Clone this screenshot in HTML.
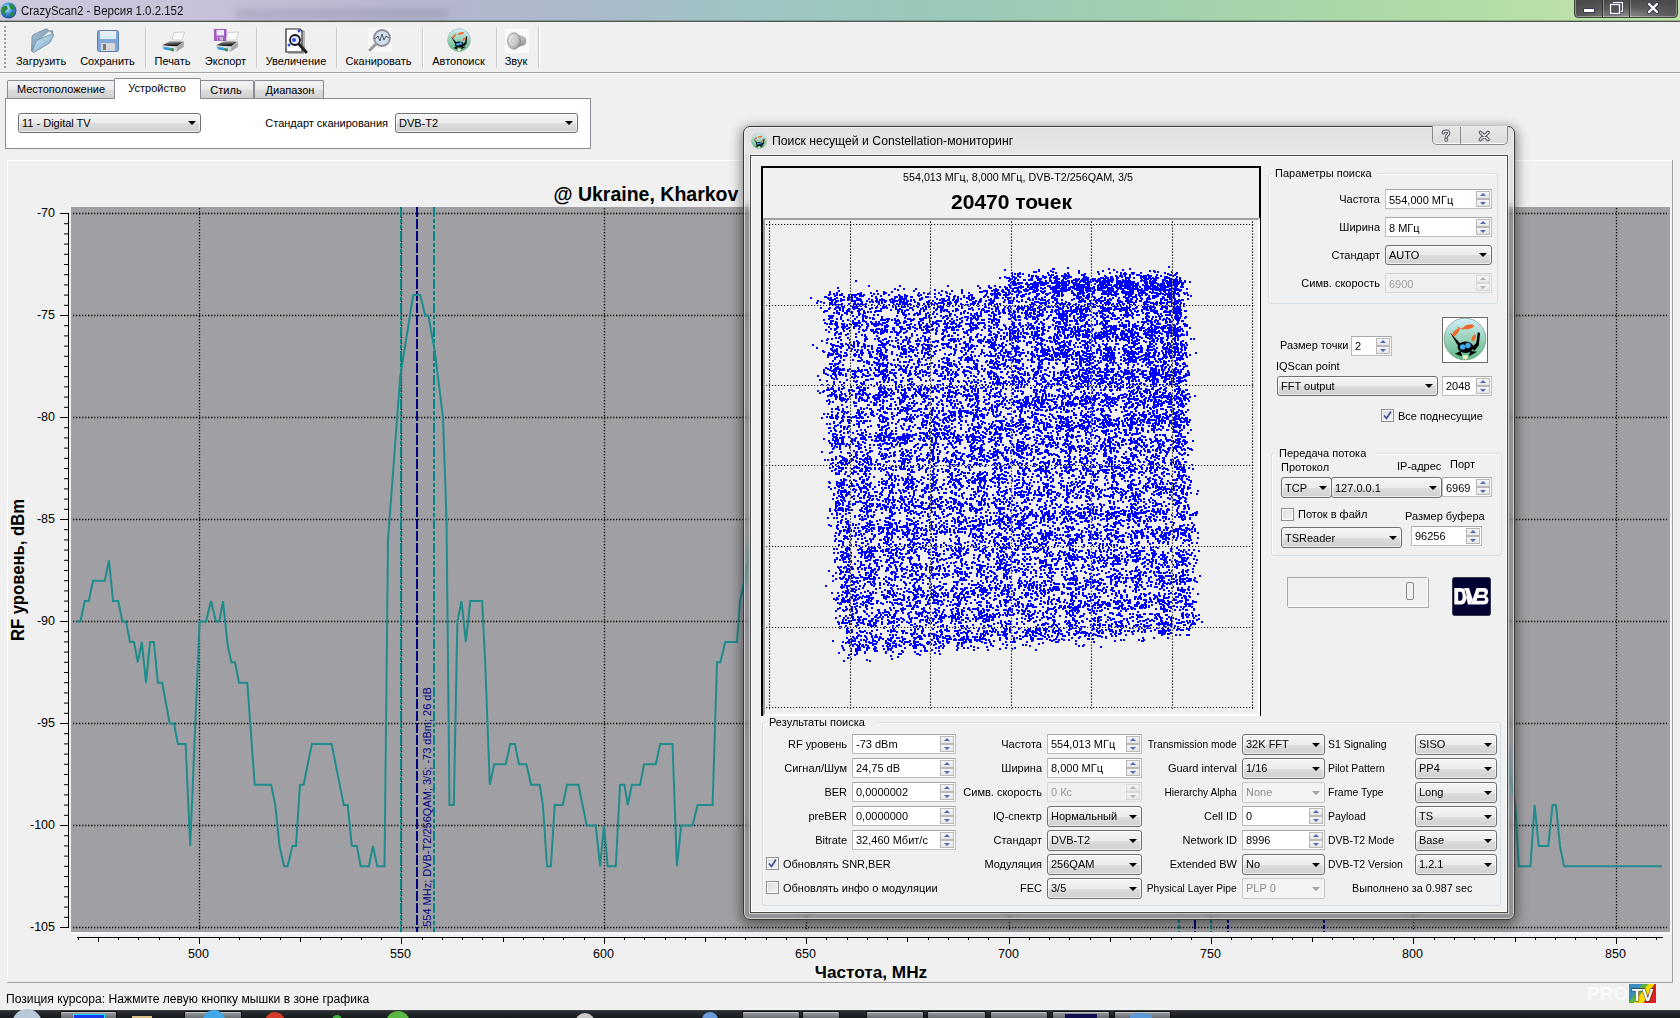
<!DOCTYPE html>
<html><head><meta charset="utf-8"><style>
html,body{margin:0;padding:0;}
body{width:1680px;height:1018px;position:relative;overflow:hidden;background:#f0f0f0;font-family:"Liberation Sans", sans-serif;}
.t{position:absolute;white-space:nowrap;font-family:"Liberation Sans", sans-serif;}
</style></head><body>
<div style="position:absolute;left:0;top:0;width:1680px;height:21px;background:linear-gradient(90deg,#cfc9de 0px,#c9c3da 180px,#b7b6cf 400px,#a9bac9 600px,#9ec5c4 760px,#98c9b9 950px,#a3d2ad 1200px,#b1dca6 1450px,#bfe2a8 1600px,#c2e3ab 1680px);"></div>
<div style="position:absolute;left:236px;top:9px;width:212px;height:10px;background:rgba(120,120,150,0.25);filter:blur(3px);"></div>
<svg style="position:absolute;left:0;top:2px" width="17" height="17" viewBox="0 0 17 17">
<defs><radialGradient id="glb" cx="0.4" cy="0.35" r="0.7"><stop offset="0" stop-color="#c8ecff"/><stop offset="0.5" stop-color="#3a90d8"/><stop offset="1" stop-color="#1a4a8a"/></radialGradient></defs>
<circle cx="8.5" cy="8.5" r="8" fill="url(#glb)"/>
<path d="M2 6 Q4 3 7 4 L8 7 L5 9 L6 13 L3 12 Q1 9 2 6 Z M9 2 Q13 2 15 6 L12 8 L10 6 Z M10 11 L14 10 Q14 14 11 15 Z" fill="#2a8a3a"/>
</svg>
<div class="t" style="top:4.84px;font-size:12px;line-height:12px;color:#101010;left:21px;transform:scaleX(0.955);transform-origin:left;">CrazyScan2 - Версия 1.0.2.152</div>
<div style="position:absolute;left:0;top:20px;width:1680px;height:1px;background:rgba(60,80,60,0.35);"></div>
<div style="position:absolute;left:0;top:21px;width:1680px;height:1px;background:#505850;"></div>
<svg style="position:absolute;left:1574px;top:0" width="104" height="20" viewBox="0 0 104 20">
<defs><radialGradient id="wbg" cx="0.5" cy="0.9" r="0.8"><stop offset="0" stop-color="#8a8a8a"/><stop offset="0.5" stop-color="#5a5a5a"/><stop offset="1" stop-color="#4a4a4a"/></radialGradient></defs>
<path d="M0.5 -2 V14 Q0.5 17.5 4 17.5 H100 Q103.5 17.5 103.5 14 V-2 Z" fill="url(#wbg)" stroke="#3a4a3a" stroke-width="1"/>
<path d="M1.5 -2 V14 Q1.5 16.5 4 16.5 H100 Q102.5 16.5 102.5 14 V-2" fill="none" stroke="rgba(255,255,255,0.35)" stroke-width="1"/>
<line x1="28.5" y1="0" x2="28.5" y2="17" stroke="#333" stroke-width="1"/><line x1="29.5" y1="0" x2="29.5" y2="17" stroke="rgba(255,255,255,0.3)" stroke-width="1"/>
<line x1="55.5" y1="0" x2="55.5" y2="17" stroke="#333" stroke-width="1"/><line x1="56.5" y1="0" x2="56.5" y2="17" stroke="rgba(255,255,255,0.3)" stroke-width="1"/>
<rect x="9.5" y="8.5" width="11" height="4" fill="#fff" stroke="#3a3a5a" stroke-width="1"/>
<rect x="39.5" y="2.5" width="9" height="9" fill="none" stroke="#3a3a5a" stroke-width="2.6"/><rect x="39.5" y="2.5" width="9" height="9" fill="none" stroke="#fff" stroke-width="1.2"/>
<rect x="36.5" y="4.5" width="9" height="9" fill="#555" stroke="#3a3a5a" stroke-width="2.6"/><rect x="36.5" y="4.5" width="9" height="9" fill="none" stroke="#fff" stroke-width="1.4"/>
<path d="M75 4 L83 12 M83 4 L75 12" stroke="#3a3a5a" stroke-width="4.4" stroke-linecap="round"/>
<path d="M75 4 L83 12 M83 4 L75 12" stroke="#fff" stroke-width="2.4" stroke-linecap="round"/>
</svg>
<div style="position:absolute;left:4px;top:26px;width:2px;height:43px;background:repeating-linear-gradient(180deg,#a0a0a0 0 2px,transparent 2px 4px);"></div>
<div style="position:absolute;left:145px;top:27px;width:1px;height:41px;background:#c8c8c8;border-right:1px solid #fff;"></div>
<div style="position:absolute;left:256px;top:27px;width:1px;height:41px;background:#c8c8c8;border-right:1px solid #fff;"></div>
<div style="position:absolute;left:336px;top:27px;width:1px;height:41px;background:#c8c8c8;border-right:1px solid #fff;"></div>
<div style="position:absolute;left:422px;top:27px;width:1px;height:41px;background:#c8c8c8;border-right:1px solid #fff;"></div>
<div style="position:absolute;left:496px;top:27px;width:1px;height:41px;background:#c8c8c8;border-right:1px solid #fff;"></div>
<div style="position:absolute;left:538px;top:27px;width:1px;height:41px;background:#c8c8c8;border-right:1px solid #fff;"></div>
<div class="t" style="top:55.69px;font-size:11px;line-height:11px;color:#000;left:41px;transform:translateX(-50%);">Загрузить</div>
<div class="t" style="top:55.69px;font-size:11px;line-height:11px;color:#000;left:107.5px;transform:translateX(-50%);">Сохранить</div>
<div class="t" style="top:55.69px;font-size:11px;line-height:11px;color:#000;left:172.5px;transform:translateX(-50%);">Печать</div>
<div class="t" style="top:55.69px;font-size:11px;line-height:11px;color:#000;left:225.5px;transform:translateX(-50%);">Экспорт</div>
<div class="t" style="top:55.69px;font-size:11px;line-height:11px;color:#000;left:296px;transform:translateX(-50%);">Увеличение</div>
<div class="t" style="top:55.69px;font-size:11px;line-height:11px;color:#000;left:378.5px;transform:translateX(-50%);">Сканировать</div>
<div class="t" style="top:55.69px;font-size:11px;line-height:11px;color:#000;left:458.5px;transform:translateX(-50%);">Автопоиск</div>
<div class="t" style="top:55.69px;font-size:11px;line-height:11px;color:#000;left:516px;transform:translateX(-50%);">Звук</div>
<div style="position:absolute;left:0px;top:72px;width:1680px;height:1px;background:#a0a0a0;"></div>
<div style="position:absolute;left:0px;top:73px;width:1680px;height:1px;background:#fff;"></div>
<svg style="position:absolute;left:30px;top:28px" width="25" height="25" viewBox="0 0 25 25">
<defs><linearGradient id="fg" x1="0" y1="0" x2="1" y2="1"><stop offset="0" stop-color="#d8ecf8"/><stop offset="0.6" stop-color="#9cc0d8"/><stop offset="1" stop-color="#6a94b0"/></linearGradient>
<linearGradient id="fb" x1="0" y1="0" x2="1" y2="1"><stop offset="0" stop-color="#a8c4d8"/><stop offset="1" stop-color="#6a8aa4"/></linearGradient></defs>
<path d="M1.5 22.5 L2 9 Q2.2 7 4 6.2 L15.5 1.2 Q17.5 0.4 18.5 2 L19.5 3.2 L21.5 2.6 Q23 2.4 22.8 4 L22 7 Z" fill="url(#fb)" stroke="#5f7f96" stroke-width="0.7"/>
<path d="M5 16 L19 3.5 L22 5.5 L8 18 Z" fill="#f4f4f4" stroke="#c8c8c8" stroke-width="0.4"/>
<path d="M2 23.5 L5.5 14.5 Q6.5 12.5 8.5 11.5 L21.5 6 Q24 5 23.6 7.5 L21 13 Q20 15 18 16 L4.5 24 Q2.5 25 2 23.5 Z" fill="url(#fg)" stroke="#5d7f99" stroke-width="0.7"/>
</svg>
<svg style="position:absolute;left:97px;top:30px" width="22" height="23" viewBox="0 0 22 23">
<rect x="0.5" y="0.5" width="21" height="21" rx="2" fill="#7fa6d8" stroke="#5a7db0"/>
<rect x="3" y="1" width="16" height="8" fill="#e6eef4"/><rect x="3" y="6" width="16" height="1.5" fill="#c8f0f4"/>
<rect x="4" y="13" width="14" height="8" fill="#d8d8d8"/><rect x="6" y="14" width="3" height="6" fill="#777"/>
</svg>
<svg style="position:absolute;left:161px;top:31px" width="26" height="22" viewBox="0 0 26 22">
<defs><linearGradient id="pg161" x1="0" y1="0" x2="0.3" y2="1"><stop offset="0" stop-color="#e8e8e8"/><stop offset="0.55" stop-color="#555"/><stop offset="1" stop-color="#0a0a0a"/></linearGradient></defs>
<path d="M11 9 L13 1.5 L23.5 1 L21 9 Z" fill="#fafafa" stroke="#b8b8b8" stroke-width="0.6"/>
<path d="M1 14.5 L9 10 L23 10.5 L16 15.5 Z" fill="url(#pg161)"/>
<path d="M1 14.5 L16 15.5 L15 21 L1.5 18.5 Z" fill="#d4d8dc"/>
<path d="M2 16 L8 16.5 L10 19.5 L3.5 18.5 Z" fill="#2a9ae0"/>
<path d="M8.5 17 L13 17.5 L12.5 20.5 L10 19.8 Z" fill="#2a8a50"/>
<path d="M16 15.5 L23 10.5 L23 15.5 L15 21 Z" fill="#b4babe"/>
<path d="M16.5 17 L22.5 12.5 M16.5 18.5 L22.5 14 M16 20 L22.5 15.5" stroke="#888" stroke-width="0.5"/>
</svg>
<svg style="position:absolute;left:214px;top:29px" width="13" height="12" viewBox="0 0 13 12"><rect x="0.5" y="0.5" width="11.5" height="11" fill="#a858c8" stroke="#9048b0" stroke-width="0.8"/><rect x="2.5" y="1" width="7.5" height="5.5" fill="#eaeaf4"/><rect x="3" y="8" width="6" height="3.5" fill="#c8b8d8"/><rect x="4" y="8.5" width="1.5" height="3" fill="#9048b0"/></svg>
<svg style="position:absolute;left:215px;top:31px" width="26" height="22" viewBox="0 0 26 22">
<defs><linearGradient id="pg215" x1="0" y1="0" x2="0.3" y2="1"><stop offset="0" stop-color="#e8e8e8"/><stop offset="0.55" stop-color="#555"/><stop offset="1" stop-color="#0a0a0a"/></linearGradient></defs>
<path d="M11 9 L13 1.5 L23.5 1 L21 9 Z" fill="#fafafa" stroke="#b8b8b8" stroke-width="0.6"/>
<path d="M1 14.5 L9 10 L23 10.5 L16 15.5 Z" fill="url(#pg215)"/>
<path d="M1 14.5 L16 15.5 L15 21 L1.5 18.5 Z" fill="#d4d8dc"/>
<path d="M2 16 L8 16.5 L10 19.5 L3.5 18.5 Z" fill="#2a9ae0"/>
<path d="M8.5 17 L13 17.5 L12.5 20.5 L10 19.8 Z" fill="#2a8a50"/>
<path d="M16 15.5 L23 10.5 L23 15.5 L15 21 Z" fill="#b4babe"/>
<path d="M16.5 17 L22.5 12.5 M16.5 18.5 L22.5 14 M16 20 L22.5 15.5" stroke="#888" stroke-width="0.5"/>
</svg>
<svg style="position:absolute;left:284px;top:28px" width="26" height="26" viewBox="0 0 26 26">
<path d="M2 1 L16 1 L18 3 L18 24 L2 24 Z" fill="#fff" stroke="#222" stroke-width="1.2"/>
<path d="M18 3 L20 3 L20 24 L4 24 L4 25 L20 25" fill="none" stroke="#777" stroke-width="1"/>
<circle cx="11" cy="12" r="5" fill="#dfe8ff" stroke="#111" stroke-width="1.8"/>
<circle cx="10" cy="12" r="2" fill="#3050e0"/><circle cx="5" cy="17" r="1.5" fill="#3050e0"/><circle cx="15" cy="3" r="1.5" fill="#3050e0"/>
<path d="M15 16 L22 24" stroke="#222" stroke-width="3" stroke-linecap="round"/>
</svg>
<svg style="position:absolute;left:368px;top:28px" width="24" height="24" viewBox="0 0 24 24">
<rect x="0" y="0" width="24" height="24" fill="#f8f8f8"/>
<circle cx="14" cy="10" r="8" fill="#cfe0ee" stroke="#8a8a98" stroke-width="1.8"/>
<path d="M7 11 L10 8 L12 13 L14 6 L16 12 L18 8 L21 10" fill="none" stroke="#333" stroke-width="0.8"/>
<path d="M8 16 L2 22" stroke="#999" stroke-width="3" stroke-linecap="round"/>
</svg>
<svg style="position:absolute;left:447px;top:28px" width="24" height="24" viewBox="0 0 24 24">
<defs><linearGradient id="cg447" x1="0" y1="0" x2="0" y2="1"><stop offset="0" stop-color="#d4eefc"/><stop offset="0.45" stop-color="#9ed4c0"/><stop offset="1" stop-color="#5cb884"/></linearGradient></defs>
<circle cx="12" cy="12" r="11.4" fill="url(#cg447)" stroke="#7a9a8a" stroke-width="0.4"/>
<ellipse cx="6.8" cy="8.6" rx="2.6" ry="1.1" transform="rotate(-50 6.8 8.6)" fill="#ee6a2a"/><path d="M7.8 5.2 L9.6 6.2 L8.6 7.2 Z" fill="#ee6a2a"/>
<ellipse cx="14" cy="5.4" rx="3" ry="1.2" transform="rotate(-12 14 5.4)" fill="#ee6a2a"/><path d="M9.5 6.6 L11.2 5.4 L11.4 7 Z" fill="#ee6a2a"/>
<ellipse cx="16.8" cy="11.3" rx="1" ry="1.9" transform="rotate(25 16.8 11.3)" fill="#ee6a2a"/>
<path d="M3.8 8.5 L9.5 14.6 L8.3 15.8 Z" fill="#000"/>
<path d="M19 8.2 L20.2 8.8 L19.5 15.5 L17 18.5 L15.8 16.5 L18.2 14 Z" fill="#000"/>
<ellipse cx="12.3" cy="16.5" rx="4.3" ry="3.1" fill="#000"/>
<path d="M6.5 20 L9.5 18.5 L10.5 21.5 Z M14 21.5 L15 18.5 L18.5 19 Z" fill="#000"/>
<circle cx="10.7" cy="16.3" r="1.5" fill="#44aaf0"/><circle cx="13.6" cy="15.6" r="1.5" fill="#44aaf0"/>
<path d="M10.5 20.8 L13.8 20.8 L13.2 23 L11 23 Z" fill="#f0f0c0"/>
</svg>
<svg style="position:absolute;left:505px;top:29px" width="24" height="24" viewBox="0 0 24 24">
<rect x="0" y="0" width="24" height="24" fill="#fafafa"/>
<defs><radialGradient id="spk" cx="0.35" cy="0.4" r="0.7"><stop offset="0" stop-color="#f4f4f4"/><stop offset="0.6" stop-color="#c4c4c4"/><stop offset="1" stop-color="#8c8c8c"/></radialGradient>
<linearGradient id="spc" x1="0" y1="0" x2="0" y2="1"><stop offset="0" stop-color="#d0d0d0"/><stop offset="1" stop-color="#8a8a8a"/></linearGradient></defs>
<path d="M9 5 L17 7.5 Q21 8 21 12 Q21 16 17 16.5 L9 19 Z" fill="url(#spc)" stroke="#8a8a8a" stroke-width="0.6"/>
<ellipse cx="9" cy="12" rx="6.5" ry="8.3" fill="url(#spk)" stroke="#8a8a8a" stroke-width="0.7"/>
<ellipse cx="8.5" cy="11.5" rx="2.2" ry="2.8" fill="#d8d8d8" stroke="#a8a8a8" stroke-width="0.5"/>
</svg>
<div style="position:absolute;left:7px;top:80px;width:106px;height:18px;background:linear-gradient(180deg,#f2f2f2 0%,#ebebeb 45%,#dddddd 50%,#cfcfcf 100%);border:1px solid #898c95;border-bottom:none;border-radius:2px 2px 0 0;"></div>
<div style="position:absolute;left:199px;top:80px;width:53px;height:18px;background:linear-gradient(180deg,#f2f2f2 0%,#ebebeb 45%,#dddddd 50%,#cfcfcf 100%);border:1px solid #898c95;border-bottom:none;border-radius:2px 2px 0 0;"></div>
<div style="position:absolute;left:254px;top:80px;width:68px;height:18px;background:linear-gradient(180deg,#f2f2f2 0%,#ebebeb 45%,#dddddd 50%,#cfcfcf 100%);border:1px solid #898c95;border-bottom:none;border-radius:2px 2px 0 0;"></div>
<div style="position:absolute;left:5px;top:98px;width:584px;height:49px;background:#fff;border:1px solid #898c95;z-index:1"></div>
<div style="position:absolute;left:114px;top:78px;width:85px;height:20px;background:#fff;border:1px solid #898c95;border-bottom:none;border-radius:2px 2px 0 0;z-index:2"></div>
<div class="t" style="top:83.69px;font-size:11px;line-height:11px;color:#000;left:61px;transform:translateX(-50%);z-index:3;">Местоположение</div>
<div class="t" style="top:82.69px;font-size:11px;line-height:11px;color:#000;left:157px;transform:translateX(-50%);z-index:3;">Устройство</div>
<div class="t" style="top:84.69px;font-size:11px;line-height:11px;color:#000;left:226px;transform:translateX(-50%);z-index:3;">Стиль</div>
<div class="t" style="top:84.69px;font-size:11px;line-height:11px;color:#000;left:290px;transform:translateX(-50%);z-index:3;">Диапазон</div>
<div style="position:absolute;left:18px;top:113px;width:181px;height:18px;border:1px solid #707070;border-radius:3px;background:linear-gradient(180deg,#f4f4f4 0%,#ececec 50%,#dddddd 51%,#d0d0d0 100%);box-shadow:inset 0 0 0 1px rgba(255,255,255,0.6);z-index:3"></div>
<div style="position:absolute;left:188px;top:121.0px;width:0;height:0;border-left:4px solid transparent;border-right:4px solid transparent;border-top:4px solid #000;z-index:3"></div>
<div class="t" style="top:117.69px;font-size:11px;line-height:11px;color:#000;left:22px;z-index:3;">11 - Digital TV</div>
<div class="t" style="top:117.69px;font-size:11px;line-height:11px;color:#000;right:1292px;z-index:3;">Стандарт сканирования</div>
<div style="position:absolute;left:395px;top:113px;width:181px;height:18px;border:1px solid #707070;border-radius:3px;background:linear-gradient(180deg,#f4f4f4 0%,#ececec 50%,#dddddd 51%,#d0d0d0 100%);box-shadow:inset 0 0 0 1px rgba(255,255,255,0.6);z-index:3"></div>
<div style="position:absolute;left:565px;top:121.0px;width:0;height:0;border-left:4px solid transparent;border-right:4px solid transparent;border-top:4px solid #000;z-index:3"></div>
<div class="t" style="top:117.69px;font-size:11px;line-height:11px;color:#000;left:399px;z-index:3;">DVB-T2</div>
<div class="t" style="top:992.84px;font-size:12px;line-height:12px;color:#000;left:6px;transform:scaleX(1.01);transform-origin:left;">Позиция курсора: Нажмите левую кнопку мышки в зоне графика</div>
<div style="position:absolute;left:0;top:1010px;width:1680px;height:8px;background:linear-gradient(180deg,#2a2e32 0,#141618 100%);border-top:1px solid #3c4044;"></div>
<div style="position:absolute;left:60px;top:1011px;width:55px;height:8px;background:linear-gradient(180deg,#9a9ea2,#5a5e62);border:1px solid #101010;border-bottom:none;border-radius:2px 2px 0 0;box-shadow:inset 0 1px 0 rgba(255,255,255,0.4)"></div>
<div style="position:absolute;left:184px;top:1011px;width:56px;height:8px;background:linear-gradient(180deg,#9a9ea2,#5a5e62);border:1px solid #101010;border-bottom:none;border-radius:2px 2px 0 0;box-shadow:inset 0 1px 0 rgba(255,255,255,0.4)"></div>
<div style="position:absolute;left:742px;top:1011px;width:56px;height:8px;background:linear-gradient(180deg,#9a9ea2,#5a5e62);border:1px solid #101010;border-bottom:none;border-radius:2px 2px 0 0;box-shadow:inset 0 1px 0 rgba(255,255,255,0.4)"></div>
<div style="position:absolute;left:802px;top:1011px;width:36px;height:8px;background:linear-gradient(180deg,#9a9ea2,#5a5e62);border:1px solid #101010;border-bottom:none;border-radius:2px 2px 0 0;box-shadow:inset 0 1px 0 rgba(255,255,255,0.4)"></div>
<div style="position:absolute;left:866px;top:1011px;width:56px;height:8px;background:linear-gradient(180deg,#9a9ea2,#5a5e62);border:1px solid #101010;border-bottom:none;border-radius:2px 2px 0 0;box-shadow:inset 0 1px 0 rgba(255,255,255,0.4)"></div>
<div style="position:absolute;left:927px;top:1011px;width:57px;height:8px;background:linear-gradient(180deg,#9a9ea2,#5a5e62);border:1px solid #101010;border-bottom:none;border-radius:2px 2px 0 0;box-shadow:inset 0 1px 0 rgba(255,255,255,0.4)"></div>
<div style="position:absolute;left:990px;top:1011px;width:56px;height:8px;background:linear-gradient(180deg,#9a9ea2,#5a5e62);border:1px solid #101010;border-bottom:none;border-radius:2px 2px 0 0;box-shadow:inset 0 1px 0 rgba(255,255,255,0.4)"></div>
<div style="position:absolute;left:1052px;top:1011px;width:56px;height:8px;background:linear-gradient(180deg,#9a9ea2,#5a5e62);border:1px solid #101010;border-bottom:none;border-radius:2px 2px 0 0;box-shadow:inset 0 1px 0 rgba(255,255,255,0.4)"></div>
<div style="position:absolute;left:1114px;top:1011px;width:55px;height:8px;background:linear-gradient(180deg,#9a9ea2,#5a5e62);border:1px solid #101010;border-bottom:none;border-radius:2px 2px 0 0;box-shadow:inset 0 1px 0 rgba(255,255,255,0.4)"></div>
<div style="position:absolute;left:12px;top:1009px;width:30px;height:30px;border-radius:50%;background:#b8c8d8;"></div>
<div style="position:absolute;left:203px;top:1010px;width:22px;height:22px;border-radius:50%;background:#40a8e8;"></div>
<div style="position:absolute;left:265px;top:1012px;width:20px;height:20px;border-radius:50%;background:#d83a2a;"></div>
<div style="position:absolute;left:332px;top:1015px;width:10px;height:10px;border-radius:50%;background:#40b040;"></div>
<div style="position:absolute;left:386px;top:1011px;width:24px;height:24px;border-radius:50%;background:#5ab840;"></div>
<div style="position:absolute;left:575px;top:1013px;width:20px;height:20px;border-radius:50%;background:#c8c8c8;"></div>
<div style="position:absolute;left:702px;top:1012px;width:16px;height:16px;border-radius:50%;background:#6a9ad8;"></div>
<div style="position:absolute;left:73px;top:1014px;width:30px;height:4px;background:#1a3af0;border:1px solid #20e0ff;"></div>
<div style="position:absolute;left:132px;top:1016px;width:20px;height:2px;background:#d8c088;"></div>
<div style="position:absolute;left:1065px;top:1014px;width:32px;height:4px;background:#101050;"></div>
<div style="position:absolute;left:1130px;top:1013px;width:22px;height:6px;border-radius:50% 50% 0 0;background:#5a9ad8;"></div>
<div class="t" style="left:1587px;top:985px;font-size:19px;line-height:18px;font-weight:bold;color:#fafafa;letter-spacing:0px;">PRO</div>
<svg style="position:absolute;left:1629px;top:983px" width="28" height="21" viewBox="0 0 28 21">
<defs><clipPath id="tvc"><rect x="0" y="1" width="27" height="19"/></clipPath></defs>
<g clip-path="url(#tvc)"><rect x="0" y="0" width="28" height="21" fill="#3a8ac0"/>
<path d="M-2 21 L14 0 L20 0 L4 21 Z" fill="#5ab040"/><path d="M4 21 L20 0 L26 0 L14 21 Z" fill="#f4d800"/><path d="M14 21 L26 0 L30 0 L30 21 Z" fill="#e02020"/></g>
<text x="13.5" y="17.5" text-anchor="middle" font-family="Liberation Sans" font-weight="bold" font-size="17" fill="#fff" stroke="#222" stroke-width="1" paint-order="stroke">TV</text>
</svg>
<svg style="position:absolute;left:0;top:0" width="1680" height="1018" viewBox="0 0 1680 1018"><rect x="7.5" y="160.5" width="1665" height="822" fill="none" stroke="#ffffff" stroke-width="1"/><path d="M1672.5 160 V982.5 H7" fill="none" stroke="#a0a0a0" stroke-width="1"/><rect x="71" y="207" width="1599" height="725" fill="#a0a0a4"/><path d="M1670.5 207 V933.5 H71" fill="none" stroke="#ffffff" stroke-width="1"/><line x1="73" y1="213.5" x2="1667" y2="213.5" stroke="#000" stroke-width="1.3" stroke-dasharray="1.3 1.7"/><line x1="73" y1="315.5" x2="1667" y2="315.5" stroke="#000" stroke-width="1.3" stroke-dasharray="1.3 1.7"/><line x1="73" y1="417.5" x2="1667" y2="417.5" stroke="#000" stroke-width="1.3" stroke-dasharray="1.3 1.7"/><line x1="73" y1="519.5" x2="1667" y2="519.5" stroke="#000" stroke-width="1.3" stroke-dasharray="1.3 1.7"/><line x1="73" y1="621.5" x2="1667" y2="621.5" stroke="#000" stroke-width="1.3" stroke-dasharray="1.3 1.7"/><line x1="73" y1="723.5" x2="1667" y2="723.5" stroke="#000" stroke-width="1.3" stroke-dasharray="1.3 1.7"/><line x1="73" y1="825.5" x2="1667" y2="825.5" stroke="#000" stroke-width="1.3" stroke-dasharray="1.3 1.7"/><line x1="73" y1="927.5" x2="1667" y2="927.5" stroke="#000" stroke-width="1.3" stroke-dasharray="1.3 1.7"/><line x1="199.5" y1="208" x2="199.5" y2="931" stroke="#000" stroke-width="1.3" stroke-dasharray="1.3 1.7"/><line x1="401.5" y1="208" x2="401.5" y2="931" stroke="#000" stroke-width="1.3" stroke-dasharray="1.3 1.7"/><line x1="604.5" y1="208" x2="604.5" y2="931" stroke="#000" stroke-width="1.3" stroke-dasharray="1.3 1.7"/><line x1="806.5" y1="208" x2="806.5" y2="931" stroke="#000" stroke-width="1.3" stroke-dasharray="1.3 1.7"/><line x1="1009.5" y1="208" x2="1009.5" y2="931" stroke="#000" stroke-width="1.3" stroke-dasharray="1.3 1.7"/><line x1="1211.5" y1="208" x2="1211.5" y2="931" stroke="#000" stroke-width="1.3" stroke-dasharray="1.3 1.7"/><line x1="1413.5" y1="208" x2="1413.5" y2="931" stroke="#000" stroke-width="1.3" stroke-dasharray="1.3 1.7"/><line x1="1616.5" y1="208" x2="1616.5" y2="931" stroke="#000" stroke-width="1.3" stroke-dasharray="1.3 1.7"/><line x1="68.5" y1="213" x2="68.5" y2="928" stroke="#000" stroke-width="1"/><path d="M60 213.5H68 M64 223.7H68 M64 233.9H68 M64 244.1H68 M64 254.3H68 M64 264.5H68 M64 274.7H68 M64 284.9H68 M64 295.1H68 M64 305.3H68 M60 315.5H68 M64 325.7H68 M64 335.9H68 M64 346.1H68 M64 356.3H68 M64 366.5H68 M64 376.7H68 M64 386.9H68 M64 397.1H68 M64 407.3H68 M60 417.5H68 M64 427.7H68 M64 437.9H68 M64 448.1H68 M64 458.3H68 M64 468.5H68 M64 478.7H68 M64 488.9H68 M64 499.1H68 M64 509.3H68 M60 519.5H68 M64 529.7H68 M64 539.9H68 M64 550.1H68 M64 560.3H68 M64 570.5H68 M64 580.7H68 M64 590.9H68 M64 601.1H68 M64 611.3H68 M60 621.5H68 M64 631.7H68 M64 641.9H68 M64 652.1H68 M64 662.3H68 M64 672.5H68 M64 682.7H68 M64 692.9H68 M64 703.1H68 M64 713.3H68 M60 723.5H68 M64 733.7H68 M64 743.9H68 M64 754.1H68 M64 764.3H68 M64 774.5H68 M64 784.7H68 M64 794.9H68 M64 805.1H68 M64 815.3H68 M60 825.5H68 M64 835.7H68 M64 845.9H68 M64 856.1H68 M64 866.3H68 M64 876.5H68 M64 886.7H68 M64 896.9H68 M64 907.1H68 M64 917.3H68 M60 927.5H68" stroke="#000" stroke-width="1"/><line x1="77" y1="937.5" x2="1663" y2="937.5" stroke="#000" stroke-width="1"/><path d="M78.5 937V940 M98.5 937V942 M118.5 937V940 M138.5 937V940 M159.5 937V940 M179.5 937V940 M199.5 937V944 M219.5 937V940 M239.5 937V940 M260.5 937V940 M280.5 937V940 M300.5 937V942 M320.5 937V940 M341.5 937V940 M361.5 937V940 M381.5 937V940 M401.5 937V944 M422.5 937V940 M442.5 937V940 M462.5 937V940 M482.5 937V940 M503.5 937V942 M523.5 937V940 M543.5 937V940 M563.5 937V940 M584.5 937V940 M604.5 937V944 M624.5 937V940 M644.5 937V940 M665.5 937V940 M685.5 937V940 M705.5 937V942 M725.5 937V940 M745.5 937V940 M766.5 937V940 M786.5 937V940 M806.5 937V944 M826.5 937V940 M847.5 937V940 M867.5 937V940 M887.5 937V940 M907.5 937V942 M928.5 937V940 M948.5 937V940 M968.5 937V940 M988.5 937V940 M1009.5 937V944 M1029.5 937V940 M1049.5 937V940 M1069.5 937V940 M1090.5 937V940 M1110.5 937V942 M1130.5 937V940 M1150.5 937V940 M1171.5 937V940 M1191.5 937V940 M1211.5 937V944 M1231.5 937V940 M1251.5 937V940 M1272.5 937V940 M1292.5 937V940 M1312.5 937V942 M1332.5 937V940 M1353.5 937V940 M1373.5 937V940 M1393.5 937V940 M1413.5 937V944 M1434.5 937V940 M1454.5 937V940 M1474.5 937V940 M1494.5 937V940 M1515.5 937V942 M1535.5 937V940 M1555.5 937V940 M1575.5 937V940 M1596.5 937V940 M1616.5 937V944 M1636.5 937V940 M1656.5 937V940" stroke="#000" stroke-width="1"/><line x1="401" y1="207" x2="401" y2="932" stroke="#008888" stroke-width="2" stroke-dasharray="10 2 4 2 4 2"/><line x1="434" y1="207" x2="434" y2="932" stroke="#008888" stroke-width="2" stroke-dasharray="10 2 4 2 4 2"/><line x1="417" y1="207" x2="417" y2="932" stroke="#000080" stroke-width="2" stroke-dasharray="10 2"/><polyline points="76.5,621.5 80.4,621.5 84.8,601.1 88.8,601.1 93.0,580.7 104.8,580.7 109.0,560.3 113.0,601.1 118.2,601.1 122.4,621.5 126.0,621.5 130.0,641.9 134.0,641.9 137.8,662.3 141.8,641.9 146.0,682.7 150.0,641.9 153.9,641.9 157.8,682.7 162.2,682.7 169.7,723.5 174.0,723.5 177.9,743.9 185.6,743.9 190.2,845.9 199.6,621.5 206.0,621.5 211.0,601.1 216.0,621.5 219.3,621.5 223.0,601.1 227.8,646.0 231.4,662.3 235.0,662.3 239.0,682.7 247.3,682.7 254.7,784.7 271.2,784.7 275.3,805.1 279.5,845.9 284.1,866.3 287.7,866.3 292.4,845.9 296.0,845.9 300.0,784.7 303.6,784.7 311.9,743.9 331.6,743.9 343.8,805.1 347.7,805.1 351.8,845.9 356.8,845.9 360.7,866.3 368.9,866.3 372.9,845.9 377.2,866.3 384.5,866.3 388.0,539.9 400.2,376.7 413.2,295.1 420.3,295.1 425.2,315.5 428.4,315.5 434.9,352.2 443.0,417.5 446.5,519.5 449.5,805.1 453.8,805.1 457.4,621.5 461.5,601.1 465.9,641.9 470.3,601.1 482.1,601.1 485.1,660.3 489.8,784.7 494.2,764.3 505.7,764.3 510.2,743.9 514.9,743.9 519.0,764.3 526.4,764.3 531.1,784.7 539.7,784.7 542.9,805.1 547.0,866.3 550.9,866.3 554.7,805.1 562.7,805.1 567.0,784.7 578.4,784.7 586.7,825.5 595.7,825.5 600.1,866.3 604.0,825.5 607.7,866.3 615.8,866.3 620.0,784.7 624.4,784.7 627.8,805.1 631.8,784.7 640.1,784.7 644.1,764.3 655.8,764.3 660.2,743.9 672.5,743.9 676.9,866.3 681.2,825.5 692.5,825.5 697.6,805.1 712.6,805.1 717.0,662.3 720.3,662.3 725.3,641.9 737.0,641.9 740.0,601.1 744.0,582.7 752.0,539.9" fill="none" stroke="#1e8c8c" stroke-width="2" stroke-linejoin="miter"/><polyline points="1505.0,743.9 1515.3,805.1 1518.8,866.3 1530.4,866.3 1534.6,805.1 1538.7,845.9 1548.3,845.9 1552.5,805.1 1555.9,805.1 1560.0,845.9 1564.1,866.3 1661.8,866.3" fill="none" stroke="#1e8c8c" stroke-width="2" stroke-linejoin="miter"/></svg>
<div class="t" style="top:207.42px;font-size:12.5px;line-height:12.5px;color:#000;right:1625px;">-70</div>
<div class="t" style="top:309.42px;font-size:12.5px;line-height:12.5px;color:#000;right:1625px;">-75</div>
<div class="t" style="top:411.42px;font-size:12.5px;line-height:12.5px;color:#000;right:1625px;">-80</div>
<div class="t" style="top:513.42px;font-size:12.5px;line-height:12.5px;color:#000;right:1625px;">-85</div>
<div class="t" style="top:615.42px;font-size:12.5px;line-height:12.5px;color:#000;right:1625px;">-90</div>
<div class="t" style="top:717.42px;font-size:12.5px;line-height:12.5px;color:#000;right:1625px;">-95</div>
<div class="t" style="top:819.42px;font-size:12.5px;line-height:12.5px;color:#000;right:1625px;">-100</div>
<div class="t" style="top:921.42px;font-size:12.5px;line-height:12.5px;color:#000;right:1625px;">-105</div>
<div class="t" style="top:948.42px;font-size:12.5px;line-height:12.5px;color:#000;left:198.5px;transform:translateX(-50%);">500</div>
<div class="t" style="top:948.42px;font-size:12.5px;line-height:12.5px;color:#000;left:400.5px;transform:translateX(-50%);">550</div>
<div class="t" style="top:948.42px;font-size:12.5px;line-height:12.5px;color:#000;left:603.5px;transform:translateX(-50%);">600</div>
<div class="t" style="top:948.42px;font-size:12.5px;line-height:12.5px;color:#000;left:805.5px;transform:translateX(-50%);">650</div>
<div class="t" style="top:948.42px;font-size:12.5px;line-height:12.5px;color:#000;left:1008.5px;transform:translateX(-50%);">700</div>
<div class="t" style="top:948.42px;font-size:12.5px;line-height:12.5px;color:#000;left:1210.5px;transform:translateX(-50%);">750</div>
<div class="t" style="top:948.42px;font-size:12.5px;line-height:12.5px;color:#000;left:1412.5px;transform:translateX(-50%);">800</div>
<div class="t" style="top:948.42px;font-size:12.5px;line-height:12.5px;color:#000;left:1615.5px;transform:translateX(-50%);">850</div>
<div class="t" style="top:185.49px;font-size:19.5px;line-height:19.5px;color:#000;font-weight:bold;left:553.5px;">@ Ukraine, Kharkov</div>
<div class="t" style="top:965.46px;font-size:16px;line-height:16px;color:#000;font-weight:bold;left:870.5px;transform:translateX(-50%) scaleX(1.075);">Частота, MHz</div>
<div class="t" style="left:18px;top:570px;font-size:17.5px;line-height:18px;font-weight:bold;transform:translate(-50%,-50%) rotate(-90deg) scaleX(0.952);">RF уровень, dBm</div>
<div class="t" style="left:427px;top:807px;font-size:11px;line-height:11px;color:#000080;transform:translate(-50%,-50%) rotate(-90deg);">554 MHz; DVB-T2/256QAM; 3/5; -73 dBm; 26 dB</div>
<svg style="position:absolute;left:0;top:0;z-index:8" width="1680" height="1018"><g stroke-width="2">
<line x1="1179" y1="919" x2="1179" y2="932" stroke="#008888" stroke-dasharray="4 2"/>
<line x1="1195" y1="919" x2="1195" y2="932" stroke="#000080" stroke-dasharray="10 2"/>
<line x1="1211" y1="919" x2="1211" y2="932" stroke="#008888" stroke-dasharray="4 2"/>
<line x1="1228" y1="919" x2="1228" y2="932" stroke="#000080" stroke-dasharray="4 2"/>
<line x1="1324" y1="919" x2="1324" y2="932" stroke="#000080" stroke-dasharray="4 2"/>
</g></svg>
<div style="position:absolute;left:743px;top:126px;width:772px;height:794px;border-radius:7px;box-shadow:0 3px 12px 2px rgba(0,0,0,0.45);z-index:9"></div>
<div style="position:absolute;left:743px;top:126px;width:770px;height:792px;border:1px solid #3a3a3a;border-radius:7px;background:rgba(0,0,0,0.07);backdrop-filter:blur(4px);box-shadow:inset 0 0 0 1px rgba(255,255,255,0.55);z-index:10"></div>
<div style="position:absolute;left:745px;top:128px;width:768px;height:26px;border-radius:6px 6px 0 0;background:linear-gradient(180deg,rgba(255,255,255,0.05),rgba(255,255,255,0.25));z-index:10"></div>
<div style="position:absolute;left:1432px;top:126px;width:74px;height:18px;border:1px solid #8c8c8c;border-top:none;border-radius:0 0 5px 5px;background:linear-gradient(180deg,#e8e8e8,#dcdcdc);box-shadow:inset 0 -1px 0 #fff;z-index:11"></div>
<div style="position:absolute;left:1460px;top:127px;width:1px;height:18px;background:#8c8c8c;z-index:11"></div>
<svg style="position:absolute;left:1432px;top:126px;z-index:12" width="76" height="20" viewBox="0 0 76 20">
<path d="M11.3 7 C11.3 4.6 16.7 4.6 16.7 7 C16.7 9 14.2 9 14.2 11.2" fill="none" stroke="#4a4a5a" stroke-width="3.2" stroke-linecap="round"/>
<path d="M11.3 7 C11.3 4.6 16.7 4.6 16.7 7 C16.7 9 14.2 9 14.2 11.2" fill="none" stroke="#f6f6f6" stroke-width="1.3" stroke-linecap="round"/>
<circle cx="14.2" cy="13.8" r="1.5" fill="#f6f6f6" stroke="#4a4a5a" stroke-width="1"/>
<path d="M48.5 6.5 L56 13.5 M56 6.5 L48.5 13.5" stroke="#4a4a5a" stroke-width="3.6" stroke-linecap="round"/>
<path d="M48.5 6.5 L56 13.5 M56 6.5 L48.5 13.5" stroke="#f6f6f6" stroke-width="1.6" stroke-linecap="round"/>
</svg>
<svg style="position:absolute;z-index:11;left:751px;top:133px" width="16" height="16" viewBox="0 0 24 24">
<defs><linearGradient id="cg751" x1="0" y1="0" x2="0" y2="1"><stop offset="0" stop-color="#d4eefc"/><stop offset="0.45" stop-color="#9ed4c0"/><stop offset="1" stop-color="#5cb884"/></linearGradient></defs>
<circle cx="12" cy="12" r="11.4" fill="url(#cg751)" stroke="#7a9a8a" stroke-width="0.4"/>
<ellipse cx="6.8" cy="8.6" rx="2.6" ry="1.1" transform="rotate(-50 6.8 8.6)" fill="#ee6a2a"/><path d="M7.8 5.2 L9.6 6.2 L8.6 7.2 Z" fill="#ee6a2a"/>
<ellipse cx="14" cy="5.4" rx="3" ry="1.2" transform="rotate(-12 14 5.4)" fill="#ee6a2a"/><path d="M9.5 6.6 L11.2 5.4 L11.4 7 Z" fill="#ee6a2a"/>
<ellipse cx="16.8" cy="11.3" rx="1" ry="1.9" transform="rotate(25 16.8 11.3)" fill="#ee6a2a"/>
<path d="M3.8 8.5 L9.5 14.6 L8.3 15.8 Z" fill="#000"/>
<path d="M19 8.2 L20.2 8.8 L19.5 15.5 L17 18.5 L15.8 16.5 L18.2 14 Z" fill="#000"/>
<ellipse cx="12.3" cy="16.5" rx="4.3" ry="3.1" fill="#000"/>
<path d="M6.5 20 L9.5 18.5 L10.5 21.5 Z M14 21.5 L15 18.5 L18.5 19 Z" fill="#000"/>
<circle cx="10.7" cy="16.3" r="1.5" fill="#44aaf0"/><circle cx="13.6" cy="15.6" r="1.5" fill="#44aaf0"/>
<path d="M10.5 20.8 L13.8 20.8 L13.2 23 L11 23 Z" fill="#f0f0c0"/>
</svg>
<div class="t" style="top:134.84px;font-size:12px;line-height:12px;color:#000;left:772px;transform:scaleX(1.02);transform-origin:left;z-index:11;">Поиск несущей и Constellation-мониторинг</div>
<div style="position:absolute;left:750px;top:155px;width:756px;height:756px;border:1px solid #4a4a4a;background:#f0f0f0;box-shadow:inset 0 0 0 1px #fff, 0 0 0 1px rgba(255,255,255,0.5);z-index:10"></div>
<div style="position:absolute;left:761px;top:166px;width:496px;height:546px;border:2px solid #000;background:#f0f0f0;z-index:11"></div>
<div style="position:absolute;left:763px;top:218px;width:493px;height:494px;border-top:2px solid #a0a0a0;border-left:2px solid #a0a0a0;border-right:2px solid #fff;border-bottom:2px solid #fff;z-index:11"></div>
<div class="t" style="top:171.69px;font-size:11px;line-height:11px;color:#000;left:1017.5px;transform:translateX(-50%) scaleX(0.977);z-index:12;">554,013 МГц, 8,000 МГц, DVB-T2/256QAM, 3/5</div>
<div class="t" style="top:191.22px;font-size:21px;line-height:21px;color:#000;font-weight:bold;left:1011.5px;transform:translateX(-50%);z-index:12;">20470 точек</div>
<svg style="position:absolute;left:0;top:0;z-index:12" width="1680" height="1018" viewBox="0 0 1680 1018"><path d="M0 0m1168 266h2v2h-2zm-101 1h2v2h-2zm-15 1h2v2h-2zm1 0h2v2h-2zm55 0h2v2h-2zm21 0h2v2h-2zm-125 1h2v2h-2zm34 0h2v2h-2zm75 0h2v2h-2zm9 0h2v2h-2zm-84 1h2v2h-2zm12 0h2v2h-2zm28 0h2v2h-2zm24 0h2v2h-2zm47 0h2v2h-2zm4 0h2v2h-2zm-120 1h2v2h-2zm2 0h2v2h-2zm17 0h2v2h-2zm45 0h2v2h-2zm19 0h2v2h-2zm38 0h2v2h-2zm3 0h2v2h-2zm14 0h2v2h-2zm-160 1h2v2h-2zm8 0h2v2h-2zm28 0h2v2h-2zm8 0h2v2h-2zm12 0h2v2h-2zm11 0h2v2h-2zm31 0h2v2h-2zm11 0h2v2h-2zm4 0h2v2h-2zm7 0h2v2h-2zm2 0h2v2h-2zm7 0h2v2h-2zm24 0h2v2h-2zm12 0h2v2h-2zm-162 1h2v2h-2zm3 0h2v2h-2zm2 0h2v2h-2zm3 0h2v2h-2zm42 0h2v2h-2zm20 0h2v2h-2zm14 0h2v2h-2zm25 0h2v2h-2zm1 0h2v2h-2zm1 0h2v2h-2zm7 0h2v2h-2zm35 0h2v2h-2zm8 0h2v2h-2zm-164 1h2v2h-2zm17 0h2v2h-2zm20 0h2v2h-2zm3 0h2v2h-2zm1 0h2v2h-2zm12 0h2v2h-2zm1 0h2v2h-2zm3 0h2v2h-2zm13 0h2v2h-2zm2 0h2v2h-2zm37 0h2v2h-2zm9 0h2v2h-2zm7 0h2v2h-2zm2 0h2v2h-2zm9 0h2v2h-2zm9 0h2v2h-2zm13 0h2v2h-2zm2 0h2v2h-2zm3 0h2v2h-2zm-157 1h2v2h-2zm11 0h2v2h-2zm3 0h2v2h-2zm1 0h2v2h-2zm3 0h2v2h-2zm7 0h2v2h-2zm8 0h2v2h-2zm6 0h2v2h-2zm5 0h2v2h-2zm2 0h2v2h-2zm3 0h2v2h-2zm1 0h2v2h-2zm16 0h2v2h-2zm21 0h2v2h-2zm11 0h2v2h-2zm4 0h2v2h-2zm2 0h2v2h-2zm3 0h2v2h-2zm16 0h2v2h-2zm3 0h2v2h-2zm2 0h2v2h-2zm3 0h2v2h-2zm2 0h2v2h-2zm10 0h2v2h-2zm12 0h2v2h-2zm-168 1h2v2h-2zm8 0h2v2h-2zm1 0h2v2h-2zm6 0h2v2h-2zm18 0h2v2h-2zm5 0h2v2h-2zm1 0h2v2h-2zm2 0h2v2h-2zm5 0h2v2h-2zm4 0h2v2h-2zm9 0h2v2h-2zm1 0h2v2h-2zm4 0h2v2h-2zm2 0h2v2h-2zm15 0h2v2h-2zm20 0h2v2h-2zm5 0h2v2h-2zm1 0h2v2h-2zm5 0h2v2h-2zm5 0h2v2h-2zm8 0h2v2h-2zm13 0h2v2h-2zm3 0h2v2h-2zm3 0h2v2h-2zm7 0h2v2h-2zm9 0h2v2h-2zm2 0h2v2h-2zm10 0h2v2h-2zm-177 1h2v2h-2zm7 0h2v2h-2zm2 0h2v2h-2zm7 0h2v2h-2zm16 0h2v2h-2zm5 0h2v2h-2zm1 0h2v2h-2zm7 0h2v2h-2zm5 0h2v2h-2zm4 0h2v2h-2zm3 0h2v2h-2zm7 0h2v2h-2zm4 0h2v2h-2zm16 0h2v2h-2zm1 0h2v2h-2zm1 0h2v2h-2zm2 0h2v2h-2zm13 0h2v2h-2zm1 0h2v2h-2zm1 0h2v2h-2zm3 0h2v2h-2zm1 0h2v2h-2zm1 0h2v2h-2zm3 0h2v2h-2zm7 0h2v2h-2zm8 0h2v2h-2zm1 0h2v2h-2zm1 0h2v2h-2zm6 0h2v2h-2zm7 0h2v2h-2zm3 0h2v2h-2zm6 0h2v2h-2zm3 0h2v2h-2zm5 0h2v2h-2zm8 0h2v2h-2zm1 0h2v2h-2zm1 0h2v2h-2zm1 0h2v2h-2zm11 0h2v2h-2zm-170 1h2v2h-2zm2 0h2v2h-2zm3 0h2v2h-2zm16 0h2v2h-2zm7 0h2v2h-2zm1 0h2v2h-2zm1 0h2v2h-2zm1 0h2v2h-2zm15 0h2v2h-2zm2 0h2v2h-2zm1 0h2v2h-2zm7 0h2v2h-2zm10 0h2v2h-2zm3 0h2v2h-2zm4 0h2v2h-2zm1 0h2v2h-2zm1 0h2v2h-2zm8 0h2v2h-2zm2 0h2v2h-2zm4 0h2v2h-2zm5 0h2v2h-2zm1 0h2v2h-2zm3 0h2v2h-2zm4 0h2v2h-2zm1 0h2v2h-2zm4 0h2v2h-2zm12 0h2v2h-2zm16 0h2v2h-2zm2 0h2v2h-2zm1 0h2v2h-2zm3 0h2v2h-2zm3 0h2v2h-2zm2 0h2v2h-2zm9 0h2v2h-2zm5 0h2v2h-2zm1 0h2v2h-2zm5 0h2v2h-2zm-165 1h2v2h-2zm7 0h2v2h-2zm6 0h2v2h-2zm1 0h2v2h-2zm4 0h2v2h-2zm2 0h2v2h-2zm1 0h2v2h-2zm6 0h2v2h-2zm2 0h2v2h-2zm10 0h2v2h-2zm13 0h2v2h-2zm11 0h2v2h-2zm1 0h2v2h-2zm3 0h2v2h-2zm4 0h2v2h-2zm5 0h2v2h-2zm1 0h2v2h-2zm3 0h2v2h-2zm1 0h2v2h-2zm3 0h2v2h-2zm3 0h2v2h-2zm2 0h2v2h-2zm4 0h2v2h-2zm1 0h2v2h-2zm3 0h2v2h-2zm2 0h2v2h-2zm3 0h2v2h-2zm10 0h2v2h-2zm3 0h2v2h-2zm16 0h2v2h-2zm4 0h2v2h-2zm10 0h2v2h-2zm7 0h2v2h-2zm2 0h2v2h-2zm5 0h2v2h-2zm3 0h2v2h-2zm1 0h2v2h-2zm3 0h2v2h-2zm3 0h2v2h-2zm-324 1h2v2h-2zm153 0h2v2h-2zm5 0h2v2h-2zm26 0h2v2h-2zm6 0h2v2h-2zm4 0h2v2h-2zm1 0h2v2h-2zm4 0h2v2h-2zm2 0h2v2h-2zm5 0h2v2h-2zm6 0h2v2h-2zm1 0h2v2h-2zm3 0h2v2h-2zm5 0h2v2h-2zm4 0h2v2h-2zm2 0h2v2h-2zm1 0h2v2h-2zm1 0h2v2h-2zm3 0h2v2h-2zm5 0h2v2h-2zm3 0h2v2h-2zm3 0h2v2h-2zm4 0h2v2h-2zm1 0h2v2h-2zm1 0h2v2h-2zm1 0h2v2h-2zm5 0h2v2h-2zm1 0h2v2h-2zm5 0h2v2h-2zm2 0h2v2h-2zm1 0h2v2h-2zm5 0h2v2h-2zm1 0h2v2h-2zm1 0h2v2h-2zm1 0h2v2h-2zm2 0h2v2h-2zm11 0h2v2h-2zm3 0h2v2h-2zm2 0h2v2h-2zm4 0h2v2h-2zm3 0h2v2h-2zm1 0h2v2h-2zm1 0h2v2h-2zm11 0h2v2h-2zm1 0h2v2h-2zm3 0h2v2h-2zm2 0h2v2h-2zm1 0h2v2h-2zm1 0h2v2h-2zm1 0h2v2h-2zm6 0h2v2h-2zm4 0h2v2h-2zm-173 1h2v2h-2zm2 0h2v2h-2zm1 0h2v2h-2zm20 0h2v2h-2zm7 0h2v2h-2zm17 0h2v2h-2zm4 0h2v2h-2zm2 0h2v2h-2zm1 0h2v2h-2zm6 0h2v2h-2zm4 0h2v2h-2zm4 0h2v2h-2zm4 0h2v2h-2zm1 0h2v2h-2zm5 0h2v2h-2zm7 0h2v2h-2zm3 0h2v2h-2zm2 0h2v2h-2zm4 0h2v2h-2zm1 0h2v2h-2zm1 0h2v2h-2zm1 0h2v2h-2zm3 0h2v2h-2zm10 0h2v2h-2zm1 0h2v2h-2zm2 0h2v2h-2zm4 0h2v2h-2zm2 0h2v2h-2zm1 0h2v2h-2zm1 0h2v2h-2zm1 0h2v2h-2zm13 0h2v2h-2zm4 0h2v2h-2zm3 0h2v2h-2zm9 0h2v2h-2zm4 0h2v2h-2zm1 0h2v2h-2zm1 0h2v2h-2zm1 0h2v2h-2zm1 0h2v2h-2zm2 0h2v2h-2zm2 0h2v2h-2zm2 0h2v2h-2zm2 0h2v2h-2zm1 0h2v2h-2zm1 0h2v2h-2zm4 0h2v2h-2zm5 0h2v2h-2zm-179 1h2v2h-2zm1 0h2v2h-2zm2 0h2v2h-2zm4 0h2v2h-2zm2 0h2v2h-2zm2 0h2v2h-2zm5 0h2v2h-2zm7 0h2v2h-2zm1 0h2v2h-2zm2 0h2v2h-2zm1 0h2v2h-2zm2 0h2v2h-2zm1 0h2v2h-2zm2 0h2v2h-2zm1 0h2v2h-2zm2 0h2v2h-2zm2 0h2v2h-2zm4 0h2v2h-2zm2 0h2v2h-2zm2 0h2v2h-2zm2 0h2v2h-2zm3 0h2v2h-2zm2 0h2v2h-2zm1 0h2v2h-2zm2 0h2v2h-2zm3 0h2v2h-2zm4 0h2v2h-2zm1 0h2v2h-2zm12 0h2v2h-2zm2 0h2v2h-2zm12 0h2v2h-2zm2 0h2v2h-2zm2 0h2v2h-2zm5 0h2v2h-2zm8 0h2v2h-2zm2 0h2v2h-2zm1 0h2v2h-2zm5 0h2v2h-2zm1 0h2v2h-2zm1 0h2v2h-2zm2 0h2v2h-2zm1 0h2v2h-2zm1 0h2v2h-2zm3 0h2v2h-2zm4 0h2v2h-2zm7 0h2v2h-2zm1 0h2v2h-2zm4 0h2v2h-2zm3 0h2v2h-2zm2 0h2v2h-2zm1 0h2v2h-2zm8 0h2v2h-2zm3 0h2v2h-2zm5 0h2v2h-2zm1 0h2v2h-2zm4 0h2v2h-2zm2 0h2v2h-2zm4 0h2v2h-2zm-170 1h2v2h-2zm1 0h2v2h-2zm1 0h2v2h-2zm1 0h2v2h-2zm3 0h2v2h-2zm7 0h2v2h-2zm5 0h2v2h-2zm1 0h2v2h-2zm3 0h2v2h-2zm3 0h2v2h-2zm8 0h2v2h-2zm11 0h2v2h-2zm2 0h2v2h-2zm6 0h2v2h-2zm11 0h2v2h-2zm1 0h2v2h-2zm2 0h2v2h-2zm7 0h2v2h-2zm2 0h2v2h-2zm1 0h2v2h-2zm6 0h2v2h-2zm9 0h2v2h-2zm1 0h2v2h-2zm3 0h2v2h-2zm1 0h2v2h-2zm8 0h2v2h-2zm2 0h2v2h-2zm1 0h2v2h-2zm2 0h2v2h-2zm3 0h2v2h-2zm3 0h2v2h-2zm1 0h2v2h-2zm2 0h2v2h-2zm2 0h2v2h-2zm3 0h2v2h-2zm11 0h2v2h-2zm4 0h2v2h-2zm1 0h2v2h-2zm6 0h2v2h-2zm3 0h2v2h-2zm1 0h2v2h-2zm2 0h2v2h-2zm4 0h2v2h-2zm2 0h2v2h-2zm3 0h2v2h-2zm2 0h2v2h-2zm1 0h2v2h-2zm2 0h2v2h-2zm4 0h2v2h-2zm1 0h2v2h-2zm-174 1h2v2h-2zm5 0h2v2h-2zm2 0h2v2h-2zm12 0h2v2h-2zm1 0h2v2h-2zm4 0h2v2h-2zm2 0h2v2h-2zm2 0h2v2h-2zm4 0h2v2h-2zm1 0h2v2h-2zm2 0h2v2h-2zm13 0h2v2h-2zm1 0h2v2h-2zm1 0h2v2h-2zm3 0h2v2h-2zm2 0h2v2h-2zm2 0h2v2h-2zm1 0h2v2h-2zm1 0h2v2h-2zm6 0h2v2h-2zm1 0h2v2h-2zm1 0h2v2h-2zm4 0h2v2h-2zm1 0h2v2h-2zm1 0h2v2h-2zm2 0h2v2h-2zm4 0h2v2h-2zm11 0h2v2h-2zm2 0h2v2h-2zm2 0h2v2h-2zm3 0h2v2h-2zm3 0h2v2h-2zm2 0h2v2h-2zm4 0h2v2h-2zm7 0h2v2h-2zm4 0h2v2h-2zm2 0h2v2h-2zm4 0h2v2h-2zm5 0h2v2h-2zm1 0h2v2h-2zm5 0h2v2h-2zm3 0h2v2h-2zm5 0h2v2h-2zm1 0h2v2h-2zm1 0h2v2h-2zm5 0h2v2h-2zm1 0h2v2h-2zm1 0h2v2h-2zm3 0h2v2h-2zm5 0h2v2h-2zm1 0h2v2h-2zm1 0h2v2h-2zm1 0h2v2h-2zm1 0h2v2h-2zm1 0h2v2h-2zm2 0h2v2h-2zm2 0h2v2h-2zm5 0h2v2h-2zm-313 1h2v2h-2zm31 0h2v2h-2zm48 0h2v2h-2zm30 0h2v2h-2zm11 0h2v2h-2zm6 0h2v2h-2zm15 0h2v2h-2zm1 0h2v2h-2zm10 0h2v2h-2zm7 0h2v2h-2zm5 0h2v2h-2zm5 0h2v2h-2zm10 0h2v2h-2zm2 0h2v2h-2zm6 0h2v2h-2zm1 0h2v2h-2zm1 0h2v2h-2zm2 0h2v2h-2zm3 0h2v2h-2zm1 0h2v2h-2zm1 0h2v2h-2zm1 0h2v2h-2zm8 0h2v2h-2zm3 0h2v2h-2zm2 0h2v2h-2zm1 0h2v2h-2zm9 0h2v2h-2zm9 0h2v2h-2zm3 0h2v2h-2zm1 0h2v2h-2zm4 0h2v2h-2zm1 0h2v2h-2zm7 0h2v2h-2zm3 0h2v2h-2zm3 0h2v2h-2zm2 0h2v2h-2zm2 0h2v2h-2zm2 0h2v2h-2zm1 0h2v2h-2zm2 0h2v2h-2zm1 0h2v2h-2zm3 0h2v2h-2zm2 0h2v2h-2zm10 0h2v2h-2zm3 0h2v2h-2zm4 0h2v2h-2zm1 0h2v2h-2zm1 0h2v2h-2zm1 0h2v2h-2zm5 0h2v2h-2zm1 0h2v2h-2zm2 0h2v2h-2zm2 0h2v2h-2zm5 0h2v2h-2zm1 0h2v2h-2zm1 0h2v2h-2zm3 0h2v2h-2zm2 0h2v2h-2zm-188 1h2v2h-2zm11 0h2v2h-2zm5 0h2v2h-2zm5 0h2v2h-2zm9 0h2v2h-2zm4 0h2v2h-2zm5 0h2v2h-2zm3 0h2v2h-2zm1 0h2v2h-2zm1 0h2v2h-2zm2 0h2v2h-2zm1 0h2v2h-2zm14 0h2v2h-2zm3 0h2v2h-2zm1 0h2v2h-2zm2 0h2v2h-2zm2 0h2v2h-2zm5 0h2v2h-2zm2 0h2v2h-2zm6 0h2v2h-2zm1 0h2v2h-2zm1 0h2v2h-2zm1 0h2v2h-2zm4 0h2v2h-2zm1 0h2v2h-2zm2 0h2v2h-2zm1 0h2v2h-2zm1 0h2v2h-2zm1 0h2v2h-2zm1 0h2v2h-2zm1 0h2v2h-2zm1 0h2v2h-2zm2 0h2v2h-2zm5 0h2v2h-2zm4 0h2v2h-2zm4 0h2v2h-2zm1 0h2v2h-2zm2 0h2v2h-2zm1 0h2v2h-2zm1 0h2v2h-2zm5 0h2v2h-2zm4 0h2v2h-2zm1 0h2v2h-2zm3 0h2v2h-2zm5 0h2v2h-2zm1 0h2v2h-2zm2 0h2v2h-2zm2 0h2v2h-2zm3 0h2v2h-2zm4 0h2v2h-2zm3 0h2v2h-2zm5 0h2v2h-2zm2 0h2v2h-2zm3 0h2v2h-2zm4 0h2v2h-2zm3 0h2v2h-2zm4 0h2v2h-2zm2 0h2v2h-2zm1 0h2v2h-2zm1 0h2v2h-2zm2 0h2v2h-2zm1 0h2v2h-2zm4 0h2v2h-2zm4 0h2v2h-2zm5 0h2v2h-2zm2 0h2v2h-2zm-345 1h2v2h-2zm142 0h2v2h-2zm10 0h2v2h-2zm1 0h2v2h-2zm16 0h2v2h-2zm4 0h2v2h-2zm4 0h2v2h-2zm1 0h2v2h-2zm2 0h2v2h-2zm3 0h2v2h-2zm9 0h2v2h-2zm5 0h2v2h-2zm1 0h2v2h-2zm1 0h2v2h-2zm4 0h2v2h-2zm4 0h2v2h-2zm7 0h2v2h-2zm5 0h2v2h-2zm1 0h2v2h-2zm1 0h2v2h-2zm3 0h2v2h-2zm1 0h2v2h-2zm2 0h2v2h-2zm1 0h2v2h-2zm3 0h2v2h-2zm1 0h2v2h-2zm3 0h2v2h-2zm1 0h2v2h-2zm3 0h2v2h-2zm6 0h2v2h-2zm3 0h2v2h-2zm4 0h2v2h-2zm3 0h2v2h-2zm1 0h2v2h-2zm4 0h2v2h-2zm1 0h2v2h-2zm1 0h2v2h-2zm1 0h2v2h-2zm2 0h2v2h-2zm1 0h2v2h-2zm1 0h2v2h-2zm3 0h2v2h-2zm1 0h2v2h-2zm1 0h2v2h-2zm7 0h2v2h-2zm1 0h2v2h-2zm1 0h2v2h-2zm1 0h2v2h-2zm1 0h2v2h-2zm4 0h2v2h-2zm1 0h2v2h-2zm5 0h2v2h-2zm5 0h2v2h-2zm1 0h2v2h-2zm10 0h2v2h-2zm1 0h2v2h-2zm2 0h2v2h-2zm3 0h2v2h-2zm3 0h2v2h-2zm1 0h2v2h-2zm1 0h2v2h-2zm5 0h2v2h-2zm2 0h2v2h-2zm7 0h2v2h-2zm3 0h2v2h-2zm-280 1h2v2h-2zm9 0h2v2h-2zm12 0h2v2h-2zm80 0h2v2h-2zm10 0h2v2h-2zm1 0h2v2h-2zm6 0h2v2h-2zm5 0h2v2h-2zm8 0h2v2h-2zm4 0h2v2h-2zm1 0h2v2h-2zm1 0h2v2h-2zm5 0h2v2h-2zm6 0h2v2h-2zm8 0h2v2h-2zm2 0h2v2h-2zm2 0h2v2h-2zm6 0h2v2h-2zm8 0h2v2h-2zm1 0h2v2h-2zm5 0h2v2h-2zm1 0h2v2h-2zm1 0h2v2h-2zm1 0h2v2h-2zm1 0h2v2h-2zm2 0h2v2h-2zm1 0h2v2h-2zm1 0h2v2h-2zm4 0h2v2h-2zm2 0h2v2h-2zm2 0h2v2h-2zm1 0h2v2h-2zm6 0h2v2h-2zm1 0h2v2h-2zm2 0h2v2h-2zm1 0h2v2h-2zm9 0h2v2h-2zm2 0h2v2h-2zm5 0h2v2h-2zm3 0h2v2h-2zm2 0h2v2h-2zm5 0h2v2h-2zm2 0h2v2h-2zm2 0h2v2h-2zm1 0h2v2h-2zm2 0h2v2h-2zm2 0h2v2h-2zm1 0h2v2h-2zm4 0h2v2h-2zm3 0h2v2h-2zm3 0h2v2h-2zm3 0h2v2h-2zm1 0h2v2h-2zm1 0h2v2h-2zm1 0h2v2h-2zm1 0h2v2h-2zm5 0h2v2h-2zm2 0h2v2h-2zm2 0h2v2h-2zm1 0h2v2h-2zm5 0h2v2h-2zm1 0h2v2h-2zm1 0h2v2h-2zm2 0h2v2h-2zm1 0h2v2h-2zm1 0h2v2h-2zm2 0h2v2h-2zm9 0h2v2h-2zm-289 1h2v2h-2zm37 0h2v2h-2zm27 0h2v2h-2zm32 0h2v2h-2zm1 0h2v2h-2zm3 0h2v2h-2zm5 0h2v2h-2zm5 0h2v2h-2zm1 0h2v2h-2zm9 0h2v2h-2zm6 0h2v2h-2zm2 0h2v2h-2zm2 0h2v2h-2zm6 0h2v2h-2zm3 0h2v2h-2zm1 0h2v2h-2zm15 0h2v2h-2zm3 0h2v2h-2zm5 0h2v2h-2zm2 0h2v2h-2zm2 0h2v2h-2zm2 0h2v2h-2zm2 0h2v2h-2zm8 0h2v2h-2zm2 0h2v2h-2zm3 0h2v2h-2zm1 0h2v2h-2zm3 0h2v2h-2zm2 0h2v2h-2zm3 0h2v2h-2zm4 0h2v2h-2zm3 0h2v2h-2zm2 0h2v2h-2zm1 0h2v2h-2zm7 0h2v2h-2zm2 0h2v2h-2zm2 0h2v2h-2zm18 0h2v2h-2zm1 0h2v2h-2zm1 0h2v2h-2zm1 0h2v2h-2zm7 0h2v2h-2zm1 0h2v2h-2zm4 0h2v2h-2zm2 0h2v2h-2zm9 0h2v2h-2zm2 0h2v2h-2zm3 0h2v2h-2zm1 0h2v2h-2zm5 0h2v2h-2zm2 0h2v2h-2zm1 0h2v2h-2zm1 0h2v2h-2zm1 0h2v2h-2zm3 0h2v2h-2zm1 0h2v2h-2zm1 0h2v2h-2zm2 0h2v2h-2zm1 0h2v2h-2zm1 0h2v2h-2zm-342 1h2v2h-2zm38 0h2v2h-2zm37 0h2v2h-2zm28 0h2v2h-2zm10 0h2v2h-2zm10 0h2v2h-2zm22 0h2v2h-2zm1 0h2v2h-2zm2 0h2v2h-2zm5 0h2v2h-2zm5 0h2v2h-2zm5 0h2v2h-2zm1 0h2v2h-2zm10 0h2v2h-2zm4 0h2v2h-2zm2 0h2v2h-2zm6 0h2v2h-2zm1 0h2v2h-2zm1 0h2v2h-2zm8 0h2v2h-2zm2 0h2v2h-2zm4 0h2v2h-2zm4 0h2v2h-2zm9 0h2v2h-2zm1 0h2v2h-2zm3 0h2v2h-2zm2 0h2v2h-2zm1 0h2v2h-2zm2 0h2v2h-2zm2 0h2v2h-2zm1 0h2v2h-2zm6 0h2v2h-2zm8 0h2v2h-2zm2 0h2v2h-2zm1 0h2v2h-2zm6 0h2v2h-2zm1 0h2v2h-2zm4 0h2v2h-2zm9 0h2v2h-2zm1 0h2v2h-2zm3 0h2v2h-2zm2 0h2v2h-2zm1 0h2v2h-2zm1 0h2v2h-2zm2 0h2v2h-2zm4 0h2v2h-2zm6 0h2v2h-2zm1 0h2v2h-2zm7 0h2v2h-2zm2 0h2v2h-2zm5 0h2v2h-2zm4 0h2v2h-2zm1 0h2v2h-2zm1 0h2v2h-2zm9 0h2v2h-2zm7 0h2v2h-2zm4 0h2v2h-2zm1 0h2v2h-2zm4 0h2v2h-2zm3 0h2v2h-2zm8 0h2v2h-2zm-350 1h2v2h-2zm54 0h2v2h-2zm8 0h2v2h-2zm54 0h2v2h-2zm34 0h2v2h-2zm2 0h2v2h-2zm13 0h2v2h-2zm8 0h2v2h-2zm1 0h2v2h-2zm5 0h2v2h-2zm6 0h2v2h-2zm1 0h2v2h-2zm5 0h2v2h-2zm12 0h2v2h-2zm2 0h2v2h-2zm7 0h2v2h-2zm1 0h2v2h-2zm1 0h2v2h-2zm9 0h2v2h-2zm1 0h2v2h-2zm1 0h2v2h-2zm2 0h2v2h-2zm2 0h2v2h-2zm22 0h2v2h-2zm1 0h2v2h-2zm1 0h2v2h-2zm4 0h2v2h-2zm5 0h2v2h-2zm11 0h2v2h-2zm1 0h2v2h-2zm1 0h2v2h-2zm1 0h2v2h-2zm3 0h2v2h-2zm5 0h2v2h-2zm1 0h2v2h-2zm1 0h2v2h-2zm6 0h2v2h-2zm3 0h2v2h-2zm1 0h2v2h-2zm1 0h2v2h-2zm2 0h2v2h-2zm3 0h2v2h-2zm9 0h2v2h-2zm9 0h2v2h-2zm3 0h2v2h-2zm12 0h2v2h-2zm7 0h2v2h-2zm2 0h2v2h-2zm1 0h2v2h-2zm-338 1h2v2h-2zm24 0h2v2h-2zm10 0h2v2h-2zm15 0h2v2h-2zm33 0h2v2h-2zm5 0h2v2h-2zm6 0h2v2h-2zm9 0h2v2h-2zm8 0h2v2h-2zm15 0h2v2h-2zm7 0h2v2h-2zm18 0h2v2h-2zm11 0h2v2h-2zm1 0h2v2h-2zm7 0h2v2h-2zm4 0h2v2h-2zm9 0h2v2h-2zm11 0h2v2h-2zm13 0h2v2h-2zm7 0h2v2h-2zm5 0h2v2h-2zm1 0h2v2h-2zm1 0h2v2h-2zm1 0h2v2h-2zm1 0h2v2h-2zm3 0h2v2h-2zm10 0h2v2h-2zm1 0h2v2h-2zm5 0h2v2h-2zm1 0h2v2h-2zm1 0h2v2h-2zm1 0h2v2h-2zm3 0h2v2h-2zm9 0h2v2h-2zm1 0h2v2h-2zm17 0h2v2h-2zm4 0h2v2h-2zm8 0h2v2h-2zm2 0h2v2h-2zm2 0h2v2h-2zm3 0h2v2h-2zm1 0h2v2h-2zm2 0h2v2h-2zm6 0h2v2h-2zm1 0h2v2h-2zm2 0h2v2h-2zm1 0h2v2h-2zm1 0h2v2h-2zm1 0h2v2h-2zm7 0h2v2h-2zm3 0h2v2h-2zm1 0h2v2h-2zm1 0h2v2h-2zm4 0h2v2h-2zm8 0h2v2h-2zm2 0h2v2h-2zm4 0h2v2h-2zm3 0h2v2h-2zm6 0h2v2h-2zm3 0h2v2h-2zm-357 1h2v2h-2zm4 0h2v2h-2zm8 0h2v2h-2zm16 0h2v2h-2zm1 0h2v2h-2zm2 0h2v2h-2zm13 0h2v2h-2zm4 0h2v2h-2zm6 0h2v2h-2zm44 0h2v2h-2zm7 0h2v2h-2zm15 0h2v2h-2zm41 0h2v2h-2zm1 0h2v2h-2zm1 0h2v2h-2zm1 0h2v2h-2zm1 0h2v2h-2zm2 0h2v2h-2zm1 0h2v2h-2zm2 0h2v2h-2zm9 0h2v2h-2zm3 0h2v2h-2zm14 0h2v2h-2zm3 0h2v2h-2zm8 0h2v2h-2zm2 0h2v2h-2zm7 0h2v2h-2zm2 0h2v2h-2zm11 0h2v2h-2zm15 0h2v2h-2zm4 0h2v2h-2zm1 0h2v2h-2zm1 0h2v2h-2zm3 0h2v2h-2zm6 0h2v2h-2zm3 0h2v2h-2zm10 0h2v2h-2zm1 0h2v2h-2zm1 0h2v2h-2zm1 0h2v2h-2zm2 0h2v2h-2zm1 0h2v2h-2zm2 0h2v2h-2zm6 0h2v2h-2zm2 0h2v2h-2zm8 0h2v2h-2zm1 0h2v2h-2zm2 0h2v2h-2zm3 0h2v2h-2zm7 0h2v2h-2zm8 0h2v2h-2zm10 0h2v2h-2zm1 0h2v2h-2zm2 0h2v2h-2zm3 0h2v2h-2zm3 0h2v2h-2zm1 0h2v2h-2zm2 0h2v2h-2zm4 0h2v2h-2zm1 0h2v2h-2zm3 0h2v2h-2zm8 0h2v2h-2zm-356 1h2v2h-2zm8 0h2v2h-2zm3 0h2v2h-2zm2 0h2v2h-2zm7 0h2v2h-2zm3 0h2v2h-2zm2 0h2v2h-2zm2 0h2v2h-2zm8 0h2v2h-2zm25 0h2v2h-2zm10 0h2v2h-2zm6 0h2v2h-2zm13 0h2v2h-2zm3 0h2v2h-2zm20 0h2v2h-2zm30 0h2v2h-2zm1 0h2v2h-2zm14 0h2v2h-2zm6 0h2v2h-2zm5 0h2v2h-2zm3 0h2v2h-2zm4 0h2v2h-2zm1 0h2v2h-2zm2 0h2v2h-2zm1 0h2v2h-2zm9 0h2v2h-2zm1 0h2v2h-2zm5 0h2v2h-2zm1 0h2v2h-2zm13 0h2v2h-2zm1 0h2v2h-2zm9 0h2v2h-2zm7 0h2v2h-2zm4 0h2v2h-2zm1 0h2v2h-2zm3 0h2v2h-2zm1 0h2v2h-2zm11 0h2v2h-2zm1 0h2v2h-2zm8 0h2v2h-2zm5 0h2v2h-2zm4 0h2v2h-2zm20 0h2v2h-2zm2 0h2v2h-2zm2 0h2v2h-2zm10 0h2v2h-2zm4 0h2v2h-2zm6 0h2v2h-2zm3 0h2v2h-2zm3 0h2v2h-2zm4 0h2v2h-2zm12 0h2v2h-2zm7 0h2v2h-2zm4 0h2v2h-2zm1 0h2v2h-2zm1 0h2v2h-2zm1 0h2v2h-2zm1 0h2v2h-2zm1 0h2v2h-2zm5 0h2v2h-2zm9 0h2v2h-2zm-353 1h2v2h-2zm14 0h2v2h-2zm11 0h2v2h-2zm2 0h2v2h-2zm1 0h2v2h-2zm9 0h2v2h-2zm9 0h2v2h-2zm19 0h2v2h-2zm7 0h2v2h-2zm12 0h2v2h-2zm28 0h2v2h-2zm8 0h2v2h-2zm9 0h2v2h-2zm5 0h2v2h-2zm3 0h2v2h-2zm13 0h2v2h-2zm10 0h2v2h-2zm1 0h2v2h-2zm1 0h2v2h-2zm9 0h2v2h-2zm15 0h2v2h-2zm1 0h2v2h-2zm1 0h2v2h-2zm1 0h2v2h-2zm13 0h2v2h-2zm16 0h2v2h-2zm4 0h2v2h-2zm2 0h2v2h-2zm3 0h2v2h-2zm15 0h2v2h-2zm1 0h2v2h-2zm6 0h2v2h-2zm3 0h2v2h-2zm2 0h2v2h-2zm3 0h2v2h-2zm16 0h2v2h-2zm8 0h2v2h-2zm13 0h2v2h-2zm2 0h2v2h-2zm5 0h2v2h-2zm4 0h2v2h-2zm9 0h2v2h-2zm4 0h2v2h-2zm2 0h2v2h-2zm1 0h2v2h-2zm2 0h2v2h-2zm10 0h2v2h-2zm3 0h2v2h-2zm2 0h2v2h-2zm1 0h2v2h-2zm5 0h2v2h-2zm12 0h2v2h-2zm-366 1h2v2h-2zm1 0h2v2h-2zm18 0h2v2h-2zm8 0h2v2h-2zm3 0h2v2h-2zm21 0h2v2h-2zm19 0h2v2h-2zm2 0h2v2h-2zm5 0h2v2h-2zm3 0h2v2h-2zm6 0h2v2h-2zm1 0h2v2h-2zm14 0h2v2h-2zm1 0h2v2h-2zm1 0h2v2h-2zm7 0h2v2h-2zm14 0h2v2h-2zm5 0h2v2h-2zm4 0h2v2h-2zm6 0h2v2h-2zm8 0h2v2h-2zm12 0h2v2h-2zm4 0h2v2h-2zm7 0h2v2h-2zm2 0h2v2h-2zm9 0h2v2h-2zm11 0h2v2h-2zm5 0h2v2h-2zm13 0h2v2h-2zm10 0h2v2h-2zm7 0h2v2h-2zm27 0h2v2h-2zm1 0h2v2h-2zm1 0h2v2h-2zm6 0h2v2h-2zm2 0h2v2h-2zm5 0h2v2h-2zm8 0h2v2h-2zm22 0h2v2h-2zm1 0h2v2h-2zm4 0h2v2h-2zm4 0h2v2h-2zm1 0h2v2h-2zm2 0h2v2h-2zm13 0h2v2h-2zm6 0h2v2h-2zm1 0h2v2h-2zm7 0h2v2h-2zm5 0h2v2h-2zm2 0h2v2h-2zm1 0h2v2h-2zm1 0h2v2h-2zm2 0h2v2h-2zm-363 1h2v2h-2zm17 0h2v2h-2zm3 0h2v2h-2zm6 0h2v2h-2zm11 0h2v2h-2zm1 0h2v2h-2zm8 0h2v2h-2zm19 0h2v2h-2zm19 0h2v2h-2zm5 0h2v2h-2zm5 0h2v2h-2zm1 0h2v2h-2zm16 0h2v2h-2zm27 0h2v2h-2zm18 0h2v2h-2zm1 0h2v2h-2zm1 0h2v2h-2zm3 0h2v2h-2zm2 0h2v2h-2zm21 0h2v2h-2zm2 0h2v2h-2zm1 0h2v2h-2zm5 0h2v2h-2zm5 0h2v2h-2zm1 0h2v2h-2zm1 0h2v2h-2zm4 0h2v2h-2zm15 0h2v2h-2zm7 0h2v2h-2zm6 0h2v2h-2zm10 0h2v2h-2zm1 0h2v2h-2zm2 0h2v2h-2zm22 0h2v2h-2zm1 0h2v2h-2zm2 0h2v2h-2zm6 0h2v2h-2zm9 0h2v2h-2zm6 0h2v2h-2zm4 0h2v2h-2zm8 0h2v2h-2zm6 0h2v2h-2zm7 0h2v2h-2zm1 0h2v2h-2zm14 0h2v2h-2zm7 0h2v2h-2zm1 0h2v2h-2zm4 0h2v2h-2zm1 0h2v2h-2zm10 0h2v2h-2zm6 0h2v2h-2zm2 0h2v2h-2zm1 0h2v2h-2zm-344 1h2v2h-2zm6 0h2v2h-2zm6 0h2v2h-2zm9 0h2v2h-2zm2 0h2v2h-2zm6 0h2v2h-2zm2 0h2v2h-2zm9 0h2v2h-2zm8 0h2v2h-2zm5 0h2v2h-2zm10 0h2v2h-2zm9 0h2v2h-2zm1 0h2v2h-2zm2 0h2v2h-2zm2 0h2v2h-2zm14 0h2v2h-2zm2 0h2v2h-2zm15 0h2v2h-2zm5 0h2v2h-2zm2 0h2v2h-2zm10 0h2v2h-2zm4 0h2v2h-2zm3 0h2v2h-2zm8 0h2v2h-2zm3 0h2v2h-2zm1 0h2v2h-2zm8 0h2v2h-2zm10 0h2v2h-2zm17 0h2v2h-2zm6 0h2v2h-2zm14 0h2v2h-2zm5 0h2v2h-2zm3 0h2v2h-2zm3 0h2v2h-2zm18 0h2v2h-2zm17 0h2v2h-2zm5 0h2v2h-2zm4 0h2v2h-2zm5 0h2v2h-2zm11 0h2v2h-2zm11 0h2v2h-2zm17 0h2v2h-2zm1 0h2v2h-2zm3 0h2v2h-2zm1 0h2v2h-2zm5 0h2v2h-2zm5 0h2v2h-2zm5 0h2v2h-2zm1 0h2v2h-2zm2 0h2v2h-2zm11 0h2v2h-2zm1 0h2v2h-2zm8 0h2v2h-2zm1 0h2v2h-2zm4 0h2v2h-2zm13 0h2v2h-2zm-358 1h2v2h-2zm2 0h2v2h-2zm1 0h2v2h-2zm9 0h2v2h-2zm2 0h2v2h-2zm4 0h2v2h-2zm9 0h2v2h-2zm2 0h2v2h-2zm2 0h2v2h-2zm11 0h2v2h-2zm8 0h2v2h-2zm4 0h2v2h-2zm6 0h2v2h-2zm4 0h2v2h-2zm5 0h2v2h-2zm1 0h2v2h-2zm1 0h2v2h-2zm3 0h2v2h-2zm7 0h2v2h-2zm3 0h2v2h-2zm6 0h2v2h-2zm20 0h2v2h-2zm8 0h2v2h-2zm1 0h2v2h-2zm4 0h2v2h-2zm4 0h2v2h-2zm13 0h2v2h-2zm1 0h2v2h-2zm9 0h2v2h-2zm1 0h2v2h-2zm8 0h2v2h-2zm2 0h2v2h-2zm3 0h2v2h-2zm11 0h2v2h-2zm17 0h2v2h-2zm8 0h2v2h-2zm3 0h2v2h-2zm8 0h2v2h-2zm1 0h2v2h-2zm1 0h2v2h-2zm1 0h2v2h-2zm1 0h2v2h-2zm4 0h2v2h-2zm6 0h2v2h-2zm7 0h2v2h-2zm10 0h2v2h-2zm10 0h2v2h-2zm12 0h2v2h-2zm3 0h2v2h-2zm1 0h2v2h-2zm7 0h2v2h-2zm3 0h2v2h-2zm3 0h2v2h-2zm7 0h2v2h-2zm10 0h2v2h-2zm3 0h2v2h-2zm16 0h2v2h-2zm18 0h2v2h-2zm2 0h2v2h-2zm5 0h2v2h-2zm3 0h2v2h-2zm4 0h2v2h-2zm3 0h2v2h-2zm1 0h2v2h-2zm-365 1h2v2h-2zm18 0h2v2h-2zm2 0h2v2h-2zm3 0h2v2h-2zm11 0h2v2h-2zm1 0h2v2h-2zm2 0h2v2h-2zm6 0h2v2h-2zm6 0h2v2h-2zm5 0h2v2h-2zm4 0h2v2h-2zm1 0h2v2h-2zm5 0h2v2h-2zm4 0h2v2h-2zm7 0h2v2h-2zm3 0h2v2h-2zm1 0h2v2h-2zm3 0h2v2h-2zm7 0h2v2h-2zm1 0h2v2h-2zm3 0h2v2h-2zm18 0h2v2h-2zm4 0h2v2h-2zm10 0h2v2h-2zm2 0h2v2h-2zm1 0h2v2h-2zm10 0h2v2h-2zm2 0h2v2h-2zm18 0h2v2h-2zm5 0h2v2h-2zm5 0h2v2h-2zm5 0h2v2h-2zm1 0h2v2h-2zm1 0h2v2h-2zm1 0h2v2h-2zm15 0h2v2h-2zm2 0h2v2h-2zm2 0h2v2h-2zm4 0h2v2h-2zm5 0h2v2h-2zm26 0h2v2h-2zm9 0h2v2h-2zm23 0h2v2h-2zm2 0h2v2h-2zm1 0h2v2h-2zm2 0h2v2h-2zm5 0h2v2h-2zm6 0h2v2h-2zm3 0h2v2h-2zm2 0h2v2h-2zm2 0h2v2h-2zm15 0h2v2h-2zm2 0h2v2h-2zm6 0h2v2h-2zm1 0h2v2h-2zm2 0h2v2h-2zm7 0h2v2h-2zm4 0h2v2h-2zm1 0h2v2h-2zm20 0h2v2h-2zm14 0h2v2h-2zm2 0h2v2h-2zm1 0h2v2h-2zm1 0h2v2h-2zm1 0h2v2h-2zm-359 1h2v2h-2zm11 0h2v2h-2zm4 0h2v2h-2zm26 0h2v2h-2zm8 0h2v2h-2zm3 0h2v2h-2zm4 0h2v2h-2zm1 0h2v2h-2zm1 0h2v2h-2zm6 0h2v2h-2zm6 0h2v2h-2zm3 0h2v2h-2zm8 0h2v2h-2zm2 0h2v2h-2zm3 0h2v2h-2zm8 0h2v2h-2zm12 0h2v2h-2zm2 0h2v2h-2zm13 0h2v2h-2zm1 0h2v2h-2zm7 0h2v2h-2zm5 0h2v2h-2zm2 0h2v2h-2zm10 0h2v2h-2zm6 0h2v2h-2zm1 0h2v2h-2zm5 0h2v2h-2zm1 0h2v2h-2zm12 0h2v2h-2zm12 0h2v2h-2zm6 0h2v2h-2zm2 0h2v2h-2zm7 0h2v2h-2zm7 0h2v2h-2zm9 0h2v2h-2zm1 0h2v2h-2zm1 0h2v2h-2zm1 0h2v2h-2zm8 0h2v2h-2zm7 0h2v2h-2zm4 0h2v2h-2zm9 0h2v2h-2zm13 0h2v2h-2zm2 0h2v2h-2zm4 0h2v2h-2zm6 0h2v2h-2zm5 0h2v2h-2zm5 0h2v2h-2zm6 0h2v2h-2zm1 0h2v2h-2zm1 0h2v2h-2zm11 0h2v2h-2zm2 0h2v2h-2zm6 0h2v2h-2zm1 0h2v2h-2zm1 0h2v2h-2zm2 0h2v2h-2zm4 0h2v2h-2zm9 0h2v2h-2zm1 0h2v2h-2zm1 0h2v2h-2zm2 0h2v2h-2zm8 0h2v2h-2zm11 0h2v2h-2zm2 0h2v2h-2zm2 0h2v2h-2zm-355 1h2v2h-2zm7 0h2v2h-2zm6 0h2v2h-2zm1 0h2v2h-2zm1 0h2v2h-2zm3 0h2v2h-2zm20 0h2v2h-2zm7 0h2v2h-2zm20 0h2v2h-2zm11 0h2v2h-2zm7 0h2v2h-2zm5 0h2v2h-2zm2 0h2v2h-2zm11 0h2v2h-2zm13 0h2v2h-2zm4 0h2v2h-2zm4 0h2v2h-2zm1 0h2v2h-2zm2 0h2v2h-2zm6 0h2v2h-2zm3 0h2v2h-2zm24 0h2v2h-2zm15 0h2v2h-2zm3 0h2v2h-2zm16 0h2v2h-2zm1 0h2v2h-2zm2 0h2v2h-2zm20 0h2v2h-2zm8 0h2v2h-2zm2 0h2v2h-2zm2 0h2v2h-2zm5 0h2v2h-2zm9 0h2v2h-2zm4 0h2v2h-2zm7 0h2v2h-2zm28 0h2v2h-2zm4 0h2v2h-2zm4 0h2v2h-2zm2 0h2v2h-2zm2 0h2v2h-2zm1 0h2v2h-2zm9 0h2v2h-2zm9 0h2v2h-2zm1 0h2v2h-2zm5 0h2v2h-2zm10 0h2v2h-2zm1 0h2v2h-2zm1 0h2v2h-2zm5 0h2v2h-2zm2 0h2v2h-2zm3 0h2v2h-2zm1 0h2v2h-2zm3 0h2v2h-2zm2 0h2v2h-2zm2 0h2v2h-2zm3 0h2v2h-2zm6 0h2v2h-2zm1 0h2v2h-2zm2 0h2v2h-2zm2 0h2v2h-2zm3 0h2v2h-2zm-351 1h2v2h-2zm2 0h2v2h-2zm10 0h2v2h-2zm7 0h2v2h-2zm5 0h2v2h-2zm4 0h2v2h-2zm3 0h2v2h-2zm1 0h2v2h-2zm4 0h2v2h-2zm13 0h2v2h-2zm18 0h2v2h-2zm3 0h2v2h-2zm3 0h2v2h-2zm2 0h2v2h-2zm5 0h2v2h-2zm9 0h2v2h-2zm5 0h2v2h-2zm4 0h2v2h-2zm4 0h2v2h-2zm5 0h2v2h-2zm7 0h2v2h-2zm4 0h2v2h-2zm2 0h2v2h-2zm6 0h2v2h-2zm5 0h2v2h-2zm10 0h2v2h-2zm1 0h2v2h-2zm2 0h2v2h-2zm4 0h2v2h-2zm7 0h2v2h-2zm4 0h2v2h-2zm2 0h2v2h-2zm6 0h2v2h-2zm3 0h2v2h-2zm32 0h2v2h-2zm2 0h2v2h-2zm7 0h2v2h-2zm5 0h2v2h-2zm10 0h2v2h-2zm4 0h2v2h-2zm1 0h2v2h-2zm2 0h2v2h-2zm1 0h2v2h-2zm1 0h2v2h-2zm5 0h2v2h-2zm6 0h2v2h-2zm12 0h2v2h-2zm2 0h2v2h-2zm3 0h2v2h-2zm14 0h2v2h-2zm2 0h2v2h-2zm4 0h2v2h-2zm4 0h2v2h-2zm6 0h2v2h-2zm1 0h2v2h-2zm10 0h2v2h-2zm12 0h2v2h-2zm8 0h2v2h-2zm2 0h2v2h-2zm16 0h2v2h-2zm3 0h2v2h-2zm1 0h2v2h-2zm8 0h2v2h-2zm-351 1h2v2h-2zm1 0h2v2h-2zm2 0h2v2h-2zm2 0h2v2h-2zm1 0h2v2h-2zm1 0h2v2h-2zm16 0h2v2h-2zm3 0h2v2h-2zm4 0h2v2h-2zm1 0h2v2h-2zm8 0h2v2h-2zm12 0h2v2h-2zm5 0h2v2h-2zm5 0h2v2h-2zm4 0h2v2h-2zm1 0h2v2h-2zm8 0h2v2h-2zm1 0h2v2h-2zm3 0h2v2h-2zm7 0h2v2h-2zm10 0h2v2h-2zm2 0h2v2h-2zm4 0h2v2h-2zm28 0h2v2h-2zm1 0h2v2h-2zm3 0h2v2h-2zm2 0h2v2h-2zm10 0h2v2h-2zm17 0h2v2h-2zm35 0h2v2h-2zm2 0h2v2h-2zm1 0h2v2h-2zm2 0h2v2h-2zm10 0h2v2h-2zm15 0h2v2h-2zm4 0h2v2h-2zm4 0h2v2h-2zm6 0h2v2h-2zm5 0h2v2h-2zm6 0h2v2h-2zm4 0h2v2h-2zm6 0h2v2h-2zm8 0h2v2h-2zm3 0h2v2h-2zm6 0h2v2h-2zm8 0h2v2h-2zm10 0h2v2h-2zm1 0h2v2h-2zm4 0h2v2h-2zm9 0h2v2h-2zm4 0h2v2h-2zm9 0h2v2h-2zm4 0h2v2h-2zm6 0h2v2h-2zm5 0h2v2h-2zm1 0h2v2h-2zm2 0h2v2h-2zm1 0h2v2h-2zm4 0h2v2h-2zm-342 1h2v2h-2zm4 0h2v2h-2zm10 0h2v2h-2zm1 0h2v2h-2zm2 0h2v2h-2zm1 0h2v2h-2zm1 0h2v2h-2zm1 0h2v2h-2zm3 0h2v2h-2zm4 0h2v2h-2zm18 0h2v2h-2zm1 0h2v2h-2zm1 0h2v2h-2zm14 0h2v2h-2zm3 0h2v2h-2zm2 0h2v2h-2zm1 0h2v2h-2zm3 0h2v2h-2zm6 0h2v2h-2zm3 0h2v2h-2zm8 0h2v2h-2zm1 0h2v2h-2zm13 0h2v2h-2zm3 0h2v2h-2zm1 0h2v2h-2zm5 0h2v2h-2zm1 0h2v2h-2zm4 0h2v2h-2zm6 0h2v2h-2zm10 0h2v2h-2zm9 0h2v2h-2zm7 0h2v2h-2zm9 0h2v2h-2zm1 0h2v2h-2zm14 0h2v2h-2zm2 0h2v2h-2zm4 0h2v2h-2zm10 0h2v2h-2zm2 0h2v2h-2zm6 0h2v2h-2zm14 0h2v2h-2zm9 0h2v2h-2zm7 0h2v2h-2zm1 0h2v2h-2zm3 0h2v2h-2zm6 0h2v2h-2zm8 0h2v2h-2zm1 0h2v2h-2zm1 0h2v2h-2zm1 0h2v2h-2zm5 0h2v2h-2zm5 0h2v2h-2zm4 0h2v2h-2zm1 0h2v2h-2zm2 0h2v2h-2zm1 0h2v2h-2zm1 0h2v2h-2zm10 0h2v2h-2zm3 0h2v2h-2zm2 0h2v2h-2zm3 0h2v2h-2zm6 0h2v2h-2zm20 0h2v2h-2zm2 0h2v2h-2zm1 0h2v2h-2zm2 0h2v2h-2zm12 0h2v2h-2zm2 0h2v2h-2zm1 0h2v2h-2zm3 0h2v2h-2zm1 0h2v2h-2zm3 0h2v2h-2zm10 0h2v2h-2zm-347 1h2v2h-2zm7 0h2v2h-2zm22 0h2v2h-2zm11 0h2v2h-2zm9 0h2v2h-2zm7 0h2v2h-2zm3 0h2v2h-2zm6 0h2v2h-2zm1 0h2v2h-2zm2 0h2v2h-2zm13 0h2v2h-2zm8 0h2v2h-2zm3 0h2v2h-2zm9 0h2v2h-2zm2 0h2v2h-2zm3 0h2v2h-2zm19 0h2v2h-2zm23 0h2v2h-2zm1 0h2v2h-2zm12 0h2v2h-2zm7 0h2v2h-2zm6 0h2v2h-2zm7 0h2v2h-2zm1 0h2v2h-2zm3 0h2v2h-2zm6 0h2v2h-2zm3 0h2v2h-2zm1 0h2v2h-2zm7 0h2v2h-2zm1 0h2v2h-2zm1 0h2v2h-2zm7 0h2v2h-2zm2 0h2v2h-2zm3 0h2v2h-2zm4 0h2v2h-2zm1 0h2v2h-2zm13 0h2v2h-2zm6 0h2v2h-2zm1 0h2v2h-2zm10 0h2v2h-2zm4 0h2v2h-2zm1 0h2v2h-2zm2 0h2v2h-2zm8 0h2v2h-2zm12 0h2v2h-2zm12 0h2v2h-2zm3 0h2v2h-2zm7 0h2v2h-2zm6 0h2v2h-2zm2 0h2v2h-2zm7 0h2v2h-2zm1 0h2v2h-2zm1 0h2v2h-2zm8 0h2v2h-2zm2 0h2v2h-2zm3 0h2v2h-2zm10 0h2v2h-2zm2 0h2v2h-2zm1 0h2v2h-2zm-359 1h2v2h-2zm9 0h2v2h-2zm6 0h2v2h-2zm3 0h2v2h-2zm1 0h2v2h-2zm3 0h2v2h-2zm10 0h2v2h-2zm2 0h2v2h-2zm2 0h2v2h-2zm15 0h2v2h-2zm4 0h2v2h-2zm7 0h2v2h-2zm1 0h2v2h-2zm3 0h2v2h-2zm23 0h2v2h-2zm2 0h2v2h-2zm11 0h2v2h-2zm11 0h2v2h-2zm7 0h2v2h-2zm2 0h2v2h-2zm19 0h2v2h-2zm10 0h2v2h-2zm17 0h2v2h-2zm7 0h2v2h-2zm12 0h2v2h-2zm3 0h2v2h-2zm8 0h2v2h-2zm2 0h2v2h-2zm3 0h2v2h-2zm6 0h2v2h-2zm8 0h2v2h-2zm1 0h2v2h-2zm6 0h2v2h-2zm14 0h2v2h-2zm1 0h2v2h-2zm3 0h2v2h-2zm5 0h2v2h-2zm3 0h2v2h-2zm5 0h2v2h-2zm5 0h2v2h-2zm5 0h2v2h-2zm15 0h2v2h-2zm1 0h2v2h-2zm3 0h2v2h-2zm3 0h2v2h-2zm1 0h2v2h-2zm2 0h2v2h-2zm4 0h2v2h-2zm1 0h2v2h-2zm6 0h2v2h-2zm1 0h2v2h-2zm2 0h2v2h-2zm1 0h2v2h-2zm1 0h2v2h-2zm2 0h2v2h-2zm7 0h2v2h-2zm11 0h2v2h-2zm3 0h2v2h-2zm1 0h2v2h-2zm4 0h2v2h-2zm11 0h2v2h-2zm1 0h2v2h-2zm6 0h2v2h-2zm2 0h2v2h-2zm2 0h2v2h-2zm1 0h2v2h-2zm-349 1h2v2h-2zm6 0h2v2h-2zm8 0h2v2h-2zm6 0h2v2h-2zm5 0h2v2h-2zm5 0h2v2h-2zm3 0h2v2h-2zm8 0h2v2h-2zm11 0h2v2h-2zm15 0h2v2h-2zm4 0h2v2h-2zm21 0h2v2h-2zm5 0h2v2h-2zm11 0h2v2h-2zm5 0h2v2h-2zm14 0h2v2h-2zm1 0h2v2h-2zm12 0h2v2h-2zm1 0h2v2h-2zm9 0h2v2h-2zm4 0h2v2h-2zm9 0h2v2h-2zm4 0h2v2h-2zm2 0h2v2h-2zm6 0h2v2h-2zm13 0h2v2h-2zm2 0h2v2h-2zm3 0h2v2h-2zm6 0h2v2h-2zm2 0h2v2h-2zm3 0h2v2h-2zm2 0h2v2h-2zm9 0h2v2h-2zm16 0h2v2h-2zm1 0h2v2h-2zm1 0h2v2h-2zm9 0h2v2h-2zm6 0h2v2h-2zm1 0h2v2h-2zm2 0h2v2h-2zm4 0h2v2h-2zm2 0h2v2h-2zm1 0h2v2h-2zm2 0h2v2h-2zm14 0h2v2h-2zm3 0h2v2h-2zm1 0h2v2h-2zm1 0h2v2h-2zm3 0h2v2h-2zm5 0h2v2h-2zm2 0h2v2h-2zm2 0h2v2h-2zm3 0h2v2h-2zm10 0h2v2h-2zm1 0h2v2h-2zm10 0h2v2h-2zm1 0h2v2h-2zm1 0h2v2h-2zm1 0h2v2h-2zm4 0h2v2h-2zm10 0h2v2h-2zm1 0h2v2h-2zm5 0h2v2h-2zm6 0h2v2h-2zm3 0h2v2h-2zm2 0h2v2h-2zm2 0h2v2h-2zm-340 1h2v2h-2zm8 0h2v2h-2zm12 0h2v2h-2zm31 0h2v2h-2zm7 0h2v2h-2zm4 0h2v2h-2zm5 0h2v2h-2zm1 0h2v2h-2zm5 0h2v2h-2zm11 0h2v2h-2zm12 0h2v2h-2zm5 0h2v2h-2zm1 0h2v2h-2zm3 0h2v2h-2zm2 0h2v2h-2zm11 0h2v2h-2zm15 0h2v2h-2zm9 0h2v2h-2zm2 0h2v2h-2zm12 0h2v2h-2zm7 0h2v2h-2zm6 0h2v2h-2zm14 0h2v2h-2zm5 0h2v2h-2zm3 0h2v2h-2zm2 0h2v2h-2zm7 0h2v2h-2zm2 0h2v2h-2zm3 0h2v2h-2zm7 0h2v2h-2zm4 0h2v2h-2zm1 0h2v2h-2zm1 0h2v2h-2zm16 0h2v2h-2zm1 0h2v2h-2zm1 0h2v2h-2zm1 0h2v2h-2zm3 0h2v2h-2zm2 0h2v2h-2zm1 0h2v2h-2zm22 0h2v2h-2zm4 0h2v2h-2zm5 0h2v2h-2zm7 0h2v2h-2zm2 0h2v2h-2zm2 0h2v2h-2zm2 0h2v2h-2zm3 0h2v2h-2zm12 0h2v2h-2zm5 0h2v2h-2zm1 0h2v2h-2zm4 0h2v2h-2zm2 0h2v2h-2zm20 0h2v2h-2zm2 0h2v2h-2zm2 0h2v2h-2zm3 0h2v2h-2zm-356 1h2v2h-2zm2 0h2v2h-2zm10 0h2v2h-2zm6 0h2v2h-2zm4 0h2v2h-2zm2 0h2v2h-2zm1 0h2v2h-2zm8 0h2v2h-2zm1 0h2v2h-2zm5 0h2v2h-2zm12 0h2v2h-2zm1 0h2v2h-2zm2 0h2v2h-2zm2 0h2v2h-2zm18 0h2v2h-2zm3 0h2v2h-2zm3 0h2v2h-2zm15 0h2v2h-2zm4 0h2v2h-2zm20 0h2v2h-2zm3 0h2v2h-2zm6 0h2v2h-2zm3 0h2v2h-2zm9 0h2v2h-2zm22 0h2v2h-2zm2 0h2v2h-2zm7 0h2v2h-2zm3 0h2v2h-2zm5 0h2v2h-2zm5 0h2v2h-2zm1 0h2v2h-2zm4 0h2v2h-2zm4 0h2v2h-2zm8 0h2v2h-2zm1 0h2v2h-2zm8 0h2v2h-2zm20 0h2v2h-2zm8 0h2v2h-2zm3 0h2v2h-2zm2 0h2v2h-2zm1 0h2v2h-2zm2 0h2v2h-2zm2 0h2v2h-2zm2 0h2v2h-2zm2 0h2v2h-2zm3 0h2v2h-2zm2 0h2v2h-2zm4 0h2v2h-2zm1 0h2v2h-2zm3 0h2v2h-2zm9 0h2v2h-2zm3 0h2v2h-2zm1 0h2v2h-2zm1 0h2v2h-2zm2 0h2v2h-2zm2 0h2v2h-2zm12 0h2v2h-2zm1 0h2v2h-2zm6 0h2v2h-2zm4 0h2v2h-2zm4 0h2v2h-2zm3 0h2v2h-2zm4 0h2v2h-2zm9 0h2v2h-2zm1 0h2v2h-2zm3 0h2v2h-2zm2 0h2v2h-2zm8 0h2v2h-2zm1 0h2v2h-2zm4 0h2v2h-2zm2 0h2v2h-2zm2 0h2v2h-2zm3 0h2v2h-2zm1 0h2v2h-2zm1 0h2v2h-2zm1 0h2v2h-2zm5 0h2v2h-2zm1 0h2v2h-2zm-362 1h2v2h-2zm27 0h2v2h-2zm1 0h2v2h-2zm16 0h2v2h-2zm3 0h2v2h-2zm4 0h2v2h-2zm23 0h2v2h-2zm4 0h2v2h-2zm18 0h2v2h-2zm14 0h2v2h-2zm7 0h2v2h-2zm8 0h2v2h-2zm15 0h2v2h-2zm17 0h2v2h-2zm4 0h2v2h-2zm2 0h2v2h-2zm6 0h2v2h-2zm10 0h2v2h-2zm1 0h2v2h-2zm6 0h2v2h-2zm5 0h2v2h-2zm3 0h2v2h-2zm16 0h2v2h-2zm4 0h2v2h-2zm1 0h2v2h-2zm4 0h2v2h-2zm4 0h2v2h-2zm4 0h2v2h-2zm1 0h2v2h-2zm4 0h2v2h-2zm3 0h2v2h-2zm5 0h2v2h-2zm10 0h2v2h-2zm1 0h2v2h-2zm1 0h2v2h-2zm4 0h2v2h-2zm6 0h2v2h-2zm14 0h2v2h-2zm9 0h2v2h-2zm17 0h2v2h-2zm11 0h2v2h-2zm17 0h2v2h-2zm10 0h2v2h-2zm1 0h2v2h-2zm2 0h2v2h-2zm1 0h2v2h-2zm5 0h2v2h-2zm3 0h2v2h-2zm2 0h2v2h-2zm-344 1h2v2h-2zm3 0h2v2h-2zm2 0h2v2h-2zm6 0h2v2h-2zm2 0h2v2h-2zm5 0h2v2h-2zm7 0h2v2h-2zm5 0h2v2h-2zm1 0h2v2h-2zm33 0h2v2h-2zm5 0h2v2h-2zm1 0h2v2h-2zm13 0h2v2h-2zm11 0h2v2h-2zm33 0h2v2h-2zm3 0h2v2h-2zm4 0h2v2h-2zm9 0h2v2h-2zm15 0h2v2h-2zm7 0h2v2h-2zm1 0h2v2h-2zm4 0h2v2h-2zm1 0h2v2h-2zm9 0h2v2h-2zm8 0h2v2h-2zm3 0h2v2h-2zm2 0h2v2h-2zm3 0h2v2h-2zm1 0h2v2h-2zm28 0h2v2h-2zm4 0h2v2h-2zm4 0h2v2h-2zm5 0h2v2h-2zm10 0h2v2h-2zm12 0h2v2h-2zm3 0h2v2h-2zm3 0h2v2h-2zm2 0h2v2h-2zm8 0h2v2h-2zm3 0h2v2h-2zm13 0h2v2h-2zm2 0h2v2h-2zm4 0h2v2h-2zm11 0h2v2h-2zm4 0h2v2h-2zm2 0h2v2h-2zm6 0h2v2h-2zm2 0h2v2h-2zm13 0h2v2h-2zm4 0h2v2h-2zm2 0h2v2h-2zm1 0h2v2h-2zm1 0h2v2h-2zm2 0h2v2h-2zm1 0h2v2h-2zm-342 1h2v2h-2zm8 0h2v2h-2zm13 0h2v2h-2zm43 0h2v2h-2zm6 0h2v2h-2zm6 0h2v2h-2zm4 0h2v2h-2zm1 0h2v2h-2zm6 0h2v2h-2zm7 0h2v2h-2zm4 0h2v2h-2zm13 0h2v2h-2zm1 0h2v2h-2zm10 0h2v2h-2zm10 0h2v2h-2zm4 0h2v2h-2zm6 0h2v2h-2zm13 0h2v2h-2zm5 0h2v2h-2zm10 0h2v2h-2zm3 0h2v2h-2zm18 0h2v2h-2zm4 0h2v2h-2zm1 0h2v2h-2zm5 0h2v2h-2zm2 0h2v2h-2zm15 0h2v2h-2zm1 0h2v2h-2zm2 0h2v2h-2zm2 0h2v2h-2zm2 0h2v2h-2zm2 0h2v2h-2zm5 0h2v2h-2zm6 0h2v2h-2zm1 0h2v2h-2zm3 0h2v2h-2zm1 0h2v2h-2zm2 0h2v2h-2zm12 0h2v2h-2zm7 0h2v2h-2zm9 0h2v2h-2zm14 0h2v2h-2zm7 0h2v2h-2zm13 0h2v2h-2zm12 0h2v2h-2zm3 0h2v2h-2zm15 0h2v2h-2zm1 0h2v2h-2zm3 0h2v2h-2zm-338 1h2v2h-2zm17 0h2v2h-2zm4 0h2v2h-2zm11 0h2v2h-2zm4 0h2v2h-2zm26 0h2v2h-2zm2 0h2v2h-2zm8 0h2v2h-2zm4 0h2v2h-2zm8 0h2v2h-2zm4 0h2v2h-2zm25 0h2v2h-2zm16 0h2v2h-2zm6 0h2v2h-2zm12 0h2v2h-2zm7 0h2v2h-2zm15 0h2v2h-2zm4 0h2v2h-2zm11 0h2v2h-2zm2 0h2v2h-2zm10 0h2v2h-2zm3 0h2v2h-2zm2 0h2v2h-2zm8 0h2v2h-2zm10 0h2v2h-2zm1 0h2v2h-2zm3 0h2v2h-2zm1 0h2v2h-2zm4 0h2v2h-2zm15 0h2v2h-2zm2 0h2v2h-2zm1 0h2v2h-2zm3 0h2v2h-2zm14 0h2v2h-2zm9 0h2v2h-2zm7 0h2v2h-2zm3 0h2v2h-2zm3 0h2v2h-2zm1 0h2v2h-2zm2 0h2v2h-2zm7 0h2v2h-2zm2 0h2v2h-2zm8 0h2v2h-2zm19 0h2v2h-2zm2 0h2v2h-2zm1 0h2v2h-2zm1 0h2v2h-2zm6 0h2v2h-2zm5 0h2v2h-2zm-352 1h2v2h-2zm2 0h2v2h-2zm2 0h2v2h-2zm20 0h2v2h-2zm12 0h2v2h-2zm32 0h2v2h-2zm9 0h2v2h-2zm23 0h2v2h-2zm12 0h2v2h-2zm5 0h2v2h-2zm1 0h2v2h-2zm3 0h2v2h-2zm23 0h2v2h-2zm1 0h2v2h-2zm5 0h2v2h-2zm2 0h2v2h-2zm10 0h2v2h-2zm3 0h2v2h-2zm17 0h2v2h-2zm1 0h2v2h-2zm3 0h2v2h-2zm4 0h2v2h-2zm12 0h2v2h-2zm6 0h2v2h-2zm2 0h2v2h-2zm3 0h2v2h-2zm7 0h2v2h-2zm10 0h2v2h-2zm4 0h2v2h-2zm2 0h2v2h-2zm2 0h2v2h-2zm3 0h2v2h-2zm4 0h2v2h-2zm7 0h2v2h-2zm3 0h2v2h-2zm2 0h2v2h-2zm11 0h2v2h-2zm4 0h2v2h-2zm1 0h2v2h-2zm6 0h2v2h-2zm5 0h2v2h-2zm2 0h2v2h-2zm10 0h2v2h-2zm3 0h2v2h-2zm4 0h2v2h-2zm16 0h2v2h-2zm11 0h2v2h-2zm3 0h2v2h-2zm10 0h2v2h-2zm4 0h2v2h-2zm2 0h2v2h-2zm3 0h2v2h-2zm-340 1h2v2h-2zm16 0h2v2h-2zm6 0h2v2h-2zm4 0h2v2h-2zm15 0h2v2h-2zm44 0h2v2h-2zm3 0h2v2h-2zm6 0h2v2h-2zm9 0h2v2h-2zm13 0h2v2h-2zm8 0h2v2h-2zm2 0h2v2h-2zm1 0h2v2h-2zm7 0h2v2h-2zm3 0h2v2h-2zm16 0h2v2h-2zm6 0h2v2h-2zm12 0h2v2h-2zm1 0h2v2h-2zm5 0h2v2h-2zm2 0h2v2h-2zm6 0h2v2h-2zm3 0h2v2h-2zm1 0h2v2h-2zm3 0h2v2h-2zm1 0h2v2h-2zm3 0h2v2h-2zm24 0h2v2h-2zm19 0h2v2h-2zm1 0h2v2h-2zm2 0h2v2h-2zm1 0h2v2h-2zm9 0h2v2h-2zm8 0h2v2h-2zm2 0h2v2h-2zm4 0h2v2h-2zm1 0h2v2h-2zm19 0h2v2h-2zm19 0h2v2h-2zm3 0h2v2h-2zm4 0h2v2h-2zm3 0h2v2h-2zm4 0h2v2h-2zm12 0h2v2h-2zm3 0h2v2h-2zm2 0h2v2h-2zm1 0h2v2h-2zm8 0h2v2h-2zm-356 1h2v2h-2zm2 0h2v2h-2zm34 0h2v2h-2zm4 0h2v2h-2zm3 0h2v2h-2zm9 0h2v2h-2zm23 0h2v2h-2zm19 0h2v2h-2zm2 0h2v2h-2zm5 0h2v2h-2zm12 0h2v2h-2zm5 0h2v2h-2zm14 0h2v2h-2zm6 0h2v2h-2zm3 0h2v2h-2zm3 0h2v2h-2zm40 0h2v2h-2zm1 0h2v2h-2zm10 0h2v2h-2zm10 0h2v2h-2zm13 0h2v2h-2zm6 0h2v2h-2zm2 0h2v2h-2zm3 0h2v2h-2zm4 0h2v2h-2zm4 0h2v2h-2zm7 0h2v2h-2zm4 0h2v2h-2zm3 0h2v2h-2zm4 0h2v2h-2zm18 0h2v2h-2zm2 0h2v2h-2zm6 0h2v2h-2zm7 0h2v2h-2zm1 0h2v2h-2zm4 0h2v2h-2zm10 0h2v2h-2zm13 0h2v2h-2zm21 0h2v2h-2zm8 0h2v2h-2zm2 0h2v2h-2zm1 0h2v2h-2zm2 0h2v2h-2zm5 0h2v2h-2zm-356 1h2v2h-2zm8 0h2v2h-2zm4 0h2v2h-2zm14 0h2v2h-2zm8 0h2v2h-2zm10 0h2v2h-2zm1 0h2v2h-2zm13 0h2v2h-2zm2 0h2v2h-2zm6 0h2v2h-2zm13 0h2v2h-2zm2 0h2v2h-2zm4 0h2v2h-2zm6 0h2v2h-2zm2 0h2v2h-2zm8 0h2v2h-2zm17 0h2v2h-2zm5 0h2v2h-2zm8 0h2v2h-2zm12 0h2v2h-2zm4 0h2v2h-2zm2 0h2v2h-2zm11 0h2v2h-2zm1 0h2v2h-2zm4 0h2v2h-2zm2 0h2v2h-2zm13 0h2v2h-2zm2 0h2v2h-2zm4 0h2v2h-2zm12 0h2v2h-2zm6 0h2v2h-2zm2 0h2v2h-2zm3 0h2v2h-2zm9 0h2v2h-2zm14 0h2v2h-2zm2 0h2v2h-2zm1 0h2v2h-2zm1 0h2v2h-2zm30 0h2v2h-2zm17 0h2v2h-2zm3 0h2v2h-2zm2 0h2v2h-2zm26 0h2v2h-2zm4 0h2v2h-2zm5 0h2v2h-2zm8 0h2v2h-2zm4 0h2v2h-2zm5 0h2v2h-2zm7 0h2v2h-2zm3 0h2v2h-2zm-355 1h2v2h-2zm24 0h2v2h-2zm33 0h2v2h-2zm2 0h2v2h-2zm2 0h2v2h-2zm7 0h2v2h-2zm3 0h2v2h-2zm3 0h2v2h-2zm13 0h2v2h-2zm2 0h2v2h-2zm10 0h2v2h-2zm34 0h2v2h-2zm10 0h2v2h-2zm4 0h2v2h-2zm6 0h2v2h-2zm5 0h2v2h-2zm1 0h2v2h-2zm1 0h2v2h-2zm8 0h2v2h-2zm2 0h2v2h-2zm3 0h2v2h-2zm2 0h2v2h-2zm17 0h2v2h-2zm3 0h2v2h-2zm1 0h2v2h-2zm24 0h2v2h-2zm9 0h2v2h-2zm9 0h2v2h-2zm4 0h2v2h-2zm1 0h2v2h-2zm8 0h2v2h-2zm1 0h2v2h-2zm4 0h2v2h-2zm3 0h2v2h-2zm1 0h2v2h-2zm5 0h2v2h-2zm15 0h2v2h-2zm17 0h2v2h-2zm27 0h2v2h-2zm8 0h2v2h-2zm7 0h2v2h-2zm3 0h2v2h-2zm4 0h2v2h-2zm3 0h2v2h-2zm4 0h2v2h-2zm1 0h2v2h-2zm1 0h2v2h-2zm-348 1h2v2h-2zm2 0h2v2h-2zm10 0h2v2h-2zm10 0h2v2h-2zm6 0h2v2h-2zm4 0h2v2h-2zm1 0h2v2h-2zm24 0h2v2h-2zm8 0h2v2h-2zm2 0h2v2h-2zm1 0h2v2h-2zm6 0h2v2h-2zm6 0h2v2h-2zm10 0h2v2h-2zm9 0h2v2h-2zm7 0h2v2h-2zm2 0h2v2h-2zm2 0h2v2h-2zm4 0h2v2h-2zm5 0h2v2h-2zm4 0h2v2h-2zm8 0h2v2h-2zm9 0h2v2h-2zm21 0h2v2h-2zm2 0h2v2h-2zm43 0h2v2h-2zm17 0h2v2h-2zm9 0h2v2h-2zm7 0h2v2h-2zm2 0h2v2h-2zm3 0h2v2h-2zm2 0h2v2h-2zm4 0h2v2h-2zm1 0h2v2h-2zm15 0h2v2h-2zm8 0h2v2h-2zm1 0h2v2h-2zm1 0h2v2h-2zm2 0h2v2h-2zm17 0h2v2h-2zm2 0h2v2h-2zm19 0h2v2h-2zm1 0h2v2h-2zm1 0h2v2h-2zm2 0h2v2h-2zm4 0h2v2h-2zm3 0h2v2h-2zm8 0h2v2h-2zm16 0h2v2h-2zm1 0h2v2h-2zm-352 1h2v2h-2zm5 0h2v2h-2zm30 0h2v2h-2zm5 0h2v2h-2zm5 0h2v2h-2zm3 0h2v2h-2zm8 0h2v2h-2zm17 0h2v2h-2zm2 0h2v2h-2zm13 0h2v2h-2zm11 0h2v2h-2zm3 0h2v2h-2zm3 0h2v2h-2zm16 0h2v2h-2zm2 0h2v2h-2zm8 0h2v2h-2zm9 0h2v2h-2zm18 0h2v2h-2zm3 0h2v2h-2zm7 0h2v2h-2zm13 0h2v2h-2zm24 0h2v2h-2zm5 0h2v2h-2zm16 0h2v2h-2zm2 0h2v2h-2zm1 0h2v2h-2zm7 0h2v2h-2zm10 0h2v2h-2zm10 0h2v2h-2zm10 0h2v2h-2zm5 0h2v2h-2zm5 0h2v2h-2zm12 0h2v2h-2zm10 0h2v2h-2zm9 0h2v2h-2zm4 0h2v2h-2zm2 0h2v2h-2zm1 0h2v2h-2zm1 0h2v2h-2zm5 0h2v2h-2zm1 0h2v2h-2zm3 0h2v2h-2zm12 0h2v2h-2zm3 0h2v2h-2zm2 0h2v2h-2zm6 0h2v2h-2zm-353 1h2v2h-2zm11 0h2v2h-2zm1 0h2v2h-2zm16 0h2v2h-2zm2 0h2v2h-2zm2 0h2v2h-2zm1 0h2v2h-2zm1 0h2v2h-2zm1 0h2v2h-2zm12 0h2v2h-2zm11 0h2v2h-2zm2 0h2v2h-2zm10 0h2v2h-2zm1 0h2v2h-2zm4 0h2v2h-2zm4 0h2v2h-2zm19 0h2v2h-2zm12 0h2v2h-2zm10 0h2v2h-2zm3 0h2v2h-2zm6 0h2v2h-2zm6 0h2v2h-2zm11 0h2v2h-2zm2 0h2v2h-2zm5 0h2v2h-2zm2 0h2v2h-2zm2 0h2v2h-2zm2 0h2v2h-2zm8 0h2v2h-2zm4 0h2v2h-2zm1 0h2v2h-2zm15 0h2v2h-2zm2 0h2v2h-2zm6 0h2v2h-2zm8 0h2v2h-2zm7 0h2v2h-2zm7 0h2v2h-2zm14 0h2v2h-2zm8 0h2v2h-2zm2 0h2v2h-2zm20 0h2v2h-2zm15 0h2v2h-2zm5 0h2v2h-2zm16 0h2v2h-2zm22 0h2v2h-2zm7 0h2v2h-2zm1 0h2v2h-2zm6 0h2v2h-2zm8 0h2v2h-2zm12 0h2v2h-2zm-351 1h2v2h-2zm3 0h2v2h-2zm2 0h2v2h-2zm3 0h2v2h-2zm2 0h2v2h-2zm5 0h2v2h-2zm2 0h2v2h-2zm6 0h2v2h-2zm4 0h2v2h-2zm13 0h2v2h-2zm1 0h2v2h-2zm4 0h2v2h-2zm2 0h2v2h-2zm2 0h2v2h-2zm1 0h2v2h-2zm2 0h2v2h-2zm1 0h2v2h-2zm18 0h2v2h-2zm13 0h2v2h-2zm8 0h2v2h-2zm8 0h2v2h-2zm6 0h2v2h-2zm4 0h2v2h-2zm1 0h2v2h-2zm6 0h2v2h-2zm2 0h2v2h-2zm1 0h2v2h-2zm4 0h2v2h-2zm1 0h2v2h-2zm4 0h2v2h-2zm10 0h2v2h-2zm2 0h2v2h-2zm2 0h2v2h-2zm9 0h2v2h-2zm17 0h2v2h-2zm17 0h2v2h-2zm1 0h2v2h-2zm5 0h2v2h-2zm1 0h2v2h-2zm11 0h2v2h-2zm8 0h2v2h-2zm4 0h2v2h-2zm1 0h2v2h-2zm15 0h2v2h-2zm1 0h2v2h-2zm16 0h2v2h-2zm1 0h2v2h-2zm1 0h2v2h-2zm9 0h2v2h-2zm10 0h2v2h-2zm3 0h2v2h-2zm3 0h2v2h-2zm4 0h2v2h-2zm22 0h2v2h-2zm6 0h2v2h-2zm13 0h2v2h-2zm9 0h2v2h-2zm2 0h2v2h-2zm1 0h2v2h-2zm17 0h2v2h-2zm7 0h2v2h-2zm1 0h2v2h-2zm-349 1h2v2h-2zm1 0h2v2h-2zm6 0h2v2h-2zm4 0h2v2h-2zm4 0h2v2h-2zm4 0h2v2h-2zm2 0h2v2h-2zm5 0h2v2h-2zm6 0h2v2h-2zm6 0h2v2h-2zm4 0h2v2h-2zm4 0h2v2h-2zm5 0h2v2h-2zm10 0h2v2h-2zm1 0h2v2h-2zm9 0h2v2h-2zm2 0h2v2h-2zm6 0h2v2h-2zm6 0h2v2h-2zm10 0h2v2h-2zm16 0h2v2h-2zm12 0h2v2h-2zm14 0h2v2h-2zm1 0h2v2h-2zm2 0h2v2h-2zm9 0h2v2h-2zm9 0h2v2h-2zm4 0h2v2h-2zm6 0h2v2h-2zm8 0h2v2h-2zm8 0h2v2h-2zm6 0h2v2h-2zm3 0h2v2h-2zm1 0h2v2h-2zm13 0h2v2h-2zm10 0h2v2h-2zm12 0h2v2h-2zm2 0h2v2h-2zm3 0h2v2h-2zm15 0h2v2h-2zm4 0h2v2h-2zm3 0h2v2h-2zm3 0h2v2h-2zm8 0h2v2h-2zm2 0h2v2h-2zm15 0h2v2h-2zm3 0h2v2h-2zm1 0h2v2h-2zm2 0h2v2h-2zm3 0h2v2h-2zm4 0h2v2h-2zm2 0h2v2h-2zm8 0h2v2h-2zm9 0h2v2h-2zm1 0h2v2h-2zm15 0h2v2h-2zm2 0h2v2h-2zm4 0h2v2h-2zm13 0h2v2h-2zm-350 1h2v2h-2zm7 0h2v2h-2zm3 0h2v2h-2zm9 0h2v2h-2zm3 0h2v2h-2zm9 0h2v2h-2zm7 0h2v2h-2zm1 0h2v2h-2zm9 0h2v2h-2zm3 0h2v2h-2zm32 0h2v2h-2zm6 0h2v2h-2zm2 0h2v2h-2zm3 0h2v2h-2zm1 0h2v2h-2zm7 0h2v2h-2zm18 0h2v2h-2zm4 0h2v2h-2zm9 0h2v2h-2zm6 0h2v2h-2zm1 0h2v2h-2zm12 0h2v2h-2zm8 0h2v2h-2zm8 0h2v2h-2zm9 0h2v2h-2zm9 0h2v2h-2zm9 0h2v2h-2zm1 0h2v2h-2zm23 0h2v2h-2zm1 0h2v2h-2zm9 0h2v2h-2zm16 0h2v2h-2zm1 0h2v2h-2zm1 0h2v2h-2zm5 0h2v2h-2zm1 0h2v2h-2zm19 0h2v2h-2zm1 0h2v2h-2zm1 0h2v2h-2zm3 0h2v2h-2zm2 0h2v2h-2zm4 0h2v2h-2zm2 0h2v2h-2zm1 0h2v2h-2zm2 0h2v2h-2zm1 0h2v2h-2zm3 0h2v2h-2zm4 0h2v2h-2zm1 0h2v2h-2zm2 0h2v2h-2zm1 0h2v2h-2zm1 0h2v2h-2zm13 0h2v2h-2zm4 0h2v2h-2zm9 0h2v2h-2zm2 0h2v2h-2zm4 0h2v2h-2zm1 0h2v2h-2zm4 0h2v2h-2zm10 0h2v2h-2zm1 0h2v2h-2zm1 0h2v2h-2zm-358 1h2v2h-2zm9 0h2v2h-2zm4 0h2v2h-2zm2 0h2v2h-2zm1 0h2v2h-2zm9 0h2v2h-2zm6 0h2v2h-2zm7 0h2v2h-2zm20 0h2v2h-2zm13 0h2v2h-2zm1 0h2v2h-2zm1 0h2v2h-2zm8 0h2v2h-2zm3 0h2v2h-2zm11 0h2v2h-2zm3 0h2v2h-2zm1 0h2v2h-2zm2 0h2v2h-2zm15 0h2v2h-2zm2 0h2v2h-2zm3 0h2v2h-2zm3 0h2v2h-2zm3 0h2v2h-2zm3 0h2v2h-2zm12 0h2v2h-2zm5 0h2v2h-2zm8 0h2v2h-2zm7 0h2v2h-2zm6 0h2v2h-2zm13 0h2v2h-2zm6 0h2v2h-2zm5 0h2v2h-2zm7 0h2v2h-2zm5 0h2v2h-2zm4 0h2v2h-2zm7 0h2v2h-2zm5 0h2v2h-2zm1 0h2v2h-2zm8 0h2v2h-2zm2 0h2v2h-2zm1 0h2v2h-2zm2 0h2v2h-2zm11 0h2v2h-2zm1 0h2v2h-2zm3 0h2v2h-2zm3 0h2v2h-2zm4 0h2v2h-2zm19 0h2v2h-2zm1 0h2v2h-2zm1 0h2v2h-2zm2 0h2v2h-2zm3 0h2v2h-2zm1 0h2v2h-2zm1 0h2v2h-2zm12 0h2v2h-2zm1 0h2v2h-2zm7 0h2v2h-2zm1 0h2v2h-2zm8 0h2v2h-2zm9 0h2v2h-2zm5 0h2v2h-2zm2 0h2v2h-2zm1 0h2v2h-2zm3 0h2v2h-2zm3 0h2v2h-2zm5 0h2v2h-2zm10 0h2v2h-2zm-343 1h2v2h-2zm6 0h2v2h-2zm1 0h2v2h-2zm5 0h2v2h-2zm5 0h2v2h-2zm13 0h2v2h-2zm18 0h2v2h-2zm8 0h2v2h-2zm1 0h2v2h-2zm14 0h2v2h-2zm7 0h2v2h-2zm5 0h2v2h-2zm1 0h2v2h-2zm6 0h2v2h-2zm10 0h2v2h-2zm9 0h2v2h-2zm1 0h2v2h-2zm2 0h2v2h-2zm3 0h2v2h-2zm2 0h2v2h-2zm19 0h2v2h-2zm1 0h2v2h-2zm2 0h2v2h-2zm2 0h2v2h-2zm7 0h2v2h-2zm6 0h2v2h-2zm3 0h2v2h-2zm12 0h2v2h-2zm8 0h2v2h-2zm17 0h2v2h-2zm2 0h2v2h-2zm1 0h2v2h-2zm3 0h2v2h-2zm2 0h2v2h-2zm3 0h2v2h-2zm7 0h2v2h-2zm6 0h2v2h-2zm3 0h2v2h-2zm7 0h2v2h-2zm4 0h2v2h-2zm1 0h2v2h-2zm5 0h2v2h-2zm29 0h2v2h-2zm1 0h2v2h-2zm1 0h2v2h-2zm8 0h2v2h-2zm1 0h2v2h-2zm1 0h2v2h-2zm8 0h2v2h-2zm12 0h2v2h-2zm4 0h2v2h-2zm2 0h2v2h-2zm1 0h2v2h-2zm1 0h2v2h-2zm5 0h2v2h-2zm3 0h2v2h-2zm3 0h2v2h-2zm2 0h2v2h-2zm1 0h2v2h-2zm3 0h2v2h-2zm3 0h2v2h-2zm1 0h2v2h-2zm3 0h2v2h-2zm1 0h2v2h-2zm1 0h2v2h-2zm1 0h2v2h-2zm2 0h2v2h-2zm2 0h2v2h-2zm3 0h2v2h-2zm12 0h2v2h-2zm-359 1h2v2h-2zm4 0h2v2h-2zm1 0h2v2h-2zm7 0h2v2h-2zm4 0h2v2h-2zm12 0h2v2h-2zm18 0h2v2h-2zm1 0h2v2h-2zm1 0h2v2h-2zm3 0h2v2h-2zm11 0h2v2h-2zm8 0h2v2h-2zm2 0h2v2h-2zm2 0h2v2h-2zm5 0h2v2h-2zm7 0h2v2h-2zm9 0h2v2h-2zm7 0h2v2h-2zm20 0h2v2h-2zm10 0h2v2h-2zm8 0h2v2h-2zm5 0h2v2h-2zm13 0h2v2h-2zm10 0h2v2h-2zm7 0h2v2h-2zm3 0h2v2h-2zm3 0h2v2h-2zm6 0h2v2h-2zm5 0h2v2h-2zm4 0h2v2h-2zm3 0h2v2h-2zm4 0h2v2h-2zm3 0h2v2h-2zm5 0h2v2h-2zm1 0h2v2h-2zm12 0h2v2h-2zm3 0h2v2h-2zm4 0h2v2h-2zm4 0h2v2h-2zm6 0h2v2h-2zm3 0h2v2h-2zm3 0h2v2h-2zm2 0h2v2h-2zm8 0h2v2h-2zm5 0h2v2h-2zm9 0h2v2h-2zm4 0h2v2h-2zm5 0h2v2h-2zm2 0h2v2h-2zm5 0h2v2h-2zm1 0h2v2h-2zm10 0h2v2h-2zm3 0h2v2h-2zm5 0h2v2h-2zm11 0h2v2h-2zm1 0h2v2h-2zm6 0h2v2h-2zm1 0h2v2h-2zm6 0h2v2h-2zm1 0h2v2h-2zm7 0h2v2h-2zm1 0h2v2h-2zm1 0h2v2h-2zm4 0h2v2h-2zm5 0h2v2h-2zm1 0h2v2h-2zm-356 1h2v2h-2zm9 0h2v2h-2zm28 0h2v2h-2zm3 0h2v2h-2zm5 0h2v2h-2zm2 0h2v2h-2zm3 0h2v2h-2zm5 0h2v2h-2zm4 0h2v2h-2zm2 0h2v2h-2zm7 0h2v2h-2zm28 0h2v2h-2zm1 0h2v2h-2zm5 0h2v2h-2zm4 0h2v2h-2zm4 0h2v2h-2zm7 0h2v2h-2zm1 0h2v2h-2zm2 0h2v2h-2zm6 0h2v2h-2zm2 0h2v2h-2zm3 0h2v2h-2zm1 0h2v2h-2zm11 0h2v2h-2zm4 0h2v2h-2zm9 0h2v2h-2zm19 0h2v2h-2zm1 0h2v2h-2zm9 0h2v2h-2zm7 0h2v2h-2zm5 0h2v2h-2zm20 0h2v2h-2zm2 0h2v2h-2zm14 0h2v2h-2zm4 0h2v2h-2zm1 0h2v2h-2zm1 0h2v2h-2zm2 0h2v2h-2zm1 0h2v2h-2zm7 0h2v2h-2zm3 0h2v2h-2zm7 0h2v2h-2zm4 0h2v2h-2zm3 0h2v2h-2zm18 0h2v2h-2zm4 0h2v2h-2zm2 0h2v2h-2zm10 0h2v2h-2zm7 0h2v2h-2zm7 0h2v2h-2zm1 0h2v2h-2zm5 0h2v2h-2zm3 0h2v2h-2zm2 0h2v2h-2zm1 0h2v2h-2zm1 0h2v2h-2zm1 0h2v2h-2zm1 0h2v2h-2zm8 0h2v2h-2zm6 0h2v2h-2zm1 0h2v2h-2zm4 0h2v2h-2zm2 0h2v2h-2zm1 0h2v2h-2zm2 0h2v2h-2zm-335 1h2v2h-2zm6 0h2v2h-2zm14 0h2v2h-2zm8 0h2v2h-2zm1 0h2v2h-2zm10 0h2v2h-2zm2 0h2v2h-2zm1 0h2v2h-2zm15 0h2v2h-2zm6 0h2v2h-2zm8 0h2v2h-2zm12 0h2v2h-2zm2 0h2v2h-2zm8 0h2v2h-2zm7 0h2v2h-2zm23 0h2v2h-2zm4 0h2v2h-2zm18 0h2v2h-2zm1 0h2v2h-2zm20 0h2v2h-2zm2 0h2v2h-2zm1 0h2v2h-2zm2 0h2v2h-2zm1 0h2v2h-2zm3 0h2v2h-2zm4 0h2v2h-2zm15 0h2v2h-2zm1 0h2v2h-2zm9 0h2v2h-2zm11 0h2v2h-2zm4 0h2v2h-2zm8 0h2v2h-2zm1 0h2v2h-2zm4 0h2v2h-2zm1 0h2v2h-2zm3 0h2v2h-2zm2 0h2v2h-2zm1 0h2v2h-2zm4 0h2v2h-2zm1 0h2v2h-2zm4 0h2v2h-2zm12 0h2v2h-2zm3 0h2v2h-2zm2 0h2v2h-2zm1 0h2v2h-2zm1 0h2v2h-2zm11 0h2v2h-2zm1 0h2v2h-2zm5 0h2v2h-2zm2 0h2v2h-2zm2 0h2v2h-2zm12 0h2v2h-2zm1 0h2v2h-2zm5 0h2v2h-2zm9 0h2v2h-2zm4 0h2v2h-2zm6 0h2v2h-2zm2 0h2v2h-2zm2 0h2v2h-2zm1 0h2v2h-2zm2 0h2v2h-2zm1 0h2v2h-2zm1 0h2v2h-2zm1 0h2v2h-2zm1 0h2v2h-2zm3 0h2v2h-2zm-354 1h2v2h-2zm8 0h2v2h-2zm22 0h2v2h-2zm16 0h2v2h-2zm2 0h2v2h-2zm4 0h2v2h-2zm3 0h2v2h-2zm3 0h2v2h-2zm4 0h2v2h-2zm1 0h2v2h-2zm3 0h2v2h-2zm1 0h2v2h-2zm4 0h2v2h-2zm6 0h2v2h-2zm21 0h2v2h-2zm2 0h2v2h-2zm18 0h2v2h-2zm17 0h2v2h-2zm7 0h2v2h-2zm20 0h2v2h-2zm7 0h2v2h-2zm13 0h2v2h-2zm2 0h2v2h-2zm19 0h2v2h-2zm3 0h2v2h-2zm2 0h2v2h-2zm6 0h2v2h-2zm15 0h2v2h-2zm2 0h2v2h-2zm4 0h2v2h-2zm7 0h2v2h-2zm2 0h2v2h-2zm3 0h2v2h-2zm2 0h2v2h-2zm8 0h2v2h-2zm2 0h2v2h-2zm2 0h2v2h-2zm11 0h2v2h-2zm4 0h2v2h-2zm2 0h2v2h-2zm4 0h2v2h-2zm4 0h2v2h-2zm7 0h2v2h-2zm2 0h2v2h-2zm5 0h2v2h-2zm6 0h2v2h-2zm13 0h2v2h-2zm1 0h2v2h-2zm2 0h2v2h-2zm1 0h2v2h-2zm2 0h2v2h-2zm2 0h2v2h-2zm2 0h2v2h-2zm7 0h2v2h-2zm2 0h2v2h-2zm1 0h2v2h-2zm2 0h2v2h-2zm4 0h2v2h-2zm3 0h2v2h-2zm10 0h2v2h-2zm-351 1h2v2h-2zm5 0h2v2h-2zm33 0h2v2h-2zm4 0h2v2h-2zm5 0h2v2h-2zm14 0h2v2h-2zm2 0h2v2h-2zm5 0h2v2h-2zm20 0h2v2h-2zm2 0h2v2h-2zm10 0h2v2h-2zm7 0h2v2h-2zm11 0h2v2h-2zm1 0h2v2h-2zm10 0h2v2h-2zm2 0h2v2h-2zm32 0h2v2h-2zm5 0h2v2h-2zm3 0h2v2h-2zm3 0h2v2h-2zm1 0h2v2h-2zm2 0h2v2h-2zm1 0h2v2h-2zm1 0h2v2h-2zm3 0h2v2h-2zm3 0h2v2h-2zm3 0h2v2h-2zm2 0h2v2h-2zm1 0h2v2h-2zm5 0h2v2h-2zm3 0h2v2h-2zm8 0h2v2h-2zm15 0h2v2h-2zm5 0h2v2h-2zm11 0h2v2h-2zm1 0h2v2h-2zm4 0h2v2h-2zm7 0h2v2h-2zm10 0h2v2h-2zm3 0h2v2h-2zm4 0h2v2h-2zm2 0h2v2h-2zm6 0h2v2h-2zm2 0h2v2h-2zm1 0h2v2h-2zm7 0h2v2h-2zm10 0h2v2h-2zm1 0h2v2h-2zm3 0h2v2h-2zm2 0h2v2h-2zm1 0h2v2h-2zm7 0h2v2h-2zm1 0h2v2h-2zm2 0h2v2h-2zm4 0h2v2h-2zm3 0h2v2h-2zm2 0h2v2h-2zm3 0h2v2h-2zm7 0h2v2h-2zm1 0h2v2h-2zm2 0h2v2h-2zm1 0h2v2h-2zm4 0h2v2h-2zm12 0h2v2h-2zm-352 1h2v2h-2zm4 0h2v2h-2zm2 0h2v2h-2zm7 0h2v2h-2zm8 0h2v2h-2zm25 0h2v2h-2zm31 0h2v2h-2zm24 0h2v2h-2zm6 0h2v2h-2zm1 0h2v2h-2zm35 0h2v2h-2zm12 0h2v2h-2zm4 0h2v2h-2zm16 0h2v2h-2zm3 0h2v2h-2zm8 0h2v2h-2zm6 0h2v2h-2zm1 0h2v2h-2zm7 0h2v2h-2zm2 0h2v2h-2zm5 0h2v2h-2zm2 0h2v2h-2zm11 0h2v2h-2zm9 0h2v2h-2zm7 0h2v2h-2zm3 0h2v2h-2zm9 0h2v2h-2zm4 0h2v2h-2zm8 0h2v2h-2zm7 0h2v2h-2zm3 0h2v2h-2zm1 0h2v2h-2zm2 0h2v2h-2zm2 0h2v2h-2zm3 0h2v2h-2zm2 0h2v2h-2zm6 0h2v2h-2zm2 0h2v2h-2zm2 0h2v2h-2zm2 0h2v2h-2zm4 0h2v2h-2zm2 0h2v2h-2zm11 0h2v2h-2zm1 0h2v2h-2zm2 0h2v2h-2zm5 0h2v2h-2zm10 0h2v2h-2zm5 0h2v2h-2zm5 0h2v2h-2zm1 0h2v2h-2zm2 0h2v2h-2zm2 0h2v2h-2zm5 0h2v2h-2zm-347 1h2v2h-2zm11 0h2v2h-2zm16 0h2v2h-2zm3 0h2v2h-2zm32 0h2v2h-2zm1 0h2v2h-2zm19 0h2v2h-2zm32 0h2v2h-2zm9 0h2v2h-2zm10 0h2v2h-2zm9 0h2v2h-2zm4 0h2v2h-2zm8 0h2v2h-2zm2 0h2v2h-2zm5 0h2v2h-2zm1 0h2v2h-2zm10 0h2v2h-2zm4 0h2v2h-2zm7 0h2v2h-2zm14 0h2v2h-2zm7 0h2v2h-2zm3 0h2v2h-2zm13 0h2v2h-2zm2 0h2v2h-2zm3 0h2v2h-2zm8 0h2v2h-2zm1 0h2v2h-2zm7 0h2v2h-2zm2 0h2v2h-2zm2 0h2v2h-2zm5 0h2v2h-2zm4 0h2v2h-2zm3 0h2v2h-2zm6 0h2v2h-2zm1 0h2v2h-2zm2 0h2v2h-2zm3 0h2v2h-2zm3 0h2v2h-2zm10 0h2v2h-2zm4 0h2v2h-2zm13 0h2v2h-2zm4 0h2v2h-2zm8 0h2v2h-2zm2 0h2v2h-2zm1 0h2v2h-2zm1 0h2v2h-2zm4 0h2v2h-2zm14 0h2v2h-2zm4 0h2v2h-2zm1 0h2v2h-2zm1 0h2v2h-2zm4 0h2v2h-2zm3 0h2v2h-2zm2 0h2v2h-2zm1 0h2v2h-2zm3 0h2v2h-2zm-322 1h2v2h-2zm12 0h2v2h-2zm35 0h2v2h-2zm11 0h2v2h-2zm22 0h2v2h-2zm3 0h2v2h-2zm1 0h2v2h-2zm3 0h2v2h-2zm44 0h2v2h-2zm1 0h2v2h-2zm4 0h2v2h-2zm9 0h2v2h-2zm4 0h2v2h-2zm1 0h2v2h-2zm3 0h2v2h-2zm5 0h2v2h-2zm11 0h2v2h-2zm1 0h2v2h-2zm1 0h2v2h-2zm1 0h2v2h-2zm20 0h2v2h-2zm4 0h2v2h-2zm4 0h2v2h-2zm8 0h2v2h-2zm6 0h2v2h-2zm4 0h2v2h-2zm3 0h2v2h-2zm1 0h2v2h-2zm2 0h2v2h-2zm6 0h2v2h-2zm2 0h2v2h-2zm1 0h2v2h-2zm1 0h2v2h-2zm6 0h2v2h-2zm1 0h2v2h-2zm7 0h2v2h-2zm4 0h2v2h-2zm5 0h2v2h-2zm3 0h2v2h-2zm2 0h2v2h-2zm4 0h2v2h-2zm1 0h2v2h-2zm6 0h2v2h-2zm12 0h2v2h-2zm1 0h2v2h-2zm1 0h2v2h-2zm3 0h2v2h-2zm4 0h2v2h-2zm8 0h2v2h-2zm4 0h2v2h-2zm5 0h2v2h-2zm4 0h2v2h-2zm-340 1h2v2h-2zm16 0h2v2h-2zm10 0h2v2h-2zm24 0h2v2h-2zm11 0h2v2h-2zm5 0h2v2h-2zm19 0h2v2h-2zm19 0h2v2h-2zm20 0h2v2h-2zm7 0h2v2h-2zm5 0h2v2h-2zm1 0h2v2h-2zm8 0h2v2h-2zm10 0h2v2h-2zm1 0h2v2h-2zm1 0h2v2h-2zm7 0h2v2h-2zm1 0h2v2h-2zm6 0h2v2h-2zm5 0h2v2h-2zm1 0h2v2h-2zm2 0h2v2h-2zm1 0h2v2h-2zm3 0h2v2h-2zm2 0h2v2h-2zm5 0h2v2h-2zm8 0h2v2h-2zm12 0h2v2h-2zm4 0h2v2h-2zm4 0h2v2h-2zm7 0h2v2h-2zm3 0h2v2h-2zm3 0h2v2h-2zm1 0h2v2h-2zm4 0h2v2h-2zm7 0h2v2h-2zm2 0h2v2h-2zm2 0h2v2h-2zm5 0h2v2h-2zm6 0h2v2h-2zm1 0h2v2h-2zm1 0h2v2h-2zm2 0h2v2h-2zm2 0h2v2h-2zm3 0h2v2h-2zm2 0h2v2h-2zm4 0h2v2h-2zm3 0h2v2h-2zm2 0h2v2h-2zm4 0h2v2h-2zm3 0h2v2h-2zm1 0h2v2h-2zm3 0h2v2h-2zm3 0h2v2h-2zm1 0h2v2h-2zm3 0h2v2h-2zm4 0h2v2h-2zm6 0h2v2h-2zm6 0h2v2h-2zm16 0h2v2h-2zm10 0h2v2h-2zm-342 1h2v2h-2zm3 0h2v2h-2zm9 0h2v2h-2zm31 0h2v2h-2zm17 0h2v2h-2zm11 0h2v2h-2zm3 0h2v2h-2zm11 0h2v2h-2zm8 0h2v2h-2zm14 0h2v2h-2zm27 0h2v2h-2zm22 0h2v2h-2zm18 0h2v2h-2zm2 0h2v2h-2zm2 0h2v2h-2zm3 0h2v2h-2zm8 0h2v2h-2zm8 0h2v2h-2zm1 0h2v2h-2zm4 0h2v2h-2zm1 0h2v2h-2zm1 0h2v2h-2zm1 0h2v2h-2zm8 0h2v2h-2zm1 0h2v2h-2zm1 0h2v2h-2zm3 0h2v2h-2zm3 0h2v2h-2zm8 0h2v2h-2zm2 0h2v2h-2zm21 0h2v2h-2zm6 0h2v2h-2zm2 0h2v2h-2zm1 0h2v2h-2zm1 0h2v2h-2zm4 0h2v2h-2zm16 0h2v2h-2zm5 0h2v2h-2zm1 0h2v2h-2zm4 0h2v2h-2zm5 0h2v2h-2zm1 0h2v2h-2zm8 0h2v2h-2zm6 0h2v2h-2zm3 0h2v2h-2zm5 0h2v2h-2zm1 0h2v2h-2zm4 0h2v2h-2zm1 0h2v2h-2zm1 0h2v2h-2zm5 0h2v2h-2zm7 0h2v2h-2zm-347 1h2v2h-2zm4 0h2v2h-2zm33 0h2v2h-2zm2 0h2v2h-2zm8 0h2v2h-2zm3 0h2v2h-2zm7 0h2v2h-2zm1 0h2v2h-2zm32 0h2v2h-2zm7 0h2v2h-2zm4 0h2v2h-2zm13 0h2v2h-2zm9 0h2v2h-2zm2 0h2v2h-2zm2 0h2v2h-2zm3 0h2v2h-2zm3 0h2v2h-2zm10 0h2v2h-2zm13 0h2v2h-2zm12 0h2v2h-2zm5 0h2v2h-2zm3 0h2v2h-2zm11 0h2v2h-2zm3 0h2v2h-2zm19 0h2v2h-2zm5 0h2v2h-2zm17 0h2v2h-2zm18 0h2v2h-2zm2 0h2v2h-2zm21 0h2v2h-2zm1 0h2v2h-2zm6 0h2v2h-2zm3 0h2v2h-2zm6 0h2v2h-2zm4 0h2v2h-2zm2 0h2v2h-2zm2 0h2v2h-2zm5 0h2v2h-2zm8 0h2v2h-2zm13 0h2v2h-2zm3 0h2v2h-2zm5 0h2v2h-2zm3 0h2v2h-2zm12 0h2v2h-2zm1 0h2v2h-2zm4 0h2v2h-2zm13 0h2v2h-2zm3 0h2v2h-2zm-367 1h2v2h-2zm14 0h2v2h-2zm9 0h2v2h-2zm33 0h2v2h-2zm15 0h2v2h-2zm6 0h2v2h-2zm2 0h2v2h-2zm3 0h2v2h-2zm9 0h2v2h-2zm7 0h2v2h-2zm2 0h2v2h-2zm16 0h2v2h-2zm6 0h2v2h-2zm4 0h2v2h-2zm2 0h2v2h-2zm15 0h2v2h-2zm3 0h2v2h-2zm6 0h2v2h-2zm2 0h2v2h-2zm7 0h2v2h-2zm2 0h2v2h-2zm3 0h2v2h-2zm3 0h2v2h-2zm14 0h2v2h-2zm1 0h2v2h-2zm1 0h2v2h-2zm22 0h2v2h-2zm7 0h2v2h-2zm3 0h2v2h-2zm10 0h2v2h-2zm1 0h2v2h-2zm23 0h2v2h-2zm12 0h2v2h-2zm5 0h2v2h-2zm25 0h2v2h-2zm4 0h2v2h-2zm2 0h2v2h-2zm3 0h2v2h-2zm3 0h2v2h-2zm7 0h2v2h-2zm15 0h2v2h-2zm8 0h2v2h-2zm5 0h2v2h-2zm8 0h2v2h-2zm3 0h2v2h-2zm-356 1h2v2h-2zm35 0h2v2h-2zm8 0h2v2h-2zm14 0h2v2h-2zm1 0h2v2h-2zm9 0h2v2h-2zm3 0h2v2h-2zm4 0h2v2h-2zm7 0h2v2h-2zm13 0h2v2h-2zm1 0h2v2h-2zm3 0h2v2h-2zm5 0h2v2h-2zm3 0h2v2h-2zm8 0h2v2h-2zm2 0h2v2h-2zm13 0h2v2h-2zm3 0h2v2h-2zm2 0h2v2h-2zm3 0h2v2h-2zm19 0h2v2h-2zm3 0h2v2h-2zm2 0h2v2h-2zm7 0h2v2h-2zm17 0h2v2h-2zm9 0h2v2h-2zm3 0h2v2h-2zm1 0h2v2h-2zm4 0h2v2h-2zm18 0h2v2h-2zm5 0h2v2h-2zm3 0h2v2h-2zm7 0h2v2h-2zm7 0h2v2h-2zm6 0h2v2h-2zm1 0h2v2h-2zm11 0h2v2h-2zm1 0h2v2h-2zm2 0h2v2h-2zm7 0h2v2h-2zm3 0h2v2h-2zm8 0h2v2h-2zm5 0h2v2h-2zm4 0h2v2h-2zm4 0h2v2h-2zm12 0h2v2h-2zm7 0h2v2h-2zm2 0h2v2h-2zm7 0h2v2h-2zm8 0h2v2h-2zm5 0h2v2h-2zm4 0h2v2h-2zm1 0h2v2h-2zm10 0h2v2h-2zm3 0h2v2h-2zm8 0h2v2h-2zm-345 1h2v2h-2zm16 0h2v2h-2zm4 0h2v2h-2zm23 0h2v2h-2zm6 0h2v2h-2zm16 0h2v2h-2zm5 0h2v2h-2zm2 0h2v2h-2zm18 0h2v2h-2zm5 0h2v2h-2zm1 0h2v2h-2zm4 0h2v2h-2zm16 0h2v2h-2zm11 0h2v2h-2zm5 0h2v2h-2zm9 0h2v2h-2zm2 0h2v2h-2zm5 0h2v2h-2zm2 0h2v2h-2zm1 0h2v2h-2zm2 0h2v2h-2zm4 0h2v2h-2zm23 0h2v2h-2zm11 0h2v2h-2zm2 0h2v2h-2zm5 0h2v2h-2zm15 0h2v2h-2zm1 0h2v2h-2zm3 0h2v2h-2zm7 0h2v2h-2zm2 0h2v2h-2zm3 0h2v2h-2zm18 0h2v2h-2zm3 0h2v2h-2zm1 0h2v2h-2zm40 0h2v2h-2zm4 0h2v2h-2zm2 0h2v2h-2zm11 0h2v2h-2zm4 0h2v2h-2zm4 0h2v2h-2zm7 0h2v2h-2zm2 0h2v2h-2zm9 0h2v2h-2zm9 0h2v2h-2zm-354 1h2v2h-2zm23 0h2v2h-2zm8 0h2v2h-2zm1 0h2v2h-2zm23 0h2v2h-2zm6 0h2v2h-2zm10 0h2v2h-2zm51 0h2v2h-2zm15 0h2v2h-2zm17 0h2v2h-2zm8 0h2v2h-2zm4 0h2v2h-2zm2 0h2v2h-2zm8 0h2v2h-2zm10 0h2v2h-2zm14 0h2v2h-2zm3 0h2v2h-2zm1 0h2v2h-2zm7 0h2v2h-2zm3 0h2v2h-2zm17 0h2v2h-2zm2 0h2v2h-2zm9 0h2v2h-2zm1 0h2v2h-2zm6 0h2v2h-2zm4 0h2v2h-2zm6 0h2v2h-2zm4 0h2v2h-2zm6 0h2v2h-2zm33 0h2v2h-2zm3 0h2v2h-2zm3 0h2v2h-2zm4 0h2v2h-2zm23 0h2v2h-2zm6 0h2v2h-2zm1 0h2v2h-2zm7 0h2v2h-2zm10 0h2v2h-2zm-355 1h2v2h-2zm10 0h2v2h-2zm1 0h2v2h-2zm4 0h2v2h-2zm8 0h2v2h-2zm10 0h2v2h-2zm20 0h2v2h-2zm2 0h2v2h-2zm15 0h2v2h-2zm7 0h2v2h-2zm9 0h2v2h-2zm1 0h2v2h-2zm1 0h2v2h-2zm5 0h2v2h-2zm18 0h2v2h-2zm1 0h2v2h-2zm1 0h2v2h-2zm1 0h2v2h-2zm2 0h2v2h-2zm1 0h2v2h-2zm12 0h2v2h-2zm6 0h2v2h-2zm1 0h2v2h-2zm1 0h2v2h-2zm24 0h2v2h-2zm2 0h2v2h-2zm8 0h2v2h-2zm8 0h2v2h-2zm29 0h2v2h-2zm3 0h2v2h-2zm14 0h2v2h-2zm3 0h2v2h-2zm6 0h2v2h-2zm4 0h2v2h-2zm18 0h2v2h-2zm16 0h2v2h-2zm4 0h2v2h-2zm9 0h2v2h-2zm2 0h2v2h-2zm16 0h2v2h-2zm3 0h2v2h-2zm13 0h2v2h-2zm2 0h2v2h-2zm4 0h2v2h-2zm9 0h2v2h-2zm5 0h2v2h-2zm4 0h2v2h-2zm2 0h2v2h-2zm2 0h2v2h-2zm3 0h2v2h-2zm1 0h2v2h-2zm-369 1h2v2h-2zm19 0h2v2h-2zm2 0h2v2h-2zm8 0h2v2h-2zm6 0h2v2h-2zm3 0h2v2h-2zm3 0h2v2h-2zm4 0h2v2h-2zm7 0h2v2h-2zm14 0h2v2h-2zm1 0h2v2h-2zm2 0h2v2h-2zm3 0h2v2h-2zm5 0h2v2h-2zm32 0h2v2h-2zm4 0h2v2h-2zm1 0h2v2h-2zm2 0h2v2h-2zm2 0h2v2h-2zm12 0h2v2h-2zm5 0h2v2h-2zm8 0h2v2h-2zm10 0h2v2h-2zm6 0h2v2h-2zm19 0h2v2h-2zm2 0h2v2h-2zm3 0h2v2h-2zm3 0h2v2h-2zm7 0h2v2h-2zm21 0h2v2h-2zm10 0h2v2h-2zm4 0h2v2h-2zm4 0h2v2h-2zm19 0h2v2h-2zm1 0h2v2h-2zm5 0h2v2h-2zm4 0h2v2h-2zm9 0h2v2h-2zm1 0h2v2h-2zm1 0h2v2h-2zm8 0h2v2h-2zm6 0h2v2h-2zm6 0h2v2h-2zm1 0h2v2h-2zm20 0h2v2h-2zm1 0h2v2h-2zm8 0h2v2h-2zm29 0h2v2h-2zm4 0h2v2h-2zm9 0h2v2h-2zm4 0h2v2h-2zm2 0h2v2h-2zm1 0h2v2h-2zm3 0h2v2h-2zm-351 1h2v2h-2zm1 0h2v2h-2zm1 0h2v2h-2zm5 0h2v2h-2zm10 0h2v2h-2zm5 0h2v2h-2zm6 0h2v2h-2zm4 0h2v2h-2zm1 0h2v2h-2zm3 0h2v2h-2zm12 0h2v2h-2zm9 0h2v2h-2zm5 0h2v2h-2zm6 0h2v2h-2zm1 0h2v2h-2zm5 0h2v2h-2zm1 0h2v2h-2zm7 0h2v2h-2zm14 0h2v2h-2zm5 0h2v2h-2zm10 0h2v2h-2zm21 0h2v2h-2zm3 0h2v2h-2zm1 0h2v2h-2zm2 0h2v2h-2zm3 0h2v2h-2zm7 0h2v2h-2zm10 0h2v2h-2zm6 0h2v2h-2zm2 0h2v2h-2zm11 0h2v2h-2zm4 0h2v2h-2zm43 0h2v2h-2zm1 0h2v2h-2zm2 0h2v2h-2zm2 0h2v2h-2zm1 0h2v2h-2zm22 0h2v2h-2zm6 0h2v2h-2zm5 0h2v2h-2zm25 0h2v2h-2zm10 0h2v2h-2zm7 0h2v2h-2zm7 0h2v2h-2zm1 0h2v2h-2zm1 0h2v2h-2zm4 0h2v2h-2zm17 0h2v2h-2zm-338 1h2v2h-2zm7 0h2v2h-2zm1 0h2v2h-2zm8 0h2v2h-2zm5 0h2v2h-2zm8 0h2v2h-2zm3 0h2v2h-2zm7 0h2v2h-2zm11 0h2v2h-2zm1 0h2v2h-2zm10 0h2v2h-2zm1 0h2v2h-2zm3 0h2v2h-2zm1 0h2v2h-2zm3 0h2v2h-2zm11 0h2v2h-2zm10 0h2v2h-2zm5 0h2v2h-2zm2 0h2v2h-2zm5 0h2v2h-2zm13 0h2v2h-2zm1 0h2v2h-2zm2 0h2v2h-2zm5 0h2v2h-2zm10 0h2v2h-2zm6 0h2v2h-2zm17 0h2v2h-2zm2 0h2v2h-2zm2 0h2v2h-2zm1 0h2v2h-2zm10 0h2v2h-2zm9 0h2v2h-2zm4 0h2v2h-2zm1 0h2v2h-2zm14 0h2v2h-2zm3 0h2v2h-2zm7 0h2v2h-2zm6 0h2v2h-2zm4 0h2v2h-2zm8 0h2v2h-2zm2 0h2v2h-2zm6 0h2v2h-2zm7 0h2v2h-2zm3 0h2v2h-2zm3 0h2v2h-2zm4 0h2v2h-2zm6 0h2v2h-2zm9 0h2v2h-2zm6 0h2v2h-2zm4 0h2v2h-2zm5 0h2v2h-2zm14 0h2v2h-2zm2 0h2v2h-2zm2 0h2v2h-2zm1 0h2v2h-2zm16 0h2v2h-2zm2 0h2v2h-2zm11 0h2v2h-2zm4 0h2v2h-2zm3 0h2v2h-2zm1 0h2v2h-2zm3 0h2v2h-2zm1 0h2v2h-2zm2 0h2v2h-2zm5 0h2v2h-2zm3 0h2v2h-2zm-368 1h2v2h-2zm24 0h2v2h-2zm8 0h2v2h-2zm16 0h2v2h-2zm13 0h2v2h-2zm2 0h2v2h-2zm5 0h2v2h-2zm14 0h2v2h-2zm10 0h2v2h-2zm7 0h2v2h-2zm8 0h2v2h-2zm4 0h2v2h-2zm15 0h2v2h-2zm1 0h2v2h-2zm7 0h2v2h-2zm11 0h2v2h-2zm2 0h2v2h-2zm5 0h2v2h-2zm1 0h2v2h-2zm1 0h2v2h-2zm21 0h2v2h-2zm6 0h2v2h-2zm5 0h2v2h-2zm11 0h2v2h-2zm1 0h2v2h-2zm2 0h2v2h-2zm2 0h2v2h-2zm17 0h2v2h-2zm6 0h2v2h-2zm16 0h2v2h-2zm2 0h2v2h-2zm4 0h2v2h-2zm21 0h2v2h-2zm2 0h2v2h-2zm1 0h2v2h-2zm18 0h2v2h-2zm2 0h2v2h-2zm1 0h2v2h-2zm2 0h2v2h-2zm12 0h2v2h-2zm15 0h2v2h-2zm2 0h2v2h-2zm2 0h2v2h-2zm6 0h2v2h-2zm9 0h2v2h-2zm6 0h2v2h-2zm2 0h2v2h-2zm8 0h2v2h-2zm3 0h2v2h-2zm2 0h2v2h-2zm7 0h2v2h-2zm1 0h2v2h-2zm-355 1h2v2h-2zm1 0h2v2h-2zm5 0h2v2h-2zm15 0h2v2h-2zm20 0h2v2h-2zm27 0h2v2h-2zm3 0h2v2h-2zm1 0h2v2h-2zm2 0h2v2h-2zm5 0h2v2h-2zm1 0h2v2h-2zm12 0h2v2h-2zm3 0h2v2h-2zm1 0h2v2h-2zm2 0h2v2h-2zm2 0h2v2h-2zm23 0h2v2h-2zm15 0h2v2h-2zm1 0h2v2h-2zm5 0h2v2h-2zm19 0h2v2h-2zm1 0h2v2h-2zm17 0h2v2h-2zm3 0h2v2h-2zm2 0h2v2h-2zm1 0h2v2h-2zm18 0h2v2h-2zm1 0h2v2h-2zm1 0h2v2h-2zm4 0h2v2h-2zm2 0h2v2h-2zm5 0h2v2h-2zm4 0h2v2h-2zm3 0h2v2h-2zm2 0h2v2h-2zm1 0h2v2h-2zm10 0h2v2h-2zm1 0h2v2h-2zm2 0h2v2h-2zm15 0h2v2h-2zm4 0h2v2h-2zm7 0h2v2h-2zm1 0h2v2h-2zm5 0h2v2h-2zm5 0h2v2h-2zm5 0h2v2h-2zm5 0h2v2h-2zm4 0h2v2h-2zm1 0h2v2h-2zm2 0h2v2h-2zm5 0h2v2h-2zm5 0h2v2h-2zm2 0h2v2h-2zm16 0h2v2h-2zm10 0h2v2h-2zm2 0h2v2h-2zm1 0h2v2h-2zm2 0h2v2h-2zm6 0h2v2h-2zm2 0h2v2h-2zm1 0h2v2h-2zm3 0h2v2h-2zm-349 1h2v2h-2zm3 0h2v2h-2zm1 0h2v2h-2zm11 0h2v2h-2zm8 0h2v2h-2zm3 0h2v2h-2zm4 0h2v2h-2zm6 0h2v2h-2zm9 0h2v2h-2zm4 0h2v2h-2zm5 0h2v2h-2zm1 0h2v2h-2zm16 0h2v2h-2zm2 0h2v2h-2zm1 0h2v2h-2zm7 0h2v2h-2zm1 0h2v2h-2zm3 0h2v2h-2zm9 0h2v2h-2zm14 0h2v2h-2zm16 0h2v2h-2zm9 0h2v2h-2zm17 0h2v2h-2zm14 0h2v2h-2zm6 0h2v2h-2zm4 0h2v2h-2zm17 0h2v2h-2zm12 0h2v2h-2zm2 0h2v2h-2zm8 0h2v2h-2zm2 0h2v2h-2zm6 0h2v2h-2zm6 0h2v2h-2zm3 0h2v2h-2zm1 0h2v2h-2zm3 0h2v2h-2zm1 0h2v2h-2zm3 0h2v2h-2zm21 0h2v2h-2zm6 0h2v2h-2zm2 0h2v2h-2zm1 0h2v2h-2zm6 0h2v2h-2zm2 0h2v2h-2zm3 0h2v2h-2zm4 0h2v2h-2zm10 0h2v2h-2zm16 0h2v2h-2zm1 0h2v2h-2zm5 0h2v2h-2zm1 0h2v2h-2zm1 0h2v2h-2zm2 0h2v2h-2zm1 0h2v2h-2zm3 0h2v2h-2zm15 0h2v2h-2zm1 0h2v2h-2zm11 0h2v2h-2zm3 0h2v2h-2zm-362 1h2v2h-2zm10 0h2v2h-2zm2 0h2v2h-2zm2 0h2v2h-2zm14 0h2v2h-2zm10 0h2v2h-2zm16 0h2v2h-2zm1 0h2v2h-2zm2 0h2v2h-2zm26 0h2v2h-2zm5 0h2v2h-2zm11 0h2v2h-2zm8 0h2v2h-2zm6 0h2v2h-2zm19 0h2v2h-2zm6 0h2v2h-2zm7 0h2v2h-2zm27 0h2v2h-2zm6 0h2v2h-2zm1 0h2v2h-2zm13 0h2v2h-2zm1 0h2v2h-2zm21 0h2v2h-2zm4 0h2v2h-2zm2 0h2v2h-2zm1 0h2v2h-2zm4 0h2v2h-2zm2 0h2v2h-2zm11 0h2v2h-2zm8 0h2v2h-2zm5 0h2v2h-2zm8 0h2v2h-2zm5 0h2v2h-2zm2 0h2v2h-2zm12 0h2v2h-2zm8 0h2v2h-2zm3 0h2v2h-2zm12 0h2v2h-2zm2 0h2v2h-2zm2 0h2v2h-2zm4 0h2v2h-2zm9 0h2v2h-2zm1 0h2v2h-2zm6 0h2v2h-2zm8 0h2v2h-2zm6 0h2v2h-2zm4 0h2v2h-2zm3 0h2v2h-2zm2 0h2v2h-2zm1 0h2v2h-2zm3 0h2v2h-2zm3 0h2v2h-2zm-354 1h2v2h-2zm10 0h2v2h-2zm7 0h2v2h-2zm16 0h2v2h-2zm5 0h2v2h-2zm7 0h2v2h-2zm1 0h2v2h-2zm3 0h2v2h-2zm5 0h2v2h-2zm3 0h2v2h-2zm5 0h2v2h-2zm6 0h2v2h-2zm12 0h2v2h-2zm5 0h2v2h-2zm4 0h2v2h-2zm15 0h2v2h-2zm6 0h2v2h-2zm28 0h2v2h-2zm10 0h2v2h-2zm1 0h2v2h-2zm9 0h2v2h-2zm8 0h2v2h-2zm16 0h2v2h-2zm2 0h2v2h-2zm2 0h2v2h-2zm8 0h2v2h-2zm1 0h2v2h-2zm9 0h2v2h-2zm4 0h2v2h-2zm5 0h2v2h-2zm4 0h2v2h-2zm4 0h2v2h-2zm9 0h2v2h-2zm8 0h2v2h-2zm3 0h2v2h-2zm3 0h2v2h-2zm10 0h2v2h-2zm1 0h2v2h-2zm4 0h2v2h-2zm1 0h2v2h-2zm13 0h2v2h-2zm4 0h2v2h-2zm7 0h2v2h-2zm19 0h2v2h-2zm1 0h2v2h-2zm1 0h2v2h-2zm1 0h2v2h-2zm3 0h2v2h-2zm1 0h2v2h-2zm1 0h2v2h-2zm4 0h2v2h-2zm1 0h2v2h-2zm2 0h2v2h-2zm13 0h2v2h-2zm1 0h2v2h-2zm12 0h2v2h-2zm3 0h2v2h-2zm3 0h2v2h-2zm1 0h2v2h-2zm2 0h2v2h-2zm4 0h2v2h-2zm-352 1h2v2h-2zm8 0h2v2h-2zm8 0h2v2h-2zm1 0h2v2h-2zm15 0h2v2h-2zm2 0h2v2h-2zm6 0h2v2h-2zm12 0h2v2h-2zm1 0h2v2h-2zm19 0h2v2h-2zm3 0h2v2h-2zm2 0h2v2h-2zm12 0h2v2h-2zm4 0h2v2h-2zm3 0h2v2h-2zm1 0h2v2h-2zm1 0h2v2h-2zm28 0h2v2h-2zm11 0h2v2h-2zm18 0h2v2h-2zm15 0h2v2h-2zm1 0h2v2h-2zm4 0h2v2h-2zm1 0h2v2h-2zm5 0h2v2h-2zm6 0h2v2h-2zm5 0h2v2h-2zm2 0h2v2h-2zm1 0h2v2h-2zm4 0h2v2h-2zm4 0h2v2h-2zm11 0h2v2h-2zm4 0h2v2h-2zm7 0h2v2h-2zm2 0h2v2h-2zm2 0h2v2h-2zm3 0h2v2h-2zm2 0h2v2h-2zm1 0h2v2h-2zm1 0h2v2h-2zm1 0h2v2h-2zm7 0h2v2h-2zm3 0h2v2h-2zm1 0h2v2h-2zm1 0h2v2h-2zm6 0h2v2h-2zm2 0h2v2h-2zm6 0h2v2h-2zm2 0h2v2h-2zm3 0h2v2h-2zm4 0h2v2h-2zm3 0h2v2h-2zm4 0h2v2h-2zm2 0h2v2h-2zm1 0h2v2h-2zm1 0h2v2h-2zm2 0h2v2h-2zm5 0h2v2h-2zm6 0h2v2h-2zm3 0h2v2h-2zm1 0h2v2h-2zm3 0h2v2h-2zm4 0h2v2h-2zm10 0h2v2h-2zm3 0h2v2h-2zm1 0h2v2h-2zm4 0h2v2h-2zm5 0h2v2h-2zm4 0h2v2h-2zm3 0h2v2h-2zm3 0h2v2h-2zm2 0h2v2h-2zm8 0h2v2h-2zm6 0h2v2h-2zm1 0h2v2h-2zm10 0h2v2h-2zm-365 1h2v2h-2zm2 0h2v2h-2zm3 0h2v2h-2zm2 0h2v2h-2zm17 0h2v2h-2zm15 0h2v2h-2zm7 0h2v2h-2zm3 0h2v2h-2zm1 0h2v2h-2zm11 0h2v2h-2zm9 0h2v2h-2zm1 0h2v2h-2zm2 0h2v2h-2zm2 0h2v2h-2zm19 0h2v2h-2zm3 0h2v2h-2zm7 0h2v2h-2zm10 0h2v2h-2zm6 0h2v2h-2zm15 0h2v2h-2zm15 0h2v2h-2zm10 0h2v2h-2zm5 0h2v2h-2zm12 0h2v2h-2zm3 0h2v2h-2zm10 0h2v2h-2zm10 0h2v2h-2zm2 0h2v2h-2zm12 0h2v2h-2zm4 0h2v2h-2zm10 0h2v2h-2zm2 0h2v2h-2zm4 0h2v2h-2zm2 0h2v2h-2zm6 0h2v2h-2zm6 0h2v2h-2zm8 0h2v2h-2zm2 0h2v2h-2zm1 0h2v2h-2zm2 0h2v2h-2zm14 0h2v2h-2zm1 0h2v2h-2zm1 0h2v2h-2zm3 0h2v2h-2zm1 0h2v2h-2zm1 0h2v2h-2zm1 0h2v2h-2zm16 0h2v2h-2zm2 0h2v2h-2zm2 0h2v2h-2zm3 0h2v2h-2zm1 0h2v2h-2zm9 0h2v2h-2zm7 0h2v2h-2zm1 0h2v2h-2zm4 0h2v2h-2zm10 0h2v2h-2zm6 0h2v2h-2zm4 0h2v2h-2zm4 0h2v2h-2zm3 0h2v2h-2zm-358 1h2v2h-2zm1 0h2v2h-2zm2 0h2v2h-2zm1 0h2v2h-2zm8 0h2v2h-2zm7 0h2v2h-2zm7 0h2v2h-2zm2 0h2v2h-2zm3 0h2v2h-2zm3 0h2v2h-2zm8 0h2v2h-2zm1 0h2v2h-2zm10 0h2v2h-2zm2 0h2v2h-2zm1 0h2v2h-2zm13 0h2v2h-2zm18 0h2v2h-2zm14 0h2v2h-2zm20 0h2v2h-2zm5 0h2v2h-2zm10 0h2v2h-2zm7 0h2v2h-2zm16 0h2v2h-2zm14 0h2v2h-2zm7 0h2v2h-2zm8 0h2v2h-2zm3 0h2v2h-2zm13 0h2v2h-2zm1 0h2v2h-2zm1 0h2v2h-2zm3 0h2v2h-2zm6 0h2v2h-2zm3 0h2v2h-2zm1 0h2v2h-2zm5 0h2v2h-2zm3 0h2v2h-2zm2 0h2v2h-2zm2 0h2v2h-2zm4 0h2v2h-2zm3 0h2v2h-2zm1 0h2v2h-2zm3 0h2v2h-2zm1 0h2v2h-2zm5 0h2v2h-2zm2 0h2v2h-2zm5 0h2v2h-2zm7 0h2v2h-2zm1 0h2v2h-2zm1 0h2v2h-2zm9 0h2v2h-2zm7 0h2v2h-2zm15 0h2v2h-2zm1 0h2v2h-2zm3 0h2v2h-2zm1 0h2v2h-2zm1 0h2v2h-2zm4 0h2v2h-2zm1 0h2v2h-2zm10 0h2v2h-2zm2 0h2v2h-2zm3 0h2v2h-2zm6 0h2v2h-2zm9 0h2v2h-2zm2 0h2v2h-2zm9 0h2v2h-2zm3 0h2v2h-2zm1 0h2v2h-2zm4 0h2v2h-2zm3 0h2v2h-2zm4 0h2v2h-2zm-362 1h2v2h-2zm11 0h2v2h-2zm2 0h2v2h-2zm3 0h2v2h-2zm2 0h2v2h-2zm9 0h2v2h-2zm25 0h2v2h-2zm5 0h2v2h-2zm2 0h2v2h-2zm13 0h2v2h-2zm9 0h2v2h-2zm7 0h2v2h-2zm1 0h2v2h-2zm7 0h2v2h-2zm7 0h2v2h-2zm1 0h2v2h-2zm1 0h2v2h-2zm42 0h2v2h-2zm4 0h2v2h-2zm6 0h2v2h-2zm4 0h2v2h-2zm2 0h2v2h-2zm2 0h2v2h-2zm2 0h2v2h-2zm3 0h2v2h-2zm5 0h2v2h-2zm1 0h2v2h-2zm3 0h2v2h-2zm1 0h2v2h-2zm7 0h2v2h-2zm5 0h2v2h-2zm6 0h2v2h-2zm7 0h2v2h-2zm5 0h2v2h-2zm2 0h2v2h-2zm2 0h2v2h-2zm2 0h2v2h-2zm6 0h2v2h-2zm2 0h2v2h-2zm3 0h2v2h-2zm2 0h2v2h-2zm6 0h2v2h-2zm2 0h2v2h-2zm1 0h2v2h-2zm2 0h2v2h-2zm1 0h2v2h-2zm7 0h2v2h-2zm4 0h2v2h-2zm5 0h2v2h-2zm1 0h2v2h-2zm6 0h2v2h-2zm12 0h2v2h-2zm2 0h2v2h-2zm2 0h2v2h-2zm2 0h2v2h-2zm1 0h2v2h-2zm2 0h2v2h-2zm1 0h2v2h-2zm14 0h2v2h-2zm14 0h2v2h-2zm4 0h2v2h-2zm2 0h2v2h-2zm1 0h2v2h-2zm4 0h2v2h-2zm1 0h2v2h-2zm4 0h2v2h-2zm6 0h2v2h-2zm2 0h2v2h-2zm4 0h2v2h-2zm1 0h2v2h-2zm3 0h2v2h-2zm7 0h2v2h-2zm-353 1h2v2h-2zm9 0h2v2h-2zm22 0h2v2h-2zm11 0h2v2h-2zm2 0h2v2h-2zm9 0h2v2h-2zm3 0h2v2h-2zm3 0h2v2h-2zm15 0h2v2h-2zm4 0h2v2h-2zm5 0h2v2h-2zm13 0h2v2h-2zm38 0h2v2h-2zm6 0h2v2h-2zm4 0h2v2h-2zm26 0h2v2h-2zm6 0h2v2h-2zm5 0h2v2h-2zm4 0h2v2h-2zm22 0h2v2h-2zm21 0h2v2h-2zm4 0h2v2h-2zm3 0h2v2h-2zm2 0h2v2h-2zm1 0h2v2h-2zm6 0h2v2h-2zm8 0h2v2h-2zm1 0h2v2h-2zm7 0h2v2h-2zm2 0h2v2h-2zm4 0h2v2h-2zm1 0h2v2h-2zm8 0h2v2h-2zm3 0h2v2h-2zm1 0h2v2h-2zm2 0h2v2h-2zm4 0h2v2h-2zm1 0h2v2h-2zm7 0h2v2h-2zm8 0h2v2h-2zm2 0h2v2h-2zm1 0h2v2h-2zm1 0h2v2h-2zm2 0h2v2h-2zm4 0h2v2h-2zm1 0h2v2h-2zm6 0h2v2h-2zm3 0h2v2h-2zm2 0h2v2h-2zm1 0h2v2h-2zm2 0h2v2h-2zm11 0h2v2h-2zm2 0h2v2h-2zm7 0h2v2h-2zm8 0h2v2h-2zm5 0h2v2h-2zm-352 1h2v2h-2zm6 0h2v2h-2zm20 0h2v2h-2zm14 0h2v2h-2zm2 0h2v2h-2zm4 0h2v2h-2zm3 0h2v2h-2zm2 0h2v2h-2zm42 0h2v2h-2zm1 0h2v2h-2zm2 0h2v2h-2zm13 0h2v2h-2zm3 0h2v2h-2zm12 0h2v2h-2zm2 0h2v2h-2zm5 0h2v2h-2zm1 0h2v2h-2zm2 0h2v2h-2zm2 0h2v2h-2zm28 0h2v2h-2zm4 0h2v2h-2zm8 0h2v2h-2zm21 0h2v2h-2zm7 0h2v2h-2zm7 0h2v2h-2zm6 0h2v2h-2zm1 0h2v2h-2zm14 0h2v2h-2zm5 0h2v2h-2zm8 0h2v2h-2zm2 0h2v2h-2zm7 0h2v2h-2zm1 0h2v2h-2zm10 0h2v2h-2zm3 0h2v2h-2zm4 0h2v2h-2zm3 0h2v2h-2zm2 0h2v2h-2zm3 0h2v2h-2zm9 0h2v2h-2zm7 0h2v2h-2zm1 0h2v2h-2zm4 0h2v2h-2zm2 0h2v2h-2zm7 0h2v2h-2zm1 0h2v2h-2zm17 0h2v2h-2zm3 0h2v2h-2zm5 0h2v2h-2zm1 0h2v2h-2zm5 0h2v2h-2zm1 0h2v2h-2zm2 0h2v2h-2zm-345 1h2v2h-2zm42 0h2v2h-2zm7 0h2v2h-2zm14 0h2v2h-2zm21 0h2v2h-2zm3 0h2v2h-2zm20 0h2v2h-2zm7 0h2v2h-2zm20 0h2v2h-2zm3 0h2v2h-2zm24 0h2v2h-2zm15 0h2v2h-2zm3 0h2v2h-2zm1 0h2v2h-2zm7 0h2v2h-2zm16 0h2v2h-2zm7 0h2v2h-2zm1 0h2v2h-2zm1 0h2v2h-2zm1 0h2v2h-2zm1 0h2v2h-2zm9 0h2v2h-2zm11 0h2v2h-2zm5 0h2v2h-2zm3 0h2v2h-2zm4 0h2v2h-2zm3 0h2v2h-2zm2 0h2v2h-2zm1 0h2v2h-2zm6 0h2v2h-2zm10 0h2v2h-2zm2 0h2v2h-2zm7 0h2v2h-2zm2 0h2v2h-2zm11 0h2v2h-2zm3 0h2v2h-2zm2 0h2v2h-2zm1 0h2v2h-2zm1 0h2v2h-2zm10 0h2v2h-2zm1 0h2v2h-2zm1 0h2v2h-2zm4 0h2v2h-2zm7 0h2v2h-2zm4 0h2v2h-2zm1 0h2v2h-2zm2 0h2v2h-2zm16 0h2v2h-2zm1 0h2v2h-2zm3 0h2v2h-2zm1 0h2v2h-2zm-339 1h2v2h-2zm9 0h2v2h-2zm9 0h2v2h-2zm17 0h2v2h-2zm4 0h2v2h-2zm4 0h2v2h-2zm7 0h2v2h-2zm4 0h2v2h-2zm12 0h2v2h-2zm2 0h2v2h-2zm7 0h2v2h-2zm7 0h2v2h-2zm21 0h2v2h-2zm2 0h2v2h-2zm12 0h2v2h-2zm4 0h2v2h-2zm2 0h2v2h-2zm2 0h2v2h-2zm2 0h2v2h-2zm1 0h2v2h-2zm5 0h2v2h-2zm14 0h2v2h-2zm12 0h2v2h-2zm3 0h2v2h-2zm3 0h2v2h-2zm2 0h2v2h-2zm2 0h2v2h-2zm3 0h2v2h-2zm2 0h2v2h-2zm1 0h2v2h-2zm9 0h2v2h-2zm3 0h2v2h-2zm1 0h2v2h-2zm7 0h2v2h-2zm3 0h2v2h-2zm1 0h2v2h-2zm6 0h2v2h-2zm2 0h2v2h-2zm2 0h2v2h-2zm3 0h2v2h-2zm4 0h2v2h-2zm6 0h2v2h-2zm7 0h2v2h-2zm7 0h2v2h-2zm1 0h2v2h-2zm2 0h2v2h-2zm7 0h2v2h-2zm1 0h2v2h-2zm13 0h2v2h-2zm2 0h2v2h-2zm1 0h2v2h-2zm3 0h2v2h-2zm1 0h2v2h-2zm10 0h2v2h-2zm4 0h2v2h-2zm1 0h2v2h-2zm3 0h2v2h-2zm4 0h2v2h-2zm1 0h2v2h-2zm2 0h2v2h-2zm4 0h2v2h-2zm6 0h2v2h-2zm3 0h2v2h-2zm11 0h2v2h-2zm17 0h2v2h-2zm3 0h2v2h-2zm-347 1h2v2h-2zm7 0h2v2h-2zm18 0h2v2h-2zm2 0h2v2h-2zm7 0h2v2h-2zm12 0h2v2h-2zm39 0h2v2h-2zm21 0h2v2h-2zm15 0h2v2h-2zm20 0h2v2h-2zm4 0h2v2h-2zm9 0h2v2h-2zm4 0h2v2h-2zm2 0h2v2h-2zm4 0h2v2h-2zm9 0h2v2h-2zm7 0h2v2h-2zm6 0h2v2h-2zm1 0h2v2h-2zm21 0h2v2h-2zm26 0h2v2h-2zm14 0h2v2h-2zm6 0h2v2h-2zm1 0h2v2h-2zm1 0h2v2h-2zm6 0h2v2h-2zm3 0h2v2h-2zm3 0h2v2h-2zm7 0h2v2h-2zm3 0h2v2h-2zm3 0h2v2h-2zm10 0h2v2h-2zm5 0h2v2h-2zm2 0h2v2h-2zm1 0h2v2h-2zm2 0h2v2h-2zm2 0h2v2h-2zm8 0h2v2h-2zm12 0h2v2h-2zm8 0h2v2h-2zm5 0h2v2h-2zm3 0h2v2h-2zm3 0h2v2h-2zm-335 1h2v2h-2zm24 0h2v2h-2zm5 0h2v2h-2zm5 0h2v2h-2zm26 0h2v2h-2zm4 0h2v2h-2zm2 0h2v2h-2zm3 0h2v2h-2zm11 0h2v2h-2zm23 0h2v2h-2zm5 0h2v2h-2zm11 0h2v2h-2zm9 0h2v2h-2zm18 0h2v2h-2zm4 0h2v2h-2zm6 0h2v2h-2zm3 0h2v2h-2zm13 0h2v2h-2zm4 0h2v2h-2zm1 0h2v2h-2zm15 0h2v2h-2zm1 0h2v2h-2zm1 0h2v2h-2zm6 0h2v2h-2zm2 0h2v2h-2zm24 0h2v2h-2zm1 0h2v2h-2zm9 0h2v2h-2zm4 0h2v2h-2zm4 0h2v2h-2zm1 0h2v2h-2zm4 0h2v2h-2zm12 0h2v2h-2zm10 0h2v2h-2zm3 0h2v2h-2zm16 0h2v2h-2zm3 0h2v2h-2zm1 0h2v2h-2zm2 0h2v2h-2zm7 0h2v2h-2zm6 0h2v2h-2zm1 0h2v2h-2zm2 0h2v2h-2zm1 0h2v2h-2zm5 0h2v2h-2zm3 0h2v2h-2zm5 0h2v2h-2zm-327 1h2v2h-2zm28 0h2v2h-2zm8 0h2v2h-2zm2 0h2v2h-2zm1 0h2v2h-2zm5 0h2v2h-2zm5 0h2v2h-2zm30 0h2v2h-2zm14 0h2v2h-2zm13 0h2v2h-2zm2 0h2v2h-2zm2 0h2v2h-2zm1 0h2v2h-2zm1 0h2v2h-2zm23 0h2v2h-2zm16 0h2v2h-2zm2 0h2v2h-2zm3 0h2v2h-2zm10 0h2v2h-2zm14 0h2v2h-2zm20 0h2v2h-2zm3 0h2v2h-2zm7 0h2v2h-2zm7 0h2v2h-2zm7 0h2v2h-2zm2 0h2v2h-2zm12 0h2v2h-2zm4 0h2v2h-2zm9 0h2v2h-2zm3 0h2v2h-2zm6 0h2v2h-2zm11 0h2v2h-2zm3 0h2v2h-2zm3 0h2v2h-2zm10 0h2v2h-2zm2 0h2v2h-2zm19 0h2v2h-2zm4 0h2v2h-2zm1 0h2v2h-2zm12 0h2v2h-2zm2 0h2v2h-2zm10 0h2v2h-2zm1 0h2v2h-2zm7 0h2v2h-2zm-354 1h2v2h-2zm2 0h2v2h-2zm3 0h2v2h-2zm1 0h2v2h-2zm2 0h2v2h-2zm31 0h2v2h-2zm8 0h2v2h-2zm2 0h2v2h-2zm1 0h2v2h-2zm2 0h2v2h-2zm1 0h2v2h-2zm8 0h2v2h-2zm23 0h2v2h-2zm13 0h2v2h-2zm3 0h2v2h-2zm21 0h2v2h-2zm3 0h2v2h-2zm6 0h2v2h-2zm15 0h2v2h-2zm2 0h2v2h-2zm17 0h2v2h-2zm3 0h2v2h-2zm5 0h2v2h-2zm1 0h2v2h-2zm20 0h2v2h-2zm19 0h2v2h-2zm7 0h2v2h-2zm8 0h2v2h-2zm8 0h2v2h-2zm7 0h2v2h-2zm1 0h2v2h-2zm7 0h2v2h-2zm7 0h2v2h-2zm4 0h2v2h-2zm16 0h2v2h-2zm14 0h2v2h-2zm17 0h2v2h-2zm11 0h2v2h-2zm15 0h2v2h-2zm1 0h2v2h-2zm11 0h2v2h-2zm2 0h2v2h-2zm5 0h2v2h-2zm2 0h2v2h-2zm-350 1h2v2h-2zm8 0h2v2h-2zm29 0h2v2h-2zm5 0h2v2h-2zm8 0h2v2h-2zm2 0h2v2h-2zm5 0h2v2h-2zm3 0h2v2h-2zm3 0h2v2h-2zm10 0h2v2h-2zm11 0h2v2h-2zm3 0h2v2h-2zm3 0h2v2h-2zm10 0h2v2h-2zm4 0h2v2h-2zm9 0h2v2h-2zm1 0h2v2h-2zm1 0h2v2h-2zm5 0h2v2h-2zm1 0h2v2h-2zm20 0h2v2h-2zm12 0h2v2h-2zm6 0h2v2h-2zm5 0h2v2h-2zm1 0h2v2h-2zm5 0h2v2h-2zm18 0h2v2h-2zm16 0h2v2h-2zm1 0h2v2h-2zm36 0h2v2h-2zm5 0h2v2h-2zm5 0h2v2h-2zm1 0h2v2h-2zm2 0h2v2h-2zm8 0h2v2h-2zm9 0h2v2h-2zm7 0h2v2h-2zm5 0h2v2h-2zm10 0h2v2h-2zm6 0h2v2h-2zm12 0h2v2h-2zm4 0h2v2h-2zm4 0h2v2h-2zm9 0h2v2h-2zm5 0h2v2h-2zm4 0h2v2h-2zm5 0h2v2h-2zm-343 1h2v2h-2zm30 0h2v2h-2zm16 0h2v2h-2zm3 0h2v2h-2zm1 0h2v2h-2zm1 0h2v2h-2zm1 0h2v2h-2zm14 0h2v2h-2zm4 0h2v2h-2zm46 0h2v2h-2zm2 0h2v2h-2zm4 0h2v2h-2zm20 0h2v2h-2zm1 0h2v2h-2zm5 0h2v2h-2zm16 0h2v2h-2zm6 0h2v2h-2zm4 0h2v2h-2zm6 0h2v2h-2zm2 0h2v2h-2zm7 0h2v2h-2zm8 0h2v2h-2zm9 0h2v2h-2zm25 0h2v2h-2zm13 0h2v2h-2zm3 0h2v2h-2zm14 0h2v2h-2zm13 0h2v2h-2zm34 0h2v2h-2zm14 0h2v2h-2zm2 0h2v2h-2zm3 0h2v2h-2zm2 0h2v2h-2zm17 0h2v2h-2zm6 0h2v2h-2zm1 0h2v2h-2zm-356 1h2v2h-2zm7 0h2v2h-2zm41 0h2v2h-2zm8 0h2v2h-2zm9 0h2v2h-2zm5 0h2v2h-2zm6 0h2v2h-2zm5 0h2v2h-2zm4 0h2v2h-2zm2 0h2v2h-2zm10 0h2v2h-2zm1 0h2v2h-2zm5 0h2v2h-2zm5 0h2v2h-2zm3 0h2v2h-2zm2 0h2v2h-2zm1 0h2v2h-2zm12 0h2v2h-2zm5 0h2v2h-2zm5 0h2v2h-2zm2 0h2v2h-2zm5 0h2v2h-2zm1 0h2v2h-2zm2 0h2v2h-2zm13 0h2v2h-2zm2 0h2v2h-2zm3 0h2v2h-2zm3 0h2v2h-2zm9 0h2v2h-2zm31 0h2v2h-2zm4 0h2v2h-2zm11 0h2v2h-2zm15 0h2v2h-2zm24 0h2v2h-2zm2 0h2v2h-2zm1 0h2v2h-2zm12 0h2v2h-2zm12 0h2v2h-2zm14 0h2v2h-2zm15 0h2v2h-2zm18 0h2v2h-2zm4 0h2v2h-2zm14 0h2v2h-2zm-358 1h2v2h-2zm5 0h2v2h-2zm5 0h2v2h-2zm22 0h2v2h-2zm12 0h2v2h-2zm5 0h2v2h-2zm31 0h2v2h-2zm5 0h2v2h-2zm31 0h2v2h-2zm1 0h2v2h-2zm4 0h2v2h-2zm23 0h2v2h-2zm1 0h2v2h-2zm6 0h2v2h-2zm15 0h2v2h-2zm2 0h2v2h-2zm2 0h2v2h-2zm2 0h2v2h-2zm12 0h2v2h-2zm6 0h2v2h-2zm2 0h2v2h-2zm3 0h2v2h-2zm6 0h2v2h-2zm11 0h2v2h-2zm2 0h2v2h-2zm1 0h2v2h-2zm1 0h2v2h-2zm6 0h2v2h-2zm6 0h2v2h-2zm24 0h2v2h-2zm5 0h2v2h-2zm6 0h2v2h-2zm6 0h2v2h-2zm4 0h2v2h-2zm8 0h2v2h-2zm13 0h2v2h-2zm8 0h2v2h-2zm23 0h2v2h-2zm1 0h2v2h-2zm4 0h2v2h-2zm6 0h2v2h-2zm3 0h2v2h-2zm11 0h2v2h-2zm-348 1h2v2h-2zm7 0h2v2h-2zm3 0h2v2h-2zm2 0h2v2h-2zm3 0h2v2h-2zm1 0h2v2h-2zm6 0h2v2h-2zm29 0h2v2h-2zm7 0h2v2h-2zm14 0h2v2h-2zm2 0h2v2h-2zm14 0h2v2h-2zm12 0h2v2h-2zm14 0h2v2h-2zm6 0h2v2h-2zm11 0h2v2h-2zm13 0h2v2h-2zm3 0h2v2h-2zm1 0h2v2h-2zm1 0h2v2h-2zm5 0h2v2h-2zm3 0h2v2h-2zm12 0h2v2h-2zm3 0h2v2h-2zm5 0h2v2h-2zm13 0h2v2h-2zm1 0h2v2h-2zm4 0h2v2h-2zm11 0h2v2h-2zm5 0h2v2h-2zm28 0h2v2h-2zm10 0h2v2h-2zm10 0h2v2h-2zm3 0h2v2h-2zm2 0h2v2h-2zm5 0h2v2h-2zm3 0h2v2h-2zm5 0h2v2h-2zm6 0h2v2h-2zm2 0h2v2h-2zm1 0h2v2h-2zm5 0h2v2h-2zm19 0h2v2h-2zm15 0h2v2h-2zm1 0h2v2h-2zm2 0h2v2h-2zm13 0h2v2h-2zm6 0h2v2h-2zm1 0h2v2h-2zm7 0h2v2h-2zm-359 1h2v2h-2zm6 0h2v2h-2zm4 0h2v2h-2zm1 0h2v2h-2zm1 0h2v2h-2zm4 0h2v2h-2zm2 0h2v2h-2zm2 0h2v2h-2zm4 0h2v2h-2zm11 0h2v2h-2zm3 0h2v2h-2zm3 0h2v2h-2zm1 0h2v2h-2zm1 0h2v2h-2zm4 0h2v2h-2zm5 0h2v2h-2zm2 0h2v2h-2zm1 0h2v2h-2zm5 0h2v2h-2zm3 0h2v2h-2zm5 0h2v2h-2zm2 0h2v2h-2zm5 0h2v2h-2zm4 0h2v2h-2zm1 0h2v2h-2zm2 0h2v2h-2zm16 0h2v2h-2zm14 0h2v2h-2zm10 0h2v2h-2zm5 0h2v2h-2zm7 0h2v2h-2zm6 0h2v2h-2zm56 0h2v2h-2zm12 0h2v2h-2zm13 0h2v2h-2zm1 0h2v2h-2zm20 0h2v2h-2zm5 0h2v2h-2zm2 0h2v2h-2zm2 0h2v2h-2zm5 0h2v2h-2zm2 0h2v2h-2zm2 0h2v2h-2zm16 0h2v2h-2zm5 0h2v2h-2zm2 0h2v2h-2zm1 0h2v2h-2zm4 0h2v2h-2zm13 0h2v2h-2zm1 0h2v2h-2zm6 0h2v2h-2zm3 0h2v2h-2zm3 0h2v2h-2zm2 0h2v2h-2zm11 0h2v2h-2zm3 0h2v2h-2zm5 0h2v2h-2zm3 0h2v2h-2zm2 0h2v2h-2zm5 0h2v2h-2zm4 0h2v2h-2zm2 0h2v2h-2zm3 0h2v2h-2zm3 0h2v2h-2zm-349 1h2v2h-2zm2 0h2v2h-2zm2 0h2v2h-2zm12 0h2v2h-2zm4 0h2v2h-2zm1 0h2v2h-2zm2 0h2v2h-2zm3 0h2v2h-2zm2 0h2v2h-2zm2 0h2v2h-2zm20 0h2v2h-2zm3 0h2v2h-2zm2 0h2v2h-2zm16 0h2v2h-2zm3 0h2v2h-2zm4 0h2v2h-2zm5 0h2v2h-2zm5 0h2v2h-2zm5 0h2v2h-2zm10 0h2v2h-2zm2 0h2v2h-2zm10 0h2v2h-2zm18 0h2v2h-2zm2 0h2v2h-2zm1 0h2v2h-2zm10 0h2v2h-2zm6 0h2v2h-2zm7 0h2v2h-2zm21 0h2v2h-2zm3 0h2v2h-2zm18 0h2v2h-2zm5 0h2v2h-2zm3 0h2v2h-2zm22 0h2v2h-2zm3 0h2v2h-2zm6 0h2v2h-2zm2 0h2v2h-2zm12 0h2v2h-2zm1 0h2v2h-2zm2 0h2v2h-2zm5 0h2v2h-2zm13 0h2v2h-2zm1 0h2v2h-2zm1 0h2v2h-2zm4 0h2v2h-2zm8 0h2v2h-2zm5 0h2v2h-2zm2 0h2v2h-2zm1 0h2v2h-2zm3 0h2v2h-2zm1 0h2v2h-2zm5 0h2v2h-2zm5 0h2v2h-2zm1 0h2v2h-2zm2 0h2v2h-2zm7 0h2v2h-2zm3 0h2v2h-2zm16 0h2v2h-2zm3 0h2v2h-2zm3 0h2v2h-2zm10 0h2v2h-2zm-364 1h2v2h-2zm10 0h2v2h-2zm5 0h2v2h-2zm17 0h2v2h-2zm5 0h2v2h-2zm7 0h2v2h-2zm11 0h2v2h-2zm2 0h2v2h-2zm2 0h2v2h-2zm4 0h2v2h-2zm3 0h2v2h-2zm14 0h2v2h-2zm12 0h2v2h-2zm7 0h2v2h-2zm1 0h2v2h-2zm2 0h2v2h-2zm17 0h2v2h-2zm6 0h2v2h-2zm4 0h2v2h-2zm3 0h2v2h-2zm7 0h2v2h-2zm7 0h2v2h-2zm9 0h2v2h-2zm9 0h2v2h-2zm4 0h2v2h-2zm9 0h2v2h-2zm1 0h2v2h-2zm6 0h2v2h-2zm5 0h2v2h-2zm5 0h2v2h-2zm7 0h2v2h-2zm11 0h2v2h-2zm2 0h2v2h-2zm3 0h2v2h-2zm9 0h2v2h-2zm4 0h2v2h-2zm7 0h2v2h-2zm3 0h2v2h-2zm2 0h2v2h-2zm2 0h2v2h-2zm11 0h2v2h-2zm7 0h2v2h-2zm4 0h2v2h-2zm3 0h2v2h-2zm5 0h2v2h-2zm2 0h2v2h-2zm1 0h2v2h-2zm2 0h2v2h-2zm4 0h2v2h-2zm1 0h2v2h-2zm3 0h2v2h-2zm2 0h2v2h-2zm5 0h2v2h-2zm4 0h2v2h-2zm3 0h2v2h-2zm3 0h2v2h-2zm1 0h2v2h-2zm3 0h2v2h-2zm5 0h2v2h-2zm5 0h2v2h-2zm8 0h2v2h-2zm3 0h2v2h-2zm2 0h2v2h-2zm4 0h2v2h-2zm4 0h2v2h-2zm5 0h2v2h-2zm3 0h2v2h-2zm2 0h2v2h-2zm1 0h2v2h-2zm1 0h2v2h-2zm2 0h2v2h-2zm1 0h2v2h-2zm1 0h2v2h-2zm2 0h2v2h-2zm7 0h2v2h-2zm-364 1h2v2h-2zm11 0h2v2h-2zm4 0h2v2h-2zm2 0h2v2h-2zm14 0h2v2h-2zm13 0h2v2h-2zm6 0h2v2h-2zm16 0h2v2h-2zm1 0h2v2h-2zm1 0h2v2h-2zm3 0h2v2h-2zm1 0h2v2h-2zm10 0h2v2h-2zm4 0h2v2h-2zm10 0h2v2h-2zm7 0h2v2h-2zm1 0h2v2h-2zm1 0h2v2h-2zm1 0h2v2h-2zm4 0h2v2h-2zm1 0h2v2h-2zm8 0h2v2h-2zm5 0h2v2h-2zm1 0h2v2h-2zm15 0h2v2h-2zm7 0h2v2h-2zm19 0h2v2h-2zm1 0h2v2h-2zm3 0h2v2h-2zm25 0h2v2h-2zm9 0h2v2h-2zm7 0h2v2h-2zm2 0h2v2h-2zm1 0h2v2h-2zm20 0h2v2h-2zm4 0h2v2h-2zm3 0h2v2h-2zm7 0h2v2h-2zm11 0h2v2h-2zm2 0h2v2h-2zm4 0h2v2h-2zm2 0h2v2h-2zm3 0h2v2h-2zm4 0h2v2h-2zm7 0h2v2h-2zm1 0h2v2h-2zm18 0h2v2h-2zm2 0h2v2h-2zm3 0h2v2h-2zm1 0h2v2h-2zm2 0h2v2h-2zm11 0h2v2h-2zm8 0h2v2h-2zm4 0h2v2h-2zm1 0h2v2h-2zm1 0h2v2h-2zm9 0h2v2h-2zm7 0h2v2h-2zm3 0h2v2h-2zm3 0h2v2h-2zm10 0h2v2h-2zm-363 1h2v2h-2zm7 0h2v2h-2zm6 0h2v2h-2zm2 0h2v2h-2zm5 0h2v2h-2zm7 0h2v2h-2zm10 0h2v2h-2zm18 0h2v2h-2zm2 0h2v2h-2zm2 0h2v2h-2zm9 0h2v2h-2zm15 0h2v2h-2zm2 0h2v2h-2zm4 0h2v2h-2zm3 0h2v2h-2zm19 0h2v2h-2zm4 0h2v2h-2zm11 0h2v2h-2zm3 0h2v2h-2zm2 0h2v2h-2zm21 0h2v2h-2zm10 0h2v2h-2zm2 0h2v2h-2zm4 0h2v2h-2zm1 0h2v2h-2zm1 0h2v2h-2zm11 0h2v2h-2zm13 0h2v2h-2zm2 0h2v2h-2zm3 0h2v2h-2zm12 0h2v2h-2zm8 0h2v2h-2zm9 0h2v2h-2zm7 0h2v2h-2zm18 0h2v2h-2zm6 0h2v2h-2zm2 0h2v2h-2zm18 0h2v2h-2zm11 0h2v2h-2zm1 0h2v2h-2zm9 0h2v2h-2zm2 0h2v2h-2zm3 0h2v2h-2zm1 0h2v2h-2zm2 0h2v2h-2zm6 0h2v2h-2zm2 0h2v2h-2zm8 0h2v2h-2zm1 0h2v2h-2zm1 0h2v2h-2zm2 0h2v2h-2zm5 0h2v2h-2zm4 0h2v2h-2zm3 0h2v2h-2zm1 0h2v2h-2zm8 0h2v2h-2zm5 0h2v2h-2zm6 0h2v2h-2zm-358 1h2v2h-2zm7 0h2v2h-2zm1 0h2v2h-2zm4 0h2v2h-2zm3 0h2v2h-2zm12 0h2v2h-2zm8 0h2v2h-2zm1 0h2v2h-2zm6 0h2v2h-2zm5 0h2v2h-2zm1 0h2v2h-2zm3 0h2v2h-2zm9 0h2v2h-2zm6 0h2v2h-2zm7 0h2v2h-2zm9 0h2v2h-2zm6 0h2v2h-2zm7 0h2v2h-2zm3 0h2v2h-2zm22 0h2v2h-2zm3 0h2v2h-2zm7 0h2v2h-2zm7 0h2v2h-2zm1 0h2v2h-2zm47 0h2v2h-2zm11 0h2v2h-2zm1 0h2v2h-2zm3 0h2v2h-2zm1 0h2v2h-2zm5 0h2v2h-2zm2 0h2v2h-2zm7 0h2v2h-2zm4 0h2v2h-2zm14 0h2v2h-2zm3 0h2v2h-2zm2 0h2v2h-2zm1 0h2v2h-2zm1 0h2v2h-2zm8 0h2v2h-2zm3 0h2v2h-2zm3 0h2v2h-2zm14 0h2v2h-2zm4 0h2v2h-2zm5 0h2v2h-2zm2 0h2v2h-2zm2 0h2v2h-2zm5 0h2v2h-2zm5 0h2v2h-2zm5 0h2v2h-2zm8 0h2v2h-2zm2 0h2v2h-2zm10 0h2v2h-2zm2 0h2v2h-2zm9 0h2v2h-2zm2 0h2v2h-2zm2 0h2v2h-2zm1 0h2v2h-2zm1 0h2v2h-2zm5 0h2v2h-2zm2 0h2v2h-2zm2 0h2v2h-2zm2 0h2v2h-2zm4 0h2v2h-2zm11 0h2v2h-2zm2 0h2v2h-2zm-371 1h2v2h-2zm13 0h2v2h-2zm15 0h2v2h-2zm10 0h2v2h-2zm10 0h2v2h-2zm2 0h2v2h-2zm8 0h2v2h-2zm1 0h2v2h-2zm1 0h2v2h-2zm6 0h2v2h-2zm2 0h2v2h-2zm1 0h2v2h-2zm8 0h2v2h-2zm13 0h2v2h-2zm15 0h2v2h-2zm6 0h2v2h-2zm10 0h2v2h-2zm1 0h2v2h-2zm2 0h2v2h-2zm3 0h2v2h-2zm11 0h2v2h-2zm9 0h2v2h-2zm6 0h2v2h-2zm3 0h2v2h-2zm8 0h2v2h-2zm7 0h2v2h-2zm5 0h2v2h-2zm3 0h2v2h-2zm19 0h2v2h-2zm18 0h2v2h-2zm6 0h2v2h-2zm3 0h2v2h-2zm6 0h2v2h-2zm5 0h2v2h-2zm19 0h2v2h-2zm5 0h2v2h-2zm4 0h2v2h-2zm1 0h2v2h-2zm5 0h2v2h-2zm3 0h2v2h-2zm1 0h2v2h-2zm5 0h2v2h-2zm2 0h2v2h-2zm2 0h2v2h-2zm1 0h2v2h-2zm3 0h2v2h-2zm1 0h2v2h-2zm10 0h2v2h-2zm3 0h2v2h-2zm1 0h2v2h-2zm13 0h2v2h-2zm1 0h2v2h-2zm9 0h2v2h-2zm8 0h2v2h-2zm2 0h2v2h-2zm8 0h2v2h-2zm6 0h2v2h-2zm1 0h2v2h-2zm2 0h2v2h-2zm3 0h2v2h-2zm1 0h2v2h-2zm1 0h2v2h-2zm9 0h2v2h-2zm1 0h2v2h-2zm1 0h2v2h-2zm-350 1h2v2h-2zm16 0h2v2h-2zm3 0h2v2h-2zm3 0h2v2h-2zm4 0h2v2h-2zm21 0h2v2h-2zm2 0h2v2h-2zm1 0h2v2h-2zm32 0h2v2h-2zm27 0h2v2h-2zm10 0h2v2h-2zm21 0h2v2h-2zm13 0h2v2h-2zm2 0h2v2h-2zm5 0h2v2h-2zm2 0h2v2h-2zm3 0h2v2h-2zm8 0h2v2h-2zm3 0h2v2h-2zm3 0h2v2h-2zm2 0h2v2h-2zm4 0h2v2h-2zm13 0h2v2h-2zm29 0h2v2h-2zm5 0h2v2h-2zm2 0h2v2h-2zm4 0h2v2h-2zm3 0h2v2h-2zm3 0h2v2h-2zm3 0h2v2h-2zm2 0h2v2h-2zm2 0h2v2h-2zm1 0h2v2h-2zm17 0h2v2h-2zm8 0h2v2h-2zm8 0h2v2h-2zm2 0h2v2h-2zm5 0h2v2h-2zm2 0h2v2h-2zm2 0h2v2h-2zm3 0h2v2h-2zm1 0h2v2h-2zm2 0h2v2h-2zm5 0h2v2h-2zm5 0h2v2h-2zm1 0h2v2h-2zm1 0h2v2h-2zm5 0h2v2h-2zm8 0h2v2h-2zm2 0h2v2h-2zm1 0h2v2h-2zm4 0h2v2h-2zm9 0h2v2h-2zm1 0h2v2h-2zm4 0h2v2h-2zm-352 1h2v2h-2zm22 0h2v2h-2zm32 0h2v2h-2zm3 0h2v2h-2zm7 0h2v2h-2zm7 0h2v2h-2zm17 0h2v2h-2zm31 0h2v2h-2zm17 0h2v2h-2zm35 0h2v2h-2zm8 0h2v2h-2zm3 0h2v2h-2zm4 0h2v2h-2zm4 0h2v2h-2zm8 0h2v2h-2zm6 0h2v2h-2zm6 0h2v2h-2zm2 0h2v2h-2zm9 0h2v2h-2zm5 0h2v2h-2zm1 0h2v2h-2zm1 0h2v2h-2zm1 0h2v2h-2zm5 0h2v2h-2zm1 0h2v2h-2zm2 0h2v2h-2zm7 0h2v2h-2zm8 0h2v2h-2zm3 0h2v2h-2zm4 0h2v2h-2zm11 0h2v2h-2zm3 0h2v2h-2zm2 0h2v2h-2zm4 0h2v2h-2zm1 0h2v2h-2zm1 0h2v2h-2zm13 0h2v2h-2zm3 0h2v2h-2zm1 0h2v2h-2zm15 0h2v2h-2zm2 0h2v2h-2zm2 0h2v2h-2zm4 0h2v2h-2zm9 0h2v2h-2zm11 0h2v2h-2zm4 0h2v2h-2zm5 0h2v2h-2zm-348 1h2v2h-2zm3 0h2v2h-2zm34 0h2v2h-2zm2 0h2v2h-2zm10 0h2v2h-2zm27 0h2v2h-2zm1 0h2v2h-2zm1 0h2v2h-2zm31 0h2v2h-2zm2 0h2v2h-2zm3 0h2v2h-2zm3 0h2v2h-2zm1 0h2v2h-2zm1 0h2v2h-2zm31 0h2v2h-2zm7 0h2v2h-2zm3 0h2v2h-2zm1 0h2v2h-2zm3 0h2v2h-2zm1 0h2v2h-2zm15 0h2v2h-2zm3 0h2v2h-2zm1 0h2v2h-2zm5 0h2v2h-2zm6 0h2v2h-2zm4 0h2v2h-2zm9 0h2v2h-2zm1 0h2v2h-2zm11 0h2v2h-2zm2 0h2v2h-2zm1 0h2v2h-2zm5 0h2v2h-2zm7 0h2v2h-2zm5 0h2v2h-2zm6 0h2v2h-2zm5 0h2v2h-2zm4 0h2v2h-2zm5 0h2v2h-2zm6 0h2v2h-2zm3 0h2v2h-2zm4 0h2v2h-2zm1 0h2v2h-2zm5 0h2v2h-2zm3 0h2v2h-2zm5 0h2v2h-2zm6 0h2v2h-2zm2 0h2v2h-2zm4 0h2v2h-2zm2 0h2v2h-2zm14 0h2v2h-2zm4 0h2v2h-2zm1 0h2v2h-2zm1 0h2v2h-2zm2 0h2v2h-2zm8 0h2v2h-2zm1 0h2v2h-2zm2 0h2v2h-2zm1 0h2v2h-2zm3 0h2v2h-2zm2 0h2v2h-2zm5 0h2v2h-2zm1 0h2v2h-2zm-360 1h2v2h-2zm27 0h2v2h-2zm19 0h2v2h-2zm2 0h2v2h-2zm17 0h2v2h-2zm4 0h2v2h-2zm3 0h2v2h-2zm1 0h2v2h-2zm15 0h2v2h-2zm1 0h2v2h-2zm12 0h2v2h-2zm9 0h2v2h-2zm3 0h2v2h-2zm41 0h2v2h-2zm4 0h2v2h-2zm46 0h2v2h-2zm17 0h2v2h-2zm4 0h2v2h-2zm10 0h2v2h-2zm1 0h2v2h-2zm5 0h2v2h-2zm1 0h2v2h-2zm8 0h2v2h-2zm1 0h2v2h-2zm10 0h2v2h-2zm4 0h2v2h-2zm1 0h2v2h-2zm6 0h2v2h-2zm4 0h2v2h-2zm2 0h2v2h-2zm3 0h2v2h-2zm2 0h2v2h-2zm9 0h2v2h-2zm1 0h2v2h-2zm6 0h2v2h-2zm20 0h2v2h-2zm8 0h2v2h-2zm5 0h2v2h-2zm2 0h2v2h-2zm4 0h2v2h-2zm8 0h2v2h-2zm6 0h2v2h-2zm1 0h2v2h-2zm12 0h2v2h-2zm-358 1h2v2h-2zm27 0h2v2h-2zm3 0h2v2h-2zm27 0h2v2h-2zm17 0h2v2h-2zm1 0h2v2h-2zm7 0h2v2h-2zm17 0h2v2h-2zm12 0h2v2h-2zm2 0h2v2h-2zm10 0h2v2h-2zm3 0h2v2h-2zm5 0h2v2h-2zm6 0h2v2h-2zm5 0h2v2h-2zm12 0h2v2h-2zm16 0h2v2h-2zm2 0h2v2h-2zm7 0h2v2h-2zm6 0h2v2h-2zm1 0h2v2h-2zm1 0h2v2h-2zm5 0h2v2h-2zm3 0h2v2h-2zm6 0h2v2h-2zm7 0h2v2h-2zm1 0h2v2h-2zm10 0h2v2h-2zm5 0h2v2h-2zm7 0h2v2h-2zm1 0h2v2h-2zm17 0h2v2h-2zm6 0h2v2h-2zm1 0h2v2h-2zm2 0h2v2h-2zm1 0h2v2h-2zm1 0h2v2h-2zm2 0h2v2h-2zm8 0h2v2h-2zm4 0h2v2h-2zm3 0h2v2h-2zm18 0h2v2h-2zm7 0h2v2h-2zm3 0h2v2h-2zm1 0h2v2h-2zm3 0h2v2h-2zm3 0h2v2h-2zm7 0h2v2h-2zm4 0h2v2h-2zm7 0h2v2h-2zm7 0h2v2h-2zm13 0h2v2h-2zm2 0h2v2h-2zm1 0h2v2h-2zm2 0h2v2h-2zm1 0h2v2h-2zm3 0h2v2h-2zm-352 1h2v2h-2zm6 0h2v2h-2zm16 0h2v2h-2zm8 0h2v2h-2zm16 0h2v2h-2zm4 0h2v2h-2zm4 0h2v2h-2zm7 0h2v2h-2zm1 0h2v2h-2zm5 0h2v2h-2zm11 0h2v2h-2zm47 0h2v2h-2zm7 0h2v2h-2zm6 0h2v2h-2zm3 0h2v2h-2zm1 0h2v2h-2zm9 0h2v2h-2zm8 0h2v2h-2zm11 0h2v2h-2zm1 0h2v2h-2zm4 0h2v2h-2zm4 0h2v2h-2zm3 0h2v2h-2zm3 0h2v2h-2zm2 0h2v2h-2zm4 0h2v2h-2zm4 0h2v2h-2zm14 0h2v2h-2zm1 0h2v2h-2zm1 0h2v2h-2zm13 0h2v2h-2zm5 0h2v2h-2zm1 0h2v2h-2zm2 0h2v2h-2zm18 0h2v2h-2zm1 0h2v2h-2zm1 0h2v2h-2zm2 0h2v2h-2zm3 0h2v2h-2zm12 0h2v2h-2zm1 0h2v2h-2zm2 0h2v2h-2zm4 0h2v2h-2zm3 0h2v2h-2zm3 0h2v2h-2zm7 0h2v2h-2zm30 0h2v2h-2zm1 0h2v2h-2zm3 0h2v2h-2zm1 0h2v2h-2zm6 0h2v2h-2zm1 0h2v2h-2zm5 0h2v2h-2zm2 0h2v2h-2zm2 0h2v2h-2zm6 0h2v2h-2zm1 0h2v2h-2zm-347 1h2v2h-2zm10 0h2v2h-2zm17 0h2v2h-2zm16 0h2v2h-2zm74 0h2v2h-2zm20 0h2v2h-2zm7 0h2v2h-2zm12 0h2v2h-2zm3 0h2v2h-2zm3 0h2v2h-2zm2 0h2v2h-2zm1 0h2v2h-2zm1 0h2v2h-2zm1 0h2v2h-2zm4 0h2v2h-2zm14 0h2v2h-2zm3 0h2v2h-2zm15 0h2v2h-2zm11 0h2v2h-2zm10 0h2v2h-2zm5 0h2v2h-2zm9 0h2v2h-2zm7 0h2v2h-2zm4 0h2v2h-2zm8 0h2v2h-2zm4 0h2v2h-2zm4 0h2v2h-2zm1 0h2v2h-2zm2 0h2v2h-2zm1 0h2v2h-2zm9 0h2v2h-2zm3 0h2v2h-2zm6 0h2v2h-2zm8 0h2v2h-2zm12 0h2v2h-2zm12 0h2v2h-2zm19 0h2v2h-2zm7 0h2v2h-2zm-345 1h2v2h-2zm28 0h2v2h-2zm2 0h2v2h-2zm13 0h2v2h-2zm19 0h2v2h-2zm14 0h2v2h-2zm1 0h2v2h-2zm3 0h2v2h-2zm29 0h2v2h-2zm7 0h2v2h-2zm1 0h2v2h-2zm16 0h2v2h-2zm26 0h2v2h-2zm1 0h2v2h-2zm3 0h2v2h-2zm2 0h2v2h-2zm1 0h2v2h-2zm3 0h2v2h-2zm4 0h2v2h-2zm4 0h2v2h-2zm2 0h2v2h-2zm1 0h2v2h-2zm13 0h2v2h-2zm10 0h2v2h-2zm2 0h2v2h-2zm2 0h2v2h-2zm8 0h2v2h-2zm4 0h2v2h-2zm1 0h2v2h-2zm3 0h2v2h-2zm1 0h2v2h-2zm1 0h2v2h-2zm6 0h2v2h-2zm12 0h2v2h-2zm4 0h2v2h-2zm7 0h2v2h-2zm10 0h2v2h-2zm2 0h2v2h-2zm8 0h2v2h-2zm2 0h2v2h-2zm7 0h2v2h-2zm2 0h2v2h-2zm8 0h2v2h-2zm6 0h2v2h-2zm4 0h2v2h-2zm3 0h2v2h-2zm4 0h2v2h-2zm11 0h2v2h-2zm1 0h2v2h-2zm11 0h2v2h-2zm3 0h2v2h-2zm1 0h2v2h-2zm5 0h2v2h-2zm1 0h2v2h-2zm-355 1h2v2h-2zm6 0h2v2h-2zm14 0h2v2h-2zm15 0h2v2h-2zm14 0h2v2h-2zm10 0h2v2h-2zm19 0h2v2h-2zm1 0h2v2h-2zm7 0h2v2h-2zm4 0h2v2h-2zm1 0h2v2h-2zm9 0h2v2h-2zm15 0h2v2h-2zm2 0h2v2h-2zm1 0h2v2h-2zm36 0h2v2h-2zm6 0h2v2h-2zm4 0h2v2h-2zm12 0h2v2h-2zm2 0h2v2h-2zm14 0h2v2h-2zm3 0h2v2h-2zm1 0h2v2h-2zm3 0h2v2h-2zm1 0h2v2h-2zm3 0h2v2h-2zm22 0h2v2h-2zm4 0h2v2h-2zm1 0h2v2h-2zm8 0h2v2h-2zm1 0h2v2h-2zm6 0h2v2h-2zm4 0h2v2h-2zm6 0h2v2h-2zm1 0h2v2h-2zm7 0h2v2h-2zm15 0h2v2h-2zm18 0h2v2h-2zm5 0h2v2h-2zm7 0h2v2h-2zm5 0h2v2h-2zm9 0h2v2h-2zm1 0h2v2h-2zm6 0h2v2h-2zm2 0h2v2h-2zm1 0h2v2h-2zm6 0h2v2h-2zm3 0h2v2h-2zm4 0h2v2h-2zm3 0h2v2h-2zm4 0h2v2h-2zm1 0h2v2h-2zm11 0h2v2h-2zm-353 1h2v2h-2zm10 0h2v2h-2zm31 0h2v2h-2zm6 0h2v2h-2zm4 0h2v2h-2zm37 0h2v2h-2zm27 0h2v2h-2zm14 0h2v2h-2zm8 0h2v2h-2zm3 0h2v2h-2zm30 0h2v2h-2zm15 0h2v2h-2zm29 0h2v2h-2zm1 0h2v2h-2zm3 0h2v2h-2zm1 0h2v2h-2zm15 0h2v2h-2zm4 0h2v2h-2zm1 0h2v2h-2zm2 0h2v2h-2zm2 0h2v2h-2zm4 0h2v2h-2zm6 0h2v2h-2zm3 0h2v2h-2zm17 0h2v2h-2zm4 0h2v2h-2zm1 0h2v2h-2zm6 0h2v2h-2zm4 0h2v2h-2zm12 0h2v2h-2zm14 0h2v2h-2zm4 0h2v2h-2zm3 0h2v2h-2zm2 0h2v2h-2zm8 0h2v2h-2zm8 0h2v2h-2zm4 0h2v2h-2zm2 0h2v2h-2zm1 0h2v2h-2zm-328 1h2v2h-2zm7 0h2v2h-2zm3 0h2v2h-2zm20 0h2v2h-2zm15 0h2v2h-2zm3 0h2v2h-2zm3 0h2v2h-2zm10 0h2v2h-2zm6 0h2v2h-2zm7 0h2v2h-2zm6 0h2v2h-2zm4 0h2v2h-2zm3 0h2v2h-2zm12 0h2v2h-2zm2 0h2v2h-2zm5 0h2v2h-2zm4 0h2v2h-2zm3 0h2v2h-2zm7 0h2v2h-2zm5 0h2v2h-2zm8 0h2v2h-2zm4 0h2v2h-2zm3 0h2v2h-2zm26 0h2v2h-2zm4 0h2v2h-2zm3 0h2v2h-2zm11 0h2v2h-2zm7 0h2v2h-2zm3 0h2v2h-2zm20 0h2v2h-2zm2 0h2v2h-2zm9 0h2v2h-2zm2 0h2v2h-2zm3 0h2v2h-2zm2 0h2v2h-2zm5 0h2v2h-2zm4 0h2v2h-2zm4 0h2v2h-2zm4 0h2v2h-2zm6 0h2v2h-2zm4 0h2v2h-2zm1 0h2v2h-2zm4 0h2v2h-2zm6 0h2v2h-2zm2 0h2v2h-2zm6 0h2v2h-2zm3 0h2v2h-2zm6 0h2v2h-2zm1 0h2v2h-2zm-311 1h2v2h-2zm4 0h2v2h-2zm7 0h2v2h-2zm5 0h2v2h-2zm13 0h2v2h-2zm2 0h2v2h-2zm5 0h2v2h-2zm1 0h2v2h-2zm3 0h2v2h-2zm11 0h2v2h-2zm1 0h2v2h-2zm2 0h2v2h-2zm3 0h2v2h-2zm23 0h2v2h-2zm1 0h2v2h-2zm12 0h2v2h-2zm4 0h2v2h-2zm2 0h2v2h-2zm5 0h2v2h-2zm1 0h2v2h-2zm10 0h2v2h-2zm3 0h2v2h-2zm1 0h2v2h-2zm7 0h2v2h-2zm10 0h2v2h-2zm1 0h2v2h-2zm6 0h2v2h-2zm1 0h2v2h-2zm9 0h2v2h-2zm1 0h2v2h-2zm14 0h2v2h-2zm1 0h2v2h-2zm6 0h2v2h-2zm13 0h2v2h-2zm2 0h2v2h-2zm13 0h2v2h-2zm14 0h2v2h-2zm1 0h2v2h-2zm5 0h2v2h-2zm15 0h2v2h-2zm22 0h2v2h-2zm4 0h2v2h-2zm13 0h2v2h-2zm13 0h2v2h-2zm2 0h2v2h-2zm7 0h2v2h-2zm3 0h2v2h-2zm7 0h2v2h-2zm2 0h2v2h-2zm14 0h2v2h-2zm8 0h2v2h-2zm5 0h2v2h-2zm13 0h2v2h-2zm-348 1h2v2h-2zm2 0h2v2h-2zm6 0h2v2h-2zm3 0h2v2h-2zm37 0h2v2h-2zm5 0h2v2h-2zm4 0h2v2h-2zm3 0h2v2h-2zm5 0h2v2h-2zm9 0h2v2h-2zm5 0h2v2h-2zm4 0h2v2h-2zm1 0h2v2h-2zm4 0h2v2h-2zm2 0h2v2h-2zm3 0h2v2h-2zm4 0h2v2h-2zm1 0h2v2h-2zm6 0h2v2h-2zm1 0h2v2h-2zm5 0h2v2h-2zm24 0h2v2h-2zm8 0h2v2h-2zm2 0h2v2h-2zm3 0h2v2h-2zm8 0h2v2h-2zm7 0h2v2h-2zm3 0h2v2h-2zm10 0h2v2h-2zm7 0h2v2h-2zm47 0h2v2h-2zm8 0h2v2h-2zm9 0h2v2h-2zm2 0h2v2h-2zm9 0h2v2h-2zm17 0h2v2h-2zm36 0h2v2h-2zm5 0h2v2h-2zm6 0h2v2h-2zm1 0h2v2h-2zm7 0h2v2h-2zm5 0h2v2h-2zm12 0h2v2h-2zm1 0h2v2h-2zm2 0h2v2h-2zm-353 1h2v2h-2zm2 0h2v2h-2zm10 0h2v2h-2zm10 0h2v2h-2zm3 0h2v2h-2zm8 0h2v2h-2zm1 0h2v2h-2zm1 0h2v2h-2zm2 0h2v2h-2zm1 0h2v2h-2zm16 0h2v2h-2zm8 0h2v2h-2zm9 0h2v2h-2zm4 0h2v2h-2zm1 0h2v2h-2zm6 0h2v2h-2zm1 0h2v2h-2zm6 0h2v2h-2zm3 0h2v2h-2zm2 0h2v2h-2zm6 0h2v2h-2zm16 0h2v2h-2zm6 0h2v2h-2zm1 0h2v2h-2zm8 0h2v2h-2zm8 0h2v2h-2zm2 0h2v2h-2zm23 0h2v2h-2zm10 0h2v2h-2zm33 0h2v2h-2zm1 0h2v2h-2zm2 0h2v2h-2zm4 0h2v2h-2zm3 0h2v2h-2zm13 0h2v2h-2zm1 0h2v2h-2zm17 0h2v2h-2zm19 0h2v2h-2zm7 0h2v2h-2zm3 0h2v2h-2zm6 0h2v2h-2zm2 0h2v2h-2zm5 0h2v2h-2zm3 0h2v2h-2zm14 0h2v2h-2zm4 0h2v2h-2zm9 0h2v2h-2zm2 0h2v2h-2zm9 0h2v2h-2zm6 0h2v2h-2zm1 0h2v2h-2zm10 0h2v2h-2zm5 0h2v2h-2zm6 0h2v2h-2zm1 0h2v2h-2zm-369 1h2v2h-2zm6 0h2v2h-2zm10 0h2v2h-2zm2 0h2v2h-2zm13 0h2v2h-2zm4 0h2v2h-2zm1 0h2v2h-2zm6 0h2v2h-2zm20 0h2v2h-2zm5 0h2v2h-2zm7 0h2v2h-2zm13 0h2v2h-2zm11 0h2v2h-2zm4 0h2v2h-2zm8 0h2v2h-2zm5 0h2v2h-2zm4 0h2v2h-2zm2 0h2v2h-2zm10 0h2v2h-2zm1 0h2v2h-2zm6 0h2v2h-2zm12 0h2v2h-2zm4 0h2v2h-2zm3 0h2v2h-2zm3 0h2v2h-2zm6 0h2v2h-2zm1 0h2v2h-2zm1 0h2v2h-2zm5 0h2v2h-2zm10 0h2v2h-2zm14 0h2v2h-2zm3 0h2v2h-2zm3 0h2v2h-2zm16 0h2v2h-2zm6 0h2v2h-2zm2 0h2v2h-2zm14 0h2v2h-2zm4 0h2v2h-2zm21 0h2v2h-2zm27 0h2v2h-2zm18 0h2v2h-2zm3 0h2v2h-2zm1 0h2v2h-2zm11 0h2v2h-2zm2 0h2v2h-2zm1 0h2v2h-2zm9 0h2v2h-2zm10 0h2v2h-2zm9 0h2v2h-2zm4 0h2v2h-2zm4 0h2v2h-2zm-360 1h2v2h-2zm12 0h2v2h-2zm6 0h2v2h-2zm18 0h2v2h-2zm4 0h2v2h-2zm18 0h2v2h-2zm1 0h2v2h-2zm1 0h2v2h-2zm3 0h2v2h-2zm12 0h2v2h-2zm7 0h2v2h-2zm13 0h2v2h-2zm1 0h2v2h-2zm1 0h2v2h-2zm12 0h2v2h-2zm1 0h2v2h-2zm6 0h2v2h-2zm11 0h2v2h-2zm1 0h2v2h-2zm2 0h2v2h-2zm3 0h2v2h-2zm8 0h2v2h-2zm8 0h2v2h-2zm27 0h2v2h-2zm1 0h2v2h-2zm23 0h2v2h-2zm11 0h2v2h-2zm6 0h2v2h-2zm34 0h2v2h-2zm7 0h2v2h-2zm11 0h2v2h-2zm39 0h2v2h-2zm2 0h2v2h-2zm4 0h2v2h-2zm3 0h2v2h-2zm5 0h2v2h-2zm2 0h2v2h-2zm3 0h2v2h-2zm7 0h2v2h-2zm3 0h2v2h-2zm18 0h2v2h-2zm1 0h2v2h-2zm3 0h2v2h-2zm2 0h2v2h-2zm-364 1h2v2h-2zm12 0h2v2h-2zm18 0h2v2h-2zm13 0h2v2h-2zm2 0h2v2h-2zm14 0h2v2h-2zm4 0h2v2h-2zm2 0h2v2h-2zm2 0h2v2h-2zm4 0h2v2h-2zm3 0h2v2h-2zm7 0h2v2h-2zm5 0h2v2h-2zm9 0h2v2h-2zm4 0h2v2h-2zm5 0h2v2h-2zm3 0h2v2h-2zm18 0h2v2h-2zm3 0h2v2h-2zm6 0h2v2h-2zm5 0h2v2h-2zm19 0h2v2h-2zm12 0h2v2h-2zm7 0h2v2h-2zm16 0h2v2h-2zm10 0h2v2h-2zm13 0h2v2h-2zm9 0h2v2h-2zm18 0h2v2h-2zm2 0h2v2h-2zm6 0h2v2h-2zm14 0h2v2h-2zm4 0h2v2h-2zm3 0h2v2h-2zm5 0h2v2h-2zm1 0h2v2h-2zm3 0h2v2h-2zm35 0h2v2h-2zm4 0h2v2h-2zm7 0h2v2h-2zm3 0h2v2h-2zm5 0h2v2h-2zm8 0h2v2h-2zm2 0h2v2h-2zm5 0h2v2h-2zm9 0h2v2h-2zm-345 1h2v2h-2zm8 0h2v2h-2zm3 0h2v2h-2zm5 0h2v2h-2zm6 0h2v2h-2zm2 0h2v2h-2zm1 0h2v2h-2zm1 0h2v2h-2zm3 0h2v2h-2zm3 0h2v2h-2zm4 0h2v2h-2zm13 0h2v2h-2zm10 0h2v2h-2zm1 0h2v2h-2zm10 0h2v2h-2zm1 0h2v2h-2zm10 0h2v2h-2zm5 0h2v2h-2zm29 0h2v2h-2zm7 0h2v2h-2zm1 0h2v2h-2zm4 0h2v2h-2zm8 0h2v2h-2zm5 0h2v2h-2zm2 0h2v2h-2zm1 0h2v2h-2zm10 0h2v2h-2zm8 0h2v2h-2zm5 0h2v2h-2zm5 0h2v2h-2zm8 0h2v2h-2zm9 0h2v2h-2zm15 0h2v2h-2zm6 0h2v2h-2zm6 0h2v2h-2zm19 0h2v2h-2zm16 0h2v2h-2zm1 0h2v2h-2zm20 0h2v2h-2zm8 0h2v2h-2zm12 0h2v2h-2zm5 0h2v2h-2zm3 0h2v2h-2zm1 0h2v2h-2zm8 0h2v2h-2zm12 0h2v2h-2zm2 0h2v2h-2zm1 0h2v2h-2zm12 0h2v2h-2zm1 0h2v2h-2zm7 0h2v2h-2zm5 0h2v2h-2zm6 0h2v2h-2zm1 0h2v2h-2zm-359 1h2v2h-2zm2 0h2v2h-2zm3 0h2v2h-2zm1 0h2v2h-2zm4 0h2v2h-2zm1 0h2v2h-2zm10 0h2v2h-2zm1 0h2v2h-2zm10 0h2v2h-2zm1 0h2v2h-2zm4 0h2v2h-2zm1 0h2v2h-2zm8 0h2v2h-2zm1 0h2v2h-2zm2 0h2v2h-2zm2 0h2v2h-2zm1 0h2v2h-2zm4 0h2v2h-2zm3 0h2v2h-2zm13 0h2v2h-2zm2 0h2v2h-2zm9 0h2v2h-2zm3 0h2v2h-2zm5 0h2v2h-2zm2 0h2v2h-2zm2 0h2v2h-2zm18 0h2v2h-2zm13 0h2v2h-2zm8 0h2v2h-2zm1 0h2v2h-2zm1 0h2v2h-2zm2 0h2v2h-2zm1 0h2v2h-2zm6 0h2v2h-2zm1 0h2v2h-2zm13 0h2v2h-2zm47 0h2v2h-2zm10 0h2v2h-2zm6 0h2v2h-2zm7 0h2v2h-2zm6 0h2v2h-2zm7 0h2v2h-2zm24 0h2v2h-2zm3 0h2v2h-2zm4 0h2v2h-2zm1 0h2v2h-2zm3 0h2v2h-2zm14 0h2v2h-2zm2 0h2v2h-2zm4 0h2v2h-2zm14 0h2v2h-2zm10 0h2v2h-2zm11 0h2v2h-2zm1 0h2v2h-2zm6 0h2v2h-2zm3 0h2v2h-2zm9 0h2v2h-2zm5 0h2v2h-2zm-358 1h2v2h-2zm3 0h2v2h-2zm4 0h2v2h-2zm5 0h2v2h-2zm6 0h2v2h-2zm10 0h2v2h-2zm18 0h2v2h-2zm13 0h2v2h-2zm4 0h2v2h-2zm12 0h2v2h-2zm3 0h2v2h-2zm1 0h2v2h-2zm5 0h2v2h-2zm1 0h2v2h-2zm3 0h2v2h-2zm8 0h2v2h-2zm2 0h2v2h-2zm2 0h2v2h-2zm15 0h2v2h-2zm1 0h2v2h-2zm1 0h2v2h-2zm3 0h2v2h-2zm1 0h2v2h-2zm3 0h2v2h-2zm11 0h2v2h-2zm3 0h2v2h-2zm2 0h2v2h-2zm1 0h2v2h-2zm1 0h2v2h-2zm2 0h2v2h-2zm6 0h2v2h-2zm12 0h2v2h-2zm3 0h2v2h-2zm2 0h2v2h-2zm2 0h2v2h-2zm4 0h2v2h-2zm16 0h2v2h-2zm14 0h2v2h-2zm12 0h2v2h-2zm6 0h2v2h-2zm3 0h2v2h-2zm3 0h2v2h-2zm6 0h2v2h-2zm2 0h2v2h-2zm1 0h2v2h-2zm3 0h2v2h-2zm2 0h2v2h-2zm1 0h2v2h-2zm13 0h2v2h-2zm4 0h2v2h-2zm7 0h2v2h-2zm1 0h2v2h-2zm10 0h2v2h-2zm1 0h2v2h-2zm13 0h2v2h-2zm11 0h2v2h-2zm1 0h2v2h-2zm6 0h2v2h-2zm4 0h2v2h-2zm3 0h2v2h-2zm6 0h2v2h-2zm4 0h2v2h-2zm6 0h2v2h-2zm1 0h2v2h-2zm3 0h2v2h-2zm2 0h2v2h-2zm1 0h2v2h-2zm1 0h2v2h-2zm7 0h2v2h-2zm1 0h2v2h-2zm7 0h2v2h-2zm1 0h2v2h-2zm11 0h2v2h-2zm-358 1h2v2h-2zm3 0h2v2h-2zm10 0h2v2h-2zm10 0h2v2h-2zm8 0h2v2h-2zm5 0h2v2h-2zm5 0h2v2h-2zm2 0h2v2h-2zm4 0h2v2h-2zm2 0h2v2h-2zm19 0h2v2h-2zm1 0h2v2h-2zm2 0h2v2h-2zm14 0h2v2h-2zm5 0h2v2h-2zm9 0h2v2h-2zm7 0h2v2h-2zm5 0h2v2h-2zm2 0h2v2h-2zm2 0h2v2h-2zm3 0h2v2h-2zm21 0h2v2h-2zm8 0h2v2h-2zm6 0h2v2h-2zm5 0h2v2h-2zm4 0h2v2h-2zm7 0h2v2h-2zm9 0h2v2h-2zm2 0h2v2h-2zm9 0h2v2h-2zm2 0h2v2h-2zm8 0h2v2h-2zm1 0h2v2h-2zm2 0h2v2h-2zm3 0h2v2h-2zm4 0h2v2h-2zm12 0h2v2h-2zm4 0h2v2h-2zm7 0h2v2h-2zm1 0h2v2h-2zm6 0h2v2h-2zm1 0h2v2h-2zm5 0h2v2h-2zm1 0h2v2h-2zm3 0h2v2h-2zm3 0h2v2h-2zm6 0h2v2h-2zm13 0h2v2h-2zm1 0h2v2h-2zm1 0h2v2h-2zm8 0h2v2h-2zm6 0h2v2h-2zm2 0h2v2h-2zm8 0h2v2h-2zm8 0h2v2h-2zm8 0h2v2h-2zm3 0h2v2h-2zm1 0h2v2h-2zm2 0h2v2h-2zm2 0h2v2h-2zm2 0h2v2h-2zm4 0h2v2h-2zm2 0h2v2h-2zm1 0h2v2h-2zm2 0h2v2h-2zm2 0h2v2h-2zm7 0h2v2h-2zm7 0h2v2h-2zm5 0h2v2h-2zm-354 1h2v2h-2zm5 0h2v2h-2zm2 0h2v2h-2zm13 0h2v2h-2zm5 0h2v2h-2zm1 0h2v2h-2zm6 0h2v2h-2zm1 0h2v2h-2zm5 0h2v2h-2zm2 0h2v2h-2zm22 0h2v2h-2zm1 0h2v2h-2zm4 0h2v2h-2zm1 0h2v2h-2zm9 0h2v2h-2zm13 0h2v2h-2zm11 0h2v2h-2zm30 0h2v2h-2zm11 0h2v2h-2zm25 0h2v2h-2zm22 0h2v2h-2zm2 0h2v2h-2zm1 0h2v2h-2zm6 0h2v2h-2zm31 0h2v2h-2zm10 0h2v2h-2zm1 0h2v2h-2zm2 0h2v2h-2zm3 0h2v2h-2zm6 0h2v2h-2zm1 0h2v2h-2zm2 0h2v2h-2zm3 0h2v2h-2zm1 0h2v2h-2zm5 0h2v2h-2zm7 0h2v2h-2zm7 0h2v2h-2zm2 0h2v2h-2zm4 0h2v2h-2zm3 0h2v2h-2zm7 0h2v2h-2zm17 0h2v2h-2zm3 0h2v2h-2zm5 0h2v2h-2zm1 0h2v2h-2zm7 0h2v2h-2zm5 0h2v2h-2zm4 0h2v2h-2zm3 0h2v2h-2zm3 0h2v2h-2zm3 0h2v2h-2zm4 0h2v2h-2zm2 0h2v2h-2zm-350 1h2v2h-2zm4 0h2v2h-2zm5 0h2v2h-2zm3 0h2v2h-2zm11 0h2v2h-2zm16 0h2v2h-2zm3 0h2v2h-2zm1 0h2v2h-2zm12 0h2v2h-2zm2 0h2v2h-2zm12 0h2v2h-2zm5 0h2v2h-2zm14 0h2v2h-2zm5 0h2v2h-2zm3 0h2v2h-2zm1 0h2v2h-2zm14 0h2v2h-2zm23 0h2v2h-2zm3 0h2v2h-2zm3 0h2v2h-2zm1 0h2v2h-2zm12 0h2v2h-2zm15 0h2v2h-2zm1 0h2v2h-2zm7 0h2v2h-2zm14 0h2v2h-2zm7 0h2v2h-2zm5 0h2v2h-2zm4 0h2v2h-2zm4 0h2v2h-2zm8 0h2v2h-2zm3 0h2v2h-2zm6 0h2v2h-2zm7 0h2v2h-2zm4 0h2v2h-2zm1 0h2v2h-2zm3 0h2v2h-2zm7 0h2v2h-2zm1 0h2v2h-2zm3 0h2v2h-2zm3 0h2v2h-2zm3 0h2v2h-2zm2 0h2v2h-2zm9 0h2v2h-2zm1 0h2v2h-2zm2 0h2v2h-2zm2 0h2v2h-2zm1 0h2v2h-2zm1 0h2v2h-2zm3 0h2v2h-2zm1 0h2v2h-2zm11 0h2v2h-2zm1 0h2v2h-2zm2 0h2v2h-2zm2 0h2v2h-2zm2 0h2v2h-2zm1 0h2v2h-2zm2 0h2v2h-2zm7 0h2v2h-2zm4 0h2v2h-2zm19 0h2v2h-2zm8 0h2v2h-2zm3 0h2v2h-2zm2 0h2v2h-2zm3 0h2v2h-2zm4 0h2v2h-2zm-359 1h2v2h-2zm12 0h2v2h-2zm1 0h2v2h-2zm2 0h2v2h-2zm3 0h2v2h-2zm12 0h2v2h-2zm3 0h2v2h-2zm2 0h2v2h-2zm3 0h2v2h-2zm8 0h2v2h-2zm1 0h2v2h-2zm7 0h2v2h-2zm17 0h2v2h-2zm2 0h2v2h-2zm39 0h2v2h-2zm10 0h2v2h-2zm6 0h2v2h-2zm9 0h2v2h-2zm6 0h2v2h-2zm13 0h2v2h-2zm1 0h2v2h-2zm18 0h2v2h-2zm6 0h2v2h-2zm10 0h2v2h-2zm3 0h2v2h-2zm5 0h2v2h-2zm5 0h2v2h-2zm4 0h2v2h-2zm2 0h2v2h-2zm3 0h2v2h-2zm1 0h2v2h-2zm2 0h2v2h-2zm3 0h2v2h-2zm2 0h2v2h-2zm2 0h2v2h-2zm30 0h2v2h-2zm2 0h2v2h-2zm1 0h2v2h-2zm5 0h2v2h-2zm3 0h2v2h-2zm9 0h2v2h-2zm3 0h2v2h-2zm1 0h2v2h-2zm3 0h2v2h-2zm4 0h2v2h-2zm1 0h2v2h-2zm4 0h2v2h-2zm11 0h2v2h-2zm6 0h2v2h-2zm2 0h2v2h-2zm7 0h2v2h-2zm7 0h2v2h-2zm1 0h2v2h-2zm3 0h2v2h-2zm1 0h2v2h-2zm3 0h2v2h-2zm11 0h2v2h-2zm1 0h2v2h-2zm4 0h2v2h-2zm10 0h2v2h-2zm-358 1h2v2h-2zm15 0h2v2h-2zm17 0h2v2h-2zm6 0h2v2h-2zm2 0h2v2h-2zm13 0h2v2h-2zm4 0h2v2h-2zm3 0h2v2h-2zm17 0h2v2h-2zm10 0h2v2h-2zm11 0h2v2h-2zm8 0h2v2h-2zm9 0h2v2h-2zm5 0h2v2h-2zm1 0h2v2h-2zm2 0h2v2h-2zm4 0h2v2h-2zm3 0h2v2h-2zm13 0h2v2h-2zm7 0h2v2h-2zm2 0h2v2h-2zm18 0h2v2h-2zm2 0h2v2h-2zm4 0h2v2h-2zm4 0h2v2h-2zm7 0h2v2h-2zm3 0h2v2h-2zm2 0h2v2h-2zm7 0h2v2h-2zm1 0h2v2h-2zm8 0h2v2h-2zm2 0h2v2h-2zm5 0h2v2h-2zm10 0h2v2h-2zm10 0h2v2h-2zm6 0h2v2h-2zm5 0h2v2h-2zm7 0h2v2h-2zm1 0h2v2h-2zm1 0h2v2h-2zm3 0h2v2h-2zm2 0h2v2h-2zm8 0h2v2h-2zm9 0h2v2h-2zm8 0h2v2h-2zm11 0h2v2h-2zm1 0h2v2h-2zm16 0h2v2h-2zm1 0h2v2h-2zm4 0h2v2h-2zm3 0h2v2h-2zm3 0h2v2h-2zm4 0h2v2h-2zm1 0h2v2h-2zm3 0h2v2h-2zm2 0h2v2h-2zm5 0h2v2h-2zm6 0h2v2h-2zm8 0h2v2h-2zm2 0h2v2h-2zm7 0h2v2h-2zm-359 1h2v2h-2zm3 0h2v2h-2zm13 0h2v2h-2zm8 0h2v2h-2zm17 0h2v2h-2zm6 0h2v2h-2zm6 0h2v2h-2zm12 0h2v2h-2zm5 0h2v2h-2zm1 0h2v2h-2zm2 0h2v2h-2zm20 0h2v2h-2zm1 0h2v2h-2zm15 0h2v2h-2zm11 0h2v2h-2zm10 0h2v2h-2zm24 0h2v2h-2zm11 0h2v2h-2zm7 0h2v2h-2zm13 0h2v2h-2zm1 0h2v2h-2zm1 0h2v2h-2zm2 0h2v2h-2zm5 0h2v2h-2zm2 0h2v2h-2zm2 0h2v2h-2zm4 0h2v2h-2zm3 0h2v2h-2zm3 0h2v2h-2zm1 0h2v2h-2zm5 0h2v2h-2zm10 0h2v2h-2zm2 0h2v2h-2zm13 0h2v2h-2zm2 0h2v2h-2zm9 0h2v2h-2zm6 0h2v2h-2zm1 0h2v2h-2zm3 0h2v2h-2zm1 0h2v2h-2zm10 0h2v2h-2zm2 0h2v2h-2zm4 0h2v2h-2zm4 0h2v2h-2zm4 0h2v2h-2zm1 0h2v2h-2zm13 0h2v2h-2zm2 0h2v2h-2zm10 0h2v2h-2zm1 0h2v2h-2zm3 0h2v2h-2zm9 0h2v2h-2zm1 0h2v2h-2zm1 0h2v2h-2zm2 0h2v2h-2zm6 0h2v2h-2zm3 0h2v2h-2zm2 0h2v2h-2zm2 0h2v2h-2zm6 0h2v2h-2zm-323 1h2v2h-2zm2 0h2v2h-2zm18 0h2v2h-2zm9 0h2v2h-2zm18 0h2v2h-2zm8 0h2v2h-2zm3 0h2v2h-2zm1 0h2v2h-2zm4 0h2v2h-2zm12 0h2v2h-2zm22 0h2v2h-2zm1 0h2v2h-2zm9 0h2v2h-2zm14 0h2v2h-2zm3 0h2v2h-2zm11 0h2v2h-2zm20 0h2v2h-2zm4 0h2v2h-2zm5 0h2v2h-2zm2 0h2v2h-2zm1 0h2v2h-2zm8 0h2v2h-2zm10 0h2v2h-2zm2 0h2v2h-2zm2 0h2v2h-2zm1 0h2v2h-2zm3 0h2v2h-2zm15 0h2v2h-2zm1 0h2v2h-2zm3 0h2v2h-2zm2 0h2v2h-2zm3 0h2v2h-2zm2 0h2v2h-2zm15 0h2v2h-2zm3 0h2v2h-2zm3 0h2v2h-2zm13 0h2v2h-2zm2 0h2v2h-2zm4 0h2v2h-2zm14 0h2v2h-2zm2 0h2v2h-2zm7 0h2v2h-2zm2 0h2v2h-2zm6 0h2v2h-2zm1 0h2v2h-2zm13 0h2v2h-2zm4 0h2v2h-2zm2 0h2v2h-2zm13 0h2v2h-2zm1 0h2v2h-2zm4 0h2v2h-2zm-353 1h2v2h-2zm47 0h2v2h-2zm15 0h2v2h-2zm9 0h2v2h-2zm15 0h2v2h-2zm6 0h2v2h-2zm10 0h2v2h-2zm6 0h2v2h-2zm5 0h2v2h-2zm13 0h2v2h-2zm3 0h2v2h-2zm11 0h2v2h-2zm9 0h2v2h-2zm8 0h2v2h-2zm2 0h2v2h-2zm9 0h2v2h-2zm3 0h2v2h-2zm2 0h2v2h-2zm3 0h2v2h-2zm8 0h2v2h-2zm8 0h2v2h-2zm1 0h2v2h-2zm3 0h2v2h-2zm2 0h2v2h-2zm4 0h2v2h-2zm4 0h2v2h-2zm8 0h2v2h-2zm5 0h2v2h-2zm7 0h2v2h-2zm8 0h2v2h-2zm4 0h2v2h-2zm2 0h2v2h-2zm2 0h2v2h-2zm4 0h2v2h-2zm1 0h2v2h-2zm1 0h2v2h-2zm3 0h2v2h-2zm2 0h2v2h-2zm2 0h2v2h-2zm1 0h2v2h-2zm1 0h2v2h-2zm6 0h2v2h-2zm7 0h2v2h-2zm10 0h2v2h-2zm1 0h2v2h-2zm5 0h2v2h-2zm10 0h2v2h-2zm2 0h2v2h-2zm6 0h2v2h-2zm10 0h2v2h-2zm11 0h2v2h-2zm5 0h2v2h-2zm2 0h2v2h-2zm1 0h2v2h-2zm7 0h2v2h-2zm2 0h2v2h-2zm10 0h2v2h-2zm2 0h2v2h-2zm3 0h2v2h-2zm-344 1h2v2h-2zm26 0h2v2h-2zm1 0h2v2h-2zm5 0h2v2h-2zm2 0h2v2h-2zm4 0h2v2h-2zm16 0h2v2h-2zm11 0h2v2h-2zm21 0h2v2h-2zm10 0h2v2h-2zm5 0h2v2h-2zm8 0h2v2h-2zm17 0h2v2h-2zm5 0h2v2h-2zm1 0h2v2h-2zm18 0h2v2h-2zm7 0h2v2h-2zm6 0h2v2h-2zm9 0h2v2h-2zm9 0h2v2h-2zm7 0h2v2h-2zm3 0h2v2h-2zm3 0h2v2h-2zm5 0h2v2h-2zm16 0h2v2h-2zm5 0h2v2h-2zm4 0h2v2h-2zm2 0h2v2h-2zm5 0h2v2h-2zm3 0h2v2h-2zm17 0h2v2h-2zm1 0h2v2h-2zm6 0h2v2h-2zm5 0h2v2h-2zm12 0h2v2h-2zm15 0h2v2h-2zm1 0h2v2h-2zm5 0h2v2h-2zm2 0h2v2h-2zm4 0h2v2h-2zm4 0h2v2h-2zm6 0h2v2h-2zm2 0h2v2h-2zm2 0h2v2h-2zm4 0h2v2h-2zm12 0h2v2h-2zm5 0h2v2h-2zm1 0h2v2h-2zm1 0h2v2h-2zm1 0h2v2h-2zm-327 1h2v2h-2zm1 0h2v2h-2zm27 0h2v2h-2zm7 0h2v2h-2zm1 0h2v2h-2zm17 0h2v2h-2zm2 0h2v2h-2zm4 0h2v2h-2zm12 0h2v2h-2zm21 0h2v2h-2zm8 0h2v2h-2zm7 0h2v2h-2zm6 0h2v2h-2zm4 0h2v2h-2zm5 0h2v2h-2zm15 0h2v2h-2zm3 0h2v2h-2zm3 0h2v2h-2zm23 0h2v2h-2zm2 0h2v2h-2zm1 0h2v2h-2zm2 0h2v2h-2zm3 0h2v2h-2zm6 0h2v2h-2zm6 0h2v2h-2zm1 0h2v2h-2zm8 0h2v2h-2zm7 0h2v2h-2zm5 0h2v2h-2zm6 0h2v2h-2zm3 0h2v2h-2zm4 0h2v2h-2zm7 0h2v2h-2zm1 0h2v2h-2zm20 0h2v2h-2zm4 0h2v2h-2zm1 0h2v2h-2zm3 0h2v2h-2zm2 0h2v2h-2zm13 0h2v2h-2zm7 0h2v2h-2zm11 0h2v2h-2zm11 0h2v2h-2zm3 0h2v2h-2zm3 0h2v2h-2zm20 0h2v2h-2zm1 0h2v2h-2zm1 0h2v2h-2zm1 0h2v2h-2zm-346 1h2v2h-2zm9 0h2v2h-2zm55 0h2v2h-2zm6 0h2v2h-2zm45 0h2v2h-2zm18 0h2v2h-2zm5 0h2v2h-2zm16 0h2v2h-2zm3 0h2v2h-2zm2 0h2v2h-2zm6 0h2v2h-2zm14 0h2v2h-2zm1 0h2v2h-2zm1 0h2v2h-2zm1 0h2v2h-2zm6 0h2v2h-2zm11 0h2v2h-2zm4 0h2v2h-2zm1 0h2v2h-2zm1 0h2v2h-2zm2 0h2v2h-2zm4 0h2v2h-2zm7 0h2v2h-2zm4 0h2v2h-2zm4 0h2v2h-2zm21 0h2v2h-2zm1 0h2v2h-2zm6 0h2v2h-2zm29 0h2v2h-2zm3 0h2v2h-2zm2 0h2v2h-2zm4 0h2v2h-2zm2 0h2v2h-2zm5 0h2v2h-2zm10 0h2v2h-2zm6 0h2v2h-2zm3 0h2v2h-2zm12 0h2v2h-2zm2 0h2v2h-2zm2 0h2v2h-2zm6 0h2v2h-2zm5 0h2v2h-2zm-322 1h2v2h-2zm6 0h2v2h-2zm14 0h2v2h-2zm2 0h2v2h-2zm4 0h2v2h-2zm11 0h2v2h-2zm6 0h2v2h-2zm2 0h2v2h-2zm6 0h2v2h-2zm14 0h2v2h-2zm7 0h2v2h-2zm4 0h2v2h-2zm6 0h2v2h-2zm10 0h2v2h-2zm1 0h2v2h-2zm3 0h2v2h-2zm6 0h2v2h-2zm15 0h2v2h-2zm1 0h2v2h-2zm6 0h2v2h-2zm5 0h2v2h-2zm7 0h2v2h-2zm9 0h2v2h-2zm4 0h2v2h-2zm12 0h2v2h-2zm8 0h2v2h-2zm4 0h2v2h-2zm4 0h2v2h-2zm12 0h2v2h-2zm4 0h2v2h-2zm2 0h2v2h-2zm3 0h2v2h-2zm20 0h2v2h-2zm12 0h2v2h-2zm2 0h2v2h-2zm16 0h2v2h-2zm20 0h2v2h-2zm7 0h2v2h-2zm8 0h2v2h-2zm6 0h2v2h-2zm4 0h2v2h-2zm-322 1h2v2h-2zm4 0h2v2h-2zm2 0h2v2h-2zm5 0h2v2h-2zm18 0h2v2h-2zm3 0h2v2h-2zm6 0h2v2h-2zm1 0h2v2h-2zm12 0h2v2h-2zm5 0h2v2h-2zm2 0h2v2h-2zm1 0h2v2h-2zm4 0h2v2h-2zm3 0h2v2h-2zm10 0h2v2h-2zm2 0h2v2h-2zm1 0h2v2h-2zm8 0h2v2h-2zm2 0h2v2h-2zm4 0h2v2h-2zm2 0h2v2h-2zm16 0h2v2h-2zm17 0h2v2h-2zm23 0h2v2h-2zm1 0h2v2h-2zm8 0h2v2h-2zm5 0h2v2h-2zm11 0h2v2h-2zm10 0h2v2h-2zm21 0h2v2h-2zm14 0h2v2h-2zm8 0h2v2h-2zm3 0h2v2h-2zm10 0h2v2h-2zm12 0h2v2h-2zm3 0h2v2h-2zm3 0h2v2h-2zm6 0h2v2h-2zm3 0h2v2h-2zm2 0h2v2h-2zm21 0h2v2h-2zm11 0h2v2h-2zm16 0h2v2h-2zm10 0h2v2h-2zm2 0h2v2h-2zm11 0h2v2h-2zm-335 1h2v2h-2zm19 0h2v2h-2zm20 0h2v2h-2zm2 0h2v2h-2zm21 0h2v2h-2zm2 0h2v2h-2zm3 0h2v2h-2zm2 0h2v2h-2zm10 0h2v2h-2zm1 0h2v2h-2zm13 0h2v2h-2zm1 0h2v2h-2zm40 0h2v2h-2zm3 0h2v2h-2zm2 0h2v2h-2zm8 0h2v2h-2zm3 0h2v2h-2zm4 0h2v2h-2zm4 0h2v2h-2zm24 0h2v2h-2zm1 0h2v2h-2zm14 0h2v2h-2zm2 0h2v2h-2zm3 0h2v2h-2zm1 0h2v2h-2zm5 0h2v2h-2zm3 0h2v2h-2zm2 0h2v2h-2zm12 0h2v2h-2zm3 0h2v2h-2zm30 0h2v2h-2zm4 0h2v2h-2zm1 0h2v2h-2zm8 0h2v2h-2zm6 0h2v2h-2zm41 0h2v2h-2zm9 0h2v2h-2zm5 0h2v2h-2zm1 0h2v2h-2zm1 0h2v2h-2zm6 0h2v2h-2zm9 0h2v2h-2zm-345 1h2v2h-2zm15 0h2v2h-2zm1 0h2v2h-2zm13 0h2v2h-2zm8 0h2v2h-2zm20 0h2v2h-2zm2 0h2v2h-2zm3 0h2v2h-2zm2 0h2v2h-2zm6 0h2v2h-2zm2 0h2v2h-2zm2 0h2v2h-2zm18 0h2v2h-2zm4 0h2v2h-2zm3 0h2v2h-2zm1 0h2v2h-2zm6 0h2v2h-2zm10 0h2v2h-2zm1 0h2v2h-2zm2 0h2v2h-2zm1 0h2v2h-2zm2 0h2v2h-2zm1 0h2v2h-2zm1 0h2v2h-2zm1 0h2v2h-2zm12 0h2v2h-2zm1 0h2v2h-2zm11 0h2v2h-2zm5 0h2v2h-2zm18 0h2v2h-2zm5 0h2v2h-2zm2 0h2v2h-2zm6 0h2v2h-2zm18 0h2v2h-2zm23 0h2v2h-2zm3 0h2v2h-2zm10 0h2v2h-2zm12 0h2v2h-2zm8 0h2v2h-2zm2 0h2v2h-2zm21 0h2v2h-2zm1 0h2v2h-2zm1 0h2v2h-2zm9 0h2v2h-2zm12 0h2v2h-2zm5 0h2v2h-2zm1 0h2v2h-2zm27 0h2v2h-2zm1 0h2v2h-2zm-350 1h2v2h-2zm10 0h2v2h-2zm3 0h2v2h-2zm3 0h2v2h-2zm11 0h2v2h-2zm3 0h2v2h-2zm1 0h2v2h-2zm10 0h2v2h-2zm11 0h2v2h-2zm1 0h2v2h-2zm36 0h2v2h-2zm11 0h2v2h-2zm18 0h2v2h-2zm1 0h2v2h-2zm2 0h2v2h-2zm2 0h2v2h-2zm6 0h2v2h-2zm4 0h2v2h-2zm3 0h2v2h-2zm3 0h2v2h-2zm6 0h2v2h-2zm16 0h2v2h-2zm3 0h2v2h-2zm5 0h2v2h-2zm13 0h2v2h-2zm1 0h2v2h-2zm6 0h2v2h-2zm4 0h2v2h-2zm7 0h2v2h-2zm25 0h2v2h-2zm4 0h2v2h-2zm5 0h2v2h-2zm2 0h2v2h-2zm20 0h2v2h-2zm3 0h2v2h-2zm1 0h2v2h-2zm10 0h2v2h-2zm9 0h2v2h-2zm11 0h2v2h-2zm9 0h2v2h-2zm1 0h2v2h-2zm12 0h2v2h-2zm13 0h2v2h-2zm10 0h2v2h-2zm5 0h2v2h-2zm1 0h2v2h-2zm4 0h2v2h-2zm1 0h2v2h-2zm8 0h2v2h-2zm-348 1h2v2h-2zm9 0h2v2h-2zm10 0h2v2h-2zm1 0h2v2h-2zm4 0h2v2h-2zm9 0h2v2h-2zm1 0h2v2h-2zm13 0h2v2h-2zm1 0h2v2h-2zm1 0h2v2h-2zm5 0h2v2h-2zm6 0h2v2h-2zm2 0h2v2h-2zm7 0h2v2h-2zm17 0h2v2h-2zm6 0h2v2h-2zm2 0h2v2h-2zm7 0h2v2h-2zm16 0h2v2h-2zm4 0h2v2h-2zm1 0h2v2h-2zm1 0h2v2h-2zm6 0h2v2h-2zm2 0h2v2h-2zm3 0h2v2h-2zm1 0h2v2h-2zm3 0h2v2h-2zm12 0h2v2h-2zm33 0h2v2h-2zm4 0h2v2h-2zm7 0h2v2h-2zm3 0h2v2h-2zm39 0h2v2h-2zm7 0h2v2h-2zm58 0h2v2h-2zm4 0h2v2h-2zm7 0h2v2h-2zm3 0h2v2h-2zm4 0h2v2h-2zm9 0h2v2h-2zm8 0h2v2h-2zm1 0h2v2h-2zm1 0h2v2h-2zm1 0h2v2h-2zm5 0h2v2h-2zm1 0h2v2h-2zm-359 1h2v2h-2zm4 0h2v2h-2zm16 0h2v2h-2zm16 0h2v2h-2zm6 0h2v2h-2zm5 0h2v2h-2zm6 0h2v2h-2zm15 0h2v2h-2zm16 0h2v2h-2zm22 0h2v2h-2zm14 0h2v2h-2zm2 0h2v2h-2zm5 0h2v2h-2zm3 0h2v2h-2zm1 0h2v2h-2zm16 0h2v2h-2zm5 0h2v2h-2zm6 0h2v2h-2zm11 0h2v2h-2zm7 0h2v2h-2zm8 0h2v2h-2zm2 0h2v2h-2zm25 0h2v2h-2zm2 0h2v2h-2zm1 0h2v2h-2zm12 0h2v2h-2zm31 0h2v2h-2zm5 0h2v2h-2zm6 0h2v2h-2zm9 0h2v2h-2zm27 0h2v2h-2zm2 0h2v2h-2zm4 0h2v2h-2zm15 0h2v2h-2zm1 0h2v2h-2zm4 0h2v2h-2zm9 0h2v2h-2zm1 0h2v2h-2zm10 0h2v2h-2zm1 0h2v2h-2zm6 0h2v2h-2zm-349 1h2v2h-2zm5 0h2v2h-2zm22 0h2v2h-2zm6 0h2v2h-2zm7 0h2v2h-2zm1 0h2v2h-2zm8 0h2v2h-2zm16 0h2v2h-2zm14 0h2v2h-2zm4 0h2v2h-2zm6 0h2v2h-2zm1 0h2v2h-2zm4 0h2v2h-2zm2 0h2v2h-2zm4 0h2v2h-2zm5 0h2v2h-2zm6 0h2v2h-2zm1 0h2v2h-2zm7 0h2v2h-2zm2 0h2v2h-2zm1 0h2v2h-2zm6 0h2v2h-2zm1 0h2v2h-2zm13 0h2v2h-2zm1 0h2v2h-2zm1 0h2v2h-2zm1 0h2v2h-2zm3 0h2v2h-2zm1 0h2v2h-2zm3 0h2v2h-2zm3 0h2v2h-2zm10 0h2v2h-2zm3 0h2v2h-2zm20 0h2v2h-2zm13 0h2v2h-2zm8 0h2v2h-2zm1 0h2v2h-2zm1 0h2v2h-2zm9 0h2v2h-2zm22 0h2v2h-2zm2 0h2v2h-2zm5 0h2v2h-2zm4 0h2v2h-2zm6 0h2v2h-2zm1 0h2v2h-2zm2 0h2v2h-2zm8 0h2v2h-2zm4 0h2v2h-2zm2 0h2v2h-2zm18 0h2v2h-2zm1 0h2v2h-2zm1 0h2v2h-2zm1 0h2v2h-2zm6 0h2v2h-2zm1 0h2v2h-2zm4 0h2v2h-2zm1 0h2v2h-2zm2 0h2v2h-2zm1 0h2v2h-2zm2 0h2v2h-2zm8 0h2v2h-2zm6 0h2v2h-2zm6 0h2v2h-2zm4 0h2v2h-2zm1 0h2v2h-2zm5 0h2v2h-2zm3 0h2v2h-2zm5 0h2v2h-2zm-348 1h2v2h-2zm1 0h2v2h-2zm6 0h2v2h-2zm13 0h2v2h-2zm4 0h2v2h-2zm14 0h2v2h-2zm6 0h2v2h-2zm2 0h2v2h-2zm12 0h2v2h-2zm24 0h2v2h-2zm7 0h2v2h-2zm2 0h2v2h-2zm1 0h2v2h-2zm21 0h2v2h-2zm6 0h2v2h-2zm6 0h2v2h-2zm5 0h2v2h-2zm1 0h2v2h-2zm7 0h2v2h-2zm7 0h2v2h-2zm2 0h2v2h-2zm11 0h2v2h-2zm4 0h2v2h-2zm18 0h2v2h-2zm16 0h2v2h-2zm13 0h2v2h-2zm13 0h2v2h-2zm2 0h2v2h-2zm23 0h2v2h-2zm4 0h2v2h-2zm1 0h2v2h-2zm15 0h2v2h-2zm2 0h2v2h-2zm5 0h2v2h-2zm14 0h2v2h-2zm8 0h2v2h-2zm1 0h2v2h-2zm1 0h2v2h-2zm8 0h2v2h-2zm10 0h2v2h-2zm4 0h2v2h-2zm2 0h2v2h-2zm9 0h2v2h-2zm3 0h2v2h-2zm6 0h2v2h-2zm2 0h2v2h-2zm-351 1h2v2h-2zm3 0h2v2h-2zm2 0h2v2h-2zm5 0h2v2h-2zm1 0h2v2h-2zm5 0h2v2h-2zm1 0h2v2h-2zm4 0h2v2h-2zm1 0h2v2h-2zm4 0h2v2h-2zm2 0h2v2h-2zm1 0h2v2h-2zm5 0h2v2h-2zm1 0h2v2h-2zm6 0h2v2h-2zm16 0h2v2h-2zm8 0h2v2h-2zm15 0h2v2h-2zm3 0h2v2h-2zm3 0h2v2h-2zm4 0h2v2h-2zm9 0h2v2h-2zm9 0h2v2h-2zm2 0h2v2h-2zm11 0h2v2h-2zm4 0h2v2h-2zm7 0h2v2h-2zm3 0h2v2h-2zm14 0h2v2h-2zm2 0h2v2h-2zm6 0h2v2h-2zm12 0h2v2h-2zm8 0h2v2h-2zm16 0h2v2h-2zm8 0h2v2h-2zm4 0h2v2h-2zm3 0h2v2h-2zm1 0h2v2h-2zm13 0h2v2h-2zm4 0h2v2h-2zm8 0h2v2h-2zm2 0h2v2h-2zm5 0h2v2h-2zm3 0h2v2h-2zm12 0h2v2h-2zm1 0h2v2h-2zm5 0h2v2h-2zm1 0h2v2h-2zm14 0h2v2h-2zm4 0h2v2h-2zm24 0h2v2h-2zm12 0h2v2h-2zm2 0h2v2h-2zm5 0h2v2h-2zm4 0h2v2h-2zm2 0h2v2h-2zm1 0h2v2h-2zm2 0h2v2h-2zm3 0h2v2h-2zm5 0h2v2h-2zm7 0h2v2h-2zm1 0h2v2h-2zm3 0h2v2h-2zm-357 1h2v2h-2zm9 0h2v2h-2zm2 0h2v2h-2zm3 0h2v2h-2zm6 0h2v2h-2zm9 0h2v2h-2zm6 0h2v2h-2zm2 0h2v2h-2zm3 0h2v2h-2zm1 0h2v2h-2zm16 0h2v2h-2zm4 0h2v2h-2zm1 0h2v2h-2zm2 0h2v2h-2zm1 0h2v2h-2zm25 0h2v2h-2zm15 0h2v2h-2zm1 0h2v2h-2zm3 0h2v2h-2zm7 0h2v2h-2zm7 0h2v2h-2zm1 0h2v2h-2zm3 0h2v2h-2zm25 0h2v2h-2zm9 0h2v2h-2zm1 0h2v2h-2zm29 0h2v2h-2zm17 0h2v2h-2zm24 0h2v2h-2zm5 0h2v2h-2zm3 0h2v2h-2zm4 0h2v2h-2zm5 0h2v2h-2zm5 0h2v2h-2zm10 0h2v2h-2zm9 0h2v2h-2zm1 0h2v2h-2zm9 0h2v2h-2zm14 0h2v2h-2zm8 0h2v2h-2zm4 0h2v2h-2zm2 0h2v2h-2zm6 0h2v2h-2zm18 0h2v2h-2zm1 0h2v2h-2zm7 0h2v2h-2zm2 0h2v2h-2zm7 0h2v2h-2zm2 0h2v2h-2zm3 0h2v2h-2zm3 0h2v2h-2zm4 0h2v2h-2zm1 0h2v2h-2zm-350 1h2v2h-2zm51 0h2v2h-2zm5 0h2v2h-2zm9 0h2v2h-2zm2 0h2v2h-2zm2 0h2v2h-2zm3 0h2v2h-2zm1 0h2v2h-2zm4 0h2v2h-2zm9 0h2v2h-2zm11 0h2v2h-2zm10 0h2v2h-2zm11 0h2v2h-2zm5 0h2v2h-2zm13 0h2v2h-2zm5 0h2v2h-2zm28 0h2v2h-2zm15 0h2v2h-2zm1 0h2v2h-2zm1 0h2v2h-2zm12 0h2v2h-2zm2 0h2v2h-2zm9 0h2v2h-2zm10 0h2v2h-2zm5 0h2v2h-2zm3 0h2v2h-2zm3 0h2v2h-2zm19 0h2v2h-2zm6 0h2v2h-2zm5 0h2v2h-2zm2 0h2v2h-2zm6 0h2v2h-2zm1 0h2v2h-2zm3 0h2v2h-2zm1 0h2v2h-2zm7 0h2v2h-2zm8 0h2v2h-2zm5 0h2v2h-2zm5 0h2v2h-2zm3 0h2v2h-2zm7 0h2v2h-2zm4 0h2v2h-2zm10 0h2v2h-2zm3 0h2v2h-2zm5 0h2v2h-2zm1 0h2v2h-2zm5 0h2v2h-2zm3 0h2v2h-2zm2 0h2v2h-2zm2 0h2v2h-2zm4 0h2v2h-2zm-341 1h2v2h-2zm5 0h2v2h-2zm2 0h2v2h-2zm30 0h2v2h-2zm3 0h2v2h-2zm3 0h2v2h-2zm13 0h2v2h-2zm6 0h2v2h-2zm2 0h2v2h-2zm3 0h2v2h-2zm1 0h2v2h-2zm22 0h2v2h-2zm7 0h2v2h-2zm3 0h2v2h-2zm3 0h2v2h-2zm4 0h2v2h-2zm4 0h2v2h-2zm1 0h2v2h-2zm19 0h2v2h-2zm38 0h2v2h-2zm7 0h2v2h-2zm16 0h2v2h-2zm6 0h2v2h-2zm9 0h2v2h-2zm16 0h2v2h-2zm2 0h2v2h-2zm12 0h2v2h-2zm2 0h2v2h-2zm6 0h2v2h-2zm12 0h2v2h-2zm3 0h2v2h-2zm1 0h2v2h-2zm2 0h2v2h-2zm4 0h2v2h-2zm1 0h2v2h-2zm3 0h2v2h-2zm3 0h2v2h-2zm1 0h2v2h-2zm10 0h2v2h-2zm4 0h2v2h-2zm9 0h2v2h-2zm1 0h2v2h-2zm2 0h2v2h-2zm4 0h2v2h-2zm1 0h2v2h-2zm1 0h2v2h-2zm2 0h2v2h-2zm2 0h2v2h-2zm2 0h2v2h-2zm6 0h2v2h-2zm1 0h2v2h-2zm11 0h2v2h-2zm1 0h2v2h-2zm5 0h2v2h-2zm5 0h2v2h-2zm2 0h2v2h-2zm3 0h2v2h-2zm-348 1h2v2h-2zm1 0h2v2h-2zm5 0h2v2h-2zm1 0h2v2h-2zm2 0h2v2h-2zm6 0h2v2h-2zm4 0h2v2h-2zm3 0h2v2h-2zm1 0h2v2h-2zm1 0h2v2h-2zm1 0h2v2h-2zm3 0h2v2h-2zm10 0h2v2h-2zm6 0h2v2h-2zm20 0h2v2h-2zm4 0h2v2h-2zm13 0h2v2h-2zm2 0h2v2h-2zm2 0h2v2h-2zm20 0h2v2h-2zm5 0h2v2h-2zm1 0h2v2h-2zm8 0h2v2h-2zm1 0h2v2h-2zm4 0h2v2h-2zm7 0h2v2h-2zm8 0h2v2h-2zm15 0h2v2h-2zm2 0h2v2h-2zm2 0h2v2h-2zm2 0h2v2h-2zm2 0h2v2h-2zm7 0h2v2h-2zm10 0h2v2h-2zm1 0h2v2h-2zm1 0h2v2h-2zm2 0h2v2h-2zm12 0h2v2h-2zm1 0h2v2h-2zm13 0h2v2h-2zm10 0h2v2h-2zm6 0h2v2h-2zm5 0h2v2h-2zm9 0h2v2h-2zm3 0h2v2h-2zm4 0h2v2h-2zm4 0h2v2h-2zm3 0h2v2h-2zm3 0h2v2h-2zm5 0h2v2h-2zm4 0h2v2h-2zm9 0h2v2h-2zm6 0h2v2h-2zm3 0h2v2h-2zm6 0h2v2h-2zm1 0h2v2h-2zm5 0h2v2h-2zm3 0h2v2h-2zm3 0h2v2h-2zm16 0h2v2h-2zm2 0h2v2h-2zm2 0h2v2h-2zm2 0h2v2h-2zm5 0h2v2h-2zm1 0h2v2h-2zm10 0h2v2h-2zm4 0h2v2h-2zm-351 1h2v2h-2zm7 0h2v2h-2zm18 0h2v2h-2zm5 0h2v2h-2zm18 0h2v2h-2zm2 0h2v2h-2zm14 0h2v2h-2zm14 0h2v2h-2zm12 0h2v2h-2zm8 0h2v2h-2zm1 0h2v2h-2zm2 0h2v2h-2zm8 0h2v2h-2zm5 0h2v2h-2zm18 0h2v2h-2zm17 0h2v2h-2zm10 0h2v2h-2zm7 0h2v2h-2zm12 0h2v2h-2zm1 0h2v2h-2zm7 0h2v2h-2zm1 0h2v2h-2zm1 0h2v2h-2zm1 0h2v2h-2zm11 0h2v2h-2zm8 0h2v2h-2zm14 0h2v2h-2zm4 0h2v2h-2zm2 0h2v2h-2zm1 0h2v2h-2zm1 0h2v2h-2zm3 0h2v2h-2zm1 0h2v2h-2zm2 0h2v2h-2zm14 0h2v2h-2zm1 0h2v2h-2zm2 0h2v2h-2zm2 0h2v2h-2zm1 0h2v2h-2zm16 0h2v2h-2zm2 0h2v2h-2zm2 0h2v2h-2zm9 0h2v2h-2zm12 0h2v2h-2zm1 0h2v2h-2zm2 0h2v2h-2zm3 0h2v2h-2zm7 0h2v2h-2zm3 0h2v2h-2zm2 0h2v2h-2zm7 0h2v2h-2zm3 0h2v2h-2zm16 0h2v2h-2zm1 0h2v2h-2zm1 0h2v2h-2zm4 0h2v2h-2zm2 0h2v2h-2zm1 0h2v2h-2zm3 0h2v2h-2zm2 0h2v2h-2zm-355 1h2v2h-2zm6 0h2v2h-2zm9 0h2v2h-2zm10 0h2v2h-2zm4 0h2v2h-2zm1 0h2v2h-2zm24 0h2v2h-2zm4 0h2v2h-2zm30 0h2v2h-2zm5 0h2v2h-2zm3 0h2v2h-2zm5 0h2v2h-2zm2 0h2v2h-2zm7 0h2v2h-2zm15 0h2v2h-2zm19 0h2v2h-2zm7 0h2v2h-2zm16 0h2v2h-2zm6 0h2v2h-2zm10 0h2v2h-2zm1 0h2v2h-2zm3 0h2v2h-2zm15 0h2v2h-2zm4 0h2v2h-2zm1 0h2v2h-2zm2 0h2v2h-2zm1 0h2v2h-2zm3 0h2v2h-2zm13 0h2v2h-2zm3 0h2v2h-2zm1 0h2v2h-2zm3 0h2v2h-2zm7 0h2v2h-2zm4 0h2v2h-2zm6 0h2v2h-2zm11 0h2v2h-2zm7 0h2v2h-2zm2 0h2v2h-2zm4 0h2v2h-2zm2 0h2v2h-2zm1 0h2v2h-2zm1 0h2v2h-2zm7 0h2v2h-2zm4 0h2v2h-2zm4 0h2v2h-2zm9 0h2v2h-2zm5 0h2v2h-2zm6 0h2v2h-2zm2 0h2v2h-2zm1 0h2v2h-2zm5 0h2v2h-2zm1 0h2v2h-2zm6 0h2v2h-2zm3 0h2v2h-2zm5 0h2v2h-2zm1 0h2v2h-2zm3 0h2v2h-2zm3 0h2v2h-2zm-350 1h2v2h-2zm3 0h2v2h-2zm27 0h2v2h-2zm2 0h2v2h-2zm37 0h2v2h-2zm8 0h2v2h-2zm26 0h2v2h-2zm7 0h2v2h-2zm2 0h2v2h-2zm13 0h2v2h-2zm20 0h2v2h-2zm10 0h2v2h-2zm7 0h2v2h-2zm3 0h2v2h-2zm10 0h2v2h-2zm7 0h2v2h-2zm7 0h2v2h-2zm5 0h2v2h-2zm5 0h2v2h-2zm3 0h2v2h-2zm10 0h2v2h-2zm8 0h2v2h-2zm1 0h2v2h-2zm1 0h2v2h-2zm17 0h2v2h-2zm2 0h2v2h-2zm14 0h2v2h-2zm7 0h2v2h-2zm3 0h2v2h-2zm2 0h2v2h-2zm1 0h2v2h-2zm5 0h2v2h-2zm7 0h2v2h-2zm3 0h2v2h-2zm2 0h2v2h-2zm3 0h2v2h-2zm1 0h2v2h-2zm3 0h2v2h-2zm12 0h2v2h-2zm1 0h2v2h-2zm2 0h2v2h-2zm1 0h2v2h-2zm18 0h2v2h-2zm3 0h2v2h-2zm1 0h2v2h-2zm2 0h2v2h-2zm13 0h2v2h-2zm1 0h2v2h-2zm2 0h2v2h-2zm12 0h2v2h-2zm-349 1h2v2h-2zm16 0h2v2h-2zm5 0h2v2h-2zm19 0h2v2h-2zm1 0h2v2h-2zm9 0h2v2h-2zm16 0h2v2h-2zm11 0h2v2h-2zm7 0h2v2h-2zm2 0h2v2h-2zm2 0h2v2h-2zm8 0h2v2h-2zm27 0h2v2h-2zm7 0h2v2h-2zm4 0h2v2h-2zm7 0h2v2h-2zm16 0h2v2h-2zm11 0h2v2h-2zm7 0h2v2h-2zm2 0h2v2h-2zm5 0h2v2h-2zm3 0h2v2h-2zm11 0h2v2h-2zm10 0h2v2h-2zm6 0h2v2h-2zm7 0h2v2h-2zm5 0h2v2h-2zm7 0h2v2h-2zm3 0h2v2h-2zm7 0h2v2h-2zm1 0h2v2h-2zm23 0h2v2h-2zm1 0h2v2h-2zm4 0h2v2h-2zm1 0h2v2h-2zm2 0h2v2h-2zm3 0h2v2h-2zm3 0h2v2h-2zm1 0h2v2h-2zm5 0h2v2h-2zm5 0h2v2h-2zm1 0h2v2h-2zm2 0h2v2h-2zm7 0h2v2h-2zm1 0h2v2h-2zm1 0h2v2h-2zm3 0h2v2h-2zm10 0h2v2h-2zm5 0h2v2h-2zm11 0h2v2h-2zm6 0h2v2h-2zm2 0h2v2h-2zm2 0h2v2h-2zm2 0h2v2h-2zm7 0h2v2h-2zm-353 1h2v2h-2zm1 0h2v2h-2zm5 0h2v2h-2zm8 0h2v2h-2zm22 0h2v2h-2zm14 0h2v2h-2zm1 0h2v2h-2zm15 0h2v2h-2zm9 0h2v2h-2zm13 0h2v2h-2zm8 0h2v2h-2zm3 0h2v2h-2zm5 0h2v2h-2zm3 0h2v2h-2zm4 0h2v2h-2zm3 0h2v2h-2zm30 0h2v2h-2zm1 0h2v2h-2zm11 0h2v2h-2zm3 0h2v2h-2zm8 0h2v2h-2zm6 0h2v2h-2zm1 0h2v2h-2zm1 0h2v2h-2zm1 0h2v2h-2zm2 0h2v2h-2zm5 0h2v2h-2zm8 0h2v2h-2zm21 0h2v2h-2zm10 0h2v2h-2zm2 0h2v2h-2zm3 0h2v2h-2zm2 0h2v2h-2zm2 0h2v2h-2zm2 0h2v2h-2zm2 0h2v2h-2zm6 0h2v2h-2zm2 0h2v2h-2zm4 0h2v2h-2zm2 0h2v2h-2zm4 0h2v2h-2zm1 0h2v2h-2zm2 0h2v2h-2zm6 0h2v2h-2zm8 0h2v2h-2zm4 0h2v2h-2zm4 0h2v2h-2zm1 0h2v2h-2zm9 0h2v2h-2zm2 0h2v2h-2zm4 0h2v2h-2zm1 0h2v2h-2zm1 0h2v2h-2zm1 0h2v2h-2zm17 0h2v2h-2zm3 0h2v2h-2zm2 0h2v2h-2zm1 0h2v2h-2zm6 0h2v2h-2zm8 0h2v2h-2zm9 0h2v2h-2zm6 0h2v2h-2zm-343 1h2v2h-2zm3 0h2v2h-2zm1 0h2v2h-2zm3 0h2v2h-2zm11 0h2v2h-2zm9 0h2v2h-2zm11 0h2v2h-2zm3 0h2v2h-2zm2 0h2v2h-2zm25 0h2v2h-2zm4 0h2v2h-2zm10 0h2v2h-2zm22 0h2v2h-2zm4 0h2v2h-2zm6 0h2v2h-2zm19 0h2v2h-2zm1 0h2v2h-2zm2 0h2v2h-2zm4 0h2v2h-2zm9 0h2v2h-2zm2 0h2v2h-2zm5 0h2v2h-2zm1 0h2v2h-2zm3 0h2v2h-2zm15 0h2v2h-2zm9 0h2v2h-2zm3 0h2v2h-2zm5 0h2v2h-2zm1 0h2v2h-2zm4 0h2v2h-2zm6 0h2v2h-2zm4 0h2v2h-2zm2 0h2v2h-2zm2 0h2v2h-2zm9 0h2v2h-2zm6 0h2v2h-2zm8 0h2v2h-2zm1 0h2v2h-2zm4 0h2v2h-2zm4 0h2v2h-2zm3 0h2v2h-2zm1 0h2v2h-2zm3 0h2v2h-2zm8 0h2v2h-2zm2 0h2v2h-2zm3 0h2v2h-2zm2 0h2v2h-2zm12 0h2v2h-2zm14 0h2v2h-2zm22 0h2v2h-2zm9 0h2v2h-2zm11 0h2v2h-2zm2 0h2v2h-2zm3 0h2v2h-2zm1 0h2v2h-2zm-351 1h2v2h-2zm1 0h2v2h-2zm4 0h2v2h-2zm48 0h2v2h-2zm7 0h2v2h-2zm7 0h2v2h-2zm6 0h2v2h-2zm16 0h2v2h-2zm2 0h2v2h-2zm6 0h2v2h-2zm9 0h2v2h-2zm12 0h2v2h-2zm5 0h2v2h-2zm9 0h2v2h-2zm9 0h2v2h-2zm8 0h2v2h-2zm2 0h2v2h-2zm5 0h2v2h-2zm7 0h2v2h-2zm8 0h2v2h-2zm2 0h2v2h-2zm3 0h2v2h-2zm16 0h2v2h-2zm3 0h2v2h-2zm2 0h2v2h-2zm3 0h2v2h-2zm1 0h2v2h-2zm16 0h2v2h-2zm10 0h2v2h-2zm3 0h2v2h-2zm10 0h2v2h-2zm3 0h2v2h-2zm1 0h2v2h-2zm1 0h2v2h-2zm6 0h2v2h-2zm3 0h2v2h-2zm1 0h2v2h-2zm2 0h2v2h-2zm2 0h2v2h-2zm6 0h2v2h-2zm9 0h2v2h-2zm27 0h2v2h-2zm1 0h2v2h-2zm1 0h2v2h-2zm4 0h2v2h-2zm6 0h2v2h-2zm12 0h2v2h-2zm1 0h2v2h-2zm8 0h2v2h-2zm9 0h2v2h-2zm1 0h2v2h-2zm7 0h2v2h-2zm4 0h2v2h-2zm-340 1h2v2h-2zm3 0h2v2h-2zm40 0h2v2h-2zm16 0h2v2h-2zm6 0h2v2h-2zm11 0h2v2h-2zm10 0h2v2h-2zm6 0h2v2h-2zm4 0h2v2h-2zm4 0h2v2h-2zm17 0h2v2h-2zm8 0h2v2h-2zm4 0h2v2h-2zm1 0h2v2h-2zm12 0h2v2h-2zm3 0h2v2h-2zm6 0h2v2h-2zm1 0h2v2h-2zm3 0h2v2h-2zm2 0h2v2h-2zm1 0h2v2h-2zm3 0h2v2h-2zm1 0h2v2h-2zm2 0h2v2h-2zm2 0h2v2h-2zm9 0h2v2h-2zm9 0h2v2h-2zm11 0h2v2h-2zm5 0h2v2h-2zm13 0h2v2h-2zm4 0h2v2h-2zm2 0h2v2h-2zm6 0h2v2h-2zm2 0h2v2h-2zm2 0h2v2h-2zm9 0h2v2h-2zm1 0h2v2h-2zm4 0h2v2h-2zm29 0h2v2h-2zm3 0h2v2h-2zm19 0h2v2h-2zm5 0h2v2h-2zm9 0h2v2h-2zm2 0h2v2h-2zm5 0h2v2h-2zm-324 1h2v2h-2zm26 0h2v2h-2zm4 0h2v2h-2zm15 0h2v2h-2zm2 0h2v2h-2zm4 0h2v2h-2zm21 0h2v2h-2zm26 0h2v2h-2zm1 0h2v2h-2zm3 0h2v2h-2zm4 0h2v2h-2zm4 0h2v2h-2zm5 0h2v2h-2zm24 0h2v2h-2zm1 0h2v2h-2zm12 0h2v2h-2zm9 0h2v2h-2zm4 0h2v2h-2zm3 0h2v2h-2zm7 0h2v2h-2zm3 0h2v2h-2zm10 0h2v2h-2zm1 0h2v2h-2zm12 0h2v2h-2zm2 0h2v2h-2zm7 0h2v2h-2zm1 0h2v2h-2zm22 0h2v2h-2zm4 0h2v2h-2zm14 0h2v2h-2zm1 0h2v2h-2zm5 0h2v2h-2zm5 0h2v2h-2zm10 0h2v2h-2zm1 0h2v2h-2zm7 0h2v2h-2zm9 0h2v2h-2zm1 0h2v2h-2zm1 0h2v2h-2zm4 0h2v2h-2zm1 0h2v2h-2zm6 0h2v2h-2zm5 0h2v2h-2zm1 0h2v2h-2zm9 0h2v2h-2zm5 0h2v2h-2zm4 0h2v2h-2zm6 0h2v2h-2zm1 0h2v2h-2zm6 0h2v2h-2zm8 0h2v2h-2zm9 0h2v2h-2zm-360 1h2v2h-2zm5 0h2v2h-2zm5 0h2v2h-2zm9 0h2v2h-2zm7 0h2v2h-2zm29 0h2v2h-2zm6 0h2v2h-2zm4 0h2v2h-2zm15 0h2v2h-2zm18 0h2v2h-2zm1 0h2v2h-2zm5 0h2v2h-2zm12 0h2v2h-2zm1 0h2v2h-2zm1 0h2v2h-2zm6 0h2v2h-2zm14 0h2v2h-2zm9 0h2v2h-2zm9 0h2v2h-2zm19 0h2v2h-2zm11 0h2v2h-2zm7 0h2v2h-2zm2 0h2v2h-2zm13 0h2v2h-2zm2 0h2v2h-2zm12 0h2v2h-2zm6 0h2v2h-2zm1 0h2v2h-2zm6 0h2v2h-2zm4 0h2v2h-2zm3 0h2v2h-2zm12 0h2v2h-2zm7 0h2v2h-2zm3 0h2v2h-2zm7 0h2v2h-2zm2 0h2v2h-2zm1 0h2v2h-2zm1 0h2v2h-2zm2 0h2v2h-2zm3 0h2v2h-2zm1 0h2v2h-2zm25 0h2v2h-2zm6 0h2v2h-2zm5 0h2v2h-2zm6 0h2v2h-2zm22 0h2v2h-2zm4 0h2v2h-2zm-340 1h2v2h-2zm8 0h2v2h-2zm18 0h2v2h-2zm65 0h2v2h-2zm17 0h2v2h-2zm18 0h2v2h-2zm10 0h2v2h-2zm7 0h2v2h-2zm7 0h2v2h-2zm6 0h2v2h-2zm1 0h2v2h-2zm17 0h2v2h-2zm8 0h2v2h-2zm11 0h2v2h-2zm8 0h2v2h-2zm16 0h2v2h-2zm21 0h2v2h-2zm1 0h2v2h-2zm9 0h2v2h-2zm15 0h2v2h-2zm3 0h2v2h-2zm13 0h2v2h-2zm6 0h2v2h-2zm1 0h2v2h-2zm22 0h2v2h-2zm6 0h2v2h-2zm20 0h2v2h-2zm2 0h2v2h-2zm1 0h2v2h-2zm-348 1h2v2h-2zm15 0h2v2h-2zm4 0h2v2h-2zm5 0h2v2h-2zm9 0h2v2h-2zm1 0h2v2h-2zm13 0h2v2h-2zm6 0h2v2h-2zm3 0h2v2h-2zm1 0h2v2h-2zm5 0h2v2h-2zm29 0h2v2h-2zm2 0h2v2h-2zm2 0h2v2h-2zm3 0h2v2h-2zm3 0h2v2h-2zm1 0h2v2h-2zm6 0h2v2h-2zm2 0h2v2h-2zm3 0h2v2h-2zm2 0h2v2h-2zm7 0h2v2h-2zm3 0h2v2h-2zm22 0h2v2h-2zm3 0h2v2h-2zm6 0h2v2h-2zm6 0h2v2h-2zm4 0h2v2h-2zm1 0h2v2h-2zm13 0h2v2h-2zm11 0h2v2h-2zm2 0h2v2h-2zm20 0h2v2h-2zm6 0h2v2h-2zm3 0h2v2h-2zm17 0h2v2h-2zm18 0h2v2h-2zm4 0h2v2h-2zm14 0h2v2h-2zm11 0h2v2h-2zm6 0h2v2h-2zm5 0h2v2h-2zm4 0h2v2h-2zm7 0h2v2h-2zm3 0h2v2h-2zm39 0h2v2h-2zm9 0h2v2h-2zm-355 1h2v2h-2zm2 0h2v2h-2zm23 0h2v2h-2zm4 0h2v2h-2zm8 0h2v2h-2zm10 0h2v2h-2zm6 0h2v2h-2zm4 0h2v2h-2zm3 0h2v2h-2zm3 0h2v2h-2zm8 0h2v2h-2zm3 0h2v2h-2zm9 0h2v2h-2zm8 0h2v2h-2zm2 0h2v2h-2zm7 0h2v2h-2zm3 0h2v2h-2zm3 0h2v2h-2zm5 0h2v2h-2zm1 0h2v2h-2zm2 0h2v2h-2zm4 0h2v2h-2zm1 0h2v2h-2zm2 0h2v2h-2zm19 0h2v2h-2zm13 0h2v2h-2zm4 0h2v2h-2zm5 0h2v2h-2zm2 0h2v2h-2zm2 0h2v2h-2zm2 0h2v2h-2zm6 0h2v2h-2zm14 0h2v2h-2zm37 0h2v2h-2zm9 0h2v2h-2zm24 0h2v2h-2zm15 0h2v2h-2zm3 0h2v2h-2zm7 0h2v2h-2zm17 0h2v2h-2zm2 0h2v2h-2zm2 0h2v2h-2zm1 0h2v2h-2zm41 0h2v2h-2zm2 0h2v2h-2zm-344 1h2v2h-2zm4 0h2v2h-2zm19 0h2v2h-2zm1 0h2v2h-2zm5 0h2v2h-2zm12 0h2v2h-2zm1 0h2v2h-2zm3 0h2v2h-2zm7 0h2v2h-2zm1 0h2v2h-2zm1 0h2v2h-2zm12 0h2v2h-2zm6 0h2v2h-2zm1 0h2v2h-2zm3 0h2v2h-2zm1 0h2v2h-2zm2 0h2v2h-2zm11 0h2v2h-2zm7 0h2v2h-2zm1 0h2v2h-2zm3 0h2v2h-2zm5 0h2v2h-2zm1 0h2v2h-2zm4 0h2v2h-2zm10 0h2v2h-2zm5 0h2v2h-2zm4 0h2v2h-2zm4 0h2v2h-2zm10 0h2v2h-2zm13 0h2v2h-2zm18 0h2v2h-2zm4 0h2v2h-2zm10 0h2v2h-2zm2 0h2v2h-2zm9 0h2v2h-2zm1 0h2v2h-2zm20 0h2v2h-2zm8 0h2v2h-2zm1 0h2v2h-2zm1 0h2v2h-2zm4 0h2v2h-2zm14 0h2v2h-2zm7 0h2v2h-2zm13 0h2v2h-2zm19 0h2v2h-2zm2 0h2v2h-2zm1 0h2v2h-2zm4 0h2v2h-2zm24 0h2v2h-2zm1 0h2v2h-2zm3 0h2v2h-2zm3 0h2v2h-2zm2 0h2v2h-2zm-332 1h2v2h-2zm30 0h2v2h-2zm12 0h2v2h-2zm4 0h2v2h-2zm1 0h2v2h-2zm4 0h2v2h-2zm3 0h2v2h-2zm18 0h2v2h-2zm2 0h2v2h-2zm2 0h2v2h-2zm2 0h2v2h-2zm1 0h2v2h-2zm8 0h2v2h-2zm6 0h2v2h-2zm2 0h2v2h-2zm7 0h2v2h-2zm3 0h2v2h-2zm16 0h2v2h-2zm5 0h2v2h-2zm11 0h2v2h-2zm3 0h2v2h-2zm1 0h2v2h-2zm9 0h2v2h-2zm17 0h2v2h-2zm7 0h2v2h-2zm2 0h2v2h-2zm31 0h2v2h-2zm5 0h2v2h-2zm1 0h2v2h-2zm2 0h2v2h-2zm4 0h2v2h-2zm17 0h2v2h-2zm4 0h2v2h-2zm5 0h2v2h-2zm2 0h2v2h-2zm11 0h2v2h-2zm5 0h2v2h-2zm1 0h2v2h-2zm19 0h2v2h-2zm1 0h2v2h-2zm25 0h2v2h-2zm23 0h2v2h-2zm11 0h2v2h-2zm2 0h2v2h-2zm3 0h2v2h-2zm-347 1h2v2h-2zm2 0h2v2h-2zm7 0h2v2h-2zm1 0h2v2h-2zm5 0h2v2h-2zm15 0h2v2h-2zm5 0h2v2h-2zm2 0h2v2h-2zm6 0h2v2h-2zm7 0h2v2h-2zm1 0h2v2h-2zm2 0h2v2h-2zm1 0h2v2h-2zm2 0h2v2h-2zm8 0h2v2h-2zm2 0h2v2h-2zm2 0h2v2h-2zm1 0h2v2h-2zm4 0h2v2h-2zm5 0h2v2h-2zm18 0h2v2h-2zm7 0h2v2h-2zm3 0h2v2h-2zm5 0h2v2h-2zm5 0h2v2h-2zm6 0h2v2h-2zm2 0h2v2h-2zm3 0h2v2h-2zm5 0h2v2h-2zm1 0h2v2h-2zm2 0h2v2h-2zm3 0h2v2h-2zm3 0h2v2h-2zm2 0h2v2h-2zm2 0h2v2h-2zm4 0h2v2h-2zm1 0h2v2h-2zm1 0h2v2h-2zm7 0h2v2h-2zm8 0h2v2h-2zm11 0h2v2h-2zm14 0h2v2h-2zm9 0h2v2h-2zm12 0h2v2h-2zm2 0h2v2h-2zm2 0h2v2h-2zm13 0h2v2h-2zm4 0h2v2h-2zm4 0h2v2h-2zm2 0h2v2h-2zm3 0h2v2h-2zm23 0h2v2h-2zm10 0h2v2h-2zm5 0h2v2h-2zm2 0h2v2h-2zm28 0h2v2h-2zm1 0h2v2h-2zm10 0h2v2h-2zm17 0h2v2h-2zm10 0h2v2h-2zm1 0h2v2h-2zm2 0h2v2h-2zm-348 1h2v2h-2zm3 0h2v2h-2zm2 0h2v2h-2zm14 0h2v2h-2zm5 0h2v2h-2zm2 0h2v2h-2zm2 0h2v2h-2zm14 0h2v2h-2zm2 0h2v2h-2zm8 0h2v2h-2zm2 0h2v2h-2zm1 0h2v2h-2zm2 0h2v2h-2zm3 0h2v2h-2zm7 0h2v2h-2zm2 0h2v2h-2zm1 0h2v2h-2zm1 0h2v2h-2zm1 0h2v2h-2zm12 0h2v2h-2zm3 0h2v2h-2zm3 0h2v2h-2zm5 0h2v2h-2zm4 0h2v2h-2zm10 0h2v2h-2zm3 0h2v2h-2zm4 0h2v2h-2zm3 0h2v2h-2zm17 0h2v2h-2zm2 0h2v2h-2zm5 0h2v2h-2zm3 0h2v2h-2zm12 0h2v2h-2zm3 0h2v2h-2zm4 0h2v2h-2zm10 0h2v2h-2zm18 0h2v2h-2zm7 0h2v2h-2zm15 0h2v2h-2zm5 0h2v2h-2zm3 0h2v2h-2zm7 0h2v2h-2zm5 0h2v2h-2zm14 0h2v2h-2zm9 0h2v2h-2zm16 0h2v2h-2zm1 0h2v2h-2zm8 0h2v2h-2zm11 0h2v2h-2zm9 0h2v2h-2zm26 0h2v2h-2zm-342 1h2v2h-2zm9 0h2v2h-2zm3 0h2v2h-2zm6 0h2v2h-2zm1 0h2v2h-2zm9 0h2v2h-2zm3 0h2v2h-2zm6 0h2v2h-2zm2 0h2v2h-2zm1 0h2v2h-2zm1 0h2v2h-2zm11 0h2v2h-2zm5 0h2v2h-2zm3 0h2v2h-2zm5 0h2v2h-2zm5 0h2v2h-2zm5 0h2v2h-2zm2 0h2v2h-2zm2 0h2v2h-2zm2 0h2v2h-2zm3 0h2v2h-2zm6 0h2v2h-2zm5 0h2v2h-2zm1 0h2v2h-2zm9 0h2v2h-2zm7 0h2v2h-2zm5 0h2v2h-2zm3 0h2v2h-2zm3 0h2v2h-2zm10 0h2v2h-2zm2 0h2v2h-2zm8 0h2v2h-2zm1 0h2v2h-2zm6 0h2v2h-2zm15 0h2v2h-2zm2 0h2v2h-2zm9 0h2v2h-2zm1 0h2v2h-2zm22 0h2v2h-2zm4 0h2v2h-2zm2 0h2v2h-2zm12 0h2v2h-2zm3 0h2v2h-2zm5 0h2v2h-2zm8 0h2v2h-2zm3 0h2v2h-2zm29 0h2v2h-2zm11 0h2v2h-2zm5 0h2v2h-2zm4 0h2v2h-2zm14 0h2v2h-2zm11 0h2v2h-2zm4 0h2v2h-2zm12 0h2v2h-2zm6 0h2v2h-2zm1 0h2v2h-2zm9 0h2v2h-2zm12 0h2v2h-2zm2 0h2v2h-2zm-347 1h2v2h-2zm4 0h2v2h-2zm1 0h2v2h-2zm4 0h2v2h-2zm1 0h2v2h-2zm11 0h2v2h-2zm12 0h2v2h-2zm6 0h2v2h-2zm4 0h2v2h-2zm4 0h2v2h-2zm5 0h2v2h-2zm4 0h2v2h-2zm6 0h2v2h-2zm1 0h2v2h-2zm4 0h2v2h-2zm3 0h2v2h-2zm1 0h2v2h-2zm16 0h2v2h-2zm3 0h2v2h-2zm1 0h2v2h-2zm8 0h2v2h-2zm27 0h2v2h-2zm1 0h2v2h-2zm1 0h2v2h-2zm1 0h2v2h-2zm6 0h2v2h-2zm4 0h2v2h-2zm2 0h2v2h-2zm1 0h2v2h-2zm2 0h2v2h-2zm4 0h2v2h-2zm11 0h2v2h-2zm2 0h2v2h-2zm7 0h2v2h-2zm17 0h2v2h-2zm17 0h2v2h-2zm8 0h2v2h-2zm7 0h2v2h-2zm1 0h2v2h-2zm2 0h2v2h-2zm12 0h2v2h-2zm1 0h2v2h-2zm1 0h2v2h-2zm10 0h2v2h-2zm5 0h2v2h-2zm23 0h2v2h-2zm3 0h2v2h-2zm2 0h2v2h-2zm3 0h2v2h-2zm10 0h2v2h-2zm2 0h2v2h-2zm4 0h2v2h-2zm2 0h2v2h-2zm9 0h2v2h-2zm2 0h2v2h-2zm4 0h2v2h-2zm5 0h2v2h-2zm10 0h2v2h-2zm6 0h2v2h-2zm1 0h2v2h-2zm2 0h2v2h-2zm6 0h2v2h-2zm3 0h2v2h-2zm5 0h2v2h-2zm-355 1h2v2h-2zm6 0h2v2h-2zm2 0h2v2h-2zm14 0h2v2h-2zm1 0h2v2h-2zm3 0h2v2h-2zm20 0h2v2h-2zm2 0h2v2h-2zm1 0h2v2h-2zm4 0h2v2h-2zm2 0h2v2h-2zm9 0h2v2h-2zm2 0h2v2h-2zm10 0h2v2h-2zm2 0h2v2h-2zm3 0h2v2h-2zm2 0h2v2h-2zm12 0h2v2h-2zm1 0h2v2h-2zm11 0h2v2h-2zm13 0h2v2h-2zm4 0h2v2h-2zm4 0h2v2h-2zm2 0h2v2h-2zm20 0h2v2h-2zm1 0h2v2h-2zm3 0h2v2h-2zm8 0h2v2h-2zm7 0h2v2h-2zm12 0h2v2h-2zm27 0h2v2h-2zm29 0h2v2h-2zm2 0h2v2h-2zm14 0h2v2h-2zm5 0h2v2h-2zm4 0h2v2h-2zm8 0h2v2h-2zm10 0h2v2h-2zm13 0h2v2h-2zm2 0h2v2h-2zm8 0h2v2h-2zm3 0h2v2h-2zm2 0h2v2h-2zm18 0h2v2h-2zm1 0h2v2h-2zm2 0h2v2h-2zm2 0h2v2h-2zm7 0h2v2h-2zm1 0h2v2h-2zm4 0h2v2h-2zm1 0h2v2h-2zm5 0h2v2h-2zm5 0h2v2h-2zm2 0h2v2h-2zm8 0h2v2h-2zm-355 1h2v2h-2zm4 0h2v2h-2zm1 0h2v2h-2zm9 0h2v2h-2zm6 0h2v2h-2zm5 0h2v2h-2zm35 0h2v2h-2zm34 0h2v2h-2zm4 0h2v2h-2zm20 0h2v2h-2zm4 0h2v2h-2zm8 0h2v2h-2zm2 0h2v2h-2zm4 0h2v2h-2zm9 0h2v2h-2zm6 0h2v2h-2zm7 0h2v2h-2zm5 0h2v2h-2zm17 0h2v2h-2zm1 0h2v2h-2zm2 0h2v2h-2zm2 0h2v2h-2zm19 0h2v2h-2zm2 0h2v2h-2zm10 0h2v2h-2zm17 0h2v2h-2zm7 0h2v2h-2zm10 0h2v2h-2zm16 0h2v2h-2zm4 0h2v2h-2zm1 0h2v2h-2zm2 0h2v2h-2zm5 0h2v2h-2zm6 0h2v2h-2zm9 0h2v2h-2zm2 0h2v2h-2zm1 0h2v2h-2zm1 0h2v2h-2zm7 0h2v2h-2zm10 0h2v2h-2zm1 0h2v2h-2zm5 0h2v2h-2zm5 0h2v2h-2zm11 0h2v2h-2zm1 0h2v2h-2zm3 0h2v2h-2zm1 0h2v2h-2zm1 0h2v2h-2zm7 0h2v2h-2zm-357 1h2v2h-2zm5 0h2v2h-2zm7 0h2v2h-2zm16 0h2v2h-2zm7 0h2v2h-2zm20 0h2v2h-2zm2 0h2v2h-2zm4 0h2v2h-2zm10 0h2v2h-2zm2 0h2v2h-2zm1 0h2v2h-2zm1 0h2v2h-2zm2 0h2v2h-2zm28 0h2v2h-2zm1 0h2v2h-2zm14 0h2v2h-2zm1 0h2v2h-2zm4 0h2v2h-2zm18 0h2v2h-2zm4 0h2v2h-2zm34 0h2v2h-2zm11 0h2v2h-2zm2 0h2v2h-2zm12 0h2v2h-2zm6 0h2v2h-2zm8 0h2v2h-2zm3 0h2v2h-2zm1 0h2v2h-2zm1 0h2v2h-2zm3 0h2v2h-2zm7 0h2v2h-2zm22 0h2v2h-2zm2 0h2v2h-2zm8 0h2v2h-2zm6 0h2v2h-2zm15 0h2v2h-2zm14 0h2v2h-2zm3 0h2v2h-2zm2 0h2v2h-2zm7 0h2v2h-2zm7 0h2v2h-2zm7 0h2v2h-2zm6 0h2v2h-2zm9 0h2v2h-2zm4 0h2v2h-2zm2 0h2v2h-2zm6 0h2v2h-2zm1 0h2v2h-2zm-354 1h2v2h-2zm4 0h2v2h-2zm2 0h2v2h-2zm2 0h2v2h-2zm2 0h2v2h-2zm2 0h2v2h-2zm3 0h2v2h-2zm6 0h2v2h-2zm6 0h2v2h-2zm21 0h2v2h-2zm3 0h2v2h-2zm4 0h2v2h-2zm2 0h2v2h-2zm3 0h2v2h-2zm5 0h2v2h-2zm3 0h2v2h-2zm5 0h2v2h-2zm13 0h2v2h-2zm8 0h2v2h-2zm8 0h2v2h-2zm1 0h2v2h-2zm3 0h2v2h-2zm10 0h2v2h-2zm3 0h2v2h-2zm9 0h2v2h-2zm12 0h2v2h-2zm12 0h2v2h-2zm11 0h2v2h-2zm2 0h2v2h-2zm15 0h2v2h-2zm5 0h2v2h-2zm7 0h2v2h-2zm15 0h2v2h-2zm1 0h2v2h-2zm3 0h2v2h-2zm6 0h2v2h-2zm1 0h2v2h-2zm8 0h2v2h-2zm6 0h2v2h-2zm2 0h2v2h-2zm1 0h2v2h-2zm3 0h2v2h-2zm18 0h2v2h-2zm1 0h2v2h-2zm16 0h2v2h-2zm5 0h2v2h-2zm3 0h2v2h-2zm6 0h2v2h-2zm7 0h2v2h-2zm4 0h2v2h-2zm8 0h2v2h-2zm1 0h2v2h-2zm21 0h2v2h-2zm3 0h2v2h-2zm16 0h2v2h-2zm3 0h2v2h-2zm3 0h2v2h-2zm-345 1h2v2h-2zm9 0h2v2h-2zm12 0h2v2h-2zm9 0h2v2h-2zm4 0h2v2h-2zm4 0h2v2h-2zm1 0h2v2h-2zm1 0h2v2h-2zm16 0h2v2h-2zm20 0h2v2h-2zm7 0h2v2h-2zm2 0h2v2h-2zm2 0h2v2h-2zm4 0h2v2h-2zm2 0h2v2h-2zm10 0h2v2h-2zm9 0h2v2h-2zm19 0h2v2h-2zm11 0h2v2h-2zm17 0h2v2h-2zm4 0h2v2h-2zm10 0h2v2h-2zm6 0h2v2h-2zm9 0h2v2h-2zm6 0h2v2h-2zm12 0h2v2h-2zm2 0h2v2h-2zm3 0h2v2h-2zm5 0h2v2h-2zm1 0h2v2h-2zm6 0h2v2h-2zm1 0h2v2h-2zm4 0h2v2h-2zm33 0h2v2h-2zm1 0h2v2h-2zm13 0h2v2h-2zm3 0h2v2h-2zm4 0h2v2h-2zm1 0h2v2h-2zm16 0h2v2h-2zm5 0h2v2h-2zm3 0h2v2h-2zm12 0h2v2h-2zm3 0h2v2h-2zm1 0h2v2h-2zm8 0h2v2h-2zm-339 1h2v2h-2zm3 0h2v2h-2zm5 0h2v2h-2zm6 0h2v2h-2zm4 0h2v2h-2zm6 0h2v2h-2zm2 0h2v2h-2zm23 0h2v2h-2zm11 0h2v2h-2zm8 0h2v2h-2zm15 0h2v2h-2zm19 0h2v2h-2zm36 0h2v2h-2zm1 0h2v2h-2zm4 0h2v2h-2zm6 0h2v2h-2zm15 0h2v2h-2zm21 0h2v2h-2zm2 0h2v2h-2zm1 0h2v2h-2zm1 0h2v2h-2zm2 0h2v2h-2zm3 0h2v2h-2zm1 0h2v2h-2zm5 0h2v2h-2zm14 0h2v2h-2zm2 0h2v2h-2zm5 0h2v2h-2zm19 0h2v2h-2zm1 0h2v2h-2zm6 0h2v2h-2zm2 0h2v2h-2zm3 0h2v2h-2zm10 0h2v2h-2zm3 0h2v2h-2zm6 0h2v2h-2zm3 0h2v2h-2zm2 0h2v2h-2zm2 0h2v2h-2zm9 0h2v2h-2zm17 0h2v2h-2zm5 0h2v2h-2zm4 0h2v2h-2zm2 0h2v2h-2zm6 0h2v2h-2zm6 0h2v2h-2zm5 0h2v2h-2zm12 0h2v2h-2zm1 0h2v2h-2zm1 0h2v2h-2zm5 0h2v2h-2zm-346 1h2v2h-2zm22 0h2v2h-2zm6 0h2v2h-2zm29 0h2v2h-2zm20 0h2v2h-2zm8 0h2v2h-2zm16 0h2v2h-2zm9 0h2v2h-2zm6 0h2v2h-2zm3 0h2v2h-2zm17 0h2v2h-2zm19 0h2v2h-2zm14 0h2v2h-2zm8 0h2v2h-2zm22 0h2v2h-2zm1 0h2v2h-2zm10 0h2v2h-2zm4 0h2v2h-2zm7 0h2v2h-2zm8 0h2v2h-2zm3 0h2v2h-2zm1 0h2v2h-2zm4 0h2v2h-2zm4 0h2v2h-2zm1 0h2v2h-2zm3 0h2v2h-2zm13 0h2v2h-2zm6 0h2v2h-2zm1 0h2v2h-2zm8 0h2v2h-2zm27 0h2v2h-2zm5 0h2v2h-2zm4 0h2v2h-2zm5 0h2v2h-2zm10 0h2v2h-2zm14 0h2v2h-2zm3 0h2v2h-2zm2 0h2v2h-2zm-346 1h2v2h-2zm6 0h2v2h-2zm10 0h2v2h-2zm11 0h2v2h-2zm9 0h2v2h-2zm9 0h2v2h-2zm11 0h2v2h-2zm28 0h2v2h-2zm3 0h2v2h-2zm9 0h2v2h-2zm4 0h2v2h-2zm11 0h2v2h-2zm9 0h2v2h-2zm11 0h2v2h-2zm6 0h2v2h-2zm1 0h2v2h-2zm2 0h2v2h-2zm4 0h2v2h-2zm2 0h2v2h-2zm2 0h2v2h-2zm23 0h2v2h-2zm4 0h2v2h-2zm8 0h2v2h-2zm1 0h2v2h-2zm2 0h2v2h-2zm4 0h2v2h-2zm2 0h2v2h-2zm3 0h2v2h-2zm27 0h2v2h-2zm15 0h2v2h-2zm2 0h2v2h-2zm1 0h2v2h-2zm12 0h2v2h-2zm2 0h2v2h-2zm17 0h2v2h-2zm5 0h2v2h-2zm2 0h2v2h-2zm1 0h2v2h-2zm2 0h2v2h-2zm5 0h2v2h-2zm9 0h2v2h-2zm5 0h2v2h-2zm2 0h2v2h-2zm22 0h2v2h-2zm2 0h2v2h-2zm9 0h2v2h-2zm1 0h2v2h-2zm4 0h2v2h-2zm2 0h2v2h-2zm5 0h2v2h-2zm7 0h2v2h-2zm-355 1h2v2h-2zm7 0h2v2h-2zm19 0h2v2h-2zm22 0h2v2h-2zm4 0h2v2h-2zm2 0h2v2h-2zm1 0h2v2h-2zm14 0h2v2h-2zm43 0h2v2h-2zm26 0h2v2h-2zm4 0h2v2h-2zm2 0h2v2h-2zm3 0h2v2h-2zm14 0h2v2h-2zm1 0h2v2h-2zm23 0h2v2h-2zm4 0h2v2h-2zm4 0h2v2h-2zm6 0h2v2h-2zm7 0h2v2h-2zm22 0h2v2h-2zm8 0h2v2h-2zm2 0h2v2h-2zm3 0h2v2h-2zm1 0h2v2h-2zm5 0h2v2h-2zm8 0h2v2h-2zm8 0h2v2h-2zm5 0h2v2h-2zm13 0h2v2h-2zm16 0h2v2h-2zm1 0h2v2h-2zm3 0h2v2h-2zm2 0h2v2h-2zm8 0h2v2h-2zm13 0h2v2h-2zm11 0h2v2h-2zm5 0h2v2h-2zm3 0h2v2h-2zm8 0h2v2h-2zm6 0h2v2h-2zm1 0h2v2h-2zm-325 1h2v2h-2zm22 0h2v2h-2zm18 0h2v2h-2zm5 0h2v2h-2zm9 0h2v2h-2zm11 0h2v2h-2zm2 0h2v2h-2zm4 0h2v2h-2zm38 0h2v2h-2zm7 0h2v2h-2zm2 0h2v2h-2zm14 0h2v2h-2zm7 0h2v2h-2zm2 0h2v2h-2zm1 0h2v2h-2zm4 0h2v2h-2zm1 0h2v2h-2zm4 0h2v2h-2zm7 0h2v2h-2zm7 0h2v2h-2zm5 0h2v2h-2zm1 0h2v2h-2zm9 0h2v2h-2zm1 0h2v2h-2zm16 0h2v2h-2zm7 0h2v2h-2zm11 0h2v2h-2zm3 0h2v2h-2zm1 0h2v2h-2zm3 0h2v2h-2zm1 0h2v2h-2zm5 0h2v2h-2zm10 0h2v2h-2zm2 0h2v2h-2zm5 0h2v2h-2zm3 0h2v2h-2zm17 0h2v2h-2zm5 0h2v2h-2zm12 0h2v2h-2zm1 0h2v2h-2zm4 0h2v2h-2zm3 0h2v2h-2zm4 0h2v2h-2zm3 0h2v2h-2zm6 0h2v2h-2zm13 0h2v2h-2zm3 0h2v2h-2zm7 0h2v2h-2zm-338 1h2v2h-2zm16 0h2v2h-2zm2 0h2v2h-2zm28 0h2v2h-2zm8 0h2v2h-2zm7 0h2v2h-2zm1 0h2v2h-2zm15 0h2v2h-2zm9 0h2v2h-2zm16 0h2v2h-2zm1 0h2v2h-2zm14 0h2v2h-2zm2 0h2v2h-2zm7 0h2v2h-2zm1 0h2v2h-2zm1 0h2v2h-2zm8 0h2v2h-2zm6 0h2v2h-2zm2 0h2v2h-2zm13 0h2v2h-2zm1 0h2v2h-2zm6 0h2v2h-2zm2 0h2v2h-2zm1 0h2v2h-2zm1 0h2v2h-2zm16 0h2v2h-2zm7 0h2v2h-2zm2 0h2v2h-2zm1 0h2v2h-2zm14 0h2v2h-2zm2 0h2v2h-2zm2 0h2v2h-2zm4 0h2v2h-2zm1 0h2v2h-2zm5 0h2v2h-2zm10 0h2v2h-2zm1 0h2v2h-2zm12 0h2v2h-2zm11 0h2v2h-2zm1 0h2v2h-2zm3 0h2v2h-2zm3 0h2v2h-2zm21 0h2v2h-2zm3 0h2v2h-2zm4 0h2v2h-2zm11 0h2v2h-2zm1 0h2v2h-2zm8 0h2v2h-2zm8 0h2v2h-2zm4 0h2v2h-2zm-355 1h2v2h-2zm10 0h2v2h-2zm9 0h2v2h-2zm16 0h2v2h-2zm4 0h2v2h-2zm1 0h2v2h-2zm8 0h2v2h-2zm10 0h2v2h-2zm15 0h2v2h-2zm8 0h2v2h-2zm4 0h2v2h-2zm26 0h2v2h-2zm7 0h2v2h-2zm8 0h2v2h-2zm9 0h2v2h-2zm16 0h2v2h-2zm7 0h2v2h-2zm2 0h2v2h-2zm12 0h2v2h-2zm2 0h2v2h-2zm1 0h2v2h-2zm2 0h2v2h-2zm1 0h2v2h-2zm7 0h2v2h-2zm7 0h2v2h-2zm18 0h2v2h-2zm4 0h2v2h-2zm9 0h2v2h-2zm1 0h2v2h-2zm15 0h2v2h-2zm19 0h2v2h-2zm13 0h2v2h-2zm12 0h2v2h-2zm12 0h2v2h-2zm1 0h2v2h-2zm8 0h2v2h-2zm22 0h2v2h-2zm2 0h2v2h-2zm11 0h2v2h-2zm5 0h2v2h-2zm2 0h2v2h-2zm-338 1h2v2h-2zm18 0h2v2h-2zm2 0h2v2h-2zm6 0h2v2h-2zm12 0h2v2h-2zm22 0h2v2h-2zm4 0h2v2h-2zm8 0h2v2h-2zm1 0h2v2h-2zm7 0h2v2h-2zm1 0h2v2h-2zm4 0h2v2h-2zm13 0h2v2h-2zm3 0h2v2h-2zm1 0h2v2h-2zm15 0h2v2h-2zm7 0h2v2h-2zm5 0h2v2h-2zm1 0h2v2h-2zm28 0h2v2h-2zm12 0h2v2h-2zm1 0h2v2h-2zm2 0h2v2h-2zm4 0h2v2h-2zm4 0h2v2h-2zm3 0h2v2h-2zm2 0h2v2h-2zm6 0h2v2h-2zm1 0h2v2h-2zm4 0h2v2h-2zm4 0h2v2h-2zm9 0h2v2h-2zm2 0h2v2h-2zm6 0h2v2h-2zm18 0h2v2h-2zm1 0h2v2h-2zm3 0h2v2h-2zm19 0h2v2h-2zm1 0h2v2h-2zm4 0h2v2h-2zm12 0h2v2h-2zm5 0h2v2h-2zm21 0h2v2h-2zm8 0h2v2h-2zm20 0h2v2h-2zm7 0h2v2h-2zm12 0h2v2h-2zm6 0h2v2h-2zm-329 1h2v2h-2zm11 0h2v2h-2zm12 0h2v2h-2zm3 0h2v2h-2zm3 0h2v2h-2zm1 0h2v2h-2zm16 0h2v2h-2zm2 0h2v2h-2zm17 0h2v2h-2zm7 0h2v2h-2zm5 0h2v2h-2zm5 0h2v2h-2zm1 0h2v2h-2zm14 0h2v2h-2zm10 0h2v2h-2zm1 0h2v2h-2zm8 0h2v2h-2zm7 0h2v2h-2zm2 0h2v2h-2zm10 0h2v2h-2zm2 0h2v2h-2zm1 0h2v2h-2zm3 0h2v2h-2zm17 0h2v2h-2zm4 0h2v2h-2zm4 0h2v2h-2zm8 0h2v2h-2zm8 0h2v2h-2zm2 0h2v2h-2zm9 0h2v2h-2zm2 0h2v2h-2zm3 0h2v2h-2zm34 0h2v2h-2zm4 0h2v2h-2zm5 0h2v2h-2zm7 0h2v2h-2zm20 0h2v2h-2zm7 0h2v2h-2zm25 0h2v2h-2zm11 0h2v2h-2zm13 0h2v2h-2zm4 0h2v2h-2zm-333 1h2v2h-2zm6 0h2v2h-2zm7 0h2v2h-2zm21 0h2v2h-2zm2 0h2v2h-2zm7 0h2v2h-2zm1 0h2v2h-2zm6 0h2v2h-2zm7 0h2v2h-2zm19 0h2v2h-2zm1 0h2v2h-2zm2 0h2v2h-2zm3 0h2v2h-2zm19 0h2v2h-2zm3 0h2v2h-2zm14 0h2v2h-2zm1 0h2v2h-2zm14 0h2v2h-2zm9 0h2v2h-2zm3 0h2v2h-2zm1 0h2v2h-2zm5 0h2v2h-2zm15 0h2v2h-2zm1 0h2v2h-2zm1 0h2v2h-2zm8 0h2v2h-2zm1 0h2v2h-2zm3 0h2v2h-2zm18 0h2v2h-2zm3 0h2v2h-2zm4 0h2v2h-2zm1 0h2v2h-2zm12 0h2v2h-2zm11 0h2v2h-2zm24 0h2v2h-2zm2 0h2v2h-2zm28 0h2v2h-2zm2 0h2v2h-2zm5 0h2v2h-2zm3 0h2v2h-2zm9 0h2v2h-2zm3 0h2v2h-2zm26 0h2v2h-2zm6 0h2v2h-2zm-348 1h2v2h-2zm10 0h2v2h-2zm6 0h2v2h-2zm7 0h2v2h-2zm5 0h2v2h-2zm13 0h2v2h-2zm2 0h2v2h-2zm8 0h2v2h-2zm3 0h2v2h-2zm9 0h2v2h-2zm3 0h2v2h-2zm3 0h2v2h-2zm3 0h2v2h-2zm7 0h2v2h-2zm9 0h2v2h-2zm24 0h2v2h-2zm1 0h2v2h-2zm3 0h2v2h-2zm6 0h2v2h-2zm5 0h2v2h-2zm3 0h2v2h-2zm4 0h2v2h-2zm7 0h2v2h-2zm1 0h2v2h-2zm5 0h2v2h-2zm1 0h2v2h-2zm7 0h2v2h-2zm8 0h2v2h-2zm17 0h2v2h-2zm38 0h2v2h-2zm10 0h2v2h-2zm18 0h2v2h-2zm4 0h2v2h-2zm14 0h2v2h-2zm2 0h2v2h-2zm9 0h2v2h-2zm16 0h2v2h-2zm1 0h2v2h-2zm2 0h2v2h-2zm2 0h2v2h-2zm16 0h2v2h-2zm6 0h2v2h-2zm1 0h2v2h-2zm7 0h2v2h-2zm-330 1h2v2h-2zm6 0h2v2h-2zm12 0h2v2h-2zm16 0h2v2h-2zm16 0h2v2h-2zm3 0h2v2h-2zm21 0h2v2h-2zm7 0h2v2h-2zm16 0h2v2h-2zm1 0h2v2h-2zm4 0h2v2h-2zm23 0h2v2h-2zm7 0h2v2h-2zm4 0h2v2h-2zm7 0h2v2h-2zm4 0h2v2h-2zm1 0h2v2h-2zm5 0h2v2h-2zm4 0h2v2h-2zm5 0h2v2h-2zm8 0h2v2h-2zm13 0h2v2h-2zm3 0h2v2h-2zm12 0h2v2h-2zm11 0h2v2h-2zm14 0h2v2h-2zm6 0h2v2h-2zm5 0h2v2h-2zm5 0h2v2h-2zm10 0h2v2h-2zm1 0h2v2h-2zm23 0h2v2h-2zm7 0h2v2h-2zm6 0h2v2h-2zm4 0h2v2h-2zm11 0h2v2h-2zm10 0h2v2h-2zm7 0h2v2h-2zm1 0h2v2h-2zm22 0h2v2h-2zm-334 1h2v2h-2zm1 0h2v2h-2zm13 0h2v2h-2zm9 0h2v2h-2zm1 0h2v2h-2zm17 0h2v2h-2zm1 0h2v2h-2zm16 0h2v2h-2zm26 0h2v2h-2zm19 0h2v2h-2zm10 0h2v2h-2zm5 0h2v2h-2zm14 0h2v2h-2zm15 0h2v2h-2zm1 0h2v2h-2zm7 0h2v2h-2zm6 0h2v2h-2zm2 0h2v2h-2zm15 0h2v2h-2zm3 0h2v2h-2zm10 0h2v2h-2zm9 0h2v2h-2zm1 0h2v2h-2zm37 0h2v2h-2zm1 0h2v2h-2zm3 0h2v2h-2zm2 0h2v2h-2zm23 0h2v2h-2zm2 0h2v2h-2zm12 0h2v2h-2zm1 0h2v2h-2zm8 0h2v2h-2zm1 0h2v2h-2zm17 0h2v2h-2zm6 0h2v2h-2zm6 0h2v2h-2zm1 0h2v2h-2zm11 0h2v2h-2zm-343 1h2v2h-2zm4 0h2v2h-2zm10 0h2v2h-2zm6 0h2v2h-2zm8 0h2v2h-2zm1 0h2v2h-2zm4 0h2v2h-2zm1 0h2v2h-2zm3 0h2v2h-2zm2 0h2v2h-2zm11 0h2v2h-2zm1 0h2v2h-2zm1 0h2v2h-2zm19 0h2v2h-2zm1 0h2v2h-2zm1 0h2v2h-2zm2 0h2v2h-2zm4 0h2v2h-2zm6 0h2v2h-2zm3 0h2v2h-2zm3 0h2v2h-2zm7 0h2v2h-2zm1 0h2v2h-2zm2 0h2v2h-2zm1 0h2v2h-2zm4 0h2v2h-2zm6 0h2v2h-2zm13 0h2v2h-2zm2 0h2v2h-2zm1 0h2v2h-2zm12 0h2v2h-2zm2 0h2v2h-2zm3 0h2v2h-2zm8 0h2v2h-2zm23 0h2v2h-2zm19 0h2v2h-2zm11 0h2v2h-2zm16 0h2v2h-2zm15 0h2v2h-2zm1 0h2v2h-2zm4 0h2v2h-2zm9 0h2v2h-2zm12 0h2v2h-2zm13 0h2v2h-2zm7 0h2v2h-2zm12 0h2v2h-2zm2 0h2v2h-2zm17 0h2v2h-2zm13 0h2v2h-2zm24 0h2v2h-2zm-358 1h2v2h-2zm3 0h2v2h-2zm4 0h2v2h-2zm1 0h2v2h-2zm10 0h2v2h-2zm2 0h2v2h-2zm2 0h2v2h-2zm6 0h2v2h-2zm10 0h2v2h-2zm4 0h2v2h-2zm10 0h2v2h-2zm28 0h2v2h-2zm3 0h2v2h-2zm1 0h2v2h-2zm10 0h2v2h-2zm3 0h2v2h-2zm3 0h2v2h-2zm7 0h2v2h-2zm6 0h2v2h-2zm6 0h2v2h-2zm3 0h2v2h-2zm4 0h2v2h-2zm1 0h2v2h-2zm9 0h2v2h-2zm1 0h2v2h-2zm15 0h2v2h-2zm3 0h2v2h-2zm2 0h2v2h-2zm5 0h2v2h-2zm7 0h2v2h-2zm2 0h2v2h-2zm9 0h2v2h-2zm2 0h2v2h-2zm8 0h2v2h-2zm18 0h2v2h-2zm25 0h2v2h-2zm2 0h2v2h-2zm20 0h2v2h-2zm7 0h2v2h-2zm6 0h2v2h-2zm1 0h2v2h-2zm15 0h2v2h-2zm1 0h2v2h-2zm1 0h2v2h-2zm22 0h2v2h-2zm5 0h2v2h-2zm9 0h2v2h-2zm8 0h2v2h-2zm9 0h2v2h-2zm7 0h2v2h-2zm2 0h2v2h-2zm5 0h2v2h-2zm-337 1h2v2h-2zm4 0h2v2h-2zm2 0h2v2h-2zm3 0h2v2h-2zm1 0h2v2h-2zm5 0h2v2h-2zm8 0h2v2h-2zm7 0h2v2h-2zm18 0h2v2h-2zm5 0h2v2h-2zm5 0h2v2h-2zm1 0h2v2h-2zm3 0h2v2h-2zm14 0h2v2h-2zm6 0h2v2h-2zm6 0h2v2h-2zm4 0h2v2h-2zm5 0h2v2h-2zm1 0h2v2h-2zm4 0h2v2h-2zm5 0h2v2h-2zm7 0h2v2h-2zm9 0h2v2h-2zm6 0h2v2h-2zm1 0h2v2h-2zm13 0h2v2h-2zm5 0h2v2h-2zm18 0h2v2h-2zm1 0h2v2h-2zm4 0h2v2h-2zm11 0h2v2h-2zm8 0h2v2h-2zm18 0h2v2h-2zm5 0h2v2h-2zm4 0h2v2h-2zm2 0h2v2h-2zm5 0h2v2h-2zm2 0h2v2h-2zm2 0h2v2h-2zm19 0h2v2h-2zm6 0h2v2h-2zm10 0h2v2h-2zm8 0h2v2h-2zm7 0h2v2h-2zm9 0h2v2h-2zm11 0h2v2h-2zm10 0h2v2h-2zm14 0h2v2h-2zm1 0h2v2h-2zm8 0h2v2h-2zm5 0h2v2h-2zm-337 1h2v2h-2zm17 0h2v2h-2zm3 0h2v2h-2zm5 0h2v2h-2zm3 0h2v2h-2zm8 0h2v2h-2zm10 0h2v2h-2zm1 0h2v2h-2zm8 0h2v2h-2zm7 0h2v2h-2zm3 0h2v2h-2zm5 0h2v2h-2zm28 0h2v2h-2zm8 0h2v2h-2zm3 0h2v2h-2zm2 0h2v2h-2zm4 0h2v2h-2zm32 0h2v2h-2zm27 0h2v2h-2zm3 0h2v2h-2zm24 0h2v2h-2zm2 0h2v2h-2zm5 0h2v2h-2zm5 0h2v2h-2zm7 0h2v2h-2zm11 0h2v2h-2zm5 0h2v2h-2zm4 0h2v2h-2zm2 0h2v2h-2zm5 0h2v2h-2zm4 0h2v2h-2zm16 0h2v2h-2zm3 0h2v2h-2zm5 0h2v2h-2zm7 0h2v2h-2zm5 0h2v2h-2zm3 0h2v2h-2zm10 0h2v2h-2zm4 0h2v2h-2zm7 0h2v2h-2zm1 0h2v2h-2zm1 0h2v2h-2zm10 0h2v2h-2zm10 0h2v2h-2zm3 0h2v2h-2zm3 0h2v2h-2zm6 0h2v2h-2zm1 0h2v2h-2zm-353 1h2v2h-2zm5 0h2v2h-2zm3 0h2v2h-2zm1 0h2v2h-2zm1 0h2v2h-2zm3 0h2v2h-2zm3 0h2v2h-2zm18 0h2v2h-2zm1 0h2v2h-2zm3 0h2v2h-2zm33 0h2v2h-2zm4 0h2v2h-2zm21 0h2v2h-2zm7 0h2v2h-2zm23 0h2v2h-2zm5 0h2v2h-2zm11 0h2v2h-2zm2 0h2v2h-2zm18 0h2v2h-2zm4 0h2v2h-2zm12 0h2v2h-2zm2 0h2v2h-2zm7 0h2v2h-2zm7 0h2v2h-2zm13 0h2v2h-2zm4 0h2v2h-2zm2 0h2v2h-2zm2 0h2v2h-2zm1 0h2v2h-2zm8 0h2v2h-2zm12 0h2v2h-2zm13 0h2v2h-2zm5 0h2v2h-2zm4 0h2v2h-2zm6 0h2v2h-2zm9 0h2v2h-2zm6 0h2v2h-2zm11 0h2v2h-2zm2 0h2v2h-2zm1 0h2v2h-2zm2 0h2v2h-2zm22 0h2v2h-2zm2 0h2v2h-2zm6 0h2v2h-2zm7 0h2v2h-2zm6 0h2v2h-2zm1 0h2v2h-2zm1 0h2v2h-2zm7 0h2v2h-2zm-349 1h2v2h-2zm12 0h2v2h-2zm4 0h2v2h-2zm12 0h2v2h-2zm4 0h2v2h-2zm8 0h2v2h-2zm1 0h2v2h-2zm6 0h2v2h-2zm2 0h2v2h-2zm22 0h2v2h-2zm16 0h2v2h-2zm16 0h2v2h-2zm16 0h2v2h-2zm13 0h2v2h-2zm12 0h2v2h-2zm2 0h2v2h-2zm3 0h2v2h-2zm1 0h2v2h-2zm13 0h2v2h-2zm3 0h2v2h-2zm3 0h2v2h-2zm8 0h2v2h-2zm10 0h2v2h-2zm4 0h2v2h-2zm4 0h2v2h-2zm8 0h2v2h-2zm1 0h2v2h-2zm14 0h2v2h-2zm7 0h2v2h-2zm4 0h2v2h-2zm9 0h2v2h-2zm5 0h2v2h-2zm10 0h2v2h-2zm1 0h2v2h-2zm24 0h2v2h-2zm22 0h2v2h-2zm4 0h2v2h-2zm14 0h2v2h-2zm3 0h2v2h-2zm1 0h2v2h-2zm3 0h2v2h-2zm20 0h2v2h-2zm3 0h2v2h-2zm-343 1h2v2h-2zm6 0h2v2h-2zm3 0h2v2h-2zm16 0h2v2h-2zm8 0h2v2h-2zm1 0h2v2h-2zm5 0h2v2h-2zm3 0h2v2h-2zm6 0h2v2h-2zm20 0h2v2h-2zm15 0h2v2h-2zm6 0h2v2h-2zm9 0h2v2h-2zm18 0h2v2h-2zm2 0h2v2h-2zm3 0h2v2h-2zm2 0h2v2h-2zm10 0h2v2h-2zm1 0h2v2h-2zm4 0h2v2h-2zm5 0h2v2h-2zm2 0h2v2h-2zm5 0h2v2h-2zm7 0h2v2h-2zm12 0h2v2h-2zm2 0h2v2h-2zm7 0h2v2h-2zm8 0h2v2h-2zm15 0h2v2h-2zm8 0h2v2h-2zm11 0h2v2h-2zm2 0h2v2h-2zm3 0h2v2h-2zm4 0h2v2h-2zm3 0h2v2h-2zm2 0h2v2h-2zm2 0h2v2h-2zm21 0h2v2h-2zm6 0h2v2h-2zm2 0h2v2h-2zm11 0h2v2h-2zm3 0h2v2h-2zm4 0h2v2h-2zm12 0h2v2h-2zm2 0h2v2h-2zm10 0h2v2h-2zm7 0h2v2h-2zm9 0h2v2h-2zm12 0h2v2h-2zm4 0h2v2h-2zm1 0h2v2h-2zm5 0h2v2h-2zm3 0h2v2h-2zm8 0h2v2h-2zm-355 1h2v2h-2zm18 0h2v2h-2zm10 0h2v2h-2zm18 0h2v2h-2zm9 0h2v2h-2zm1 0h2v2h-2zm3 0h2v2h-2zm4 0h2v2h-2zm4 0h2v2h-2zm3 0h2v2h-2zm16 0h2v2h-2zm9 0h2v2h-2zm1 0h2v2h-2zm3 0h2v2h-2zm12 0h2v2h-2zm2 0h2v2h-2zm4 0h2v2h-2zm4 0h2v2h-2zm11 0h2v2h-2zm11 0h2v2h-2zm5 0h2v2h-2zm11 0h2v2h-2zm4 0h2v2h-2zm2 0h2v2h-2zm7 0h2v2h-2zm11 0h2v2h-2zm13 0h2v2h-2zm2 0h2v2h-2zm8 0h2v2h-2zm13 0h2v2h-2zm8 0h2v2h-2zm7 0h2v2h-2zm13 0h2v2h-2zm1 0h2v2h-2zm9 0h2v2h-2zm7 0h2v2h-2zm4 0h2v2h-2zm1 0h2v2h-2zm3 0h2v2h-2zm1 0h2v2h-2zm3 0h2v2h-2zm2 0h2v2h-2zm2 0h2v2h-2zm14 0h2v2h-2zm2 0h2v2h-2zm7 0h2v2h-2zm11 0h2v2h-2zm11 0h2v2h-2zm15 0h2v2h-2zm3 0h2v2h-2zm1 0h2v2h-2zm-348 1h2v2h-2zm6 0h2v2h-2zm16 0h2v2h-2zm2 0h2v2h-2zm8 0h2v2h-2zm1 0h2v2h-2zm30 0h2v2h-2zm5 0h2v2h-2zm3 0h2v2h-2zm7 0h2v2h-2zm2 0h2v2h-2zm6 0h2v2h-2zm13 0h2v2h-2zm34 0h2v2h-2zm6 0h2v2h-2zm37 0h2v2h-2zm1 0h2v2h-2zm10 0h2v2h-2zm6 0h2v2h-2zm14 0h2v2h-2zm1 0h2v2h-2zm5 0h2v2h-2zm2 0h2v2h-2zm16 0h2v2h-2zm1 0h2v2h-2zm1 0h2v2h-2zm3 0h2v2h-2zm14 0h2v2h-2zm7 0h2v2h-2zm3 0h2v2h-2zm2 0h2v2h-2zm5 0h2v2h-2zm2 0h2v2h-2zm5 0h2v2h-2zm5 0h2v2h-2zm7 0h2v2h-2zm10 0h2v2h-2zm12 0h2v2h-2zm12 0h2v2h-2zm5 0h2v2h-2zm17 0h2v2h-2zm2 0h2v2h-2zm4 0h2v2h-2zm3 0h2v2h-2zm-354 1h2v2h-2zm9 0h2v2h-2zm2 0h2v2h-2zm2 0h2v2h-2zm3 0h2v2h-2zm8 0h2v2h-2zm3 0h2v2h-2zm2 0h2v2h-2zm8 0h2v2h-2zm1 0h2v2h-2zm2 0h2v2h-2zm5 0h2v2h-2zm5 0h2v2h-2zm6 0h2v2h-2zm3 0h2v2h-2zm2 0h2v2h-2zm9 0h2v2h-2zm22 0h2v2h-2zm6 0h2v2h-2zm22 0h2v2h-2zm19 0h2v2h-2zm26 0h2v2h-2zm1 0h2v2h-2zm4 0h2v2h-2zm1 0h2v2h-2zm4 0h2v2h-2zm1 0h2v2h-2zm3 0h2v2h-2zm11 0h2v2h-2zm2 0h2v2h-2zm5 0h2v2h-2zm13 0h2v2h-2zm7 0h2v2h-2zm8 0h2v2h-2zm6 0h2v2h-2zm4 0h2v2h-2zm1 0h2v2h-2zm1 0h2v2h-2zm4 0h2v2h-2zm15 0h2v2h-2zm14 0h2v2h-2zm12 0h2v2h-2zm3 0h2v2h-2zm2 0h2v2h-2zm2 0h2v2h-2zm1 0h2v2h-2zm3 0h2v2h-2zm4 0h2v2h-2zm1 0h2v2h-2zm7 0h2v2h-2zm7 0h2v2h-2zm5 0h2v2h-2zm3 0h2v2h-2zm2 0h2v2h-2zm1 0h2v2h-2zm4 0h2v2h-2zm3 0h2v2h-2zm4 0h2v2h-2zm15 0h2v2h-2zm3 0h2v2h-2zm1 0h2v2h-2zm1 0h2v2h-2zm5 0h2v2h-2zm-353 1h2v2h-2zm6 0h2v2h-2zm1 0h2v2h-2zm9 0h2v2h-2zm10 0h2v2h-2zm4 0h2v2h-2zm5 0h2v2h-2zm4 0h2v2h-2zm4 0h2v2h-2zm3 0h2v2h-2zm4 0h2v2h-2zm5 0h2v2h-2zm10 0h2v2h-2zm2 0h2v2h-2zm2 0h2v2h-2zm4 0h2v2h-2zm11 0h2v2h-2zm7 0h2v2h-2zm7 0h2v2h-2zm8 0h2v2h-2zm13 0h2v2h-2zm1 0h2v2h-2zm37 0h2v2h-2zm4 0h2v2h-2zm28 0h2v2h-2zm4 0h2v2h-2zm9 0h2v2h-2zm3 0h2v2h-2zm2 0h2v2h-2zm3 0h2v2h-2zm6 0h2v2h-2zm24 0h2v2h-2zm1 0h2v2h-2zm6 0h2v2h-2zm1 0h2v2h-2zm3 0h2v2h-2zm1 0h2v2h-2zm24 0h2v2h-2zm9 0h2v2h-2zm8 0h2v2h-2zm1 0h2v2h-2zm6 0h2v2h-2zm1 0h2v2h-2zm5 0h2v2h-2zm5 0h2v2h-2zm16 0h2v2h-2zm3 0h2v2h-2zm1 0h2v2h-2zm10 0h2v2h-2zm2 0h2v2h-2zm14 0h2v2h-2zm-358 1h2v2h-2zm26 0h2v2h-2zm6 0h2v2h-2zm17 0h2v2h-2zm9 0h2v2h-2zm3 0h2v2h-2zm12 0h2v2h-2zm1 0h2v2h-2zm3 0h2v2h-2zm7 0h2v2h-2zm7 0h2v2h-2zm12 0h2v2h-2zm8 0h2v2h-2zm2 0h2v2h-2zm7 0h2v2h-2zm4 0h2v2h-2zm11 0h2v2h-2zm31 0h2v2h-2zm1 0h2v2h-2zm21 0h2v2h-2zm1 0h2v2h-2zm5 0h2v2h-2zm7 0h2v2h-2zm2 0h2v2h-2zm1 0h2v2h-2zm4 0h2v2h-2zm23 0h2v2h-2zm4 0h2v2h-2zm1 0h2v2h-2zm2 0h2v2h-2zm1 0h2v2h-2zm10 0h2v2h-2zm7 0h2v2h-2zm10 0h2v2h-2zm2 0h2v2h-2zm1 0h2v2h-2zm1 0h2v2h-2zm2 0h2v2h-2zm2 0h2v2h-2zm4 0h2v2h-2zm11 0h2v2h-2zm5 0h2v2h-2zm1 0h2v2h-2zm2 0h2v2h-2zm2 0h2v2h-2zm17 0h2v2h-2zm4 0h2v2h-2zm2 0h2v2h-2zm11 0h2v2h-2zm13 0h2v2h-2zm2 0h2v2h-2zm2 0h2v2h-2zm-353 1h2v2h-2zm7 0h2v2h-2zm2 0h2v2h-2zm13 0h2v2h-2zm6 0h2v2h-2zm1 0h2v2h-2zm1 0h2v2h-2zm4 0h2v2h-2zm3 0h2v2h-2zm12 0h2v2h-2zm52 0h2v2h-2zm5 0h2v2h-2zm8 0h2v2h-2zm3 0h2v2h-2zm46 0h2v2h-2zm6 0h2v2h-2zm17 0h2v2h-2zm5 0h2v2h-2zm7 0h2v2h-2zm5 0h2v2h-2zm1 0h2v2h-2zm5 0h2v2h-2zm2 0h2v2h-2zm1 0h2v2h-2zm1 0h2v2h-2zm1 0h2v2h-2zm1 0h2v2h-2zm1 0h2v2h-2zm1 0h2v2h-2zm13 0h2v2h-2zm3 0h2v2h-2zm4 0h2v2h-2zm4 0h2v2h-2zm7 0h2v2h-2zm7 0h2v2h-2zm2 0h2v2h-2zm1 0h2v2h-2zm8 0h2v2h-2zm1 0h2v2h-2zm4 0h2v2h-2zm13 0h2v2h-2zm6 0h2v2h-2zm11 0h2v2h-2zm1 0h2v2h-2zm12 0h2v2h-2zm4 0h2v2h-2zm34 0h2v2h-2zm-338 1h2v2h-2zm8 0h2v2h-2zm2 0h2v2h-2zm9 0h2v2h-2zm22 0h2v2h-2zm24 0h2v2h-2zm1 0h2v2h-2zm2 0h2v2h-2zm12 0h2v2h-2zm7 0h2v2h-2zm10 0h2v2h-2zm5 0h2v2h-2zm10 0h2v2h-2zm4 0h2v2h-2zm18 0h2v2h-2zm5 0h2v2h-2zm10 0h2v2h-2zm10 0h2v2h-2zm1 0h2v2h-2zm18 0h2v2h-2zm21 0h2v2h-2zm1 0h2v2h-2zm3 0h2v2h-2zm7 0h2v2h-2zm11 0h2v2h-2zm26 0h2v2h-2zm11 0h2v2h-2zm2 0h2v2h-2zm8 0h2v2h-2zm13 0h2v2h-2zm4 0h2v2h-2zm4 0h2v2h-2zm5 0h2v2h-2zm1 0h2v2h-2zm1 0h2v2h-2zm13 0h2v2h-2zm9 0h2v2h-2zm11 0h2v2h-2zm4 0h2v2h-2zm4 0h2v2h-2zm2 0h2v2h-2zm-349 1h2v2h-2zm3 0h2v2h-2zm13 0h2v2h-2zm36 0h2v2h-2zm64 0h2v2h-2zm12 0h2v2h-2zm1 0h2v2h-2zm3 0h2v2h-2zm1 0h2v2h-2zm5 0h2v2h-2zm6 0h2v2h-2zm3 0h2v2h-2zm4 0h2v2h-2zm7 0h2v2h-2zm14 0h2v2h-2zm10 0h2v2h-2zm1 0h2v2h-2zm5 0h2v2h-2zm17 0h2v2h-2zm9 0h2v2h-2zm7 0h2v2h-2zm11 0h2v2h-2zm1 0h2v2h-2zm12 0h2v2h-2zm5 0h2v2h-2zm7 0h2v2h-2zm5 0h2v2h-2zm8 0h2v2h-2zm2 0h2v2h-2zm4 0h2v2h-2zm8 0h2v2h-2zm5 0h2v2h-2zm14 0h2v2h-2zm5 0h2v2h-2zm7 0h2v2h-2zm1 0h2v2h-2zm10 0h2v2h-2zm1 0h2v2h-2zm-327 1h2v2h-2zm1 0h2v2h-2zm2 0h2v2h-2zm6 0h2v2h-2zm8 0h2v2h-2zm5 0h2v2h-2zm6 0h2v2h-2zm2 0h2v2h-2zm4 0h2v2h-2zm22 0h2v2h-2zm16 0h2v2h-2zm1 0h2v2h-2zm25 0h2v2h-2zm16 0h2v2h-2zm2 0h2v2h-2zm9 0h2v2h-2zm12 0h2v2h-2zm5 0h2v2h-2zm1 0h2v2h-2zm3 0h2v2h-2zm11 0h2v2h-2zm9 0h2v2h-2zm17 0h2v2h-2zm1 0h2v2h-2zm3 0h2v2h-2zm2 0h2v2h-2zm1 0h2v2h-2zm7 0h2v2h-2zm13 0h2v2h-2zm14 0h2v2h-2zm2 0h2v2h-2zm19 0h2v2h-2zm9 0h2v2h-2zm6 0h2v2h-2zm22 0h2v2h-2zm1 0h2v2h-2zm43 0h2v2h-2zm5 0h2v2h-2zm2 0h2v2h-2zm10 0h2v2h-2zm-293 1h2v2h-2zm3 0h2v2h-2zm3 0h2v2h-2zm18 0h2v2h-2zm18 0h2v2h-2zm4 0h2v2h-2zm5 0h2v2h-2zm14 0h2v2h-2zm7 0h2v2h-2zm1 0h2v2h-2zm20 0h2v2h-2zm1 0h2v2h-2zm7 0h2v2h-2zm11 0h2v2h-2zm2 0h2v2h-2zm4 0h2v2h-2zm20 0h2v2h-2zm1 0h2v2h-2zm13 0h2v2h-2zm15 0h2v2h-2zm8 0h2v2h-2zm12 0h2v2h-2zm13 0h2v2h-2zm7 0h2v2h-2zm2 0h2v2h-2zm18 0h2v2h-2zm2 0h2v2h-2zm6 0h2v2h-2zm1 0h2v2h-2zm9 0h2v2h-2zm1 0h2v2h-2zm10 0h2v2h-2zm13 0h2v2h-2zm2 0h2v2h-2zm21 0h2v2h-2zm6 0h2v2h-2zm-336 1h2v2h-2zm1 0h2v2h-2zm17 0h2v2h-2zm24 0h2v2h-2zm1 0h2v2h-2zm4 0h2v2h-2zm3 0h2v2h-2zm54 0h2v2h-2zm4 0h2v2h-2zm8 0h2v2h-2zm1 0h2v2h-2zm12 0h2v2h-2zm1 0h2v2h-2zm7 0h2v2h-2zm10 0h2v2h-2zm10 0h2v2h-2zm1 0h2v2h-2zm4 0h2v2h-2zm5 0h2v2h-2zm22 0h2v2h-2zm2 0h2v2h-2zm8 0h2v2h-2zm13 0h2v2h-2zm12 0h2v2h-2zm2 0h2v2h-2zm9 0h2v2h-2zm23 0h2v2h-2zm6 0h2v2h-2zm3 0h2v2h-2zm5 0h2v2h-2zm2 0h2v2h-2zm2 0h2v2h-2zm30 0h2v2h-2zm10 0h2v2h-2zm8 0h2v2h-2zm6 0h2v2h-2zm2 0h2v2h-2zm2 0h2v2h-2zm1 0h2v2h-2zm3 0h2v2h-2zm-324 1h2v2h-2zm7 0h2v2h-2zm5 0h2v2h-2zm34 0h2v2h-2zm4 0h2v2h-2zm10 0h2v2h-2zm11 0h2v2h-2zm2 0h2v2h-2zm13 0h2v2h-2zm1 0h2v2h-2zm24 0h2v2h-2zm11 0h2v2h-2zm11 0h2v2h-2zm4 0h2v2h-2zm20 0h2v2h-2zm9 0h2v2h-2zm4 0h2v2h-2zm13 0h2v2h-2zm2 0h2v2h-2zm4 0h2v2h-2zm28 0h2v2h-2zm15 0h2v2h-2zm1 0h2v2h-2zm3 0h2v2h-2zm16 0h2v2h-2zm16 0h2v2h-2zm16 0h2v2h-2zm13 0h2v2h-2zm30 0h2v2h-2zm-329 1h2v2h-2zm30 0h2v2h-2zm1 0h2v2h-2zm4 0h2v2h-2zm7 0h2v2h-2zm6 0h2v2h-2zm16 0h2v2h-2zm10 0h2v2h-2zm18 0h2v2h-2zm14 0h2v2h-2zm6 0h2v2h-2zm6 0h2v2h-2zm2 0h2v2h-2zm1 0h2v2h-2zm1 0h2v2h-2zm3 0h2v2h-2zm8 0h2v2h-2zm1 0h2v2h-2zm3 0h2v2h-2zm5 0h2v2h-2zm21 0h2v2h-2zm18 0h2v2h-2zm9 0h2v2h-2zm12 0h2v2h-2zm7 0h2v2h-2zm13 0h2v2h-2zm2 0h2v2h-2zm21 0h2v2h-2zm7 0h2v2h-2zm1 0h2v2h-2zm1 0h2v2h-2zm10 0h2v2h-2zm15 0h2v2h-2zm11 0h2v2h-2zm10 0h2v2h-2zm19 0h2v2h-2zm3 0h2v2h-2zm-338 1h2v2h-2zm16 0h2v2h-2zm7 0h2v2h-2zm1 0h2v2h-2zm14 0h2v2h-2zm7 0h2v2h-2zm7 0h2v2h-2zm7 0h2v2h-2zm3 0h2v2h-2zm2 0h2v2h-2zm4 0h2v2h-2zm2 0h2v2h-2zm1 0h2v2h-2zm13 0h2v2h-2zm4 0h2v2h-2zm19 0h2v2h-2zm5 0h2v2h-2zm4 0h2v2h-2zm1 0h2v2h-2zm14 0h2v2h-2zm3 0h2v2h-2zm2 0h2v2h-2zm3 0h2v2h-2zm2 0h2v2h-2zm7 0h2v2h-2zm5 0h2v2h-2zm2 0h2v2h-2zm1 0h2v2h-2zm3 0h2v2h-2zm1 0h2v2h-2zm2 0h2v2h-2zm6 0h2v2h-2zm41 0h2v2h-2zm23 0h2v2h-2zm46 0h2v2h-2zm26 0h2v2h-2zm1 0h2v2h-2zm4 0h2v2h-2zm9 0h2v2h-2zm15 0h2v2h-2zm4 0h2v2h-2zm6 0h2v2h-2zm-346 1h2v2h-2zm5 0h2v2h-2zm8 0h2v2h-2zm9 0h2v2h-2zm1 0h2v2h-2zm3 0h2v2h-2zm25 0h2v2h-2zm7 0h2v2h-2zm4 0h2v2h-2zm3 0h2v2h-2zm4 0h2v2h-2zm11 0h2v2h-2zm12 0h2v2h-2zm4 0h2v2h-2zm7 0h2v2h-2zm9 0h2v2h-2zm2 0h2v2h-2zm1 0h2v2h-2zm1 0h2v2h-2zm2 0h2v2h-2zm10 0h2v2h-2zm1 0h2v2h-2zm5 0h2v2h-2zm1 0h2v2h-2zm1 0h2v2h-2zm4 0h2v2h-2zm2 0h2v2h-2zm7 0h2v2h-2zm9 0h2v2h-2zm8 0h2v2h-2zm10 0h2v2h-2zm2 0h2v2h-2zm4 0h2v2h-2zm8 0h2v2h-2zm10 0h2v2h-2zm7 0h2v2h-2zm46 0h2v2h-2zm3 0h2v2h-2zm10 0h2v2h-2zm7 0h2v2h-2zm19 0h2v2h-2zm1 0h2v2h-2zm21 0h2v2h-2zm1 0h2v2h-2zm17 0h2v2h-2zm2 0h2v2h-2zm2 0h2v2h-2zm5 0h2v2h-2zm7 0h2v2h-2zm-345 1h2v2h-2zm6 0h2v2h-2zm6 0h2v2h-2zm28 0h2v2h-2zm3 0h2v2h-2zm8 0h2v2h-2zm12 0h2v2h-2zm4 0h2v2h-2zm1 0h2v2h-2zm5 0h2v2h-2zm19 0h2v2h-2zm14 0h2v2h-2zm6 0h2v2h-2zm3 0h2v2h-2zm8 0h2v2h-2zm6 0h2v2h-2zm7 0h2v2h-2zm1 0h2v2h-2zm3 0h2v2h-2zm2 0h2v2h-2zm5 0h2v2h-2zm21 0h2v2h-2zm3 0h2v2h-2zm9 0h2v2h-2zm29 0h2v2h-2zm8 0h2v2h-2zm2 0h2v2h-2zm17 0h2v2h-2zm15 0h2v2h-2zm19 0h2v2h-2zm11 0h2v2h-2zm3 0h2v2h-2zm4 0h2v2h-2zm8 0h2v2h-2zm9 0h2v2h-2zm1 0h2v2h-2zm11 0h2v2h-2zm7 0h2v2h-2zm23 0h2v2h-2zm-362 1h2v2h-2zm8 0h2v2h-2zm5 0h2v2h-2zm9 0h2v2h-2zm11 0h2v2h-2zm2 0h2v2h-2zm15 0h2v2h-2zm3 0h2v2h-2zm4 0h2v2h-2zm19 0h2v2h-2zm3 0h2v2h-2zm5 0h2v2h-2zm6 0h2v2h-2zm15 0h2v2h-2zm15 0h2v2h-2zm2 0h2v2h-2zm7 0h2v2h-2zm10 0h2v2h-2zm4 0h2v2h-2zm3 0h2v2h-2zm5 0h2v2h-2zm1 0h2v2h-2zm4 0h2v2h-2zm8 0h2v2h-2zm5 0h2v2h-2zm4 0h2v2h-2zm3 0h2v2h-2zm29 0h2v2h-2zm4 0h2v2h-2zm13 0h2v2h-2zm21 0h2v2h-2zm4 0h2v2h-2zm4 0h2v2h-2zm3 0h2v2h-2zm2 0h2v2h-2zm6 0h2v2h-2zm22 0h2v2h-2zm3 0h2v2h-2zm15 0h2v2h-2zm9 0h2v2h-2zm9 0h2v2h-2zm6 0h2v2h-2zm6 0h2v2h-2zm1 0h2v2h-2zm21 0h2v2h-2zm1 0h2v2h-2zm7 0h2v2h-2zm-361 1h2v2h-2zm7 0h2v2h-2zm2 0h2v2h-2zm2 0h2v2h-2zm3 0h2v2h-2zm7 0h2v2h-2zm11 0h2v2h-2zm1 0h2v2h-2zm8 0h2v2h-2zm11 0h2v2h-2zm4 0h2v2h-2zm1 0h2v2h-2zm5 0h2v2h-2zm13 0h2v2h-2zm1 0h2v2h-2zm5 0h2v2h-2zm1 0h2v2h-2zm11 0h2v2h-2zm13 0h2v2h-2zm18 0h2v2h-2zm6 0h2v2h-2zm9 0h2v2h-2zm4 0h2v2h-2zm2 0h2v2h-2zm4 0h2v2h-2zm16 0h2v2h-2zm4 0h2v2h-2zm4 0h2v2h-2zm5 0h2v2h-2zm11 0h2v2h-2zm4 0h2v2h-2zm2 0h2v2h-2zm5 0h2v2h-2zm13 0h2v2h-2zm16 0h2v2h-2zm9 0h2v2h-2zm3 0h2v2h-2zm7 0h2v2h-2zm6 0h2v2h-2zm7 0h2v2h-2zm17 0h2v2h-2zm9 0h2v2h-2zm23 0h2v2h-2zm8 0h2v2h-2zm8 0h2v2h-2zm7 0h2v2h-2zm7 0h2v2h-2zm2 0h2v2h-2zm4 0h2v2h-2zm9 0h2v2h-2zm-345 1h2v2h-2zm2 0h2v2h-2zm1 0h2v2h-2zm9 0h2v2h-2zm5 0h2v2h-2zm9 0h2v2h-2zm1 0h2v2h-2zm3 0h2v2h-2zm13 0h2v2h-2zm2 0h2v2h-2zm13 0h2v2h-2zm6 0h2v2h-2zm1 0h2v2h-2zm4 0h2v2h-2zm5 0h2v2h-2zm8 0h2v2h-2zm10 0h2v2h-2zm1 0h2v2h-2zm11 0h2v2h-2zm4 0h2v2h-2zm11 0h2v2h-2zm21 0h2v2h-2zm5 0h2v2h-2zm32 0h2v2h-2zm10 0h2v2h-2zm17 0h2v2h-2zm2 0h2v2h-2zm2 0h2v2h-2zm13 0h2v2h-2zm13 0h2v2h-2zm8 0h2v2h-2zm11 0h2v2h-2zm12 0h2v2h-2zm13 0h2v2h-2zm13 0h2v2h-2zm2 0h2v2h-2zm6 0h2v2h-2zm7 0h2v2h-2zm6 0h2v2h-2zm1 0h2v2h-2zm1 0h2v2h-2zm6 0h2v2h-2zm3 0h2v2h-2zm4 0h2v2h-2zm4 0h2v2h-2zm1 0h2v2h-2zm2 0h2v2h-2zm-337 1h2v2h-2zm6 0h2v2h-2zm1 0h2v2h-2zm3 0h2v2h-2zm10 0h2v2h-2zm1 0h2v2h-2zm10 0h2v2h-2zm11 0h2v2h-2zm7 0h2v2h-2zm5 0h2v2h-2zm1 0h2v2h-2zm2 0h2v2h-2zm4 0h2v2h-2zm6 0h2v2h-2zm9 0h2v2h-2zm14 0h2v2h-2zm1 0h2v2h-2zm7 0h2v2h-2zm8 0h2v2h-2zm10 0h2v2h-2zm1 0h2v2h-2zm1 0h2v2h-2zm6 0h2v2h-2zm38 0h2v2h-2zm18 0h2v2h-2zm6 0h2v2h-2zm6 0h2v2h-2zm32 0h2v2h-2zm11 0h2v2h-2zm5 0h2v2h-2zm28 0h2v2h-2zm7 0h2v2h-2zm5 0h2v2h-2zm12 0h2v2h-2zm1 0h2v2h-2zm4 0h2v2h-2zm2 0h2v2h-2zm21 0h2v2h-2zm16 0h2v2h-2zm8 0h2v2h-2zm9 0h2v2h-2zm-352 1h2v2h-2zm1 0h2v2h-2zm2 0h2v2h-2zm9 0h2v2h-2zm2 0h2v2h-2zm2 0h2v2h-2zm10 0h2v2h-2zm6 0h2v2h-2zm19 0h2v2h-2zm19 0h2v2h-2zm4 0h2v2h-2zm5 0h2v2h-2zm10 0h2v2h-2zm1 0h2v2h-2zm3 0h2v2h-2zm2 0h2v2h-2zm28 0h2v2h-2zm2 0h2v2h-2zm6 0h2v2h-2zm11 0h2v2h-2zm4 0h2v2h-2zm4 0h2v2h-2zm7 0h2v2h-2zm20 0h2v2h-2zm17 0h2v2h-2zm14 0h2v2h-2zm2 0h2v2h-2zm3 0h2v2h-2zm1 0h2v2h-2zm10 0h2v2h-2zm2 0h2v2h-2zm3 0h2v2h-2zm3 0h2v2h-2zm10 0h2v2h-2zm8 0h2v2h-2zm2 0h2v2h-2zm2 0h2v2h-2zm36 0h2v2h-2zm1 0h2v2h-2zm2 0h2v2h-2zm13 0h2v2h-2zm1 0h2v2h-2zm3 0h2v2h-2zm5 0h2v2h-2zm3 0h2v2h-2zm20 0h2v2h-2zm1 0h2v2h-2zm7 0h2v2h-2zm-355 1h2v2h-2zm10 0h2v2h-2zm10 0h2v2h-2zm10 0h2v2h-2zm7 0h2v2h-2zm4 0h2v2h-2zm5 0h2v2h-2zm18 0h2v2h-2zm1 0h2v2h-2zm13 0h2v2h-2zm1 0h2v2h-2zm2 0h2v2h-2zm6 0h2v2h-2zm11 0h2v2h-2zm13 0h2v2h-2zm1 0h2v2h-2zm9 0h2v2h-2zm5 0h2v2h-2zm1 0h2v2h-2zm6 0h2v2h-2zm16 0h2v2h-2zm3 0h2v2h-2zm10 0h2v2h-2zm7 0h2v2h-2zm8 0h2v2h-2zm16 0h2v2h-2zm5 0h2v2h-2zm12 0h2v2h-2zm5 0h2v2h-2zm1 0h2v2h-2zm8 0h2v2h-2zm1 0h2v2h-2zm10 0h2v2h-2zm3 0h2v2h-2zm8 0h2v2h-2zm3 0h2v2h-2zm12 0h2v2h-2zm3 0h2v2h-2zm3 0h2v2h-2zm1 0h2v2h-2zm15 0h2v2h-2zm16 0h2v2h-2zm19 0h2v2h-2zm1 0h2v2h-2zm5 0h2v2h-2zm4 0h2v2h-2zm2 0h2v2h-2zm3 0h2v2h-2zm3 0h2v2h-2zm9 0h2v2h-2zm5 0h2v2h-2zm1 0h2v2h-2zm8 0h2v2h-2zm-353 1h2v2h-2zm7 0h2v2h-2zm1 0h2v2h-2zm17 0h2v2h-2zm2 0h2v2h-2zm2 0h2v2h-2zm2 0h2v2h-2zm16 0h2v2h-2zm3 0h2v2h-2zm1 0h2v2h-2zm3 0h2v2h-2zm17 0h2v2h-2zm6 0h2v2h-2zm1 0h2v2h-2zm12 0h2v2h-2zm3 0h2v2h-2zm4 0h2v2h-2zm3 0h2v2h-2zm2 0h2v2h-2zm19 0h2v2h-2zm11 0h2v2h-2zm15 0h2v2h-2zm1 0h2v2h-2zm1 0h2v2h-2zm16 0h2v2h-2zm17 0h2v2h-2zm2 0h2v2h-2zm1 0h2v2h-2zm10 0h2v2h-2zm17 0h2v2h-2zm14 0h2v2h-2zm13 0h2v2h-2zm10 0h2v2h-2zm6 0h2v2h-2zm2 0h2v2h-2zm4 0h2v2h-2zm14 0h2v2h-2zm2 0h2v2h-2zm2 0h2v2h-2zm1 0h2v2h-2zm2 0h2v2h-2zm12 0h2v2h-2zm2 0h2v2h-2zm1 0h2v2h-2zm11 0h2v2h-2zm3 0h2v2h-2zm4 0h2v2h-2zm6 0h2v2h-2zm4 0h2v2h-2zm4 0h2v2h-2zm8 0h2v2h-2zm7 0h2v2h-2zm5 0h2v2h-2zm4 0h2v2h-2zm2 0h2v2h-2zm-359 1h2v2h-2zm23 0h2v2h-2zm6 0h2v2h-2zm1 0h2v2h-2zm6 0h2v2h-2zm6 0h2v2h-2zm19 0h2v2h-2zm16 0h2v2h-2zm4 0h2v2h-2zm15 0h2v2h-2zm15 0h2v2h-2zm4 0h2v2h-2zm14 0h2v2h-2zm12 0h2v2h-2zm1 0h2v2h-2zm5 0h2v2h-2zm9 0h2v2h-2zm23 0h2v2h-2zm5 0h2v2h-2zm12 0h2v2h-2zm3 0h2v2h-2zm9 0h2v2h-2zm5 0h2v2h-2zm23 0h2v2h-2zm16 0h2v2h-2zm1 0h2v2h-2zm12 0h2v2h-2zm3 0h2v2h-2zm9 0h2v2h-2zm4 0h2v2h-2zm3 0h2v2h-2zm3 0h2v2h-2zm3 0h2v2h-2zm11 0h2v2h-2zm4 0h2v2h-2zm2 0h2v2h-2zm21 0h2v2h-2zm2 0h2v2h-2zm3 0h2v2h-2zm1 0h2v2h-2zm2 0h2v2h-2zm2 0h2v2h-2zm3 0h2v2h-2zm2 0h2v2h-2zm8 0h2v2h-2zm6 0h2v2h-2zm-349 1h2v2h-2zm6 0h2v2h-2zm8 0h2v2h-2zm3 0h2v2h-2zm5 0h2v2h-2zm7 0h2v2h-2zm15 0h2v2h-2zm9 0h2v2h-2zm7 0h2v2h-2zm4 0h2v2h-2zm13 0h2v2h-2zm6 0h2v2h-2zm2 0h2v2h-2zm10 0h2v2h-2zm4 0h2v2h-2zm21 0h2v2h-2zm19 0h2v2h-2zm21 0h2v2h-2zm8 0h2v2h-2zm22 0h2v2h-2zm9 0h2v2h-2zm11 0h2v2h-2zm2 0h2v2h-2zm13 0h2v2h-2zm4 0h2v2h-2zm3 0h2v2h-2zm3 0h2v2h-2zm7 0h2v2h-2zm6 0h2v2h-2zm15 0h2v2h-2zm3 0h2v2h-2zm18 0h2v2h-2zm8 0h2v2h-2zm1 0h2v2h-2zm14 0h2v2h-2zm12 0h2v2h-2zm5 0h2v2h-2zm8 0h2v2h-2zm2 0h2v2h-2zm1 0h2v2h-2zm3 0h2v2h-2zm6 0h2v2h-2zm-342 1h2v2h-2zm1 0h2v2h-2zm1 0h2v2h-2zm2 0h2v2h-2zm1 0h2v2h-2zm44 0h2v2h-2zm2 0h2v2h-2zm8 0h2v2h-2zm5 0h2v2h-2zm1 0h2v2h-2zm8 0h2v2h-2zm8 0h2v2h-2zm3 0h2v2h-2zm7 0h2v2h-2zm20 0h2v2h-2zm27 0h2v2h-2zm2 0h2v2h-2zm23 0h2v2h-2zm2 0h2v2h-2zm5 0h2v2h-2zm11 0h2v2h-2zm7 0h2v2h-2zm6 0h2v2h-2zm9 0h2v2h-2zm4 0h2v2h-2zm19 0h2v2h-2zm4 0h2v2h-2zm1 0h2v2h-2zm1 0h2v2h-2zm8 0h2v2h-2zm6 0h2v2h-2zm2 0h2v2h-2zm7 0h2v2h-2zm1 0h2v2h-2zm4 0h2v2h-2zm15 0h2v2h-2zm8 0h2v2h-2zm4 0h2v2h-2zm12 0h2v2h-2zm7 0h2v2h-2zm9 0h2v2h-2zm10 0h2v2h-2zm15 0h2v2h-2zm17 0h2v2h-2zm-360 1h2v2h-2zm3 0h2v2h-2zm1 0h2v2h-2zm1 0h2v2h-2zm2 0h2v2h-2zm4 0h2v2h-2zm6 0h2v2h-2zm6 0h2v2h-2zm3 0h2v2h-2zm2 0h2v2h-2zm9 0h2v2h-2zm2 0h2v2h-2zm5 0h2v2h-2zm9 0h2v2h-2zm13 0h2v2h-2zm22 0h2v2h-2zm3 0h2v2h-2zm22 0h2v2h-2zm23 0h2v2h-2zm1 0h2v2h-2zm3 0h2v2h-2zm6 0h2v2h-2zm13 0h2v2h-2zm1 0h2v2h-2zm3 0h2v2h-2zm1 0h2v2h-2zm4 0h2v2h-2zm9 0h2v2h-2zm4 0h2v2h-2zm2 0h2v2h-2zm3 0h2v2h-2zm2 0h2v2h-2zm3 0h2v2h-2zm6 0h2v2h-2zm4 0h2v2h-2zm13 0h2v2h-2zm1 0h2v2h-2zm1 0h2v2h-2zm1 0h2v2h-2zm18 0h2v2h-2zm6 0h2v2h-2zm3 0h2v2h-2zm1 0h2v2h-2zm17 0h2v2h-2zm13 0h2v2h-2zm4 0h2v2h-2zm4 0h2v2h-2zm5 0h2v2h-2zm10 0h2v2h-2zm6 0h2v2h-2zm12 0h2v2h-2zm7 0h2v2h-2zm9 0h2v2h-2zm1 0h2v2h-2zm12 0h2v2h-2zm-345 1h2v2h-2zm9 0h2v2h-2zm19 0h2v2h-2zm3 0h2v2h-2zm12 0h2v2h-2zm9 0h2v2h-2zm3 0h2v2h-2zm3 0h2v2h-2zm5 0h2v2h-2zm8 0h2v2h-2zm5 0h2v2h-2zm11 0h2v2h-2zm14 0h2v2h-2zm5 0h2v2h-2zm2 0h2v2h-2zm6 0h2v2h-2zm3 0h2v2h-2zm1 0h2v2h-2zm8 0h2v2h-2zm21 0h2v2h-2zm1 0h2v2h-2zm21 0h2v2h-2zm10 0h2v2h-2zm4 0h2v2h-2zm9 0h2v2h-2zm1 0h2v2h-2zm10 0h2v2h-2zm6 0h2v2h-2zm1 0h2v2h-2zm1 0h2v2h-2zm9 0h2v2h-2zm9 0h2v2h-2zm1 0h2v2h-2zm2 0h2v2h-2zm17 0h2v2h-2zm4 0h2v2h-2zm1 0h2v2h-2zm9 0h2v2h-2zm18 0h2v2h-2zm3 0h2v2h-2zm4 0h2v2h-2zm6 0h2v2h-2zm4 0h2v2h-2zm8 0h2v2h-2zm15 0h2v2h-2zm2 0h2v2h-2zm3 0h2v2h-2zm3 0h2v2h-2zm9 0h2v2h-2zm6 0h2v2h-2zm5 0h2v2h-2zm4 0h2v2h-2zm-357 1h2v2h-2zm7 0h2v2h-2zm8 0h2v2h-2zm10 0h2v2h-2zm21 0h2v2h-2zm75 0h2v2h-2zm7 0h2v2h-2zm14 0h2v2h-2zm11 0h2v2h-2zm11 0h2v2h-2zm7 0h2v2h-2zm10 0h2v2h-2zm13 0h2v2h-2zm7 0h2v2h-2zm5 0h2v2h-2zm9 0h2v2h-2zm1 0h2v2h-2zm1 0h2v2h-2zm6 0h2v2h-2zm3 0h2v2h-2zm7 0h2v2h-2zm2 0h2v2h-2zm7 0h2v2h-2zm12 0h2v2h-2zm4 0h2v2h-2zm1 0h2v2h-2zm5 0h2v2h-2zm16 0h2v2h-2zm11 0h2v2h-2zm8 0h2v2h-2zm4 0h2v2h-2zm3 0h2v2h-2zm12 0h2v2h-2zm5 0h2v2h-2zm1 0h2v2h-2zm3 0h2v2h-2zm13 0h2v2h-2zm1 0h2v2h-2zm8 0h2v2h-2zm3 0h2v2h-2zm1 0h2v2h-2zm10 0h2v2h-2zm-363 1h2v2h-2zm8 0h2v2h-2zm4 0h2v2h-2zm1 0h2v2h-2zm18 0h2v2h-2zm4 0h2v2h-2zm13 0h2v2h-2zm7 0h2v2h-2zm25 0h2v2h-2zm9 0h2v2h-2zm8 0h2v2h-2zm25 0h2v2h-2zm15 0h2v2h-2zm3 0h2v2h-2zm10 0h2v2h-2zm9 0h2v2h-2zm6 0h2v2h-2zm16 0h2v2h-2zm3 0h2v2h-2zm1 0h2v2h-2zm1 0h2v2h-2zm2 0h2v2h-2zm2 0h2v2h-2zm3 0h2v2h-2zm1 0h2v2h-2zm6 0h2v2h-2zm3 0h2v2h-2zm1 0h2v2h-2zm2 0h2v2h-2zm1 0h2v2h-2zm1 0h2v2h-2zm2 0h2v2h-2zm4 0h2v2h-2zm9 0h2v2h-2zm10 0h2v2h-2zm11 0h2v2h-2zm14 0h2v2h-2zm1 0h2v2h-2zm6 0h2v2h-2zm5 0h2v2h-2zm7 0h2v2h-2zm2 0h2v2h-2zm8 0h2v2h-2zm2 0h2v2h-2zm13 0h2v2h-2zm2 0h2v2h-2zm16 0h2v2h-2zm5 0h2v2h-2zm11 0h2v2h-2zm6 0h2v2h-2zm11 0h2v2h-2zm-348 1h2v2h-2zm7 0h2v2h-2zm8 0h2v2h-2zm4 0h2v2h-2zm6 0h2v2h-2zm7 0h2v2h-2zm1 0h2v2h-2zm1 0h2v2h-2zm3 0h2v2h-2zm13 0h2v2h-2zm12 0h2v2h-2zm9 0h2v2h-2zm10 0h2v2h-2zm39 0h2v2h-2zm3 0h2v2h-2zm17 0h2v2h-2zm4 0h2v2h-2zm4 0h2v2h-2zm15 0h2v2h-2zm2 0h2v2h-2zm8 0h2v2h-2zm12 0h2v2h-2zm18 0h2v2h-2zm17 0h2v2h-2zm9 0h2v2h-2zm5 0h2v2h-2zm8 0h2v2h-2zm5 0h2v2h-2zm7 0h2v2h-2zm1 0h2v2h-2zm11 0h2v2h-2zm1 0h2v2h-2zm2 0h2v2h-2zm4 0h2v2h-2zm20 0h2v2h-2zm2 0h2v2h-2zm6 0h2v2h-2zm38 0h2v2h-2zm1 0h2v2h-2zm-338 1h2v2h-2zm2 0h2v2h-2zm9 0h2v2h-2zm16 0h2v2h-2zm12 0h2v2h-2zm13 0h2v2h-2zm9 0h2v2h-2zm3 0h2v2h-2zm1 0h2v2h-2zm7 0h2v2h-2zm9 0h2v2h-2zm1 0h2v2h-2zm6 0h2v2h-2zm1 0h2v2h-2zm2 0h2v2h-2zm8 0h2v2h-2zm1 0h2v2h-2zm1 0h2v2h-2zm33 0h2v2h-2zm46 0h2v2h-2zm2 0h2v2h-2zm25 0h2v2h-2zm7 0h2v2h-2zm8 0h2v2h-2zm6 0h2v2h-2zm8 0h2v2h-2zm4 0h2v2h-2zm6 0h2v2h-2zm2 0h2v2h-2zm10 0h2v2h-2zm2 0h2v2h-2zm9 0h2v2h-2zm3 0h2v2h-2zm9 0h2v2h-2zm4 0h2v2h-2zm4 0h2v2h-2zm4 0h2v2h-2zm1 0h2v2h-2zm3 0h2v2h-2zm23 0h2v2h-2zm11 0h2v2h-2zm11 0h2v2h-2zm-346 1h2v2h-2zm6 0h2v2h-2zm1 0h2v2h-2zm16 0h2v2h-2zm1 0h2v2h-2zm3 0h2v2h-2zm6 0h2v2h-2zm18 0h2v2h-2zm5 0h2v2h-2zm7 0h2v2h-2zm50 0h2v2h-2zm1 0h2v2h-2zm12 0h2v2h-2zm8 0h2v2h-2zm11 0h2v2h-2zm12 0h2v2h-2zm1 0h2v2h-2zm10 0h2v2h-2zm5 0h2v2h-2zm4 0h2v2h-2zm13 0h2v2h-2zm1 0h2v2h-2zm6 0h2v2h-2zm17 0h2v2h-2zm5 0h2v2h-2zm11 0h2v2h-2zm8 0h2v2h-2zm2 0h2v2h-2zm3 0h2v2h-2zm9 0h2v2h-2zm24 0h2v2h-2zm8 0h2v2h-2zm5 0h2v2h-2zm9 0h2v2h-2zm16 0h2v2h-2zm17 0h2v2h-2zm11 0h2v2h-2zm2 0h2v2h-2zm4 0h2v2h-2zm-352 1h2v2h-2zm21 0h2v2h-2zm19 0h2v2h-2zm4 0h2v2h-2zm8 0h2v2h-2zm2 0h2v2h-2zm14 0h2v2h-2zm1 0h2v2h-2zm1 0h2v2h-2zm5 0h2v2h-2zm4 0h2v2h-2zm3 0h2v2h-2zm14 0h2v2h-2zm2 0h2v2h-2zm6 0h2v2h-2zm3 0h2v2h-2zm1 0h2v2h-2zm12 0h2v2h-2zm1 0h2v2h-2zm13 0h2v2h-2zm3 0h2v2h-2zm1 0h2v2h-2zm1 0h2v2h-2zm1 0h2v2h-2zm12 0h2v2h-2zm4 0h2v2h-2zm10 0h2v2h-2zm5 0h2v2h-2zm6 0h2v2h-2zm29 0h2v2h-2zm2 0h2v2h-2zm25 0h2v2h-2zm1 0h2v2h-2zm23 0h2v2h-2zm8 0h2v2h-2zm35 0h2v2h-2zm2 0h2v2h-2zm4 0h2v2h-2zm5 0h2v2h-2zm26 0h2v2h-2zm10 0h2v2h-2zm6 0h2v2h-2zm-345 1h2v2h-2zm3 0h2v2h-2zm25 0h2v2h-2zm3 0h2v2h-2zm6 0h2v2h-2zm1 0h2v2h-2zm10 0h2v2h-2zm1 0h2v2h-2zm3 0h2v2h-2zm1 0h2v2h-2zm1 0h2v2h-2zm7 0h2v2h-2zm2 0h2v2h-2zm8 0h2v2h-2zm6 0h2v2h-2zm13 0h2v2h-2zm4 0h2v2h-2zm11 0h2v2h-2zm10 0h2v2h-2zm26 0h2v2h-2zm1 0h2v2h-2zm2 0h2v2h-2zm11 0h2v2h-2zm1 0h2v2h-2zm3 0h2v2h-2zm7 0h2v2h-2zm18 0h2v2h-2zm3 0h2v2h-2zm1 0h2v2h-2zm3 0h2v2h-2zm8 0h2v2h-2zm13 0h2v2h-2zm2 0h2v2h-2zm10 0h2v2h-2zm1 0h2v2h-2zm24 0h2v2h-2zm31 0h2v2h-2zm9 0h2v2h-2zm6 0h2v2h-2zm5 0h2v2h-2zm8 0h2v2h-2zm4 0h2v2h-2zm20 0h2v2h-2zm2 0h2v2h-2zm-337 1h2v2h-2zm4 0h2v2h-2zm3 0h2v2h-2zm15 0h2v2h-2zm7 0h2v2h-2zm16 0h2v2h-2zm3 0h2v2h-2zm8 0h2v2h-2zm4 0h2v2h-2zm13 0h2v2h-2zm22 0h2v2h-2zm5 0h2v2h-2zm16 0h2v2h-2zm23 0h2v2h-2zm7 0h2v2h-2zm13 0h2v2h-2zm3 0h2v2h-2zm12 0h2v2h-2zm26 0h2v2h-2zm2 0h2v2h-2zm7 0h2v2h-2zm4 0h2v2h-2zm1 0h2v2h-2zm13 0h2v2h-2zm1 0h2v2h-2zm20 0h2v2h-2zm1 0h2v2h-2zm22 0h2v2h-2zm1 0h2v2h-2zm8 0h2v2h-2zm11 0h2v2h-2zm6 0h2v2h-2zm1 0h2v2h-2zm5 0h2v2h-2zm14 0h2v2h-2zm22 0h2v2h-2zm2 0h2v2h-2zm6 0h2v2h-2zm-349 1h2v2h-2zm13 0h2v2h-2zm7 0h2v2h-2zm2 0h2v2h-2zm3 0h2v2h-2zm6 0h2v2h-2zm19 0h2v2h-2zm3 0h2v2h-2zm5 0h2v2h-2zm6 0h2v2h-2zm4 0h2v2h-2zm5 0h2v2h-2zm1 0h2v2h-2zm1 0h2v2h-2zm1 0h2v2h-2zm4 0h2v2h-2zm6 0h2v2h-2zm13 0h2v2h-2zm7 0h2v2h-2zm1 0h2v2h-2zm4 0h2v2h-2zm1 0h2v2h-2zm3 0h2v2h-2zm4 0h2v2h-2zm1 0h2v2h-2zm3 0h2v2h-2zm7 0h2v2h-2zm13 0h2v2h-2zm1 0h2v2h-2zm1 0h2v2h-2zm13 0h2v2h-2zm8 0h2v2h-2zm1 0h2v2h-2zm3 0h2v2h-2zm3 0h2v2h-2zm15 0h2v2h-2zm2 0h2v2h-2zm26 0h2v2h-2zm15 0h2v2h-2zm5 0h2v2h-2zm42 0h2v2h-2zm9 0h2v2h-2zm15 0h2v2h-2zm6 0h2v2h-2zm6 0h2v2h-2zm14 0h2v2h-2zm22 0h2v2h-2zm-348 1h2v2h-2zm1 0h2v2h-2zm4 0h2v2h-2zm20 0h2v2h-2zm2 0h2v2h-2zm1 0h2v2h-2zm26 0h2v2h-2zm17 0h2v2h-2zm12 0h2v2h-2zm2 0h2v2h-2zm3 0h2v2h-2zm5 0h2v2h-2zm1 0h2v2h-2zm9 0h2v2h-2zm7 0h2v2h-2zm6 0h2v2h-2zm1 0h2v2h-2zm5 0h2v2h-2zm5 0h2v2h-2zm14 0h2v2h-2zm2 0h2v2h-2zm4 0h2v2h-2zm7 0h2v2h-2zm1 0h2v2h-2zm17 0h2v2h-2zm7 0h2v2h-2zm5 0h2v2h-2zm23 0h2v2h-2zm23 0h2v2h-2zm42 0h2v2h-2zm28 0h2v2h-2zm15 0h2v2h-2zm3 0h2v2h-2zm20 0h2v2h-2zm2 0h2v2h-2zm1 0h2v2h-2zm2 0h2v2h-2zm-345 1h2v2h-2zm4 0h2v2h-2zm3 0h2v2h-2zm6 0h2v2h-2zm4 0h2v2h-2zm2 0h2v2h-2zm11 0h2v2h-2zm4 0h2v2h-2zm2 0h2v2h-2zm1 0h2v2h-2zm4 0h2v2h-2zm3 0h2v2h-2zm8 0h2v2h-2zm14 0h2v2h-2zm3 0h2v2h-2zm4 0h2v2h-2zm4 0h2v2h-2zm17 0h2v2h-2zm1 0h2v2h-2zm2 0h2v2h-2zm3 0h2v2h-2zm18 0h2v2h-2zm4 0h2v2h-2zm2 0h2v2h-2zm2 0h2v2h-2zm5 0h2v2h-2zm3 0h2v2h-2zm1 0h2v2h-2zm14 0h2v2h-2zm3 0h2v2h-2zm7 0h2v2h-2zm5 0h2v2h-2zm4 0h2v2h-2zm26 0h2v2h-2zm22 0h2v2h-2zm4 0h2v2h-2zm32 0h2v2h-2zm5 0h2v2h-2zm7 0h2v2h-2zm14 0h2v2h-2zm17 0h2v2h-2zm3 0h2v2h-2zm1 0h2v2h-2zm11 0h2v2h-2zm11 0h2v2h-2zm1 0h2v2h-2zm2 0h2v2h-2zm1 0h2v2h-2zm8 0h2v2h-2zm4 0h2v2h-2zm4 0h2v2h-2zm-338 1h2v2h-2zm4 0h2v2h-2zm10 0h2v2h-2zm19 0h2v2h-2zm1 0h2v2h-2zm5 0h2v2h-2zm5 0h2v2h-2zm1 0h2v2h-2zm9 0h2v2h-2zm2 0h2v2h-2zm11 0h2v2h-2zm6 0h2v2h-2zm10 0h2v2h-2zm9 0h2v2h-2zm7 0h2v2h-2zm1 0h2v2h-2zm7 0h2v2h-2zm13 0h2v2h-2zm4 0h2v2h-2zm7 0h2v2h-2zm9 0h2v2h-2zm2 0h2v2h-2zm3 0h2v2h-2zm4 0h2v2h-2zm7 0h2v2h-2zm1 0h2v2h-2zm13 0h2v2h-2zm3 0h2v2h-2zm2 0h2v2h-2zm23 0h2v2h-2zm9 0h2v2h-2zm11 0h2v2h-2zm4 0h2v2h-2zm21 0h2v2h-2zm8 0h2v2h-2zm1 0h2v2h-2zm1 0h2v2h-2zm9 0h2v2h-2zm3 0h2v2h-2zm28 0h2v2h-2zm4 0h2v2h-2zm20 0h2v2h-2zm1 0h2v2h-2zm18 0h2v2h-2zm13 0h2v2h-2zm-352 1h2v2h-2zm1 0h2v2h-2zm10 0h2v2h-2zm1 0h2v2h-2zm16 0h2v2h-2zm3 0h2v2h-2zm1 0h2v2h-2zm1 0h2v2h-2zm3 0h2v2h-2zm7 0h2v2h-2zm1 0h2v2h-2zm4 0h2v2h-2zm1 0h2v2h-2zm1 0h2v2h-2zm8 0h2v2h-2zm7 0h2v2h-2zm6 0h2v2h-2zm7 0h2v2h-2zm1 0h2v2h-2zm2 0h2v2h-2zm1 0h2v2h-2zm1 0h2v2h-2zm2 0h2v2h-2zm8 0h2v2h-2zm11 0h2v2h-2zm2 0h2v2h-2zm9 0h2v2h-2zm10 0h2v2h-2zm2 0h2v2h-2zm9 0h2v2h-2zm24 0h2v2h-2zm12 0h2v2h-2zm1 0h2v2h-2zm8 0h2v2h-2zm1 0h2v2h-2zm27 0h2v2h-2zm5 0h2v2h-2zm27 0h2v2h-2zm55 0h2v2h-2zm12 0h2v2h-2zm9 0h2v2h-2zm2 0h2v2h-2zm7 0h2v2h-2zm4 0h2v2h-2zm13 0h2v2h-2zm5 0h2v2h-2zm1 0h2v2h-2zm3 0h2v2h-2zm-339 1h2v2h-2zm18 0h2v2h-2zm3 0h2v2h-2zm7 0h2v2h-2zm8 0h2v2h-2zm2 0h2v2h-2zm1 0h2v2h-2zm3 0h2v2h-2zm18 0h2v2h-2zm10 0h2v2h-2zm1 0h2v2h-2zm1 0h2v2h-2zm17 0h2v2h-2zm11 0h2v2h-2zm6 0h2v2h-2zm17 0h2v2h-2zm17 0h2v2h-2zm7 0h2v2h-2zm29 0h2v2h-2zm2 0h2v2h-2zm13 0h2v2h-2zm2 0h2v2h-2zm17 0h2v2h-2zm1 0h2v2h-2zm6 0h2v2h-2zm2 0h2v2h-2zm9 0h2v2h-2zm11 0h2v2h-2zm6 0h2v2h-2zm3 0h2v2h-2zm5 0h2v2h-2zm8 0h2v2h-2zm2 0h2v2h-2zm3 0h2v2h-2zm12 0h2v2h-2zm4 0h2v2h-2zm2 0h2v2h-2zm7 0h2v2h-2zm1 0h2v2h-2zm8 0h2v2h-2zm-313 1h2v2h-2zm3 0h2v2h-2zm1 0h2v2h-2zm2 0h2v2h-2zm20 0h2v2h-2zm4 0h2v2h-2zm1 0h2v2h-2zm15 0h2v2h-2zm3 0h2v2h-2zm1 0h2v2h-2zm7 0h2v2h-2zm1 0h2v2h-2zm3 0h2v2h-2zm4 0h2v2h-2zm1 0h2v2h-2zm3 0h2v2h-2zm10 0h2v2h-2zm7 0h2v2h-2zm1 0h2v2h-2zm5 0h2v2h-2zm2 0h2v2h-2zm1 0h2v2h-2zm1 0h2v2h-2zm1 0h2v2h-2zm2 0h2v2h-2zm5 0h2v2h-2zm7 0h2v2h-2zm5 0h2v2h-2zm1 0h2v2h-2zm4 0h2v2h-2zm4 0h2v2h-2zm9 0h2v2h-2zm4 0h2v2h-2zm8 0h2v2h-2zm15 0h2v2h-2zm1 0h2v2h-2zm1 0h2v2h-2zm1 0h2v2h-2zm2 0h2v2h-2zm2 0h2v2h-2zm11 0h2v2h-2zm5 0h2v2h-2zm8 0h2v2h-2zm18 0h2v2h-2zm7 0h2v2h-2zm2 0h2v2h-2zm17 0h2v2h-2zm7 0h2v2h-2zm6 0h2v2h-2zm2 0h2v2h-2zm31 0h2v2h-2zm1 0h2v2h-2zm13 0h2v2h-2zm2 0h2v2h-2zm4 0h2v2h-2zm7 0h2v2h-2zm1 0h2v2h-2zm32 0h2v2h-2zm7 0h2v2h-2zm4 0h2v2h-2zm-359 1h2v2h-2zm9 0h2v2h-2zm4 0h2v2h-2zm3 0h2v2h-2zm1 0h2v2h-2zm1 0h2v2h-2zm17 0h2v2h-2zm2 0h2v2h-2zm14 0h2v2h-2zm1 0h2v2h-2zm8 0h2v2h-2zm19 0h2v2h-2zm15 0h2v2h-2zm2 0h2v2h-2zm1 0h2v2h-2zm4 0h2v2h-2zm9 0h2v2h-2zm1 0h2v2h-2zm9 0h2v2h-2zm3 0h2v2h-2zm4 0h2v2h-2zm16 0h2v2h-2zm3 0h2v2h-2zm4 0h2v2h-2zm2 0h2v2h-2zm19 0h2v2h-2zm1 0h2v2h-2zm2 0h2v2h-2zm4 0h2v2h-2zm16 0h2v2h-2zm3 0h2v2h-2zm12 0h2v2h-2zm5 0h2v2h-2zm2 0h2v2h-2zm18 0h2v2h-2zm7 0h2v2h-2zm8 0h2v2h-2zm2 0h2v2h-2zm3 0h2v2h-2zm4 0h2v2h-2zm2 0h2v2h-2zm3 0h2v2h-2zm8 0h2v2h-2zm10 0h2v2h-2zm2 0h2v2h-2zm1 0h2v2h-2zm17 0h2v2h-2zm4 0h2v2h-2zm18 0h2v2h-2zm5 0h2v2h-2zm3 0h2v2h-2zm7 0h2v2h-2zm16 0h2v2h-2zm5 0h2v2h-2zm-359 1h2v2h-2zm5 0h2v2h-2zm3 0h2v2h-2zm2 0h2v2h-2zm1 0h2v2h-2zm8 0h2v2h-2zm3 0h2v2h-2zm8 0h2v2h-2zm1 0h2v2h-2zm6 0h2v2h-2zm3 0h2v2h-2zm1 0h2v2h-2zm5 0h2v2h-2zm10 0h2v2h-2zm4 0h2v2h-2zm1 0h2v2h-2zm8 0h2v2h-2zm6 0h2v2h-2zm2 0h2v2h-2zm1 0h2v2h-2zm23 0h2v2h-2zm13 0h2v2h-2zm16 0h2v2h-2zm10 0h2v2h-2zm1 0h2v2h-2zm5 0h2v2h-2zm2 0h2v2h-2zm2 0h2v2h-2zm8 0h2v2h-2zm11 0h2v2h-2zm1 0h2v2h-2zm11 0h2v2h-2zm3 0h2v2h-2zm7 0h2v2h-2zm3 0h2v2h-2zm8 0h2v2h-2zm34 0h2v2h-2zm25 0h2v2h-2zm5 0h2v2h-2zm1 0h2v2h-2zm26 0h2v2h-2zm14 0h2v2h-2zm5 0h2v2h-2zm12 0h2v2h-2zm13 0h2v2h-2zm2 0h2v2h-2zm8 0h2v2h-2zm-347 1h2v2h-2zm6 0h2v2h-2zm7 0h2v2h-2zm3 0h2v2h-2zm15 0h2v2h-2zm1 0h2v2h-2zm7 0h2v2h-2zm2 0h2v2h-2zm34 0h2v2h-2zm1 0h2v2h-2zm5 0h2v2h-2zm2 0h2v2h-2zm31 0h2v2h-2zm9 0h2v2h-2zm8 0h2v2h-2zm3 0h2v2h-2zm7 0h2v2h-2zm4 0h2v2h-2zm1 0h2v2h-2zm23 0h2v2h-2zm12 0h2v2h-2zm5 0h2v2h-2zm7 0h2v2h-2zm18 0h2v2h-2zm1 0h2v2h-2zm7 0h2v2h-2zm6 0h2v2h-2zm7 0h2v2h-2zm7 0h2v2h-2zm7 0h2v2h-2zm14 0h2v2h-2zm3 0h2v2h-2zm8 0h2v2h-2zm7 0h2v2h-2zm13 0h2v2h-2zm3 0h2v2h-2zm2 0h2v2h-2zm3 0h2v2h-2zm3 0h2v2h-2zm9 0h2v2h-2zm6 0h2v2h-2zm2 0h2v2h-2zm3 0h2v2h-2zm6 0h2v2h-2zm1 0h2v2h-2zm1 0h2v2h-2zm3 0h2v2h-2zm14 0h2v2h-2zm-313 1h2v2h-2zm3 0h2v2h-2zm1 0h2v2h-2zm6 0h2v2h-2zm16 0h2v2h-2zm2 0h2v2h-2zm18 0h2v2h-2zm6 0h2v2h-2zm6 0h2v2h-2zm3 0h2v2h-2zm7 0h2v2h-2zm3 0h2v2h-2zm7 0h2v2h-2zm18 0h2v2h-2zm17 0h2v2h-2zm9 0h2v2h-2zm14 0h2v2h-2zm30 0h2v2h-2zm2 0h2v2h-2zm10 0h2v2h-2zm5 0h2v2h-2zm16 0h2v2h-2zm1 0h2v2h-2zm3 0h2v2h-2zm4 0h2v2h-2zm1 0h2v2h-2zm2 0h2v2h-2zm1 0h2v2h-2zm9 0h2v2h-2zm4 0h2v2h-2zm2 0h2v2h-2zm6 0h2v2h-2zm10 0h2v2h-2zm9 0h2v2h-2zm1 0h2v2h-2zm1 0h2v2h-2zm2 0h2v2h-2zm5 0h2v2h-2zm1 0h2v2h-2zm10 0h2v2h-2zm9 0h2v2h-2zm2 0h2v2h-2zm8 0h2v2h-2zm2 0h2v2h-2zm2 0h2v2h-2zm2 0h2v2h-2zm3 0h2v2h-2zm1 0h2v2h-2zm3 0h2v2h-2zm15 0h2v2h-2zm2 0h2v2h-2zm3 0h2v2h-2zm10 0h2v2h-2zm-360 1h2v2h-2zm12 0h2v2h-2zm33 0h2v2h-2zm13 0h2v2h-2zm5 0h2v2h-2zm8 0h2v2h-2zm6 0h2v2h-2zm7 0h2v2h-2zm14 0h2v2h-2zm22 0h2v2h-2zm2 0h2v2h-2zm1 0h2v2h-2zm16 0h2v2h-2zm5 0h2v2h-2zm9 0h2v2h-2zm4 0h2v2h-2zm3 0h2v2h-2zm7 0h2v2h-2zm17 0h2v2h-2zm15 0h2v2h-2zm6 0h2v2h-2zm3 0h2v2h-2zm3 0h2v2h-2zm1 0h2v2h-2zm6 0h2v2h-2zm5 0h2v2h-2zm3 0h2v2h-2zm5 0h2v2h-2zm5 0h2v2h-2zm6 0h2v2h-2zm2 0h2v2h-2zm3 0h2v2h-2zm1 0h2v2h-2zm5 0h2v2h-2zm3 0h2v2h-2zm3 0h2v2h-2zm12 0h2v2h-2zm1 0h2v2h-2zm3 0h2v2h-2zm1 0h2v2h-2zm3 0h2v2h-2zm3 0h2v2h-2zm6 0h2v2h-2zm7 0h2v2h-2zm5 0h2v2h-2zm2 0h2v2h-2zm1 0h2v2h-2zm1 0h2v2h-2zm2 0h2v2h-2zm2 0h2v2h-2zm18 0h2v2h-2zm15 0h2v2h-2zm9 0h2v2h-2zm8 0h2v2h-2zm2 0h2v2h-2zm-365 1h2v2h-2zm8 0h2v2h-2zm6 0h2v2h-2zm21 0h2v2h-2zm25 0h2v2h-2zm2 0h2v2h-2zm17 0h2v2h-2zm6 0h2v2h-2zm2 0h2v2h-2zm9 0h2v2h-2zm15 0h2v2h-2zm7 0h2v2h-2zm1 0h2v2h-2zm10 0h2v2h-2zm39 0h2v2h-2zm1 0h2v2h-2zm1 0h2v2h-2zm16 0h2v2h-2zm7 0h2v2h-2zm4 0h2v2h-2zm2 0h2v2h-2zm1 0h2v2h-2zm15 0h2v2h-2zm6 0h2v2h-2zm10 0h2v2h-2zm1 0h2v2h-2zm3 0h2v2h-2zm1 0h2v2h-2zm2 0h2v2h-2zm8 0h2v2h-2zm16 0h2v2h-2zm1 0h2v2h-2zm2 0h2v2h-2zm4 0h2v2h-2zm2 0h2v2h-2zm8 0h2v2h-2zm3 0h2v2h-2zm7 0h2v2h-2zm2 0h2v2h-2zm6 0h2v2h-2zm1 0h2v2h-2zm4 0h2v2h-2zm2 0h2v2h-2zm2 0h2v2h-2zm13 0h2v2h-2zm5 0h2v2h-2zm4 0h2v2h-2zm4 0h2v2h-2zm2 0h2v2h-2zm14 0h2v2h-2zm13 0h2v2h-2zm-356 1h2v2h-2zm23 0h2v2h-2zm14 0h2v2h-2zm45 0h2v2h-2zm15 0h2v2h-2zm1 0h2v2h-2zm13 0h2v2h-2zm15 0h2v2h-2zm44 0h2v2h-2zm7 0h2v2h-2zm2 0h2v2h-2zm13 0h2v2h-2zm1 0h2v2h-2zm4 0h2v2h-2zm3 0h2v2h-2zm6 0h2v2h-2zm2 0h2v2h-2zm4 0h2v2h-2zm13 0h2v2h-2zm14 0h2v2h-2zm5 0h2v2h-2zm4 0h2v2h-2zm5 0h2v2h-2zm9 0h2v2h-2zm1 0h2v2h-2zm7 0h2v2h-2zm2 0h2v2h-2zm3 0h2v2h-2zm12 0h2v2h-2zm1 0h2v2h-2zm3 0h2v2h-2zm5 0h2v2h-2zm1 0h2v2h-2zm19 0h2v2h-2zm19 0h2v2h-2zm5 0h2v2h-2zm4 0h2v2h-2zm3 0h2v2h-2zm6 0h2v2h-2zm1 0h2v2h-2zm2 0h2v2h-2zm3 0h2v2h-2zm-353 1h2v2h-2zm12 0h2v2h-2zm4 0h2v2h-2zm6 0h2v2h-2zm3 0h2v2h-2zm3 0h2v2h-2zm19 0h2v2h-2zm2 0h2v2h-2zm15 0h2v2h-2zm16 0h2v2h-2zm5 0h2v2h-2zm9 0h2v2h-2zm1 0h2v2h-2zm9 0h2v2h-2zm15 0h2v2h-2zm14 0h2v2h-2zm10 0h2v2h-2zm1 0h2v2h-2zm9 0h2v2h-2zm8 0h2v2h-2zm9 0h2v2h-2zm4 0h2v2h-2zm7 0h2v2h-2zm3 0h2v2h-2zm6 0h2v2h-2zm2 0h2v2h-2zm2 0h2v2h-2zm1 0h2v2h-2zm5 0h2v2h-2zm5 0h2v2h-2zm4 0h2v2h-2zm2 0h2v2h-2zm15 0h2v2h-2zm9 0h2v2h-2zm2 0h2v2h-2zm2 0h2v2h-2zm2 0h2v2h-2zm5 0h2v2h-2zm12 0h2v2h-2zm5 0h2v2h-2zm8 0h2v2h-2zm3 0h2v2h-2zm2 0h2v2h-2zm11 0h2v2h-2zm3 0h2v2h-2zm3 0h2v2h-2zm10 0h2v2h-2zm8 0h2v2h-2zm27 0h2v2h-2zm2 0h2v2h-2zm-341 1h2v2h-2zm13 0h2v2h-2zm7 0h2v2h-2zm6 0h2v2h-2zm4 0h2v2h-2zm1 0h2v2h-2zm17 0h2v2h-2zm39 0h2v2h-2zm15 0h2v2h-2zm15 0h2v2h-2zm6 0h2v2h-2zm16 0h2v2h-2zm1 0h2v2h-2zm9 0h2v2h-2zm8 0h2v2h-2zm7 0h2v2h-2zm2 0h2v2h-2zm4 0h2v2h-2zm4 0h2v2h-2zm6 0h2v2h-2zm1 0h2v2h-2zm5 0h2v2h-2zm8 0h2v2h-2zm8 0h2v2h-2zm6 0h2v2h-2zm10 0h2v2h-2zm6 0h2v2h-2zm5 0h2v2h-2zm24 0h2v2h-2zm12 0h2v2h-2zm4 0h2v2h-2zm5 0h2v2h-2zm1 0h2v2h-2zm11 0h2v2h-2zm2 0h2v2h-2zm5 0h2v2h-2zm2 0h2v2h-2zm4 0h2v2h-2zm8 0h2v2h-2zm2 0h2v2h-2zm6 0h2v2h-2zm6 0h2v2h-2zm1 0h2v2h-2zm2 0h2v2h-2zm9 0h2v2h-2zm4 0h2v2h-2zm2 0h2v2h-2zm4 0h2v2h-2zm-357 1h2v2h-2zm6 0h2v2h-2zm3 0h2v2h-2zm49 0h2v2h-2zm2 0h2v2h-2zm26 0h2v2h-2zm6 0h2v2h-2zm19 0h2v2h-2zm1 0h2v2h-2zm13 0h2v2h-2zm5 0h2v2h-2zm11 0h2v2h-2zm4 0h2v2h-2zm10 0h2v2h-2zm16 0h2v2h-2zm4 0h2v2h-2zm5 0h2v2h-2zm1 0h2v2h-2zm2 0h2v2h-2zm12 0h2v2h-2zm4 0h2v2h-2zm14 0h2v2h-2zm2 0h2v2h-2zm1 0h2v2h-2zm5 0h2v2h-2zm1 0h2v2h-2zm4 0h2v2h-2zm3 0h2v2h-2zm8 0h2v2h-2zm15 0h2v2h-2zm2 0h2v2h-2zm2 0h2v2h-2zm3 0h2v2h-2zm5 0h2v2h-2zm3 0h2v2h-2zm3 0h2v2h-2zm12 0h2v2h-2zm1 0h2v2h-2zm1 0h2v2h-2zm4 0h2v2h-2zm21 0h2v2h-2zm2 0h2v2h-2zm24 0h2v2h-2zm19 0h2v2h-2zm8 0h2v2h-2zm-344 1h2v2h-2zm14 0h2v2h-2zm3 0h2v2h-2zm1 0h2v2h-2zm1 0h2v2h-2zm1 0h2v2h-2zm24 0h2v2h-2zm17 0h2v2h-2zm2 0h2v2h-2zm27 0h2v2h-2zm18 0h2v2h-2zm4 0h2v2h-2zm8 0h2v2h-2zm13 0h2v2h-2zm12 0h2v2h-2zm8 0h2v2h-2zm2 0h2v2h-2zm1 0h2v2h-2zm1 0h2v2h-2zm7 0h2v2h-2zm13 0h2v2h-2zm2 0h2v2h-2zm11 0h2v2h-2zm12 0h2v2h-2zm3 0h2v2h-2zm1 0h2v2h-2zm12 0h2v2h-2zm3 0h2v2h-2zm3 0h2v2h-2zm1 0h2v2h-2zm1 0h2v2h-2zm2 0h2v2h-2zm12 0h2v2h-2zm9 0h2v2h-2zm8 0h2v2h-2zm1 0h2v2h-2zm3 0h2v2h-2zm2 0h2v2h-2zm7 0h2v2h-2zm13 0h2v2h-2zm4 0h2v2h-2zm7 0h2v2h-2zm7 0h2v2h-2zm3 0h2v2h-2zm4 0h2v2h-2zm12 0h2v2h-2zm3 0h2v2h-2zm13 0h2v2h-2zm2 0h2v2h-2zm1 0h2v2h-2zm5 0h2v2h-2zm-348 1h2v2h-2zm20 0h2v2h-2zm1 0h2v2h-2zm17 0h2v2h-2zm13 0h2v2h-2zm1 0h2v2h-2zm15 0h2v2h-2zm2 0h2v2h-2zm18 0h2v2h-2zm26 0h2v2h-2zm3 0h2v2h-2zm6 0h2v2h-2zm1 0h2v2h-2zm11 0h2v2h-2zm11 0h2v2h-2zm3 0h2v2h-2zm7 0h2v2h-2zm2 0h2v2h-2zm9 0h2v2h-2zm1 0h2v2h-2zm6 0h2v2h-2zm7 0h2v2h-2zm2 0h2v2h-2zm17 0h2v2h-2zm3 0h2v2h-2zm5 0h2v2h-2zm1 0h2v2h-2zm7 0h2v2h-2zm7 0h2v2h-2zm7 0h2v2h-2zm21 0h2v2h-2zm9 0h2v2h-2zm20 0h2v2h-2zm6 0h2v2h-2zm3 0h2v2h-2zm10 0h2v2h-2zm16 0h2v2h-2zm4 0h2v2h-2zm23 0h2v2h-2zm-342 1h2v2h-2zm7 0h2v2h-2zm22 0h2v2h-2zm7 0h2v2h-2zm8 0h2v2h-2zm15 0h2v2h-2zm12 0h2v2h-2zm6 0h2v2h-2zm9 0h2v2h-2zm14 0h2v2h-2zm5 0h2v2h-2zm1 0h2v2h-2zm5 0h2v2h-2zm7 0h2v2h-2zm7 0h2v2h-2zm6 0h2v2h-2zm2 0h2v2h-2zm2 0h2v2h-2zm4 0h2v2h-2zm1 0h2v2h-2zm3 0h2v2h-2zm3 0h2v2h-2zm3 0h2v2h-2zm4 0h2v2h-2zm1 0h2v2h-2zm6 0h2v2h-2zm1 0h2v2h-2zm9 0h2v2h-2zm7 0h2v2h-2zm2 0h2v2h-2zm3 0h2v2h-2zm21 0h2v2h-2zm24 0h2v2h-2zm7 0h2v2h-2zm1 0h2v2h-2zm9 0h2v2h-2zm2 0h2v2h-2zm2 0h2v2h-2zm18 0h2v2h-2zm12 0h2v2h-2zm4 0h2v2h-2zm1 0h2v2h-2zm5 0h2v2h-2zm5 0h2v2h-2zm4 0h2v2h-2zm1 0h2v2h-2zm1 0h2v2h-2zm4 0h2v2h-2zm1 0h2v2h-2zm3 0h2v2h-2zm3 0h2v2h-2zm4 0h2v2h-2zm9 0h2v2h-2zm-326 1h2v2h-2zm8 0h2v2h-2zm1 0h2v2h-2zm23 0h2v2h-2zm2 0h2v2h-2zm14 0h2v2h-2zm2 0h2v2h-2zm28 0h2v2h-2zm15 0h2v2h-2zm2 0h2v2h-2zm22 0h2v2h-2zm3 0h2v2h-2zm3 0h2v2h-2zm2 0h2v2h-2zm7 0h2v2h-2zm10 0h2v2h-2zm1 0h2v2h-2zm18 0h2v2h-2zm3 0h2v2h-2zm1 0h2v2h-2zm1 0h2v2h-2zm6 0h2v2h-2zm1 0h2v2h-2zm1 0h2v2h-2zm7 0h2v2h-2zm16 0h2v2h-2zm1 0h2v2h-2zm5 0h2v2h-2zm7 0h2v2h-2zm5 0h2v2h-2zm10 0h2v2h-2zm2 0h2v2h-2zm16 0h2v2h-2zm1 0h2v2h-2zm6 0h2v2h-2zm28 0h2v2h-2zm19 0h2v2h-2zm36 0h2v2h-2zm-330 1h2v2h-2zm7 0h2v2h-2zm19 0h2v2h-2zm3 0h2v2h-2zm20 0h2v2h-2zm5 0h2v2h-2zm1 0h2v2h-2zm3 0h2v2h-2zm8 0h2v2h-2zm7 0h2v2h-2zm8 0h2v2h-2zm8 0h2v2h-2zm9 0h2v2h-2zm5 0h2v2h-2zm11 0h2v2h-2zm5 0h2v2h-2zm7 0h2v2h-2zm13 0h2v2h-2zm7 0h2v2h-2zm8 0h2v2h-2zm3 0h2v2h-2zm10 0h2v2h-2zm3 0h2v2h-2zm7 0h2v2h-2zm3 0h2v2h-2zm3 0h2v2h-2zm2 0h2v2h-2zm7 0h2v2h-2zm7 0h2v2h-2zm14 0h2v2h-2zm1 0h2v2h-2zm7 0h2v2h-2zm10 0h2v2h-2zm42 0h2v2h-2zm4 0h2v2h-2zm2 0h2v2h-2zm16 0h2v2h-2zm8 0h2v2h-2zm30 0h2v2h-2zm18 0h2v2h-2zm-345 1h2v2h-2zm6 0h2v2h-2zm6 0h2v2h-2zm9 0h2v2h-2zm10 0h2v2h-2zm11 0h2v2h-2zm3 0h2v2h-2zm4 0h2v2h-2zm11 0h2v2h-2zm3 0h2v2h-2zm2 0h2v2h-2zm2 0h2v2h-2zm4 0h2v2h-2zm13 0h2v2h-2zm16 0h2v2h-2zm13 0h2v2h-2zm1 0h2v2h-2zm20 0h2v2h-2zm1 0h2v2h-2zm2 0h2v2h-2zm9 0h2v2h-2zm3 0h2v2h-2zm4 0h2v2h-2zm4 0h2v2h-2zm1 0h2v2h-2zm11 0h2v2h-2zm2 0h2v2h-2zm2 0h2v2h-2zm3 0h2v2h-2zm38 0h2v2h-2zm16 0h2v2h-2zm1 0h2v2h-2zm20 0h2v2h-2zm10 0h2v2h-2zm6 0h2v2h-2zm2 0h2v2h-2zm12 0h2v2h-2zm11 0h2v2h-2zm8 0h2v2h-2zm19 0h2v2h-2zm-337 1h2v2h-2zm9 0h2v2h-2zm11 0h2v2h-2zm4 0h2v2h-2zm3 0h2v2h-2zm14 0h2v2h-2zm2 0h2v2h-2zm1 0h2v2h-2zm1 0h2v2h-2zm11 0h2v2h-2zm1 0h2v2h-2zm2 0h2v2h-2zm2 0h2v2h-2zm20 0h2v2h-2zm6 0h2v2h-2zm15 0h2v2h-2zm5 0h2v2h-2zm6 0h2v2h-2zm17 0h2v2h-2zm14 0h2v2h-2zm5 0h2v2h-2zm1 0h2v2h-2zm1 0h2v2h-2zm3 0h2v2h-2zm5 0h2v2h-2zm2 0h2v2h-2zm16 0h2v2h-2zm14 0h2v2h-2zm1 0h2v2h-2zm1 0h2v2h-2zm7 0h2v2h-2zm2 0h2v2h-2zm12 0h2v2h-2zm2 0h2v2h-2zm44 0h2v2h-2zm4 0h2v2h-2zm7 0h2v2h-2zm15 0h2v2h-2zm6 0h2v2h-2zm17 0h2v2h-2zm35 0h2v2h-2zm11 0h2v2h-2zm4 0h2v2h-2zm6 0h2v2h-2zm-363 1h2v2h-2zm6 0h2v2h-2zm29 0h2v2h-2zm1 0h2v2h-2zm23 0h2v2h-2zm2 0h2v2h-2zm5 0h2v2h-2zm7 0h2v2h-2zm1 0h2v2h-2zm2 0h2v2h-2zm8 0h2v2h-2zm1 0h2v2h-2zm10 0h2v2h-2zm4 0h2v2h-2zm2 0h2v2h-2zm4 0h2v2h-2zm5 0h2v2h-2zm3 0h2v2h-2zm8 0h2v2h-2zm2 0h2v2h-2zm5 0h2v2h-2zm9 0h2v2h-2zm2 0h2v2h-2zm3 0h2v2h-2zm2 0h2v2h-2zm1 0h2v2h-2zm3 0h2v2h-2zm4 0h2v2h-2zm16 0h2v2h-2zm1 0h2v2h-2zm8 0h2v2h-2zm1 0h2v2h-2zm10 0h2v2h-2zm5 0h2v2h-2zm13 0h2v2h-2zm11 0h2v2h-2zm5 0h2v2h-2zm13 0h2v2h-2zm40 0h2v2h-2zm1 0h2v2h-2zm4 0h2v2h-2zm12 0h2v2h-2zm16 0h2v2h-2zm7 0h2v2h-2zm34 0h2v2h-2zm2 0h2v2h-2zm-339 1h2v2h-2zm3 0h2v2h-2zm3 0h2v2h-2zm1 0h2v2h-2zm12 0h2v2h-2zm2 0h2v2h-2zm5 0h2v2h-2zm10 0h2v2h-2zm2 0h2v2h-2zm11 0h2v2h-2zm5 0h2v2h-2zm3 0h2v2h-2zm2 0h2v2h-2zm2 0h2v2h-2zm2 0h2v2h-2zm1 0h2v2h-2zm8 0h2v2h-2zm1 0h2v2h-2zm14 0h2v2h-2zm1 0h2v2h-2zm5 0h2v2h-2zm4 0h2v2h-2zm4 0h2v2h-2zm3 0h2v2h-2zm18 0h2v2h-2zm9 0h2v2h-2zm1 0h2v2h-2zm1 0h2v2h-2zm7 0h2v2h-2zm25 0h2v2h-2zm4 0h2v2h-2zm8 0h2v2h-2zm14 0h2v2h-2zm34 0h2v2h-2zm2 0h2v2h-2zm3 0h2v2h-2zm16 0h2v2h-2zm5 0h2v2h-2zm10 0h2v2h-2zm9 0h2v2h-2zm2 0h2v2h-2zm14 0h2v2h-2zm4 0h2v2h-2zm14 0h2v2h-2zm2 0h2v2h-2zm1 0h2v2h-2zm1 0h2v2h-2zm8 0h2v2h-2zm7 0h2v2h-2zm6 0h2v2h-2zm8 0h2v2h-2zm13 0h2v2h-2zm-356 1h2v2h-2zm18 0h2v2h-2zm3 0h2v2h-2zm7 0h2v2h-2zm7 0h2v2h-2zm2 0h2v2h-2zm5 0h2v2h-2zm3 0h2v2h-2zm2 0h2v2h-2zm3 0h2v2h-2zm1 0h2v2h-2zm2 0h2v2h-2zm18 0h2v2h-2zm7 0h2v2h-2zm3 0h2v2h-2zm1 0h2v2h-2zm3 0h2v2h-2zm10 0h2v2h-2zm24 0h2v2h-2zm6 0h2v2h-2zm13 0h2v2h-2zm25 0h2v2h-2zm4 0h2v2h-2zm13 0h2v2h-2zm2 0h2v2h-2zm8 0h2v2h-2zm2 0h2v2h-2zm3 0h2v2h-2zm2 0h2v2h-2zm16 0h2v2h-2zm8 0h2v2h-2zm5 0h2v2h-2zm4 0h2v2h-2zm4 0h2v2h-2zm1 0h2v2h-2zm13 0h2v2h-2zm7 0h2v2h-2zm36 0h2v2h-2zm32 0h2v2h-2zm6 0h2v2h-2zm2 0h2v2h-2zm18 0h2v2h-2zm1 0h2v2h-2zm-349 1h2v2h-2zm10 0h2v2h-2zm2 0h2v2h-2zm13 0h2v2h-2zm4 0h2v2h-2zm4 0h2v2h-2zm3 0h2v2h-2zm6 0h2v2h-2zm7 0h2v2h-2zm1 0h2v2h-2zm6 0h2v2h-2zm3 0h2v2h-2zm10 0h2v2h-2zm1 0h2v2h-2zm6 0h2v2h-2zm7 0h2v2h-2zm5 0h2v2h-2zm6 0h2v2h-2zm2 0h2v2h-2zm5 0h2v2h-2zm6 0h2v2h-2zm5 0h2v2h-2zm9 0h2v2h-2zm1 0h2v2h-2zm2 0h2v2h-2zm2 0h2v2h-2zm2 0h2v2h-2zm5 0h2v2h-2zm2 0h2v2h-2zm1 0h2v2h-2zm4 0h2v2h-2zm2 0h2v2h-2zm2 0h2v2h-2zm20 0h2v2h-2zm4 0h2v2h-2zm4 0h2v2h-2zm1 0h2v2h-2zm4 0h2v2h-2zm5 0h2v2h-2zm6 0h2v2h-2zm3 0h2v2h-2zm26 0h2v2h-2zm4 0h2v2h-2zm9 0h2v2h-2zm6 0h2v2h-2zm13 0h2v2h-2zm10 0h2v2h-2zm10 0h2v2h-2zm11 0h2v2h-2zm27 0h2v2h-2zm3 0h2v2h-2zm9 0h2v2h-2zm2 0h2v2h-2zm17 0h2v2h-2zm2 0h2v2h-2zm2 0h2v2h-2zm1 0h2v2h-2zm8 0h2v2h-2zm3 0h2v2h-2zm3 0h2v2h-2zm-351 1h2v2h-2zm1 0h2v2h-2zm4 0h2v2h-2zm2 0h2v2h-2zm18 0h2v2h-2zm10 0h2v2h-2zm4 0h2v2h-2zm10 0h2v2h-2zm2 0h2v2h-2zm7 0h2v2h-2zm6 0h2v2h-2zm2 0h2v2h-2zm7 0h2v2h-2zm4 0h2v2h-2zm3 0h2v2h-2zm1 0h2v2h-2zm5 0h2v2h-2zm4 0h2v2h-2zm13 0h2v2h-2zm7 0h2v2h-2zm23 0h2v2h-2zm6 0h2v2h-2zm11 0h2v2h-2zm16 0h2v2h-2zm2 0h2v2h-2zm3 0h2v2h-2zm26 0h2v2h-2zm17 0h2v2h-2zm1 0h2v2h-2zm13 0h2v2h-2zm7 0h2v2h-2zm18 0h2v2h-2zm8 0h2v2h-2zm3 0h2v2h-2zm2 0h2v2h-2zm1 0h2v2h-2zm2 0h2v2h-2zm29 0h2v2h-2zm10 0h2v2h-2zm4 0h2v2h-2zm4 0h2v2h-2zm4 0h2v2h-2zm3 0h2v2h-2zm6 0h2v2h-2zm1 0h2v2h-2zm4 0h2v2h-2zm4 0h2v2h-2zm1 0h2v2h-2zm1 0h2v2h-2zm3 0h2v2h-2zm3 0h2v2h-2zm-350 1h2v2h-2zm1 0h2v2h-2zm3 0h2v2h-2zm3 0h2v2h-2zm3 0h2v2h-2zm1 0h2v2h-2zm3 0h2v2h-2zm5 0h2v2h-2zm1 0h2v2h-2zm6 0h2v2h-2zm3 0h2v2h-2zm3 0h2v2h-2zm7 0h2v2h-2zm9 0h2v2h-2zm9 0h2v2h-2zm2 0h2v2h-2zm14 0h2v2h-2zm4 0h2v2h-2zm10 0h2v2h-2zm10 0h2v2h-2zm5 0h2v2h-2zm8 0h2v2h-2zm8 0h2v2h-2zm13 0h2v2h-2zm8 0h2v2h-2zm13 0h2v2h-2zm13 0h2v2h-2zm18 0h2v2h-2zm7 0h2v2h-2zm11 0h2v2h-2zm4 0h2v2h-2zm5 0h2v2h-2zm19 0h2v2h-2zm13 0h2v2h-2zm7 0h2v2h-2zm17 0h2v2h-2zm10 0h2v2h-2zm16 0h2v2h-2zm4 0h2v2h-2zm2 0h2v2h-2zm3 0h2v2h-2zm1 0h2v2h-2zm11 0h2v2h-2zm18 0h2v2h-2zm3 0h2v2h-2zm1 0h2v2h-2zm1 0h2v2h-2zm9 0h2v2h-2zm1 0h2v2h-2zm9 0h2v2h-2zm-346 1h2v2h-2zm10 0h2v2h-2zm7 0h2v2h-2zm1 0h2v2h-2zm15 0h2v2h-2zm1 0h2v2h-2zm9 0h2v2h-2zm11 0h2v2h-2zm4 0h2v2h-2zm2 0h2v2h-2zm31 0h2v2h-2zm3 0h2v2h-2zm2 0h2v2h-2zm2 0h2v2h-2zm3 0h2v2h-2zm4 0h2v2h-2zm4 0h2v2h-2zm1 0h2v2h-2zm2 0h2v2h-2zm1 0h2v2h-2zm3 0h2v2h-2zm6 0h2v2h-2zm42 0h2v2h-2zm10 0h2v2h-2zm1 0h2v2h-2zm27 0h2v2h-2zm1 0h2v2h-2zm13 0h2v2h-2zm2 0h2v2h-2zm1 0h2v2h-2zm14 0h2v2h-2zm4 0h2v2h-2zm3 0h2v2h-2zm2 0h2v2h-2zm4 0h2v2h-2zm6 0h2v2h-2zm15 0h2v2h-2zm2 0h2v2h-2zm15 0h2v2h-2zm6 0h2v2h-2zm1 0h2v2h-2zm2 0h2v2h-2zm6 0h2v2h-2zm9 0h2v2h-2zm5 0h2v2h-2zm8 0h2v2h-2zm4 0h2v2h-2zm4 0h2v2h-2zm8 0h2v2h-2zm6 0h2v2h-2zm-356 1h2v2h-2zm4 0h2v2h-2zm7 0h2v2h-2zm9 0h2v2h-2zm25 0h2v2h-2zm6 0h2v2h-2zm1 0h2v2h-2zm1 0h2v2h-2zm3 0h2v2h-2zm2 0h2v2h-2zm11 0h2v2h-2zm4 0h2v2h-2zm6 0h2v2h-2zm1 0h2v2h-2zm2 0h2v2h-2zm8 0h2v2h-2zm11 0h2v2h-2zm4 0h2v2h-2zm14 0h2v2h-2zm10 0h2v2h-2zm16 0h2v2h-2zm1 0h2v2h-2zm5 0h2v2h-2zm5 0h2v2h-2zm7 0h2v2h-2zm8 0h2v2h-2zm21 0h2v2h-2zm10 0h2v2h-2zm1 0h2v2h-2zm2 0h2v2h-2zm5 0h2v2h-2zm2 0h2v2h-2zm2 0h2v2h-2zm2 0h2v2h-2zm3 0h2v2h-2zm36 0h2v2h-2zm4 0h2v2h-2zm2 0h2v2h-2zm3 0h2v2h-2zm11 0h2v2h-2zm5 0h2v2h-2zm2 0h2v2h-2zm8 0h2v2h-2zm8 0h2v2h-2zm3 0h2v2h-2zm4 0h2v2h-2zm2 0h2v2h-2zm9 0h2v2h-2zm1 0h2v2h-2zm4 0h2v2h-2zm5 0h2v2h-2zm3 0h2v2h-2zm1 0h2v2h-2zm1 0h2v2h-2zm2 0h2v2h-2zm12 0h2v2h-2zm1 0h2v2h-2zm2 0h2v2h-2zm14 0h2v2h-2zm-359 1h2v2h-2zm22 0h2v2h-2zm3 0h2v2h-2zm8 0h2v2h-2zm7 0h2v2h-2zm10 0h2v2h-2zm1 0h2v2h-2zm5 0h2v2h-2zm8 0h2v2h-2zm5 0h2v2h-2zm4 0h2v2h-2zm1 0h2v2h-2zm9 0h2v2h-2zm9 0h2v2h-2zm3 0h2v2h-2zm2 0h2v2h-2zm9 0h2v2h-2zm25 0h2v2h-2zm3 0h2v2h-2zm2 0h2v2h-2zm6 0h2v2h-2zm9 0h2v2h-2zm6 0h2v2h-2zm4 0h2v2h-2zm1 0h2v2h-2zm21 0h2v2h-2zm10 0h2v2h-2zm7 0h2v2h-2zm1 0h2v2h-2zm3 0h2v2h-2zm3 0h2v2h-2zm31 0h2v2h-2zm4 0h2v2h-2zm10 0h2v2h-2zm4 0h2v2h-2zm13 0h2v2h-2zm1 0h2v2h-2zm2 0h2v2h-2zm18 0h2v2h-2zm6 0h2v2h-2zm6 0h2v2h-2zm10 0h2v2h-2zm2 0h2v2h-2zm2 0h2v2h-2zm11 0h2v2h-2zm4 0h2v2h-2zm8 0h2v2h-2zm3 0h2v2h-2zm2 0h2v2h-2zm2 0h2v2h-2zm4 0h2v2h-2zm-350 1h2v2h-2zm17 0h2v2h-2zm3 0h2v2h-2zm16 0h2v2h-2zm12 0h2v2h-2zm5 0h2v2h-2zm13 0h2v2h-2zm2 0h2v2h-2zm7 0h2v2h-2zm10 0h2v2h-2zm2 0h2v2h-2zm25 0h2v2h-2zm25 0h2v2h-2zm13 0h2v2h-2zm9 0h2v2h-2zm1 0h2v2h-2zm2 0h2v2h-2zm13 0h2v2h-2zm3 0h2v2h-2zm2 0h2v2h-2zm4 0h2v2h-2zm3 0h2v2h-2zm3 0h2v2h-2zm2 0h2v2h-2zm15 0h2v2h-2zm2 0h2v2h-2zm1 0h2v2h-2zm1 0h2v2h-2zm2 0h2v2h-2zm5 0h2v2h-2zm3 0h2v2h-2zm3 0h2v2h-2zm5 0h2v2h-2zm2 0h2v2h-2zm5 0h2v2h-2zm3 0h2v2h-2zm1 0h2v2h-2zm10 0h2v2h-2zm1 0h2v2h-2zm2 0h2v2h-2zm1 0h2v2h-2zm3 0h2v2h-2zm2 0h2v2h-2zm10 0h2v2h-2zm6 0h2v2h-2zm9 0h2v2h-2zm8 0h2v2h-2zm4 0h2v2h-2zm8 0h2v2h-2zm10 0h2v2h-2zm1 0h2v2h-2zm7 0h2v2h-2zm3 0h2v2h-2zm2 0h2v2h-2zm3 0h2v2h-2zm9 0h2v2h-2zm5 0h2v2h-2zm2 0h2v2h-2zm4 0h2v2h-2zm-354 1h2v2h-2zm9 0h2v2h-2zm1 0h2v2h-2zm5 0h2v2h-2zm2 0h2v2h-2zm3 0h2v2h-2zm7 0h2v2h-2zm12 0h2v2h-2zm1 0h2v2h-2zm17 0h2v2h-2zm15 0h2v2h-2zm10 0h2v2h-2zm4 0h2v2h-2zm36 0h2v2h-2zm12 0h2v2h-2zm4 0h2v2h-2zm3 0h2v2h-2zm4 0h2v2h-2zm1 0h2v2h-2zm1 0h2v2h-2zm41 0h2v2h-2zm5 0h2v2h-2zm14 0h2v2h-2zm1 0h2v2h-2zm5 0h2v2h-2zm1 0h2v2h-2zm6 0h2v2h-2zm11 0h2v2h-2zm3 0h2v2h-2zm1 0h2v2h-2zm7 0h2v2h-2zm5 0h2v2h-2zm2 0h2v2h-2zm13 0h2v2h-2zm4 0h2v2h-2zm6 0h2v2h-2zm5 0h2v2h-2zm4 0h2v2h-2zm4 0h2v2h-2zm2 0h2v2h-2zm2 0h2v2h-2zm13 0h2v2h-2zm5 0h2v2h-2zm2 0h2v2h-2zm3 0h2v2h-2zm6 0h2v2h-2zm7 0h2v2h-2zm3 0h2v2h-2zm1 0h2v2h-2zm2 0h2v2h-2zm8 0h2v2h-2zm4 0h2v2h-2zm8 0h2v2h-2zm4 0h2v2h-2zm-343 1h2v2h-2zm27 0h2v2h-2zm11 0h2v2h-2zm2 0h2v2h-2zm11 0h2v2h-2zm5 0h2v2h-2zm4 0h2v2h-2zm7 0h2v2h-2zm17 0h2v2h-2zm5 0h2v2h-2zm20 0h2v2h-2zm17 0h2v2h-2zm5 0h2v2h-2zm1 0h2v2h-2zm4 0h2v2h-2zm9 0h2v2h-2zm5 0h2v2h-2zm1 0h2v2h-2zm6 0h2v2h-2zm2 0h2v2h-2zm4 0h2v2h-2zm15 0h2v2h-2zm5 0h2v2h-2zm12 0h2v2h-2zm2 0h2v2h-2zm2 0h2v2h-2zm9 0h2v2h-2zm13 0h2v2h-2zm10 0h2v2h-2zm1 0h2v2h-2zm3 0h2v2h-2zm8 0h2v2h-2zm2 0h2v2h-2zm15 0h2v2h-2zm8 0h2v2h-2zm3 0h2v2h-2zm10 0h2v2h-2zm3 0h2v2h-2zm4 0h2v2h-2zm2 0h2v2h-2zm11 0h2v2h-2zm7 0h2v2h-2zm6 0h2v2h-2zm2 0h2v2h-2zm3 0h2v2h-2zm8 0h2v2h-2zm15 0h2v2h-2zm-344 1h2v2h-2zm1 0h2v2h-2zm1 0h2v2h-2zm18 0h2v2h-2zm23 0h2v2h-2zm1 0h2v2h-2zm3 0h2v2h-2zm27 0h2v2h-2zm40 0h2v2h-2zm16 0h2v2h-2zm7 0h2v2h-2zm13 0h2v2h-2zm7 0h2v2h-2zm17 0h2v2h-2zm7 0h2v2h-2zm4 0h2v2h-2zm5 0h2v2h-2zm1 0h2v2h-2zm9 0h2v2h-2zm1 0h2v2h-2zm3 0h2v2h-2zm8 0h2v2h-2zm4 0h2v2h-2zm16 0h2v2h-2zm4 0h2v2h-2zm10 0h2v2h-2zm2 0h2v2h-2zm5 0h2v2h-2zm11 0h2v2h-2zm8 0h2v2h-2zm18 0h2v2h-2zm2 0h2v2h-2zm5 0h2v2h-2zm5 0h2v2h-2zm1 0h2v2h-2zm20 0h2v2h-2zm5 0h2v2h-2zm4 0h2v2h-2zm4 0h2v2h-2zm9 0h2v2h-2zm8 0h2v2h-2zm-362 1h2v2h-2zm8 0h2v2h-2zm4 0h2v2h-2zm3 0h2v2h-2zm7 0h2v2h-2zm4 0h2v2h-2zm8 0h2v2h-2zm3 0h2v2h-2zm11 0h2v2h-2zm4 0h2v2h-2zm12 0h2v2h-2zm9 0h2v2h-2zm4 0h2v2h-2zm2 0h2v2h-2zm1 0h2v2h-2zm1 0h2v2h-2zm6 0h2v2h-2zm4 0h2v2h-2zm6 0h2v2h-2zm17 0h2v2h-2zm9 0h2v2h-2zm27 0h2v2h-2zm18 0h2v2h-2zm2 0h2v2h-2zm2 0h2v2h-2zm5 0h2v2h-2zm14 0h2v2h-2zm2 0h2v2h-2zm12 0h2v2h-2zm2 0h2v2h-2zm7 0h2v2h-2zm9 0h2v2h-2zm11 0h2v2h-2zm1 0h2v2h-2zm2 0h2v2h-2zm3 0h2v2h-2zm14 0h2v2h-2zm4 0h2v2h-2zm1 0h2v2h-2zm2 0h2v2h-2zm4 0h2v2h-2zm4 0h2v2h-2zm3 0h2v2h-2zm8 0h2v2h-2zm7 0h2v2h-2zm9 0h2v2h-2zm24 0h2v2h-2zm2 0h2v2h-2zm5 0h2v2h-2zm2 0h2v2h-2zm1 0h2v2h-2zm3 0h2v2h-2zm-298 1h2v2h-2zm9 0h2v2h-2zm1 0h2v2h-2zm4 0h2v2h-2zm6 0h2v2h-2zm17 0h2v2h-2zm2 0h2v2h-2zm15 0h2v2h-2zm3 0h2v2h-2zm2 0h2v2h-2zm6 0h2v2h-2zm22 0h2v2h-2zm1 0h2v2h-2zm18 0h2v2h-2zm6 0h2v2h-2zm11 0h2v2h-2zm27 0h2v2h-2zm3 0h2v2h-2zm1 0h2v2h-2zm8 0h2v2h-2zm4 0h2v2h-2zm9 0h2v2h-2zm7 0h2v2h-2zm3 0h2v2h-2zm6 0h2v2h-2zm8 0h2v2h-2zm1 0h2v2h-2zm3 0h2v2h-2zm1 0h2v2h-2zm2 0h2v2h-2zm5 0h2v2h-2zm7 0h2v2h-2zm21 0h2v2h-2zm9 0h2v2h-2zm4 0h2v2h-2zm8 0h2v2h-2zm35 0h2v2h-2zm10 0h2v2h-2zm8 0h2v2h-2zm3 0h2v2h-2zm1 0h2v2h-2zm3 0h2v2h-2zm-356 1h2v2h-2zm4 0h2v2h-2zm2 0h2v2h-2zm25 0h2v2h-2zm1 0h2v2h-2zm21 0h2v2h-2zm23 0h2v2h-2zm1 0h2v2h-2zm21 0h2v2h-2zm18 0h2v2h-2zm22 0h2v2h-2zm7 0h2v2h-2zm10 0h2v2h-2zm5 0h2v2h-2zm6 0h2v2h-2zm4 0h2v2h-2zm1 0h2v2h-2zm8 0h2v2h-2zm4 0h2v2h-2zm3 0h2v2h-2zm2 0h2v2h-2zm21 0h2v2h-2zm20 0h2v2h-2zm9 0h2v2h-2zm2 0h2v2h-2zm28 0h2v2h-2zm8 0h2v2h-2zm1 0h2v2h-2zm9 0h2v2h-2zm11 0h2v2h-2zm16 0h2v2h-2zm10 0h2v2h-2zm2 0h2v2h-2zm25 0h2v2h-2zm4 0h2v2h-2zm-346 1h2v2h-2zm7 0h2v2h-2zm6 0h2v2h-2zm15 0h2v2h-2zm15 0h2v2h-2zm2 0h2v2h-2zm5 0h2v2h-2zm18 0h2v2h-2zm1 0h2v2h-2zm17 0h2v2h-2zm30 0h2v2h-2zm9 0h2v2h-2zm13 0h2v2h-2zm1 0h2v2h-2zm3 0h2v2h-2zm9 0h2v2h-2zm35 0h2v2h-2zm5 0h2v2h-2zm2 0h2v2h-2zm1 0h2v2h-2zm11 0h2v2h-2zm21 0h2v2h-2zm4 0h2v2h-2zm9 0h2v2h-2zm29 0h2v2h-2zm7 0h2v2h-2zm4 0h2v2h-2zm2 0h2v2h-2zm15 0h2v2h-2zm9 0h2v2h-2zm16 0h2v2h-2zm4 0h2v2h-2zm-325 1h2v2h-2zm19 0h2v2h-2zm1 0h2v2h-2zm21 0h2v2h-2zm1 0h2v2h-2zm29 0h2v2h-2zm4 0h2v2h-2zm5 0h2v2h-2zm4 0h2v2h-2zm17 0h2v2h-2zm11 0h2v2h-2zm4 0h2v2h-2zm6 0h2v2h-2zm10 0h2v2h-2zm14 0h2v2h-2zm8 0h2v2h-2zm12 0h2v2h-2zm12 0h2v2h-2zm4 0h2v2h-2zm6 0h2v2h-2zm11 0h2v2h-2zm5 0h2v2h-2zm9 0h2v2h-2zm3 0h2v2h-2zm1 0h2v2h-2zm5 0h2v2h-2zm6 0h2v2h-2zm2 0h2v2h-2zm3 0h2v2h-2zm13 0h2v2h-2zm2 0h2v2h-2zm5 0h2v2h-2zm37 0h2v2h-2zm4 0h2v2h-2zm1 0h2v2h-2zm1 0h2v2h-2zm14 0h2v2h-2zm6 0h2v2h-2zm4 0h2v2h-2zm20 0h2v2h-2zm9 0h2v2h-2zm5 0h2v2h-2zm-329 1h2v2h-2zm11 0h2v2h-2zm8 0h2v2h-2zm4 0h2v2h-2zm9 0h2v2h-2zm10 0h2v2h-2zm6 0h2v2h-2zm4 0h2v2h-2zm16 0h2v2h-2zm20 0h2v2h-2zm1 0h2v2h-2zm2 0h2v2h-2zm1 0h2v2h-2zm19 0h2v2h-2zm16 0h2v2h-2zm3 0h2v2h-2zm5 0h2v2h-2zm4 0h2v2h-2zm8 0h2v2h-2zm6 0h2v2h-2zm1 0h2v2h-2zm8 0h2v2h-2zm9 0h2v2h-2zm3 0h2v2h-2zm2 0h2v2h-2zm1 0h2v2h-2zm1 0h2v2h-2zm22 0h2v2h-2zm2 0h2v2h-2zm1 0h2v2h-2zm24 0h2v2h-2zm5 0h2v2h-2zm3 0h2v2h-2zm4 0h2v2h-2zm3 0h2v2h-2zm21 0h2v2h-2zm19 0h2v2h-2zm18 0h2v2h-2zm-329 1h2v2h-2zm4 0h2v2h-2zm7 0h2v2h-2zm1 0h2v2h-2zm5 0h2v2h-2zm33 0h2v2h-2zm6 0h2v2h-2zm1 0h2v2h-2zm9 0h2v2h-2zm3 0h2v2h-2zm1 0h2v2h-2zm4 0h2v2h-2zm1 0h2v2h-2zm12 0h2v2h-2zm5 0h2v2h-2zm4 0h2v2h-2zm6 0h2v2h-2zm5 0h2v2h-2zm15 0h2v2h-2zm11 0h2v2h-2zm4 0h2v2h-2zm19 0h2v2h-2zm4 0h2v2h-2zm5 0h2v2h-2zm5 0h2v2h-2zm18 0h2v2h-2zm13 0h2v2h-2zm6 0h2v2h-2zm9 0h2v2h-2zm16 0h2v2h-2zm13 0h2v2h-2zm8 0h2v2h-2zm19 0h2v2h-2zm3 0h2v2h-2zm3 0h2v2h-2zm20 0h2v2h-2zm52 0h2v2h-2zm-346 1h2v2h-2zm8 0h2v2h-2zm8 0h2v2h-2zm7 0h2v2h-2zm13 0h2v2h-2zm17 0h2v2h-2zm17 0h2v2h-2zm10 0h2v2h-2zm11 0h2v2h-2zm2 0h2v2h-2zm5 0h2v2h-2zm8 0h2v2h-2zm1 0h2v2h-2zm1 0h2v2h-2zm17 0h2v2h-2zm5 0h2v2h-2zm11 0h2v2h-2zm1 0h2v2h-2zm10 0h2v2h-2zm9 0h2v2h-2zm1 0h2v2h-2zm11 0h2v2h-2zm2 0h2v2h-2zm2 0h2v2h-2zm6 0h2v2h-2zm15 0h2v2h-2zm5 0h2v2h-2zm12 0h2v2h-2zm9 0h2v2h-2zm1 0h2v2h-2zm5 0h2v2h-2zm26 0h2v2h-2zm4 0h2v2h-2zm4 0h2v2h-2zm10 0h2v2h-2zm18 0h2v2h-2zm3 0h2v2h-2zm43 0h2v2h-2zm-339 1h2v2h-2zm5 0h2v2h-2zm14 0h2v2h-2zm1 0h2v2h-2zm7 0h2v2h-2zm2 0h2v2h-2zm2 0h2v2h-2zm6 0h2v2h-2zm12 0h2v2h-2zm13 0h2v2h-2zm5 0h2v2h-2zm1 0h2v2h-2zm3 0h2v2h-2zm6 0h2v2h-2zm2 0h2v2h-2zm1 0h2v2h-2zm14 0h2v2h-2zm5 0h2v2h-2zm18 0h2v2h-2zm15 0h2v2h-2zm2 0h2v2h-2zm9 0h2v2h-2zm2 0h2v2h-2zm13 0h2v2h-2zm2 0h2v2h-2zm3 0h2v2h-2zm2 0h2v2h-2zm1 0h2v2h-2zm2 0h2v2h-2zm17 0h2v2h-2zm1 0h2v2h-2zm2 0h2v2h-2zm2 0h2v2h-2zm12 0h2v2h-2zm10 0h2v2h-2zm9 0h2v2h-2zm20 0h2v2h-2zm31 0h2v2h-2zm39 0h2v2h-2zm3 0h2v2h-2zm16 0h2v2h-2zm-323 1h2v2h-2zm20 0h2v2h-2zm3 0h2v2h-2zm1 0h2v2h-2zm1 0h2v2h-2zm1 0h2v2h-2zm5 0h2v2h-2zm17 0h2v2h-2zm7 0h2v2h-2zm8 0h2v2h-2zm12 0h2v2h-2zm9 0h2v2h-2zm3 0h2v2h-2zm15 0h2v2h-2zm4 0h2v2h-2zm4 0h2v2h-2zm2 0h2v2h-2zm3 0h2v2h-2zm15 0h2v2h-2zm22 0h2v2h-2zm2 0h2v2h-2zm2 0h2v2h-2zm1 0h2v2h-2zm3 0h2v2h-2zm1 0h2v2h-2zm8 0h2v2h-2zm7 0h2v2h-2zm3 0h2v2h-2zm6 0h2v2h-2zm1 0h2v2h-2zm3 0h2v2h-2zm5 0h2v2h-2zm5 0h2v2h-2zm22 0h2v2h-2zm29 0h2v2h-2zm4 0h2v2h-2zm6 0h2v2h-2zm11 0h2v2h-2zm4 0h2v2h-2zm3 0h2v2h-2zm16 0h2v2h-2zm1 0h2v2h-2zm7 0h2v2h-2zm7 0h2v2h-2zm19 0h2v2h-2zm-343 1h2v2h-2zm3 0h2v2h-2zm9 0h2v2h-2zm2 0h2v2h-2zm2 0h2v2h-2zm10 0h2v2h-2zm1 0h2v2h-2zm7 0h2v2h-2zm19 0h2v2h-2zm2 0h2v2h-2zm7 0h2v2h-2zm3 0h2v2h-2zm4 0h2v2h-2zm9 0h2v2h-2zm5 0h2v2h-2zm4 0h2v2h-2zm5 0h2v2h-2zm9 0h2v2h-2zm12 0h2v2h-2zm1 0h2v2h-2zm8 0h2v2h-2zm4 0h2v2h-2zm3 0h2v2h-2zm5 0h2v2h-2zm10 0h2v2h-2zm5 0h2v2h-2zm2 0h2v2h-2zm8 0h2v2h-2zm4 0h2v2h-2zm5 0h2v2h-2zm4 0h2v2h-2zm9 0h2v2h-2zm3 0h2v2h-2zm5 0h2v2h-2zm11 0h2v2h-2zm2 0h2v2h-2zm5 0h2v2h-2zm7 0h2v2h-2zm25 0h2v2h-2zm49 0h2v2h-2zm15 0h2v2h-2zm14 0h2v2h-2zm20 0h2v2h-2zm-325 1h2v2h-2zm4 0h2v2h-2zm8 0h2v2h-2zm4 0h2v2h-2zm8 0h2v2h-2zm1 0h2v2h-2zm4 0h2v2h-2zm8 0h2v2h-2zm3 0h2v2h-2zm2 0h2v2h-2zm4 0h2v2h-2zm2 0h2v2h-2zm7 0h2v2h-2zm9 0h2v2h-2zm5 0h2v2h-2zm14 0h2v2h-2zm7 0h2v2h-2zm12 0h2v2h-2zm4 0h2v2h-2zm4 0h2v2h-2zm3 0h2v2h-2zm1 0h2v2h-2zm7 0h2v2h-2zm1 0h2v2h-2zm7 0h2v2h-2zm1 0h2v2h-2zm16 0h2v2h-2zm1 0h2v2h-2zm9 0h2v2h-2zm14 0h2v2h-2zm1 0h2v2h-2zm6 0h2v2h-2zm2 0h2v2h-2zm15 0h2v2h-2zm4 0h2v2h-2zm26 0h2v2h-2zm1 0h2v2h-2zm2 0h2v2h-2zm3 0h2v2h-2zm12 0h2v2h-2zm12 0h2v2h-2zm8 0h2v2h-2zm3 0h2v2h-2zm4 0h2v2h-2zm2 0h2v2h-2zm14 0h2v2h-2zm4 0h2v2h-2zm16 0h2v2h-2zm2 0h2v2h-2zm26 0h2v2h-2zm5 0h2v2h-2zm5 0h2v2h-2zm5 0h2v2h-2zm-347 1h2v2h-2zm20 0h2v2h-2zm6 0h2v2h-2zm1 0h2v2h-2zm2 0h2v2h-2zm1 0h2v2h-2zm4 0h2v2h-2zm1 0h2v2h-2zm4 0h2v2h-2zm2 0h2v2h-2zm9 0h2v2h-2zm11 0h2v2h-2zm1 0h2v2h-2zm3 0h2v2h-2zm3 0h2v2h-2zm10 0h2v2h-2zm19 0h2v2h-2zm9 0h2v2h-2zm4 0h2v2h-2zm4 0h2v2h-2zm19 0h2v2h-2zm1 0h2v2h-2zm2 0h2v2h-2zm3 0h2v2h-2zm14 0h2v2h-2zm2 0h2v2h-2zm33 0h2v2h-2zm3 0h2v2h-2zm9 0h2v2h-2zm13 0h2v2h-2zm13 0h2v2h-2zm7 0h2v2h-2zm2 0h2v2h-2zm7 0h2v2h-2zm7 0h2v2h-2zm4 0h2v2h-2zm4 0h2v2h-2zm10 0h2v2h-2zm18 0h2v2h-2zm1 0h2v2h-2zm6 0h2v2h-2zm1 0h2v2h-2zm2 0h2v2h-2zm2 0h2v2h-2zm10 0h2v2h-2zm17 0h2v2h-2zm10 0h2v2h-2zm18 0h2v2h-2zm-358 1h2v2h-2zm2 0h2v2h-2zm19 0h2v2h-2zm2 0h2v2h-2zm2 0h2v2h-2zm2 0h2v2h-2zm1 0h2v2h-2zm2 0h2v2h-2zm12 0h2v2h-2zm8 0h2v2h-2zm6 0h2v2h-2zm11 0h2v2h-2zm8 0h2v2h-2zm12 0h2v2h-2zm5 0h2v2h-2zm1 0h2v2h-2zm25 0h2v2h-2zm1 0h2v2h-2zm6 0h2v2h-2zm17 0h2v2h-2zm10 0h2v2h-2zm8 0h2v2h-2zm3 0h2v2h-2zm8 0h2v2h-2zm21 0h2v2h-2zm4 0h2v2h-2zm7 0h2v2h-2zm7 0h2v2h-2zm11 0h2v2h-2zm3 0h2v2h-2zm10 0h2v2h-2zm4 0h2v2h-2zm22 0h2v2h-2zm6 0h2v2h-2zm19 0h2v2h-2zm7 0h2v2h-2zm22 0h2v2h-2zm8 0h2v2h-2zm20 0h2v2h-2zm3 0h2v2h-2zm-352 1h2v2h-2zm4 0h2v2h-2zm6 0h2v2h-2zm2 0h2v2h-2zm5 0h2v2h-2zm8 0h2v2h-2zm2 0h2v2h-2zm1 0h2v2h-2zm4 0h2v2h-2zm4 0h2v2h-2zm19 0h2v2h-2zm2 0h2v2h-2zm5 0h2v2h-2zm4 0h2v2h-2zm8 0h2v2h-2zm1 0h2v2h-2zm5 0h2v2h-2zm15 0h2v2h-2zm7 0h2v2h-2zm1 0h2v2h-2zm18 0h2v2h-2zm11 0h2v2h-2zm2 0h2v2h-2zm15 0h2v2h-2zm1 0h2v2h-2zm5 0h2v2h-2zm8 0h2v2h-2zm16 0h2v2h-2zm2 0h2v2h-2zm31 0h2v2h-2zm3 0h2v2h-2zm10 0h2v2h-2zm5 0h2v2h-2zm5 0h2v2h-2zm17 0h2v2h-2zm3 0h2v2h-2zm4 0h2v2h-2zm2 0h2v2h-2zm16 0h2v2h-2zm10 0h2v2h-2zm11 0h2v2h-2zm2 0h2v2h-2zm1 0h2v2h-2zm2 0h2v2h-2zm1 0h2v2h-2zm2 0h2v2h-2zm12 0h2v2h-2zm1 0h2v2h-2zm10 0h2v2h-2zm5 0h2v2h-2zm8 0h2v2h-2zm2 0h2v2h-2zm1 0h2v2h-2zm13 0h2v2h-2zm-344 1h2v2h-2zm14 0h2v2h-2zm3 0h2v2h-2zm7 0h2v2h-2zm1 0h2v2h-2zm20 0h2v2h-2zm8 0h2v2h-2zm1 0h2v2h-2zm4 0h2v2h-2zm23 0h2v2h-2zm11 0h2v2h-2zm4 0h2v2h-2zm9 0h2v2h-2zm1 0h2v2h-2zm1 0h2v2h-2zm5 0h2v2h-2zm4 0h2v2h-2zm1 0h2v2h-2zm25 0h2v2h-2zm8 0h2v2h-2zm8 0h2v2h-2zm17 0h2v2h-2zm1 0h2v2h-2zm3 0h2v2h-2zm2 0h2v2h-2zm18 0h2v2h-2zm6 0h2v2h-2zm14 0h2v2h-2zm6 0h2v2h-2zm38 0h2v2h-2zm16 0h2v2h-2zm20 0h2v2h-2zm8 0h2v2h-2zm1 0h2v2h-2zm21 0h2v2h-2zm1 0h2v2h-2zm9 0h2v2h-2zm1 0h2v2h-2zm-346 1h2v2h-2zm1 0h2v2h-2zm4 0h2v2h-2zm1 0h2v2h-2zm2 0h2v2h-2zm12 0h2v2h-2zm7 0h2v2h-2zm3 0h2v2h-2zm1 0h2v2h-2zm11 0h2v2h-2zm1 0h2v2h-2zm8 0h2v2h-2zm3 0h2v2h-2zm21 0h2v2h-2zm16 0h2v2h-2zm3 0h2v2h-2zm2 0h2v2h-2zm13 0h2v2h-2zm4 0h2v2h-2zm1 0h2v2h-2zm8 0h2v2h-2zm10 0h2v2h-2zm6 0h2v2h-2zm6 0h2v2h-2zm2 0h2v2h-2zm15 0h2v2h-2zm4 0h2v2h-2zm5 0h2v2h-2zm2 0h2v2h-2zm4 0h2v2h-2zm32 0h2v2h-2zm8 0h2v2h-2zm6 0h2v2h-2zm1 0h2v2h-2zm4 0h2v2h-2zm5 0h2v2h-2zm3 0h2v2h-2zm12 0h2v2h-2zm6 0h2v2h-2zm6 0h2v2h-2zm6 0h2v2h-2zm7 0h2v2h-2zm5 0h2v2h-2zm10 0h2v2h-2zm1 0h2v2h-2zm6 0h2v2h-2zm4 0h2v2h-2zm9 0h2v2h-2zm4 0h2v2h-2zm1 0h2v2h-2zm1 0h2v2h-2zm6 0h2v2h-2zm2 0h2v2h-2zm2 0h2v2h-2zm15 0h2v2h-2zm3 0h2v2h-2zm1 0h2v2h-2zm6 0h2v2h-2zm1 0h2v2h-2zm-350 1h2v2h-2zm1 0h2v2h-2zm7 0h2v2h-2zm2 0h2v2h-2zm14 0h2v2h-2zm3 0h2v2h-2zm2 0h2v2h-2zm1 0h2v2h-2zm2 0h2v2h-2zm15 0h2v2h-2zm3 0h2v2h-2zm6 0h2v2h-2zm21 0h2v2h-2zm1 0h2v2h-2zm19 0h2v2h-2zm1 0h2v2h-2zm19 0h2v2h-2zm3 0h2v2h-2zm18 0h2v2h-2zm11 0h2v2h-2zm8 0h2v2h-2zm3 0h2v2h-2zm46 0h2v2h-2zm3 0h2v2h-2zm2 0h2v2h-2zm8 0h2v2h-2zm8 0h2v2h-2zm3 0h2v2h-2zm20 0h2v2h-2zm1 0h2v2h-2zm22 0h2v2h-2zm2 0h2v2h-2zm6 0h2v2h-2zm6 0h2v2h-2zm7 0h2v2h-2zm1 0h2v2h-2zm2 0h2v2h-2zm25 0h2v2h-2zm1 0h2v2h-2zm9 0h2v2h-2zm6 0h2v2h-2zm2 0h2v2h-2zm14 0h2v2h-2zm-350 1h2v2h-2zm2 0h2v2h-2zm1 0h2v2h-2zm7 0h2v2h-2zm6 0h2v2h-2zm4 0h2v2h-2zm1 0h2v2h-2zm2 0h2v2h-2zm6 0h2v2h-2zm6 0h2v2h-2zm20 0h2v2h-2zm3 0h2v2h-2zm1 0h2v2h-2zm7 0h2v2h-2zm41 0h2v2h-2zm7 0h2v2h-2zm20 0h2v2h-2zm7 0h2v2h-2zm11 0h2v2h-2zm7 0h2v2h-2zm3 0h2v2h-2zm3 0h2v2h-2zm1 0h2v2h-2zm1 0h2v2h-2zm13 0h2v2h-2zm5 0h2v2h-2zm15 0h2v2h-2zm24 0h2v2h-2zm1 0h2v2h-2zm2 0h2v2h-2zm1 0h2v2h-2zm2 0h2v2h-2zm3 0h2v2h-2zm2 0h2v2h-2zm2 0h2v2h-2zm5 0h2v2h-2zm6 0h2v2h-2zm2 0h2v2h-2zm4 0h2v2h-2zm3 0h2v2h-2zm6 0h2v2h-2zm6 0h2v2h-2zm1 0h2v2h-2zm2 0h2v2h-2zm10 0h2v2h-2zm4 0h2v2h-2zm2 0h2v2h-2zm12 0h2v2h-2zm8 0h2v2h-2zm1 0h2v2h-2zm5 0h2v2h-2zm4 0h2v2h-2zm4 0h2v2h-2zm13 0h2v2h-2zm-343 1h2v2h-2zm5 0h2v2h-2zm1 0h2v2h-2zm1 0h2v2h-2zm21 0h2v2h-2zm1 0h2v2h-2zm1 0h2v2h-2zm4 0h2v2h-2zm19 0h2v2h-2zm2 0h2v2h-2zm1 0h2v2h-2zm6 0h2v2h-2zm9 0h2v2h-2zm1 0h2v2h-2zm3 0h2v2h-2zm7 0h2v2h-2zm10 0h2v2h-2zm5 0h2v2h-2zm15 0h2v2h-2zm1 0h2v2h-2zm7 0h2v2h-2zm1 0h2v2h-2zm16 0h2v2h-2zm14 0h2v2h-2zm11 0h2v2h-2zm36 0h2v2h-2zm3 0h2v2h-2zm21 0h2v2h-2zm7 0h2v2h-2zm3 0h2v2h-2zm3 0h2v2h-2zm3 0h2v2h-2zm2 0h2v2h-2zm11 0h2v2h-2zm3 0h2v2h-2zm6 0h2v2h-2zm7 0h2v2h-2zm4 0h2v2h-2zm2 0h2v2h-2zm2 0h2v2h-2zm3 0h2v2h-2zm4 0h2v2h-2zm18 0h2v2h-2zm3 0h2v2h-2zm5 0h2v2h-2zm20 0h2v2h-2zm1 0h2v2h-2zm16 0h2v2h-2zm1 0h2v2h-2zm2 0h2v2h-2zm3 0h2v2h-2zm-351 1h2v2h-2zm6 0h2v2h-2zm1 0h2v2h-2zm1 0h2v2h-2zm4 0h2v2h-2zm53 0h2v2h-2zm9 0h2v2h-2zm21 0h2v2h-2zm5 0h2v2h-2zm5 0h2v2h-2zm4 0h2v2h-2zm16 0h2v2h-2zm16 0h2v2h-2zm10 0h2v2h-2zm6 0h2v2h-2zm9 0h2v2h-2zm6 0h2v2h-2zm14 0h2v2h-2zm4 0h2v2h-2zm4 0h2v2h-2zm5 0h2v2h-2zm17 0h2v2h-2zm2 0h2v2h-2zm1 0h2v2h-2zm3 0h2v2h-2zm2 0h2v2h-2zm5 0h2v2h-2zm4 0h2v2h-2zm1 0h2v2h-2zm5 0h2v2h-2zm1 0h2v2h-2zm5 0h2v2h-2zm2 0h2v2h-2zm16 0h2v2h-2zm16 0h2v2h-2zm2 0h2v2h-2zm1 0h2v2h-2zm3 0h2v2h-2zm3 0h2v2h-2zm12 0h2v2h-2zm1 0h2v2h-2zm1 0h2v2h-2zm1 0h2v2h-2zm3 0h2v2h-2zm9 0h2v2h-2zm9 0h2v2h-2zm1 0h2v2h-2zm4 0h2v2h-2zm17 0h2v2h-2zm4 0h2v2h-2zm7 0h2v2h-2zm-359 1h2v2h-2zm5 0h2v2h-2zm3 0h2v2h-2zm7 0h2v2h-2zm19 0h2v2h-2zm1 0h2v2h-2zm6 0h2v2h-2zm2 0h2v2h-2zm9 0h2v2h-2zm2 0h2v2h-2zm5 0h2v2h-2zm9 0h2v2h-2zm7 0h2v2h-2zm9 0h2v2h-2zm21 0h2v2h-2zm4 0h2v2h-2zm17 0h2v2h-2zm1 0h2v2h-2zm27 0h2v2h-2zm11 0h2v2h-2zm2 0h2v2h-2zm3 0h2v2h-2zm6 0h2v2h-2zm4 0h2v2h-2zm2 0h2v2h-2zm7 0h2v2h-2zm6 0h2v2h-2zm10 0h2v2h-2zm5 0h2v2h-2zm1 0h2v2h-2zm6 0h2v2h-2zm14 0h2v2h-2zm6 0h2v2h-2zm2 0h2v2h-2zm4 0h2v2h-2zm7 0h2v2h-2zm9 0h2v2h-2zm6 0h2v2h-2zm3 0h2v2h-2zm4 0h2v2h-2zm9 0h2v2h-2zm2 0h2v2h-2zm1 0h2v2h-2zm6 0h2v2h-2zm3 0h2v2h-2zm5 0h2v2h-2zm2 0h2v2h-2zm12 0h2v2h-2zm2 0h2v2h-2zm4 0h2v2h-2zm3 0h2v2h-2zm8 0h2v2h-2zm2 0h2v2h-2zm4 0h2v2h-2zm5 0h2v2h-2zm7 0h2v2h-2zm2 0h2v2h-2zm13 0h2v2h-2zm-346 1h2v2h-2zm7 0h2v2h-2zm8 0h2v2h-2zm1 0h2v2h-2zm7 0h2v2h-2zm1 0h2v2h-2zm6 0h2v2h-2zm13 0h2v2h-2zm43 0h2v2h-2zm42 0h2v2h-2zm18 0h2v2h-2zm3 0h2v2h-2zm2 0h2v2h-2zm9 0h2v2h-2zm8 0h2v2h-2zm6 0h2v2h-2zm17 0h2v2h-2zm2 0h2v2h-2zm2 0h2v2h-2zm6 0h2v2h-2zm6 0h2v2h-2zm7 0h2v2h-2zm2 0h2v2h-2zm19 0h2v2h-2zm8 0h2v2h-2zm4 0h2v2h-2zm3 0h2v2h-2zm4 0h2v2h-2zm9 0h2v2h-2zm3 0h2v2h-2zm3 0h2v2h-2zm5 0h2v2h-2zm8 0h2v2h-2zm2 0h2v2h-2zm2 0h2v2h-2zm1 0h2v2h-2zm15 0h2v2h-2zm3 0h2v2h-2zm9 0h2v2h-2zm12 0h2v2h-2zm8 0h2v2h-2zm1 0h2v2h-2zm-351 1h2v2h-2zm9 0h2v2h-2zm2 0h2v2h-2zm3 0h2v2h-2zm1 0h2v2h-2zm1 0h2v2h-2zm10 0h2v2h-2zm25 0h2v2h-2zm1 0h2v2h-2zm8 0h2v2h-2zm1 0h2v2h-2zm2 0h2v2h-2zm12 0h2v2h-2zm23 0h2v2h-2zm5 0h2v2h-2zm18 0h2v2h-2zm5 0h2v2h-2zm5 0h2v2h-2zm7 0h2v2h-2zm10 0h2v2h-2zm24 0h2v2h-2zm6 0h2v2h-2zm2 0h2v2h-2zm4 0h2v2h-2zm21 0h2v2h-2zm1 0h2v2h-2zm1 0h2v2h-2zm4 0h2v2h-2zm39 0h2v2h-2zm10 0h2v2h-2zm18 0h2v2h-2zm5 0h2v2h-2zm7 0h2v2h-2zm1 0h2v2h-2zm10 0h2v2h-2zm9 0h2v2h-2zm5 0h2v2h-2zm1 0h2v2h-2zm14 0h2v2h-2zm2 0h2v2h-2zm5 0h2v2h-2zm4 0h2v2h-2zm3 0h2v2h-2zm2 0h2v2h-2zm2 0h2v2h-2zm-308 1h2v2h-2zm2 0h2v2h-2zm14 0h2v2h-2zm2 0h2v2h-2zm9 0h2v2h-2zm30 0h2v2h-2zm15 0h2v2h-2zm4 0h2v2h-2zm3 0h2v2h-2zm18 0h2v2h-2zm3 0h2v2h-2zm22 0h2v2h-2zm1 0h2v2h-2zm3 0h2v2h-2zm3 0h2v2h-2zm14 0h2v2h-2zm22 0h2v2h-2zm1 0h2v2h-2zm2 0h2v2h-2zm14 0h2v2h-2zm12 0h2v2h-2zm4 0h2v2h-2zm19 0h2v2h-2zm2 0h2v2h-2zm5 0h2v2h-2zm5 0h2v2h-2zm3 0h2v2h-2zm20 0h2v2h-2zm16 0h2v2h-2zm1 0h2v2h-2zm8 0h2v2h-2zm4 0h2v2h-2zm8 0h2v2h-2zm3 0h2v2h-2zm16 0h2v2h-2zm6 0h2v2h-2zm7 0h2v2h-2zm-341 1h2v2h-2zm6 0h2v2h-2zm9 0h2v2h-2zm7 0h2v2h-2zm24 0h2v2h-2zm10 0h2v2h-2zm3 0h2v2h-2zm2 0h2v2h-2zm4 0h2v2h-2zm6 0h2v2h-2zm5 0h2v2h-2zm31 0h2v2h-2zm3 0h2v2h-2zm23 0h2v2h-2zm8 0h2v2h-2zm4 0h2v2h-2zm2 0h2v2h-2zm4 0h2v2h-2zm12 0h2v2h-2zm4 0h2v2h-2zm5 0h2v2h-2zm1 0h2v2h-2zm2 0h2v2h-2zm5 0h2v2h-2zm11 0h2v2h-2zm9 0h2v2h-2zm11 0h2v2h-2zm1 0h2v2h-2zm39 0h2v2h-2zm5 0h2v2h-2zm2 0h2v2h-2zm2 0h2v2h-2zm1 0h2v2h-2zm2 0h2v2h-2zm2 0h2v2h-2zm22 0h2v2h-2zm6 0h2v2h-2zm11 0h2v2h-2zm18 0h2v2h-2zm1 0h2v2h-2zm5 0h2v2h-2zm2 0h2v2h-2zm5 0h2v2h-2zm-342 1h2v2h-2zm13 0h2v2h-2zm1 0h2v2h-2zm2 0h2v2h-2zm25 0h2v2h-2zm6 0h2v2h-2zm18 0h2v2h-2zm1 0h2v2h-2zm3 0h2v2h-2zm1 0h2v2h-2zm25 0h2v2h-2zm24 0h2v2h-2zm10 0h2v2h-2zm2 0h2v2h-2zm1 0h2v2h-2zm20 0h2v2h-2zm8 0h2v2h-2zm2 0h2v2h-2zm38 0h2v2h-2zm2 0h2v2h-2zm1 0h2v2h-2zm4 0h2v2h-2zm1 0h2v2h-2zm13 0h2v2h-2zm1 0h2v2h-2zm3 0h2v2h-2zm1 0h2v2h-2zm9 0h2v2h-2zm5 0h2v2h-2zm38 0h2v2h-2zm26 0h2v2h-2zm9 0h2v2h-2zm1 0h2v2h-2zm3 0h2v2h-2zm8 0h2v2h-2zm4 0h2v2h-2zm2 0h2v2h-2zm3 0h2v2h-2zm4 0h2v2h-2zm-337 1h2v2h-2zm20 0h2v2h-2zm8 0h2v2h-2zm5 0h2v2h-2zm8 0h2v2h-2zm10 0h2v2h-2zm16 0h2v2h-2zm5 0h2v2h-2zm6 0h2v2h-2zm12 0h2v2h-2zm1 0h2v2h-2zm9 0h2v2h-2zm6 0h2v2h-2zm7 0h2v2h-2zm19 0h2v2h-2zm2 0h2v2h-2zm2 0h2v2h-2zm20 0h2v2h-2zm1 0h2v2h-2zm18 0h2v2h-2zm18 0h2v2h-2zm2 0h2v2h-2zm2 0h2v2h-2zm25 0h2v2h-2zm12 0h2v2h-2zm6 0h2v2h-2zm3 0h2v2h-2zm11 0h2v2h-2zm3 0h2v2h-2zm7 0h2v2h-2zm32 0h2v2h-2zm6 0h2v2h-2zm17 0h2v2h-2zm19 0h2v2h-2zm7 0h2v2h-2zm-356 1h2v2h-2zm3 0h2v2h-2zm4 0h2v2h-2zm1 0h2v2h-2zm5 0h2v2h-2zm1 0h2v2h-2zm8 0h2v2h-2zm19 0h2v2h-2zm12 0h2v2h-2zm5 0h2v2h-2zm11 0h2v2h-2zm5 0h2v2h-2zm8 0h2v2h-2zm2 0h2v2h-2zm8 0h2v2h-2zm2 0h2v2h-2zm5 0h2v2h-2zm11 0h2v2h-2zm24 0h2v2h-2zm8 0h2v2h-2zm8 0h2v2h-2zm3 0h2v2h-2zm3 0h2v2h-2zm4 0h2v2h-2zm2 0h2v2h-2zm14 0h2v2h-2zm1 0h2v2h-2zm13 0h2v2h-2zm4 0h2v2h-2zm9 0h2v2h-2zm4 0h2v2h-2zm6 0h2v2h-2zm15 0h2v2h-2zm4 0h2v2h-2zm14 0h2v2h-2zm9 0h2v2h-2zm8 0h2v2h-2zm3 0h2v2h-2zm33 0h2v2h-2zm7 0h2v2h-2zm8 0h2v2h-2zm5 0h2v2h-2zm1 0h2v2h-2zm5 0h2v2h-2zm4 0h2v2h-2zm1 0h2v2h-2zm1 0h2v2h-2zm6 0h2v2h-2zm2 0h2v2h-2zm-338 1h2v2h-2zm5 0h2v2h-2zm8 0h2v2h-2zm6 0h2v2h-2zm7 0h2v2h-2zm1 0h2v2h-2zm3 0h2v2h-2zm2 0h2v2h-2zm16 0h2v2h-2zm1 0h2v2h-2zm8 0h2v2h-2zm6 0h2v2h-2zm11 0h2v2h-2zm4 0h2v2h-2zm9 0h2v2h-2zm6 0h2v2h-2zm1 0h2v2h-2zm4 0h2v2h-2zm3 0h2v2h-2zm4 0h2v2h-2zm13 0h2v2h-2zm1 0h2v2h-2zm9 0h2v2h-2zm2 0h2v2h-2zm3 0h2v2h-2zm8 0h2v2h-2zm2 0h2v2h-2zm16 0h2v2h-2zm2 0h2v2h-2zm1 0h2v2h-2zm2 0h2v2h-2zm2 0h2v2h-2zm6 0h2v2h-2zm8 0h2v2h-2zm21 0h2v2h-2zm9 0h2v2h-2zm1 0h2v2h-2zm13 0h2v2h-2zm13 0h2v2h-2zm6 0h2v2h-2zm15 0h2v2h-2zm39 0h2v2h-2zm20 0h2v2h-2zm3 0h2v2h-2zm18 0h2v2h-2zm-330 1h2v2h-2zm2 0h2v2h-2zm2 0h2v2h-2zm1 0h2v2h-2zm1 0h2v2h-2zm5 0h2v2h-2zm4 0h2v2h-2zm13 0h2v2h-2zm4 0h2v2h-2zm8 0h2v2h-2zm1 0h2v2h-2zm9 0h2v2h-2zm4 0h2v2h-2zm1 0h2v2h-2zm1 0h2v2h-2zm2 0h2v2h-2zm16 0h2v2h-2zm9 0h2v2h-2zm6 0h2v2h-2zm4 0h2v2h-2zm5 0h2v2h-2zm15 0h2v2h-2zm1 0h2v2h-2zm7 0h2v2h-2zm9 0h2v2h-2zm10 0h2v2h-2zm12 0h2v2h-2zm1 0h2v2h-2zm9 0h2v2h-2zm12 0h2v2h-2zm1 0h2v2h-2zm4 0h2v2h-2zm24 0h2v2h-2zm2 0h2v2h-2zm4 0h2v2h-2zm2 0h2v2h-2zm4 0h2v2h-2zm5 0h2v2h-2zm4 0h2v2h-2zm18 0h2v2h-2zm1 0h2v2h-2zm4 0h2v2h-2zm17 0h2v2h-2zm3 0h2v2h-2zm8 0h2v2h-2zm1 0h2v2h-2zm24 0h2v2h-2zm1 0h2v2h-2zm10 0h2v2h-2zm35 0h2v2h-2zm-353 1h2v2h-2zm7 0h2v2h-2zm3 0h2v2h-2zm15 0h2v2h-2zm7 0h2v2h-2zm2 0h2v2h-2zm4 0h2v2h-2zm9 0h2v2h-2zm1 0h2v2h-2zm14 0h2v2h-2zm5 0h2v2h-2zm5 0h2v2h-2zm14 0h2v2h-2zm4 0h2v2h-2zm2 0h2v2h-2zm23 0h2v2h-2zm23 0h2v2h-2zm2 0h2v2h-2zm1 0h2v2h-2zm16 0h2v2h-2zm7 0h2v2h-2zm2 0h2v2h-2zm1 0h2v2h-2zm8 0h2v2h-2zm2 0h2v2h-2zm8 0h2v2h-2zm3 0h2v2h-2zm6 0h2v2h-2zm7 0h2v2h-2zm3 0h2v2h-2zm49 0h2v2h-2zm5 0h2v2h-2zm16 0h2v2h-2zm2 0h2v2h-2zm20 0h2v2h-2zm3 0h2v2h-2zm30 0h2v2h-2zm14 0h2v2h-2zm5 0h2v2h-2zm-359 1h2v2h-2zm12 0h2v2h-2zm30 0h2v2h-2zm15 0h2v2h-2zm11 0h2v2h-2zm5 0h2v2h-2zm8 0h2v2h-2zm4 0h2v2h-2zm4 0h2v2h-2zm21 0h2v2h-2zm6 0h2v2h-2zm4 0h2v2h-2zm8 0h2v2h-2zm23 0h2v2h-2zm4 0h2v2h-2zm6 0h2v2h-2zm1 0h2v2h-2zm18 0h2v2h-2zm3 0h2v2h-2zm7 0h2v2h-2zm17 0h2v2h-2zm14 0h2v2h-2zm27 0h2v2h-2zm4 0h2v2h-2zm21 0h2v2h-2zm15 0h2v2h-2zm1 0h2v2h-2zm8 0h2v2h-2zm6 0h2v2h-2zm3 0h2v2h-2zm1 0h2v2h-2zm1 0h2v2h-2zm14 0h2v2h-2zm8 0h2v2h-2zm13 0h2v2h-2zm14 0h2v2h-2zm-345 1h2v2h-2zm1 0h2v2h-2zm1 0h2v2h-2zm3 0h2v2h-2zm1 0h2v2h-2zm2 0h2v2h-2zm10 0h2v2h-2zm14 0h2v2h-2zm3 0h2v2h-2zm16 0h2v2h-2zm2 0h2v2h-2zm22 0h2v2h-2zm14 0h2v2h-2zm1 0h2v2h-2zm24 0h2v2h-2zm4 0h2v2h-2zm2 0h2v2h-2zm1 0h2v2h-2zm3 0h2v2h-2zm13 0h2v2h-2zm2 0h2v2h-2zm4 0h2v2h-2zm8 0h2v2h-2zm14 0h2v2h-2zm10 0h2v2h-2zm7 0h2v2h-2zm8 0h2v2h-2zm22 0h2v2h-2zm9 0h2v2h-2zm4 0h2v2h-2zm8 0h2v2h-2zm11 0h2v2h-2zm24 0h2v2h-2zm21 0h2v2h-2zm11 0h2v2h-2zm4 0h2v2h-2zm5 0h2v2h-2zm4 0h2v2h-2zm3 0h2v2h-2zm10 0h2v2h-2zm15 0h2v2h-2zm1 0h2v2h-2zm4 0h2v2h-2zm6 0h2v2h-2zm-357 1h2v2h-2zm5 0h2v2h-2zm25 0h2v2h-2zm2 0h2v2h-2zm3 0h2v2h-2zm20 0h2v2h-2zm4 0h2v2h-2zm11 0h2v2h-2zm51 0h2v2h-2zm3 0h2v2h-2zm10 0h2v2h-2zm1 0h2v2h-2zm17 0h2v2h-2zm6 0h2v2h-2zm14 0h2v2h-2zm17 0h2v2h-2zm6 0h2v2h-2zm5 0h2v2h-2zm9 0h2v2h-2zm4 0h2v2h-2zm2 0h2v2h-2zm4 0h2v2h-2zm17 0h2v2h-2zm14 0h2v2h-2zm20 0h2v2h-2zm14 0h2v2h-2zm19 0h2v2h-2zm1 0h2v2h-2zm4 0h2v2h-2zm2 0h2v2h-2zm8 0h2v2h-2zm5 0h2v2h-2zm1 0h2v2h-2zm1 0h2v2h-2zm3 0h2v2h-2zm1 0h2v2h-2zm5 0h2v2h-2zm9 0h2v2h-2zm-339 1h2v2h-2zm35 0h2v2h-2zm17 0h2v2h-2zm4 0h2v2h-2zm8 0h2v2h-2zm8 0h2v2h-2zm4 0h2v2h-2zm6 0h2v2h-2zm2 0h2v2h-2zm9 0h2v2h-2zm2 0h2v2h-2zm2 0h2v2h-2zm2 0h2v2h-2zm4 0h2v2h-2zm3 0h2v2h-2zm1 0h2v2h-2zm1 0h2v2h-2zm5 0h2v2h-2zm8 0h2v2h-2zm1 0h2v2h-2zm3 0h2v2h-2zm2 0h2v2h-2zm10 0h2v2h-2zm4 0h2v2h-2zm14 0h2v2h-2zm9 0h2v2h-2zm3 0h2v2h-2zm17 0h2v2h-2zm17 0h2v2h-2zm32 0h2v2h-2zm17 0h2v2h-2zm9 0h2v2h-2zm16 0h2v2h-2zm4 0h2v2h-2zm1 0h2v2h-2zm11 0h2v2h-2zm8 0h2v2h-2zm44 0h2v2h-2zm-338 1h2v2h-2zm7 0h2v2h-2zm1 0h2v2h-2zm7 0h2v2h-2zm6 0h2v2h-2zm4 0h2v2h-2zm1 0h2v2h-2zm6 0h2v2h-2zm33 0h2v2h-2zm2 0h2v2h-2zm5 0h2v2h-2zm1 0h2v2h-2zm5 0h2v2h-2zm8 0h2v2h-2zm4 0h2v2h-2zm4 0h2v2h-2zm5 0h2v2h-2zm5 0h2v2h-2zm9 0h2v2h-2zm9 0h2v2h-2zm15 0h2v2h-2zm2 0h2v2h-2zm22 0h2v2h-2zm17 0h2v2h-2zm2 0h2v2h-2zm22 0h2v2h-2zm15 0h2v2h-2zm5 0h2v2h-2zm27 0h2v2h-2zm3 0h2v2h-2zm16 0h2v2h-2zm9 0h2v2h-2zm5 0h2v2h-2zm11 0h2v2h-2zm2 0h2v2h-2zm3 0h2v2h-2zm12 0h2v2h-2zm18 0h2v2h-2zm3 0h2v2h-2zm7 0h2v2h-2zm2 0h2v2h-2zm3 0h2v2h-2zm-355 1h2v2h-2zm16 0h2v2h-2zm1 0h2v2h-2zm19 0h2v2h-2zm2 0h2v2h-2zm24 0h2v2h-2zm7 0h2v2h-2zm8 0h2v2h-2zm2 0h2v2h-2zm10 0h2v2h-2zm4 0h2v2h-2zm7 0h2v2h-2zm14 0h2v2h-2zm11 0h2v2h-2zm8 0h2v2h-2zm1 0h2v2h-2zm10 0h2v2h-2zm14 0h2v2h-2zm6 0h2v2h-2zm7 0h2v2h-2zm1 0h2v2h-2zm1 0h2v2h-2zm30 0h2v2h-2zm12 0h2v2h-2zm4 0h2v2h-2zm1 0h2v2h-2zm21 0h2v2h-2zm2 0h2v2h-2zm35 0h2v2h-2zm1 0h2v2h-2zm5 0h2v2h-2zm18 0h2v2h-2zm2 0h2v2h-2zm9 0h2v2h-2zm10 0h2v2h-2zm3 0h2v2h-2zm2 0h2v2h-2zm1 0h2v2h-2zm4 0h2v2h-2zm2 0h2v2h-2zm1 0h2v2h-2zm2 0h2v2h-2zm10 0h2v2h-2zm1 0h2v2h-2zm1 0h2v2h-2zm17 0h2v2h-2zm-356 1h2v2h-2zm7 0h2v2h-2zm3 0h2v2h-2zm7 0h2v2h-2zm1 0h2v2h-2zm12 0h2v2h-2zm12 0h2v2h-2zm9 0h2v2h-2zm2 0h2v2h-2zm1 0h2v2h-2zm5 0h2v2h-2zm2 0h2v2h-2zm15 0h2v2h-2zm2 0h2v2h-2zm23 0h2v2h-2zm8 0h2v2h-2zm16 0h2v2h-2zm12 0h2v2h-2zm5 0h2v2h-2zm2 0h2v2h-2zm7 0h2v2h-2zm12 0h2v2h-2zm3 0h2v2h-2zm17 0h2v2h-2zm6 0h2v2h-2zm7 0h2v2h-2zm2 0h2v2h-2zm6 0h2v2h-2zm16 0h2v2h-2zm1 0h2v2h-2zm26 0h2v2h-2zm1 0h2v2h-2zm15 0h2v2h-2zm2 0h2v2h-2zm2 0h2v2h-2zm4 0h2v2h-2zm5 0h2v2h-2zm15 0h2v2h-2zm1 0h2v2h-2zm4 0h2v2h-2zm11 0h2v2h-2zm12 0h2v2h-2zm13 0h2v2h-2zm4 0h2v2h-2zm-340 1h2v2h-2zm3 0h2v2h-2zm6 0h2v2h-2zm3 0h2v2h-2zm4 0h2v2h-2zm2 0h2v2h-2zm6 0h2v2h-2zm1 0h2v2h-2zm1 0h2v2h-2zm2 0h2v2h-2zm1 0h2v2h-2zm6 0h2v2h-2zm4 0h2v2h-2zm10 0h2v2h-2zm6 0h2v2h-2zm13 0h2v2h-2zm20 0h2v2h-2zm2 0h2v2h-2zm3 0h2v2h-2zm9 0h2v2h-2zm19 0h2v2h-2zm3 0h2v2h-2zm23 0h2v2h-2zm9 0h2v2h-2zm8 0h2v2h-2zm6 0h2v2h-2zm10 0h2v2h-2zm30 0h2v2h-2zm1 0h2v2h-2zm20 0h2v2h-2zm2 0h2v2h-2zm1 0h2v2h-2zm3 0h2v2h-2zm7 0h2v2h-2zm27 0h2v2h-2zm6 0h2v2h-2zm2 0h2v2h-2zm4 0h2v2h-2zm3 0h2v2h-2zm2 0h2v2h-2zm3 0h2v2h-2zm2 0h2v2h-2zm2 0h2v2h-2zm5 0h2v2h-2zm9 0h2v2h-2zm11 0h2v2h-2zm2 0h2v2h-2zm2 0h2v2h-2zm8 0h2v2h-2zm15 0h2v2h-2zm8 0h2v2h-2zm-359 1h2v2h-2zm5 0h2v2h-2zm1 0h2v2h-2zm4 0h2v2h-2zm20 0h2v2h-2zm1 0h2v2h-2zm3 0h2v2h-2zm2 0h2v2h-2zm1 0h2v2h-2zm2 0h2v2h-2zm9 0h2v2h-2zm5 0h2v2h-2zm1 0h2v2h-2zm1 0h2v2h-2zm23 0h2v2h-2zm2 0h2v2h-2zm4 0h2v2h-2zm17 0h2v2h-2zm26 0h2v2h-2zm23 0h2v2h-2zm8 0h2v2h-2zm13 0h2v2h-2zm24 0h2v2h-2zm34 0h2v2h-2zm3 0h2v2h-2zm2 0h2v2h-2zm1 0h2v2h-2zm5 0h2v2h-2zm14 0h2v2h-2zm10 0h2v2h-2zm1 0h2v2h-2zm14 0h2v2h-2zm23 0h2v2h-2zm3 0h2v2h-2zm8 0h2v2h-2zm10 0h2v2h-2zm3 0h2v2h-2zm10 0h2v2h-2zm2 0h2v2h-2zm6 0h2v2h-2zm1 0h2v2h-2zm1 0h2v2h-2zm1 0h2v2h-2zm1 0h2v2h-2zm1 0h2v2h-2zm4 0h2v2h-2zm2 0h2v2h-2zm-343 1h2v2h-2zm16 0h2v2h-2zm28 0h2v2h-2zm3 0h2v2h-2zm6 0h2v2h-2zm11 0h2v2h-2zm5 0h2v2h-2zm2 0h2v2h-2zm4 0h2v2h-2zm7 0h2v2h-2zm30 0h2v2h-2zm2 0h2v2h-2zm2 0h2v2h-2zm2 0h2v2h-2zm31 0h2v2h-2zm22 0h2v2h-2zm33 0h2v2h-2zm14 0h2v2h-2zm4 0h2v2h-2zm3 0h2v2h-2zm2 0h2v2h-2zm2 0h2v2h-2zm10 0h2v2h-2zm5 0h2v2h-2zm3 0h2v2h-2zm7 0h2v2h-2zm1 0h2v2h-2zm8 0h2v2h-2zm1 0h2v2h-2zm7 0h2v2h-2zm7 0h2v2h-2zm6 0h2v2h-2zm8 0h2v2h-2zm17 0h2v2h-2zm12 0h2v2h-2zm8 0h2v2h-2zm14 0h2v2h-2zm3 0h2v2h-2zm-361 1h2v2h-2zm14 0h2v2h-2zm4 0h2v2h-2zm1 0h2v2h-2zm5 0h2v2h-2zm3 0h2v2h-2zm14 0h2v2h-2zm12 0h2v2h-2zm44 0h2v2h-2zm42 0h2v2h-2zm9 0h2v2h-2zm6 0h2v2h-2zm6 0h2v2h-2zm8 0h2v2h-2zm20 0h2v2h-2zm4 0h2v2h-2zm5 0h2v2h-2zm14 0h2v2h-2zm1 0h2v2h-2zm3 0h2v2h-2zm1 0h2v2h-2zm36 0h2v2h-2zm3 0h2v2h-2zm5 0h2v2h-2zm5 0h2v2h-2zm13 0h2v2h-2zm8 0h2v2h-2zm14 0h2v2h-2zm6 0h2v2h-2zm10 0h2v2h-2zm11 0h2v2h-2zm2 0h2v2h-2zm2 0h2v2h-2zm12 0h2v2h-2zm4 0h2v2h-2zm3 0h2v2h-2zm4 0h2v2h-2zm1 0h2v2h-2zm1 0h2v2h-2zm1 0h2v2h-2zm5 0h2v2h-2zm-350 1h2v2h-2zm2 0h2v2h-2zm6 0h2v2h-2zm2 0h2v2h-2zm1 0h2v2h-2zm12 0h2v2h-2zm2 0h2v2h-2zm3 0h2v2h-2zm14 0h2v2h-2zm17 0h2v2h-2zm13 0h2v2h-2zm23 0h2v2h-2zm14 0h2v2h-2zm1 0h2v2h-2zm1 0h2v2h-2zm2 0h2v2h-2zm29 0h2v2h-2zm4 0h2v2h-2zm11 0h2v2h-2zm9 0h2v2h-2zm8 0h2v2h-2zm8 0h2v2h-2zm7 0h2v2h-2zm3 0h2v2h-2zm14 0h2v2h-2zm25 0h2v2h-2zm11 0h2v2h-2zm2 0h2v2h-2zm1 0h2v2h-2zm3 0h2v2h-2zm2 0h2v2h-2zm2 0h2v2h-2zm19 0h2v2h-2zm1 0h2v2h-2zm4 0h2v2h-2zm3 0h2v2h-2zm2 0h2v2h-2zm7 0h2v2h-2zm3 0h2v2h-2zm6 0h2v2h-2zm9 0h2v2h-2zm1 0h2v2h-2zm8 0h2v2h-2zm11 0h2v2h-2zm3 0h2v2h-2zm7 0h2v2h-2zm1 0h2v2h-2zm2 0h2v2h-2zm13 0h2v2h-2zm-351 1h2v2h-2zm12 0h2v2h-2zm16 0h2v2h-2zm6 0h2v2h-2zm9 0h2v2h-2zm16 0h2v2h-2zm5 0h2v2h-2zm5 0h2v2h-2zm8 0h2v2h-2zm34 0h2v2h-2zm21 0h2v2h-2zm5 0h2v2h-2zm12 0h2v2h-2zm6 0h2v2h-2zm17 0h2v2h-2zm4 0h2v2h-2zm5 0h2v2h-2zm6 0h2v2h-2zm9 0h2v2h-2zm3 0h2v2h-2zm9 0h2v2h-2zm15 0h2v2h-2zm1 0h2v2h-2zm1 0h2v2h-2zm1 0h2v2h-2zm1 0h2v2h-2zm7 0h2v2h-2zm11 0h2v2h-2zm2 0h2v2h-2zm6 0h2v2h-2zm1 0h2v2h-2zm1 0h2v2h-2zm10 0h2v2h-2zm6 0h2v2h-2zm7 0h2v2h-2zm14 0h2v2h-2zm9 0h2v2h-2zm9 0h2v2h-2zm8 0h2v2h-2zm1 0h2v2h-2zm3 0h2v2h-2zm4 0h2v2h-2zm5 0h2v2h-2zm8 0h2v2h-2zm-331 1h2v2h-2zm11 0h2v2h-2zm6 0h2v2h-2zm4 0h2v2h-2zm5 0h2v2h-2zm4 0h2v2h-2zm22 0h2v2h-2zm22 0h2v2h-2zm3 0h2v2h-2zm13 0h2v2h-2zm2 0h2v2h-2zm16 0h2v2h-2zm7 0h2v2h-2zm9 0h2v2h-2zm20 0h2v2h-2zm22 0h2v2h-2zm10 0h2v2h-2zm1 0h2v2h-2zm3 0h2v2h-2zm21 0h2v2h-2zm1 0h2v2h-2zm2 0h2v2h-2zm1 0h2v2h-2zm4 0h2v2h-2zm5 0h2v2h-2zm2 0h2v2h-2zm2 0h2v2h-2zm1 0h2v2h-2zm3 0h2v2h-2zm1 0h2v2h-2zm9 0h2v2h-2zm5 0h2v2h-2zm13 0h2v2h-2zm1 0h2v2h-2zm6 0h2v2h-2zm5 0h2v2h-2zm21 0h2v2h-2zm19 0h2v2h-2zm3 0h2v2h-2zm4 0h2v2h-2zm4 0h2v2h-2zm3 0h2v2h-2zm7 0h2v2h-2zm3 0h2v2h-2zm5 0h2v2h-2zm-343 1h2v2h-2zm3 0h2v2h-2zm7 0h2v2h-2zm20 0h2v2h-2zm8 0h2v2h-2zm8 0h2v2h-2zm3 0h2v2h-2zm3 0h2v2h-2zm12 0h2v2h-2zm8 0h2v2h-2zm43 0h2v2h-2zm15 0h2v2h-2zm2 0h2v2h-2zm2 0h2v2h-2zm4 0h2v2h-2zm10 0h2v2h-2zm15 0h2v2h-2zm3 0h2v2h-2zm1 0h2v2h-2zm3 0h2v2h-2zm12 0h2v2h-2zm1 0h2v2h-2zm1 0h2v2h-2zm3 0h2v2h-2zm2 0h2v2h-2zm3 0h2v2h-2zm3 0h2v2h-2zm3 0h2v2h-2zm6 0h2v2h-2zm5 0h2v2h-2zm13 0h2v2h-2zm11 0h2v2h-2zm11 0h2v2h-2zm2 0h2v2h-2zm12 0h2v2h-2zm15 0h2v2h-2zm20 0h2v2h-2zm1 0h2v2h-2zm1 0h2v2h-2zm3 0h2v2h-2zm1 0h2v2h-2zm10 0h2v2h-2zm-325 1h2v2h-2zm16 0h2v2h-2zm5 0h2v2h-2zm1 0h2v2h-2zm1 0h2v2h-2zm11 0h2v2h-2zm4 0h2v2h-2zm10 0h2v2h-2zm19 0h2v2h-2zm4 0h2v2h-2zm16 0h2v2h-2zm6 0h2v2h-2zm15 0h2v2h-2zm5 0h2v2h-2zm1 0h2v2h-2zm14 0h2v2h-2zm28 0h2v2h-2zm7 0h2v2h-2zm7 0h2v2h-2zm4 0h2v2h-2zm11 0h2v2h-2zm8 0h2v2h-2zm2 0h2v2h-2zm4 0h2v2h-2zm1 0h2v2h-2zm6 0h2v2h-2zm1 0h2v2h-2zm8 0h2v2h-2zm3 0h2v2h-2zm39 0h2v2h-2zm11 0h2v2h-2zm4 0h2v2h-2zm18 0h2v2h-2zm1 0h2v2h-2zm9 0h2v2h-2zm22 0h2v2h-2zm3 0h2v2h-2zm11 0h2v2h-2zm2 0h2v2h-2zm-323 1h2v2h-2zm2 0h2v2h-2zm1 0h2v2h-2zm12 0h2v2h-2zm58 0h2v2h-2zm16 0h2v2h-2zm1 0h2v2h-2zm6 0h2v2h-2zm6 0h2v2h-2zm11 0h2v2h-2zm25 0h2v2h-2zm26 0h2v2h-2zm3 0h2v2h-2zm17 0h2v2h-2zm4 0h2v2h-2zm7 0h2v2h-2zm1 0h2v2h-2zm17 0h2v2h-2zm1 0h2v2h-2zm1 0h2v2h-2zm2 0h2v2h-2zm6 0h2v2h-2zm15 0h2v2h-2zm2 0h2v2h-2zm5 0h2v2h-2zm5 0h2v2h-2zm2 0h2v2h-2zm14 0h2v2h-2zm23 0h2v2h-2zm6 0h2v2h-2zm2 0h2v2h-2zm4 0h2v2h-2zm13 0h2v2h-2zm2 0h2v2h-2zm16 0h2v2h-2zm16 0h2v2h-2zm-347 1h2v2h-2zm5 0h2v2h-2zm16 0h2v2h-2zm17 0h2v2h-2zm11 0h2v2h-2zm14 0h2v2h-2zm10 0h2v2h-2zm4 0h2v2h-2zm2 0h2v2h-2zm9 0h2v2h-2zm5 0h2v2h-2zm7 0h2v2h-2zm11 0h2v2h-2zm3 0h2v2h-2zm9 0h2v2h-2zm2 0h2v2h-2zm4 0h2v2h-2zm5 0h2v2h-2zm1 0h2v2h-2zm4 0h2v2h-2zm3 0h2v2h-2zm1 0h2v2h-2zm5 0h2v2h-2zm2 0h2v2h-2zm3 0h2v2h-2zm2 0h2v2h-2zm7 0h2v2h-2zm1 0h2v2h-2zm6 0h2v2h-2zm8 0h2v2h-2zm9 0h2v2h-2zm4 0h2v2h-2zm1 0h2v2h-2zm7 0h2v2h-2zm10 0h2v2h-2zm3 0h2v2h-2zm3 0h2v2h-2zm11 0h2v2h-2zm2 0h2v2h-2zm1 0h2v2h-2zm6 0h2v2h-2zm15 0h2v2h-2zm6 0h2v2h-2zm7 0h2v2h-2zm8 0h2v2h-2zm1 0h2v2h-2zm23 0h2v2h-2zm26 0h2v2h-2zm5 0h2v2h-2zm5 0h2v2h-2zm6 0h2v2h-2zm4 0h2v2h-2zm-330 1h2v2h-2zm2 0h2v2h-2zm5 0h2v2h-2zm17 0h2v2h-2zm16 0h2v2h-2zm6 0h2v2h-2zm3 0h2v2h-2zm8 0h2v2h-2zm9 0h2v2h-2zm2 0h2v2h-2zm21 0h2v2h-2zm11 0h2v2h-2zm5 0h2v2h-2zm4 0h2v2h-2zm1 0h2v2h-2zm3 0h2v2h-2zm17 0h2v2h-2zm17 0h2v2h-2zm10 0h2v2h-2zm6 0h2v2h-2zm14 0h2v2h-2zm8 0h2v2h-2zm7 0h2v2h-2zm6 0h2v2h-2zm4 0h2v2h-2zm3 0h2v2h-2zm2 0h2v2h-2zm9 0h2v2h-2zm1 0h2v2h-2zm2 0h2v2h-2zm5 0h2v2h-2zm1 0h2v2h-2zm2 0h2v2h-2zm4 0h2v2h-2zm1 0h2v2h-2zm1 0h2v2h-2zm11 0h2v2h-2zm7 0h2v2h-2zm32 0h2v2h-2zm9 0h2v2h-2zm1 0h2v2h-2zm15 0h2v2h-2zm28 0h2v2h-2zm5 0h2v2h-2zm-345 1h2v2h-2zm8 0h2v2h-2zm29 0h2v2h-2zm29 0h2v2h-2zm2 0h2v2h-2zm2 0h2v2h-2zm3 0h2v2h-2zm11 0h2v2h-2zm1 0h2v2h-2zm7 0h2v2h-2zm6 0h2v2h-2zm18 0h2v2h-2zm10 0h2v2h-2zm6 0h2v2h-2zm2 0h2v2h-2zm2 0h2v2h-2zm1 0h2v2h-2zm1 0h2v2h-2zm1 0h2v2h-2zm4 0h2v2h-2zm5 0h2v2h-2zm7 0h2v2h-2zm3 0h2v2h-2zm1 0h2v2h-2zm1 0h2v2h-2zm7 0h2v2h-2zm9 0h2v2h-2zm5 0h2v2h-2zm1 0h2v2h-2zm11 0h2v2h-2zm7 0h2v2h-2zm3 0h2v2h-2zm1 0h2v2h-2zm1 0h2v2h-2zm3 0h2v2h-2zm1 0h2v2h-2zm2 0h2v2h-2zm17 0h2v2h-2zm7 0h2v2h-2zm15 0h2v2h-2zm2 0h2v2h-2zm6 0h2v2h-2zm5 0h2v2h-2zm1 0h2v2h-2zm13 0h2v2h-2zm11 0h2v2h-2zm3 0h2v2h-2zm25 0h2v2h-2zm14 0h2v2h-2zm1 0h2v2h-2zm2 0h2v2h-2zm2 0h2v2h-2zm2 0h2v2h-2zm4 0h2v2h-2zm-343 1h2v2h-2zm5 0h2v2h-2zm2 0h2v2h-2zm15 0h2v2h-2zm20 0h2v2h-2zm2 0h2v2h-2zm3 0h2v2h-2zm14 0h2v2h-2zm9 0h2v2h-2zm7 0h2v2h-2zm5 0h2v2h-2zm6 0h2v2h-2zm17 0h2v2h-2zm2 0h2v2h-2zm10 0h2v2h-2zm8 0h2v2h-2zm2 0h2v2h-2zm7 0h2v2h-2zm2 0h2v2h-2zm4 0h2v2h-2zm16 0h2v2h-2zm2 0h2v2h-2zm3 0h2v2h-2zm1 0h2v2h-2zm4 0h2v2h-2zm21 0h2v2h-2zm7 0h2v2h-2zm3 0h2v2h-2zm1 0h2v2h-2zm1 0h2v2h-2zm7 0h2v2h-2zm50 0h2v2h-2zm11 0h2v2h-2zm1 0h2v2h-2zm5 0h2v2h-2zm5 0h2v2h-2zm9 0h2v2h-2zm36 0h2v2h-2zm12 0h2v2h-2zm-338 1h2v2h-2zm5 0h2v2h-2zm7 0h2v2h-2zm10 0h2v2h-2zm8 0h2v2h-2zm9 0h2v2h-2zm8 0h2v2h-2zm14 0h2v2h-2zm5 0h2v2h-2zm2 0h2v2h-2zm6 0h2v2h-2zm6 0h2v2h-2zm11 0h2v2h-2zm1 0h2v2h-2zm27 0h2v2h-2zm5 0h2v2h-2zm1 0h2v2h-2zm6 0h2v2h-2zm8 0h2v2h-2zm1 0h2v2h-2zm1 0h2v2h-2zm2 0h2v2h-2zm23 0h2v2h-2zm27 0h2v2h-2zm8 0h2v2h-2zm1 0h2v2h-2zm4 0h2v2h-2zm13 0h2v2h-2zm11 0h2v2h-2zm6 0h2v2h-2zm27 0h2v2h-2zm19 0h2v2h-2zm11 0h2v2h-2zm47 0h2v2h-2zm1 0h2v2h-2zm-352 1h2v2h-2zm6 0h2v2h-2zm7 0h2v2h-2zm1 0h2v2h-2zm3 0h2v2h-2zm12 0h2v2h-2zm9 0h2v2h-2zm3 0h2v2h-2zm3 0h2v2h-2zm12 0h2v2h-2zm6 0h2v2h-2zm3 0h2v2h-2zm16 0h2v2h-2zm11 0h2v2h-2zm7 0h2v2h-2zm5 0h2v2h-2zm6 0h2v2h-2zm3 0h2v2h-2zm3 0h2v2h-2zm8 0h2v2h-2zm5 0h2v2h-2zm1 0h2v2h-2zm4 0h2v2h-2zm7 0h2v2h-2zm2 0h2v2h-2zm13 0h2v2h-2zm2 0h2v2h-2zm5 0h2v2h-2zm6 0h2v2h-2zm1 0h2v2h-2zm6 0h2v2h-2zm6 0h2v2h-2zm8 0h2v2h-2zm4 0h2v2h-2zm2 0h2v2h-2zm7 0h2v2h-2zm1 0h2v2h-2zm5 0h2v2h-2zm7 0h2v2h-2zm16 0h2v2h-2zm7 0h2v2h-2zm1 0h2v2h-2zm11 0h2v2h-2zm16 0h2v2h-2zm5 0h2v2h-2zm12 0h2v2h-2zm3 0h2v2h-2zm31 0h2v2h-2zm9 0h2v2h-2zm12 0h2v2h-2zm5 0h2v2h-2zm11 0h2v2h-2zm3 0h2v2h-2zm-343 1h2v2h-2zm24 0h2v2h-2zm19 0h2v2h-2zm10 0h2v2h-2zm18 0h2v2h-2zm15 0h2v2h-2zm5 0h2v2h-2zm5 0h2v2h-2zm12 0h2v2h-2zm5 0h2v2h-2zm2 0h2v2h-2zm6 0h2v2h-2zm4 0h2v2h-2zm2 0h2v2h-2zm9 0h2v2h-2zm5 0h2v2h-2zm16 0h2v2h-2zm3 0h2v2h-2zm1 0h2v2h-2zm23 0h2v2h-2zm1 0h2v2h-2zm5 0h2v2h-2zm5 0h2v2h-2zm3 0h2v2h-2zm17 0h2v2h-2zm6 0h2v2h-2zm4 0h2v2h-2zm4 0h2v2h-2zm3 0h2v2h-2zm10 0h2v2h-2zm5 0h2v2h-2zm1 0h2v2h-2zm17 0h2v2h-2zm29 0h2v2h-2zm3 0h2v2h-2zm5 0h2v2h-2zm16 0h2v2h-2zm4 0h2v2h-2zm6 0h2v2h-2zm4 0h2v2h-2zm1 0h2v2h-2zm18 0h2v2h-2zm-356 1h2v2h-2zm5 0h2v2h-2zm6 0h2v2h-2zm4 0h2v2h-2zm1 0h2v2h-2zm13 0h2v2h-2zm11 0h2v2h-2zm1 0h2v2h-2zm1 0h2v2h-2zm8 0h2v2h-2zm2 0h2v2h-2zm1 0h2v2h-2zm8 0h2v2h-2zm11 0h2v2h-2zm2 0h2v2h-2zm5 0h2v2h-2zm1 0h2v2h-2zm1 0h2v2h-2zm5 0h2v2h-2zm3 0h2v2h-2zm4 0h2v2h-2zm3 0h2v2h-2zm8 0h2v2h-2zm2 0h2v2h-2zm6 0h2v2h-2zm10 0h2v2h-2zm10 0h2v2h-2zm4 0h2v2h-2zm3 0h2v2h-2zm6 0h2v2h-2zm11 0h2v2h-2zm4 0h2v2h-2zm6 0h2v2h-2zm6 0h2v2h-2zm11 0h2v2h-2zm1 0h2v2h-2zm2 0h2v2h-2zm9 0h2v2h-2zm17 0h2v2h-2zm17 0h2v2h-2zm12 0h2v2h-2zm33 0h2v2h-2zm5 0h2v2h-2zm6 0h2v2h-2zm19 0h2v2h-2zm8 0h2v2h-2zm5 0h2v2h-2zm20 0h2v2h-2zm2 0h2v2h-2zm-342 1h2v2h-2zm8 0h2v2h-2zm8 0h2v2h-2zm8 0h2v2h-2zm4 0h2v2h-2zm2 0h2v2h-2zm18 0h2v2h-2zm9 0h2v2h-2zm8 0h2v2h-2zm12 0h2v2h-2zm8 0h2v2h-2zm3 0h2v2h-2zm7 0h2v2h-2zm2 0h2v2h-2zm2 0h2v2h-2zm6 0h2v2h-2zm14 0h2v2h-2zm1 0h2v2h-2zm27 0h2v2h-2zm9 0h2v2h-2zm4 0h2v2h-2zm9 0h2v2h-2zm30 0h2v2h-2zm6 0h2v2h-2zm28 0h2v2h-2zm2 0h2v2h-2zm10 0h2v2h-2zm2 0h2v2h-2zm6 0h2v2h-2zm3 0h2v2h-2zm13 0h2v2h-2zm9 0h2v2h-2zm4 0h2v2h-2zm1 0h2v2h-2zm18 0h2v2h-2zm5 0h2v2h-2zm11 0h2v2h-2zm4 0h2v2h-2zm4 0h2v2h-2zm20 0h2v2h-2zm1 0h2v2h-2zm4 0h2v2h-2zm-343 1h2v2h-2zm5 0h2v2h-2zm1 0h2v2h-2zm4 0h2v2h-2zm4 0h2v2h-2zm5 0h2v2h-2zm2 0h2v2h-2zm17 0h2v2h-2zm2 0h2v2h-2zm1 0h2v2h-2zm2 0h2v2h-2zm4 0h2v2h-2zm11 0h2v2h-2zm5 0h2v2h-2zm6 0h2v2h-2zm3 0h2v2h-2zm4 0h2v2h-2zm5 0h2v2h-2zm5 0h2v2h-2zm5 0h2v2h-2zm4 0h2v2h-2zm7 0h2v2h-2zm6 0h2v2h-2zm2 0h2v2h-2zm8 0h2v2h-2zm3 0h2v2h-2zm1 0h2v2h-2zm1 0h2v2h-2zm1 0h2v2h-2zm8 0h2v2h-2zm29 0h2v2h-2zm3 0h2v2h-2zm2 0h2v2h-2zm8 0h2v2h-2zm1 0h2v2h-2zm5 0h2v2h-2zm5 0h2v2h-2zm18 0h2v2h-2zm27 0h2v2h-2zm14 0h2v2h-2zm7 0h2v2h-2zm3 0h2v2h-2zm27 0h2v2h-2zm8 0h2v2h-2zm1 0h2v2h-2zm3 0h2v2h-2zm16 0h2v2h-2zm2 0h2v2h-2zm7 0h2v2h-2zm5 0h2v2h-2zm7 0h2v2h-2zm2 0h2v2h-2zm8 0h2v2h-2zm4 0h2v2h-2zm-353 1h2v2h-2zm6 0h2v2h-2zm9 0h2v2h-2zm7 0h2v2h-2zm3 0h2v2h-2zm7 0h2v2h-2zm2 0h2v2h-2zm2 0h2v2h-2zm11 0h2v2h-2zm20 0h2v2h-2zm4 0h2v2h-2zm6 0h2v2h-2zm2 0h2v2h-2zm14 0h2v2h-2zm3 0h2v2h-2zm24 0h2v2h-2zm1 0h2v2h-2zm1 0h2v2h-2zm3 0h2v2h-2zm3 0h2v2h-2zm17 0h2v2h-2zm1 0h2v2h-2zm7 0h2v2h-2zm21 0h2v2h-2zm11 0h2v2h-2zm10 0h2v2h-2zm9 0h2v2h-2zm18 0h2v2h-2zm13 0h2v2h-2zm4 0h2v2h-2zm11 0h2v2h-2zm8 0h2v2h-2zm20 0h2v2h-2zm6 0h2v2h-2zm1 0h2v2h-2zm18 0h2v2h-2zm1 0h2v2h-2zm9 0h2v2h-2zm5 0h2v2h-2zm9 0h2v2h-2zm2 0h2v2h-2zm2 0h2v2h-2zm14 0h2v2h-2zm3 0h2v2h-2zm-351 1h2v2h-2zm4 0h2v2h-2zm6 0h2v2h-2zm6 0h2v2h-2zm5 0h2v2h-2zm3 0h2v2h-2zm14 0h2v2h-2zm14 0h2v2h-2zm12 0h2v2h-2zm2 0h2v2h-2zm15 0h2v2h-2zm11 0h2v2h-2zm39 0h2v2h-2zm18 0h2v2h-2zm1 0h2v2h-2zm11 0h2v2h-2zm1 0h2v2h-2zm18 0h2v2h-2zm4 0h2v2h-2zm18 0h2v2h-2zm1 0h2v2h-2zm12 0h2v2h-2zm5 0h2v2h-2zm18 0h2v2h-2zm19 0h2v2h-2zm44 0h2v2h-2zm3 0h2v2h-2zm3 0h2v2h-2zm9 0h2v2h-2zm4 0h2v2h-2zm4 0h2v2h-2zm16 0h2v2h-2zm12 0h2v2h-2zm-350 1h2v2h-2zm6 0h2v2h-2zm2 0h2v2h-2zm4 0h2v2h-2zm2 0h2v2h-2zm4 0h2v2h-2zm2 0h2v2h-2zm11 0h2v2h-2zm2 0h2v2h-2zm25 0h2v2h-2zm2 0h2v2h-2zm1 0h2v2h-2zm5 0h2v2h-2zm2 0h2v2h-2zm5 0h2v2h-2zm4 0h2v2h-2zm16 0h2v2h-2zm5 0h2v2h-2zm1 0h2v2h-2zm2 0h2v2h-2zm7 0h2v2h-2zm9 0h2v2h-2zm5 0h2v2h-2zm3 0h2v2h-2zm4 0h2v2h-2zm10 0h2v2h-2zm19 0h2v2h-2zm10 0h2v2h-2zm2 0h2v2h-2zm4 0h2v2h-2zm6 0h2v2h-2zm19 0h2v2h-2zm17 0h2v2h-2zm5 0h2v2h-2zm2 0h2v2h-2zm6 0h2v2h-2zm6 0h2v2h-2zm1 0h2v2h-2zm21 0h2v2h-2zm6 0h2v2h-2zm12 0h2v2h-2zm13 0h2v2h-2zm3 0h2v2h-2zm3 0h2v2h-2zm14 0h2v2h-2zm2 0h2v2h-2zm5 0h2v2h-2zm8 0h2v2h-2zm2 0h2v2h-2zm2 0h2v2h-2zm11 0h2v2h-2zm2 0h2v2h-2zm10 0h2v2h-2zm1 0h2v2h-2zm1 0h2v2h-2zm-346 1h2v2h-2zm4 0h2v2h-2zm2 0h2v2h-2zm6 0h2v2h-2zm17 0h2v2h-2zm6 0h2v2h-2zm1 0h2v2h-2zm40 0h2v2h-2zm2 0h2v2h-2zm18 0h2v2h-2zm1 0h2v2h-2zm2 0h2v2h-2zm7 0h2v2h-2zm19 0h2v2h-2zm20 0h2v2h-2zm13 0h2v2h-2zm5 0h2v2h-2zm1 0h2v2h-2zm2 0h2v2h-2zm21 0h2v2h-2zm1 0h2v2h-2zm11 0h2v2h-2zm7 0h2v2h-2zm10 0h2v2h-2zm13 0h2v2h-2zm3 0h2v2h-2zm5 0h2v2h-2zm2 0h2v2h-2zm7 0h2v2h-2zm1 0h2v2h-2zm1 0h2v2h-2zm24 0h2v2h-2zm4 0h2v2h-2zm1 0h2v2h-2zm1 0h2v2h-2zm5 0h2v2h-2zm4 0h2v2h-2zm22 0h2v2h-2zm7 0h2v2h-2zm2 0h2v2h-2zm1 0h2v2h-2zm3 0h2v2h-2zm4 0h2v2h-2zm12 0h2v2h-2zm2 0h2v2h-2zm4 0h2v2h-2zm7 0h2v2h-2zm-350 1h2v2h-2zm2 0h2v2h-2zm3 0h2v2h-2zm1 0h2v2h-2zm1 0h2v2h-2zm13 0h2v2h-2zm3 0h2v2h-2zm2 0h2v2h-2zm19 0h2v2h-2zm3 0h2v2h-2zm17 0h2v2h-2zm9 0h2v2h-2zm12 0h2v2h-2zm6 0h2v2h-2zm8 0h2v2h-2zm9 0h2v2h-2zm8 0h2v2h-2zm1 0h2v2h-2zm19 0h2v2h-2zm2 0h2v2h-2zm24 0h2v2h-2zm3 0h2v2h-2zm10 0h2v2h-2zm1 0h2v2h-2zm25 0h2v2h-2zm4 0h2v2h-2zm3 0h2v2h-2zm9 0h2v2h-2zm4 0h2v2h-2zm21 0h2v2h-2zm13 0h2v2h-2zm4 0h2v2h-2zm2 0h2v2h-2zm1 0h2v2h-2zm9 0h2v2h-2zm1 0h2v2h-2zm2 0h2v2h-2zm1 0h2v2h-2zm2 0h2v2h-2zm10 0h2v2h-2zm8 0h2v2h-2zm8 0h2v2h-2zm3 0h2v2h-2zm3 0h2v2h-2zm7 0h2v2h-2zm4 0h2v2h-2zm6 0h2v2h-2zm2 0h2v2h-2zm7 0h2v2h-2zm3 0h2v2h-2zm12 0h2v2h-2zm2 0h2v2h-2zm1 0h2v2h-2zm-358 1h2v2h-2zm3 0h2v2h-2zm16 0h2v2h-2zm7 0h2v2h-2zm5 0h2v2h-2zm8 0h2v2h-2zm4 0h2v2h-2zm11 0h2v2h-2zm3 0h2v2h-2zm2 0h2v2h-2zm4 0h2v2h-2zm9 0h2v2h-2zm6 0h2v2h-2zm1 0h2v2h-2zm3 0h2v2h-2zm13 0h2v2h-2zm1 0h2v2h-2zm2 0h2v2h-2zm2 0h2v2h-2zm33 0h2v2h-2zm6 0h2v2h-2zm10 0h2v2h-2zm2 0h2v2h-2zm11 0h2v2h-2zm6 0h2v2h-2zm12 0h2v2h-2zm1 0h2v2h-2zm26 0h2v2h-2zm22 0h2v2h-2zm6 0h2v2h-2zm8 0h2v2h-2zm14 0h2v2h-2zm1 0h2v2h-2zm9 0h2v2h-2zm3 0h2v2h-2zm1 0h2v2h-2zm8 0h2v2h-2zm5 0h2v2h-2zm6 0h2v2h-2zm2 0h2v2h-2zm7 0h2v2h-2zm2 0h2v2h-2zm6 0h2v2h-2zm11 0h2v2h-2zm9 0h2v2h-2zm11 0h2v2h-2zm1 0h2v2h-2zm9 0h2v2h-2zm-346 1h2v2h-2zm1 0h2v2h-2zm13 0h2v2h-2zm1 0h2v2h-2zm6 0h2v2h-2zm10 0h2v2h-2zm2 0h2v2h-2zm10 0h2v2h-2zm15 0h2v2h-2zm2 0h2v2h-2zm28 0h2v2h-2zm2 0h2v2h-2zm8 0h2v2h-2zm5 0h2v2h-2zm12 0h2v2h-2zm2 0h2v2h-2zm2 0h2v2h-2zm1 0h2v2h-2zm6 0h2v2h-2zm49 0h2v2h-2zm7 0h2v2h-2zm6 0h2v2h-2zm3 0h2v2h-2zm9 0h2v2h-2zm1 0h2v2h-2zm7 0h2v2h-2zm4 0h2v2h-2zm4 0h2v2h-2zm14 0h2v2h-2zm2 0h2v2h-2zm13 0h2v2h-2zm2 0h2v2h-2zm8 0h2v2h-2zm3 0h2v2h-2zm5 0h2v2h-2zm3 0h2v2h-2zm2 0h2v2h-2zm2 0h2v2h-2zm6 0h2v2h-2zm2 0h2v2h-2zm4 0h2v2h-2zm16 0h2v2h-2zm7 0h2v2h-2zm15 0h2v2h-2zm1 0h2v2h-2zm6 0h2v2h-2zm2 0h2v2h-2zm16 0h2v2h-2zm2 0h2v2h-2zm2 0h2v2h-2zm1 0h2v2h-2zm1 0h2v2h-2zm1 0h2v2h-2zm-342 1h2v2h-2zm13 0h2v2h-2zm3 0h2v2h-2zm27 0h2v2h-2zm9 0h2v2h-2zm8 0h2v2h-2zm5 0h2v2h-2zm11 0h2v2h-2zm15 0h2v2h-2zm9 0h2v2h-2zm3 0h2v2h-2zm4 0h2v2h-2zm22 0h2v2h-2zm1 0h2v2h-2zm11 0h2v2h-2zm10 0h2v2h-2zm4 0h2v2h-2zm13 0h2v2h-2zm5 0h2v2h-2zm8 0h2v2h-2zm2 0h2v2h-2zm40 0h2v2h-2zm6 0h2v2h-2zm1 0h2v2h-2zm5 0h2v2h-2zm4 0h2v2h-2zm5 0h2v2h-2zm1 0h2v2h-2zm3 0h2v2h-2zm2 0h2v2h-2zm2 0h2v2h-2zm5 0h2v2h-2zm15 0h2v2h-2zm1 0h2v2h-2zm12 0h2v2h-2zm2 0h2v2h-2zm5 0h2v2h-2zm1 0h2v2h-2zm2 0h2v2h-2zm1 0h2v2h-2zm6 0h2v2h-2zm11 0h2v2h-2zm5 0h2v2h-2zm-311 1h2v2h-2zm10 0h2v2h-2zm40 0h2v2h-2zm2 0h2v2h-2zm2 0h2v2h-2zm3 0h2v2h-2zm3 0h2v2h-2zm30 0h2v2h-2zm11 0h2v2h-2zm1 0h2v2h-2zm22 0h2v2h-2zm6 0h2v2h-2zm3 0h2v2h-2zm7 0h2v2h-2zm4 0h2v2h-2zm5 0h2v2h-2zm7 0h2v2h-2zm3 0h2v2h-2zm11 0h2v2h-2zm2 0h2v2h-2zm1 0h2v2h-2zm1 0h2v2h-2zm29 0h2v2h-2zm1 0h2v2h-2zm4 0h2v2h-2zm4 0h2v2h-2zm9 0h2v2h-2zm2 0h2v2h-2zm4 0h2v2h-2zm4 0h2v2h-2zm1 0h2v2h-2zm4 0h2v2h-2zm7 0h2v2h-2zm1 0h2v2h-2zm7 0h2v2h-2zm1 0h2v2h-2zm1 0h2v2h-2zm10 0h2v2h-2zm9 0h2v2h-2zm6 0h2v2h-2zm2 0h2v2h-2zm4 0h2v2h-2zm8 0h2v2h-2zm15 0h2v2h-2zm10 0h2v2h-2zm12 0h2v2h-2zm3 0h2v2h-2zm1 0h2v2h-2zm-344 1h2v2h-2zm6 0h2v2h-2zm3 0h2v2h-2zm5 0h2v2h-2zm6 0h2v2h-2zm48 0h2v2h-2zm3 0h2v2h-2zm1 0h2v2h-2zm69 0h2v2h-2zm3 0h2v2h-2zm1 0h2v2h-2zm7 0h2v2h-2zm21 0h2v2h-2zm4 0h2v2h-2zm10 0h2v2h-2zm1 0h2v2h-2zm2 0h2v2h-2zm7 0h2v2h-2zm12 0h2v2h-2zm6 0h2v2h-2zm3 0h2v2h-2zm4 0h2v2h-2zm1 0h2v2h-2zm2 0h2v2h-2zm4 0h2v2h-2zm1 0h2v2h-2zm4 0h2v2h-2zm3 0h2v2h-2zm17 0h2v2h-2zm1 0h2v2h-2zm18 0h2v2h-2zm3 0h2v2h-2zm9 0h2v2h-2zm9 0h2v2h-2zm1 0h2v2h-2zm2 0h2v2h-2zm3 0h2v2h-2zm3 0h2v2h-2zm12 0h2v2h-2zm3 0h2v2h-2zm5 0h2v2h-2zm2 0h2v2h-2zm6 0h2v2h-2zm4 0h2v2h-2zm3 0h2v2h-2zm8 0h2v2h-2zm-352 1h2v2h-2zm11 0h2v2h-2zm21 0h2v2h-2zm18 0h2v2h-2zm4 0h2v2h-2zm9 0h2v2h-2zm10 0h2v2h-2zm11 0h2v2h-2zm6 0h2v2h-2zm9 0h2v2h-2zm17 0h2v2h-2zm8 0h2v2h-2zm5 0h2v2h-2zm9 0h2v2h-2zm15 0h2v2h-2zm17 0h2v2h-2zm17 0h2v2h-2zm21 0h2v2h-2zm6 0h2v2h-2zm5 0h2v2h-2zm6 0h2v2h-2zm5 0h2v2h-2zm3 0h2v2h-2zm2 0h2v2h-2zm2 0h2v2h-2zm1 0h2v2h-2zm14 0h2v2h-2zm3 0h2v2h-2zm3 0h2v2h-2zm7 0h2v2h-2zm9 0h2v2h-2zm2 0h2v2h-2zm2 0h2v2h-2zm1 0h2v2h-2zm3 0h2v2h-2zm3 0h2v2h-2zm6 0h2v2h-2zm2 0h2v2h-2zm7 0h2v2h-2zm1 0h2v2h-2zm1 0h2v2h-2zm3 0h2v2h-2zm16 0h2v2h-2zm10 0h2v2h-2zm-333 1h2v2h-2zm9 0h2v2h-2zm5 0h2v2h-2zm4 0h2v2h-2zm11 0h2v2h-2zm34 0h2v2h-2zm4 0h2v2h-2zm7 0h2v2h-2zm1 0h2v2h-2zm9 0h2v2h-2zm13 0h2v2h-2zm18 0h2v2h-2zm5 0h2v2h-2zm10 0h2v2h-2zm5 0h2v2h-2zm2 0h2v2h-2zm1 0h2v2h-2zm2 0h2v2h-2zm5 0h2v2h-2zm26 0h2v2h-2zm3 0h2v2h-2zm14 0h2v2h-2zm24 0h2v2h-2zm2 0h2v2h-2zm1 0h2v2h-2zm10 0h2v2h-2zm25 0h2v2h-2zm4 0h2v2h-2zm16 0h2v2h-2zm10 0h2v2h-2zm5 0h2v2h-2zm2 0h2v2h-2zm3 0h2v2h-2zm4 0h2v2h-2zm3 0h2v2h-2zm21 0h2v2h-2zm5 0h2v2h-2zm2 0h2v2h-2zm2 0h2v2h-2zm18 0h2v2h-2zm11 0h2v2h-2zm-351 1h2v2h-2zm3 0h2v2h-2zm4 0h2v2h-2zm28 0h2v2h-2zm1 0h2v2h-2zm6 0h2v2h-2zm6 0h2v2h-2zm11 0h2v2h-2zm1 0h2v2h-2zm21 0h2v2h-2zm12 0h2v2h-2zm1 0h2v2h-2zm7 0h2v2h-2zm7 0h2v2h-2zm11 0h2v2h-2zm8 0h2v2h-2zm8 0h2v2h-2zm6 0h2v2h-2zm3 0h2v2h-2zm2 0h2v2h-2zm7 0h2v2h-2zm2 0h2v2h-2zm6 0h2v2h-2zm2 0h2v2h-2zm4 0h2v2h-2zm7 0h2v2h-2zm5 0h2v2h-2zm26 0h2v2h-2zm8 0h2v2h-2zm16 0h2v2h-2zm2 0h2v2h-2zm2 0h2v2h-2zm2 0h2v2h-2zm11 0h2v2h-2zm2 0h2v2h-2zm11 0h2v2h-2zm24 0h2v2h-2zm38 0h2v2h-2zm1 0h2v2h-2zm2 0h2v2h-2zm8 0h2v2h-2zm5 0h2v2h-2zm6 0h2v2h-2zm1 0h2v2h-2zm7 0h2v2h-2zm-358 1h2v2h-2zm8 0h2v2h-2zm8 0h2v2h-2zm5 0h2v2h-2zm7 0h2v2h-2zm32 0h2v2h-2zm2 0h2v2h-2zm4 0h2v2h-2zm22 0h2v2h-2zm1 0h2v2h-2zm14 0h2v2h-2zm18 0h2v2h-2zm1 0h2v2h-2zm6 0h2v2h-2zm17 0h2v2h-2zm7 0h2v2h-2zm20 0h2v2h-2zm3 0h2v2h-2zm1 0h2v2h-2zm7 0h2v2h-2zm4 0h2v2h-2zm1 0h2v2h-2zm1 0h2v2h-2zm3 0h2v2h-2zm1 0h2v2h-2zm6 0h2v2h-2zm5 0h2v2h-2zm7 0h2v2h-2zm8 0h2v2h-2zm11 0h2v2h-2zm4 0h2v2h-2zm1 0h2v2h-2zm1 0h2v2h-2zm3 0h2v2h-2zm4 0h2v2h-2zm13 0h2v2h-2zm2 0h2v2h-2zm3 0h2v2h-2zm3 0h2v2h-2zm1 0h2v2h-2zm20 0h2v2h-2zm5 0h2v2h-2zm40 0h2v2h-2zm1 0h2v2h-2zm3 0h2v2h-2zm-313 1h2v2h-2zm8 0h2v2h-2zm14 0h2v2h-2zm6 0h2v2h-2zm1 0h2v2h-2zm2 0h2v2h-2zm23 0h2v2h-2zm5 0h2v2h-2zm7 0h2v2h-2zm3 0h2v2h-2zm9 0h2v2h-2zm4 0h2v2h-2zm4 0h2v2h-2zm9 0h2v2h-2zm10 0h2v2h-2zm10 0h2v2h-2zm7 0h2v2h-2zm2 0h2v2h-2zm3 0h2v2h-2zm24 0h2v2h-2zm4 0h2v2h-2zm18 0h2v2h-2zm5 0h2v2h-2zm11 0h2v2h-2zm10 0h2v2h-2zm11 0h2v2h-2zm11 0h2v2h-2zm60 0h2v2h-2zm26 0h2v2h-2zm-308 1h2v2h-2zm16 0h2v2h-2zm7 0h2v2h-2zm1 0h2v2h-2zm3 0h2v2h-2zm6 0h2v2h-2zm7 0h2v2h-2zm7 0h2v2h-2zm6 0h2v2h-2zm7 0h2v2h-2zm3 0h2v2h-2zm1 0h2v2h-2zm1 0h2v2h-2zm1 0h2v2h-2zm6 0h2v2h-2zm1 0h2v2h-2zm4 0h2v2h-2zm3 0h2v2h-2zm16 0h2v2h-2zm6 0h2v2h-2zm1 0h2v2h-2zm3 0h2v2h-2zm17 0h2v2h-2zm3 0h2v2h-2zm17 0h2v2h-2zm6 0h2v2h-2zm13 0h2v2h-2zm6 0h2v2h-2zm14 0h2v2h-2zm5 0h2v2h-2zm4 0h2v2h-2zm22 0h2v2h-2zm4 0h2v2h-2zm4 0h2v2h-2zm13 0h2v2h-2zm4 0h2v2h-2zm16 0h2v2h-2zm2 0h2v2h-2zm7 0h2v2h-2zm64 0h2v2h-2zm9 0h2v2h-2zm-339 1h2v2h-2zm14 0h2v2h-2zm28 0h2v2h-2zm13 0h2v2h-2zm9 0h2v2h-2zm1 0h2v2h-2zm1 0h2v2h-2zm1 0h2v2h-2zm22 0h2v2h-2zm14 0h2v2h-2zm1 0h2v2h-2zm2 0h2v2h-2zm3 0h2v2h-2zm19 0h2v2h-2zm6 0h2v2h-2zm6 0h2v2h-2zm4 0h2v2h-2zm11 0h2v2h-2zm6 0h2v2h-2zm8 0h2v2h-2zm1 0h2v2h-2zm1 0h2v2h-2zm4 0h2v2h-2zm5 0h2v2h-2zm1 0h2v2h-2zm17 0h2v2h-2zm4 0h2v2h-2zm12 0h2v2h-2zm17 0h2v2h-2zm12 0h2v2h-2zm17 0h2v2h-2zm7 0h2v2h-2zm10 0h2v2h-2zm3 0h2v2h-2zm11 0h2v2h-2zm1 0h2v2h-2zm5 0h2v2h-2zm2 0h2v2h-2zm5 0h2v2h-2zm2 0h2v2h-2zm23 0h2v2h-2zm5 0h2v2h-2zm-337 1h2v2h-2zm1 0h2v2h-2zm1 0h2v2h-2zm25 0h2v2h-2zm4 0h2v2h-2zm4 0h2v2h-2zm2 0h2v2h-2zm3 0h2v2h-2zm4 0h2v2h-2zm28 0h2v2h-2zm15 0h2v2h-2zm8 0h2v2h-2zm8 0h2v2h-2zm6 0h2v2h-2zm4 0h2v2h-2zm4 0h2v2h-2zm7 0h2v2h-2zm5 0h2v2h-2zm6 0h2v2h-2zm2 0h2v2h-2zm3 0h2v2h-2zm5 0h2v2h-2zm5 0h2v2h-2zm3 0h2v2h-2zm3 0h2v2h-2zm4 0h2v2h-2zm1 0h2v2h-2zm2 0h2v2h-2zm16 0h2v2h-2zm3 0h2v2h-2zm11 0h2v2h-2zm27 0h2v2h-2zm3 0h2v2h-2zm32 0h2v2h-2zm12 0h2v2h-2zm2 0h2v2h-2zm18 0h2v2h-2zm3 0h2v2h-2zm15 0h2v2h-2zm3 0h2v2h-2zm8 0h2v2h-2zm1 0h2v2h-2zm16 0h2v2h-2zm3 0h2v2h-2zm3 0h2v2h-2zm4 0h2v2h-2zm6 0h2v2h-2zm-359 1h2v2h-2zm6 0h2v2h-2zm23 0h2v2h-2zm7 0h2v2h-2zm19 0h2v2h-2zm14 0h2v2h-2zm10 0h2v2h-2zm3 0h2v2h-2zm5 0h2v2h-2zm8 0h2v2h-2zm1 0h2v2h-2zm4 0h2v2h-2zm1 0h2v2h-2zm5 0h2v2h-2zm5 0h2v2h-2zm4 0h2v2h-2zm27 0h2v2h-2zm1 0h2v2h-2zm1 0h2v2h-2zm6 0h2v2h-2zm1 0h2v2h-2zm3 0h2v2h-2zm1 0h2v2h-2zm12 0h2v2h-2zm19 0h2v2h-2zm5 0h2v2h-2zm22 0h2v2h-2zm7 0h2v2h-2zm11 0h2v2h-2zm4 0h2v2h-2zm6 0h2v2h-2zm2 0h2v2h-2zm38 0h2v2h-2zm1 0h2v2h-2zm17 0h2v2h-2zm1 0h2v2h-2zm19 0h2v2h-2zm23 0h2v2h-2zm11 0h2v2h-2zm3 0h2v2h-2zm-344 1h2v2h-2zm1 0h2v2h-2zm5 0h2v2h-2zm3 0h2v2h-2zm14 0h2v2h-2zm1 0h2v2h-2zm4 0h2v2h-2zm3 0h2v2h-2zm5 0h2v2h-2zm4 0h2v2h-2zm2 0h2v2h-2zm15 0h2v2h-2zm16 0h2v2h-2zm11 0h2v2h-2zm5 0h2v2h-2zm2 0h2v2h-2zm1 0h2v2h-2zm5 0h2v2h-2zm3 0h2v2h-2zm2 0h2v2h-2zm4 0h2v2h-2zm3 0h2v2h-2zm14 0h2v2h-2zm1 0h2v2h-2zm4 0h2v2h-2zm1 0h2v2h-2zm6 0h2v2h-2zm2 0h2v2h-2zm1 0h2v2h-2zm2 0h2v2h-2zm1 0h2v2h-2zm2 0h2v2h-2zm4 0h2v2h-2zm30 0h2v2h-2zm8 0h2v2h-2zm7 0h2v2h-2zm3 0h2v2h-2zm7 0h2v2h-2zm12 0h2v2h-2zm14 0h2v2h-2zm19 0h2v2h-2zm2 0h2v2h-2zm7 0h2v2h-2zm24 0h2v2h-2zm1 0h2v2h-2zm5 0h2v2h-2zm2 0h2v2h-2zm2 0h2v2h-2zm14 0h2v2h-2zm4 0h2v2h-2zm9 0h2v2h-2zm3 0h2v2h-2zm11 0h2v2h-2zm4 0h2v2h-2zm1 0h2v2h-2zm-352 1h2v2h-2zm8 0h2v2h-2zm4 0h2v2h-2zm11 0h2v2h-2zm19 0h2v2h-2zm14 0h2v2h-2zm1 0h2v2h-2zm1 0h2v2h-2zm7 0h2v2h-2zm11 0h2v2h-2zm3 0h2v2h-2zm2 0h2v2h-2zm11 0h2v2h-2zm3 0h2v2h-2zm9 0h2v2h-2zm2 0h2v2h-2zm2 0h2v2h-2zm10 0h2v2h-2zm1 0h2v2h-2zm4 0h2v2h-2zm7 0h2v2h-2zm1 0h2v2h-2zm1 0h2v2h-2zm11 0h2v2h-2zm1 0h2v2h-2zm2 0h2v2h-2zm40 0h2v2h-2zm7 0h2v2h-2zm4 0h2v2h-2zm9 0h2v2h-2zm7 0h2v2h-2zm2 0h2v2h-2zm22 0h2v2h-2zm22 0h2v2h-2zm3 0h2v2h-2zm1 0h2v2h-2zm11 0h2v2h-2zm20 0h2v2h-2zm25 0h2v2h-2zm7 0h2v2h-2zm9 0h2v2h-2zm2 0h2v2h-2zm10 0h2v2h-2zm11 0h2v2h-2zm-341 1h2v2h-2zm11 0h2v2h-2zm2 0h2v2h-2zm6 0h2v2h-2zm1 0h2v2h-2zm9 0h2v2h-2zm15 0h2v2h-2zm1 0h2v2h-2zm5 0h2v2h-2zm7 0h2v2h-2zm23 0h2v2h-2zm1 0h2v2h-2zm5 0h2v2h-2zm2 0h2v2h-2zm11 0h2v2h-2zm4 0h2v2h-2zm2 0h2v2h-2zm1 0h2v2h-2zm9 0h2v2h-2zm5 0h2v2h-2zm3 0h2v2h-2zm2 0h2v2h-2zm6 0h2v2h-2zm2 0h2v2h-2zm3 0h2v2h-2zm4 0h2v2h-2zm24 0h2v2h-2zm8 0h2v2h-2zm6 0h2v2h-2zm17 0h2v2h-2zm26 0h2v2h-2zm13 0h2v2h-2zm5 0h2v2h-2zm2 0h2v2h-2zm19 0h2v2h-2zm1 0h2v2h-2zm10 0h2v2h-2zm3 0h2v2h-2zm10 0h2v2h-2zm11 0h2v2h-2zm9 0h2v2h-2zm4 0h2v2h-2zm6 0h2v2h-2zm9 0h2v2h-2zm23 0h2v2h-2zm-356 1h2v2h-2zm3 0h2v2h-2zm7 0h2v2h-2zm2 0h2v2h-2zm3 0h2v2h-2zm2 0h2v2h-2zm3 0h2v2h-2zm13 0h2v2h-2zm12 0h2v2h-2zm11 0h2v2h-2zm5 0h2v2h-2zm7 0h2v2h-2zm10 0h2v2h-2zm2 0h2v2h-2zm3 0h2v2h-2zm1 0h2v2h-2zm3 0h2v2h-2zm26 0h2v2h-2zm6 0h2v2h-2zm1 0h2v2h-2zm24 0h2v2h-2zm5 0h2v2h-2zm1 0h2v2h-2zm37 0h2v2h-2zm10 0h2v2h-2zm13 0h2v2h-2zm1 0h2v2h-2zm19 0h2v2h-2zm1 0h2v2h-2zm20 0h2v2h-2zm4 0h2v2h-2zm3 0h2v2h-2zm7 0h2v2h-2zm3 0h2v2h-2zm16 0h2v2h-2zm19 0h2v2h-2zm6 0h2v2h-2zm9 0h2v2h-2zm10 0h2v2h-2zm8 0h2v2h-2zm18 0h2v2h-2zm-354 1h2v2h-2zm6 0h2v2h-2zm2 0h2v2h-2zm12 0h2v2h-2zm6 0h2v2h-2zm1 0h2v2h-2zm1 0h2v2h-2zm1 0h2v2h-2zm6 0h2v2h-2zm11 0h2v2h-2zm5 0h2v2h-2zm26 0h2v2h-2zm6 0h2v2h-2zm7 0h2v2h-2zm8 0h2v2h-2zm1 0h2v2h-2zm10 0h2v2h-2zm4 0h2v2h-2zm14 0h2v2h-2zm6 0h2v2h-2zm7 0h2v2h-2zm3 0h2v2h-2zm1 0h2v2h-2zm1 0h2v2h-2zm1 0h2v2h-2zm12 0h2v2h-2zm8 0h2v2h-2zm19 0h2v2h-2zm1 0h2v2h-2zm7 0h2v2h-2zm19 0h2v2h-2zm11 0h2v2h-2zm3 0h2v2h-2zm6 0h2v2h-2zm2 0h2v2h-2zm5 0h2v2h-2zm8 0h2v2h-2zm5 0h2v2h-2zm4 0h2v2h-2zm22 0h2v2h-2zm1 0h2v2h-2zm11 0h2v2h-2zm7 0h2v2h-2zm3 0h2v2h-2zm1 0h2v2h-2zm6 0h2v2h-2zm4 0h2v2h-2zm7 0h2v2h-2zm1 0h2v2h-2zm25 0h2v2h-2zm3 0h2v2h-2zm3 0h2v2h-2zm-355 1h2v2h-2zm11 0h2v2h-2zm10 0h2v2h-2zm11 0h2v2h-2zm6 0h2v2h-2zm6 0h2v2h-2zm9 0h2v2h-2zm2 0h2v2h-2zm4 0h2v2h-2zm5 0h2v2h-2zm5 0h2v2h-2zm4 0h2v2h-2zm9 0h2v2h-2zm7 0h2v2h-2zm11 0h2v2h-2zm3 0h2v2h-2zm18 0h2v2h-2zm1 0h2v2h-2zm6 0h2v2h-2zm18 0h2v2h-2zm1 0h2v2h-2zm20 0h2v2h-2zm6 0h2v2h-2zm11 0h2v2h-2zm12 0h2v2h-2zm20 0h2v2h-2zm11 0h2v2h-2zm18 0h2v2h-2zm15 0h2v2h-2zm8 0h2v2h-2zm9 0h2v2h-2zm1 0h2v2h-2zm3 0h2v2h-2zm9 0h2v2h-2zm10 0h2v2h-2zm24 0h2v2h-2zm4 0h2v2h-2zm6 0h2v2h-2zm10 0h2v2h-2zm2 0h2v2h-2zm6 0h2v2h-2zm3 0h2v2h-2zm9 0h2v2h-2zm-363 1h2v2h-2zm3 0h2v2h-2zm1 0h2v2h-2zm2 0h2v2h-2zm2 0h2v2h-2zm3 0h2v2h-2zm7 0h2v2h-2zm4 0h2v2h-2zm2 0h2v2h-2zm11 0h2v2h-2zm2 0h2v2h-2zm13 0h2v2h-2zm2 0h2v2h-2zm3 0h2v2h-2zm15 0h2v2h-2zm20 0h2v2h-2zm2 0h2v2h-2zm5 0h2v2h-2zm15 0h2v2h-2zm8 0h2v2h-2zm2 0h2v2h-2zm37 0h2v2h-2zm3 0h2v2h-2zm5 0h2v2h-2zm11 0h2v2h-2zm29 0h2v2h-2zm22 0h2v2h-2zm2 0h2v2h-2zm6 0h2v2h-2zm3 0h2v2h-2zm42 0h2v2h-2zm26 0h2v2h-2zm12 0h2v2h-2zm3 0h2v2h-2zm2 0h2v2h-2zm4 0h2v2h-2zm9 0h2v2h-2zm2 0h2v2h-2zm2 0h2v2h-2zm7 0h2v2h-2zm6 0h2v2h-2zm-355 1h2v2h-2zm11 0h2v2h-2zm1 0h2v2h-2zm13 0h2v2h-2zm4 0h2v2h-2zm2 0h2v2h-2zm5 0h2v2h-2zm7 0h2v2h-2zm6 0h2v2h-2zm27 0h2v2h-2zm40 0h2v2h-2zm26 0h2v2h-2zm13 0h2v2h-2zm13 0h2v2h-2zm1 0h2v2h-2zm2 0h2v2h-2zm7 0h2v2h-2zm7 0h2v2h-2zm19 0h2v2h-2zm2 0h2v2h-2zm3 0h2v2h-2zm6 0h2v2h-2zm5 0h2v2h-2zm8 0h2v2h-2zm3 0h2v2h-2zm24 0h2v2h-2zm6 0h2v2h-2zm12 0h2v2h-2zm4 0h2v2h-2zm6 0h2v2h-2zm7 0h2v2h-2zm12 0h2v2h-2zm16 0h2v2h-2zm1 0h2v2h-2zm2 0h2v2h-2zm1 0h2v2h-2zm1 0h2v2h-2zm4 0h2v2h-2zm5 0h2v2h-2zm21 0h2v2h-2zm1 0h2v2h-2zm2 0h2v2h-2zm-337 1h2v2h-2zm10 0h2v2h-2zm2 0h2v2h-2zm1 0h2v2h-2zm3 0h2v2h-2zm25 0h2v2h-2zm12 0h2v2h-2zm1 0h2v2h-2zm14 0h2v2h-2zm8 0h2v2h-2zm9 0h2v2h-2zm30 0h2v2h-2zm15 0h2v2h-2zm14 0h2v2h-2zm36 0h2v2h-2zm4 0h2v2h-2zm2 0h2v2h-2zm9 0h2v2h-2zm3 0h2v2h-2zm16 0h2v2h-2zm3 0h2v2h-2zm16 0h2v2h-2zm4 0h2v2h-2zm3 0h2v2h-2zm5 0h2v2h-2zm2 0h2v2h-2zm4 0h2v2h-2zm8 0h2v2h-2zm19 0h2v2h-2zm2 0h2v2h-2zm6 0h2v2h-2zm7 0h2v2h-2zm8 0h2v2h-2zm5 0h2v2h-2zm4 0h2v2h-2zm2 0h2v2h-2zm2 0h2v2h-2zm12 0h2v2h-2zm1 0h2v2h-2zm6 0h2v2h-2zm-345 1h2v2h-2zm10 0h2v2h-2zm15 0h2v2h-2zm2 0h2v2h-2zm3 0h2v2h-2zm17 0h2v2h-2zm4 0h2v2h-2zm20 0h2v2h-2zm3 0h2v2h-2zm21 0h2v2h-2zm6 0h2v2h-2zm14 0h2v2h-2zm2 0h2v2h-2zm4 0h2v2h-2zm17 0h2v2h-2zm5 0h2v2h-2zm2 0h2v2h-2zm15 0h2v2h-2zm46 0h2v2h-2zm5 0h2v2h-2zm12 0h2v2h-2zm1 0h2v2h-2zm2 0h2v2h-2zm5 0h2v2h-2zm15 0h2v2h-2zm1 0h2v2h-2zm7 0h2v2h-2zm9 0h2v2h-2zm2 0h2v2h-2zm8 0h2v2h-2zm1 0h2v2h-2zm1 0h2v2h-2zm2 0h2v2h-2zm3 0h2v2h-2zm8 0h2v2h-2zm3 0h2v2h-2zm7 0h2v2h-2zm1 0h2v2h-2zm2 0h2v2h-2zm2 0h2v2h-2zm22 0h2v2h-2zm4 0h2v2h-2zm-335 1h2v2h-2zm1 0h2v2h-2zm44 0h2v2h-2zm29 0h2v2h-2zm1 0h2v2h-2zm5 0h2v2h-2zm2 0h2v2h-2zm16 0h2v2h-2zm5 0h2v2h-2zm12 0h2v2h-2zm8 0h2v2h-2zm39 0h2v2h-2zm9 0h2v2h-2zm3 0h2v2h-2zm22 0h2v2h-2zm13 0h2v2h-2zm2 0h2v2h-2zm19 0h2v2h-2zm11 0h2v2h-2zm2 0h2v2h-2zm2 0h2v2h-2zm31 0h2v2h-2zm2 0h2v2h-2zm3 0h2v2h-2zm5 0h2v2h-2zm14 0h2v2h-2zm6 0h2v2h-2zm3 0h2v2h-2zm15 0h2v2h-2zm2 0h2v2h-2zm12 0h2v2h-2zm12 0h2v2h-2zm-350 1h2v2h-2zm8 0h2v2h-2zm11 0h2v2h-2zm25 0h2v2h-2zm9 0h2v2h-2zm62 0h2v2h-2zm7 0h2v2h-2zm1 0h2v2h-2zm3 0h2v2h-2zm3 0h2v2h-2zm5 0h2v2h-2zm5 0h2v2h-2zm4 0h2v2h-2zm1 0h2v2h-2zm8 0h2v2h-2zm2 0h2v2h-2zm10 0h2v2h-2zm16 0h2v2h-2zm18 0h2v2h-2zm2 0h2v2h-2zm14 0h2v2h-2zm5 0h2v2h-2zm5 0h2v2h-2zm6 0h2v2h-2zm2 0h2v2h-2zm2 0h2v2h-2zm2 0h2v2h-2zm4 0h2v2h-2zm12 0h2v2h-2zm6 0h2v2h-2zm1 0h2v2h-2zm23 0h2v2h-2zm8 0h2v2h-2zm3 0h2v2h-2zm6 0h2v2h-2zm3 0h2v2h-2zm5 0h2v2h-2zm2 0h2v2h-2zm1 0h2v2h-2zm7 0h2v2h-2zm1 0h2v2h-2zm4 0h2v2h-2zm1 0h2v2h-2zm5 0h2v2h-2zm6 0h2v2h-2zm16 0h2v2h-2zm-343 1h2v2h-2zm47 0h2v2h-2zm21 0h2v2h-2zm3 0h2v2h-2zm5 0h2v2h-2zm10 0h2v2h-2zm14 0h2v2h-2zm19 0h2v2h-2zm13 0h2v2h-2zm14 0h2v2h-2zm13 0h2v2h-2zm1 0h2v2h-2zm3 0h2v2h-2zm9 0h2v2h-2zm10 0h2v2h-2zm1 0h2v2h-2zm6 0h2v2h-2zm4 0h2v2h-2zm4 0h2v2h-2zm1 0h2v2h-2zm1 0h2v2h-2zm1 0h2v2h-2zm12 0h2v2h-2zm12 0h2v2h-2zm10 0h2v2h-2zm13 0h2v2h-2zm15 0h2v2h-2zm30 0h2v2h-2zm39 0h2v2h-2zm1 0h2v2h-2zm8 0h2v2h-2zm2 0h2v2h-2zm-337 1h2v2h-2zm25 0h2v2h-2zm14 0h2v2h-2zm20 0h2v2h-2zm4 0h2v2h-2zm26 0h2v2h-2zm4 0h2v2h-2zm15 0h2v2h-2zm36 0h2v2h-2zm9 0h2v2h-2zm5 0h2v2h-2zm15 0h2v2h-2zm3 0h2v2h-2zm1 0h2v2h-2zm8 0h2v2h-2zm1 0h2v2h-2zm6 0h2v2h-2zm9 0h2v2h-2zm7 0h2v2h-2zm9 0h2v2h-2zm11 0h2v2h-2zm12 0h2v2h-2zm5 0h2v2h-2zm5 0h2v2h-2zm4 0h2v2h-2zm4 0h2v2h-2zm1 0h2v2h-2zm1 0h2v2h-2zm8 0h2v2h-2zm1 0h2v2h-2zm23 0h2v2h-2zm1 0h2v2h-2zm10 0h2v2h-2zm8 0h2v2h-2zm1 0h2v2h-2zm4 0h2v2h-2zm2 0h2v2h-2zm7 0h2v2h-2zm4 0h2v2h-2zm2 0h2v2h-2zm6 0h2v2h-2zm-342 1h2v2h-2zm1 0h2v2h-2zm4 0h2v2h-2zm8 0h2v2h-2zm5 0h2v2h-2zm7 0h2v2h-2zm16 0h2v2h-2zm5 0h2v2h-2zm2 0h2v2h-2zm7 0h2v2h-2zm2 0h2v2h-2zm18 0h2v2h-2zm1 0h2v2h-2zm17 0h2v2h-2zm7 0h2v2h-2zm2 0h2v2h-2zm6 0h2v2h-2zm2 0h2v2h-2zm1 0h2v2h-2zm10 0h2v2h-2zm2 0h2v2h-2zm8 0h2v2h-2zm6 0h2v2h-2zm3 0h2v2h-2zm3 0h2v2h-2zm3 0h2v2h-2zm12 0h2v2h-2zm1 0h2v2h-2zm21 0h2v2h-2zm3 0h2v2h-2zm3 0h2v2h-2zm3 0h2v2h-2zm4 0h2v2h-2zm6 0h2v2h-2zm3 0h2v2h-2zm7 0h2v2h-2zm1 0h2v2h-2zm1 0h2v2h-2zm3 0h2v2h-2zm15 0h2v2h-2zm21 0h2v2h-2zm3 0h2v2h-2zm10 0h2v2h-2zm1 0h2v2h-2zm5 0h2v2h-2zm4 0h2v2h-2zm5 0h2v2h-2zm3 0h2v2h-2zm1 0h2v2h-2zm5 0h2v2h-2zm4 0h2v2h-2zm13 0h2v2h-2zm8 0h2v2h-2zm2 0h2v2h-2zm3 0h2v2h-2zm2 0h2v2h-2zm3 0h2v2h-2zm-320 1h2v2h-2zm3 0h2v2h-2zm9 0h2v2h-2zm2 0h2v2h-2zm28 0h2v2h-2zm6 0h2v2h-2zm18 0h2v2h-2zm7 0h2v2h-2zm15 0h2v2h-2zm4 0h2v2h-2zm1 0h2v2h-2zm16 0h2v2h-2zm6 0h2v2h-2zm4 0h2v2h-2zm16 0h2v2h-2zm1 0h2v2h-2zm1 0h2v2h-2zm6 0h2v2h-2zm3 0h2v2h-2zm3 0h2v2h-2zm4 0h2v2h-2zm2 0h2v2h-2zm6 0h2v2h-2zm7 0h2v2h-2zm6 0h2v2h-2zm4 0h2v2h-2zm1 0h2v2h-2zm4 0h2v2h-2zm1 0h2v2h-2zm2 0h2v2h-2zm1 0h2v2h-2zm10 0h2v2h-2zm7 0h2v2h-2zm2 0h2v2h-2zm12 0h2v2h-2zm10 0h2v2h-2zm2 0h2v2h-2zm3 0h2v2h-2zm1 0h2v2h-2zm2 0h2v2h-2zm13 0h2v2h-2zm5 0h2v2h-2zm10 0h2v2h-2zm19 0h2v2h-2zm10 0h2v2h-2zm3 0h2v2h-2zm15 0h2v2h-2zm2 0h2v2h-2zm-315 1h2v2h-2zm10 0h2v2h-2zm10 0h2v2h-2zm3 0h2v2h-2zm33 0h2v2h-2zm3 0h2v2h-2zm1 0h2v2h-2zm7 0h2v2h-2zm8 0h2v2h-2zm36 0h2v2h-2zm3 0h2v2h-2zm1 0h2v2h-2zm4 0h2v2h-2zm1 0h2v2h-2zm5 0h2v2h-2zm14 0h2v2h-2zm1 0h2v2h-2zm18 0h2v2h-2zm10 0h2v2h-2zm1 0h2v2h-2zm10 0h2v2h-2zm2 0h2v2h-2zm5 0h2v2h-2zm3 0h2v2h-2zm1 0h2v2h-2zm4 0h2v2h-2zm14 0h2v2h-2zm4 0h2v2h-2zm10 0h2v2h-2zm9 0h2v2h-2zm3 0h2v2h-2zm1 0h2v2h-2zm2 0h2v2h-2zm3 0h2v2h-2zm4 0h2v2h-2zm8 0h2v2h-2zm3 0h2v2h-2zm1 0h2v2h-2zm13 0h2v2h-2zm5 0h2v2h-2zm38 0h2v2h-2zm2 0h2v2h-2zm3 0h2v2h-2zm1 0h2v2h-2zm6 0h2v2h-2zm-300 1h2v2h-2zm10 0h2v2h-2zm30 0h2v2h-2zm1 0h2v2h-2zm2 0h2v2h-2zm3 0h2v2h-2zm12 0h2v2h-2zm1 0h2v2h-2zm1 0h2v2h-2zm2 0h2v2h-2zm1 0h2v2h-2zm8 0h2v2h-2zm15 0h2v2h-2zm10 0h2v2h-2zm10 0h2v2h-2zm4 0h2v2h-2zm2 0h2v2h-2zm5 0h2v2h-2zm10 0h2v2h-2zm6 0h2v2h-2zm2 0h2v2h-2zm1 0h2v2h-2zm19 0h2v2h-2zm13 0h2v2h-2zm6 0h2v2h-2zm13 0h2v2h-2zm3 0h2v2h-2zm1 0h2v2h-2zm12 0h2v2h-2zm2 0h2v2h-2zm10 0h2v2h-2zm3 0h2v2h-2zm5 0h2v2h-2zm17 0h2v2h-2zm4 0h2v2h-2zm4 0h2v2h-2zm1 0h2v2h-2zm13 0h2v2h-2zm30 0h2v2h-2zm1 0h2v2h-2zm4 0h2v2h-2zm1 0h2v2h-2zm-310 1h2v2h-2zm17 0h2v2h-2zm14 0h2v2h-2zm3 0h2v2h-2zm3 0h2v2h-2zm16 0h2v2h-2zm12 0h2v2h-2zm12 0h2v2h-2zm5 0h2v2h-2zm17 0h2v2h-2zm1 0h2v2h-2zm25 0h2v2h-2zm1 0h2v2h-2zm7 0h2v2h-2zm6 0h2v2h-2zm1 0h2v2h-2zm1 0h2v2h-2zm3 0h2v2h-2zm27 0h2v2h-2zm3 0h2v2h-2zm8 0h2v2h-2zm7 0h2v2h-2zm10 0h2v2h-2zm11 0h2v2h-2zm6 0h2v2h-2zm11 0h2v2h-2zm7 0h2v2h-2zm3 0h2v2h-2zm30 0h2v2h-2zm36 0h2v2h-2zm14 0h2v2h-2zm4 0h2v2h-2zm7 0h2v2h-2zm2 0h2v2h-2zm-331 1h2v2h-2zm3 0h2v2h-2zm4 0h2v2h-2zm7 0h2v2h-2zm40 0h2v2h-2zm7 0h2v2h-2zm1 0h2v2h-2zm5 0h2v2h-2zm4 0h2v2h-2zm5 0h2v2h-2zm4 0h2v2h-2zm8 0h2v2h-2zm2 0h2v2h-2zm1 0h2v2h-2zm5 0h2v2h-2zm5 0h2v2h-2zm8 0h2v2h-2zm14 0h2v2h-2zm3 0h2v2h-2zm7 0h2v2h-2zm14 0h2v2h-2zm1 0h2v2h-2zm6 0h2v2h-2zm8 0h2v2h-2zm5 0h2v2h-2zm2 0h2v2h-2zm8 0h2v2h-2zm1 0h2v2h-2zm7 0h2v2h-2zm9 0h2v2h-2zm11 0h2v2h-2zm2 0h2v2h-2zm20 0h2v2h-2zm4 0h2v2h-2zm9 0h2v2h-2zm2 0h2v2h-2zm12 0h2v2h-2zm4 0h2v2h-2zm-263 1h2v2h-2zm4 0h2v2h-2zm9 0h2v2h-2zm6 0h2v2h-2zm3 0h2v2h-2zm2 0h2v2h-2zm3 0h2v2h-2zm13 0h2v2h-2zm9 0h2v2h-2zm16 0h2v2h-2zm1 0h2v2h-2zm2 0h2v2h-2zm13 0h2v2h-2zm3 0h2v2h-2zm3 0h2v2h-2zm3 0h2v2h-2zm7 0h2v2h-2zm14 0h2v2h-2zm4 0h2v2h-2zm5 0h2v2h-2zm2 0h2v2h-2zm2 0h2v2h-2zm3 0h2v2h-2zm26 0h2v2h-2zm17 0h2v2h-2zm8 0h2v2h-2zm14 0h2v2h-2zm4 0h2v2h-2zm8 0h2v2h-2zm23 0h2v2h-2zm22 0h2v2h-2zm4 0h2v2h-2zm-259 1h2v2h-2zm7 0h2v2h-2zm3 0h2v2h-2zm24 0h2v2h-2zm10 0h2v2h-2zm1 0h2v2h-2zm5 0h2v2h-2zm2 0h2v2h-2zm15 0h2v2h-2zm2 0h2v2h-2zm5 0h2v2h-2zm13 0h2v2h-2zm9 0h2v2h-2zm2 0h2v2h-2zm17 0h2v2h-2zm1 0h2v2h-2zm4 0h2v2h-2zm16 0h2v2h-2zm17 0h2v2h-2zm6 0h2v2h-2zm1 0h2v2h-2zm7 0h2v2h-2zm3 0h2v2h-2zm14 0h2v2h-2zm2 0h2v2h-2zm39 0h2v2h-2zm7 0h2v2h-2zm27 0h2v2h-2zm37 0h2v2h-2zm11 0h2v2h-2zm14 0h2v2h-2zm-317 1h2v2h-2zm4 0h2v2h-2zm12 0h2v2h-2zm6 0h2v2h-2zm6 0h2v2h-2zm4 0h2v2h-2zm5 0h2v2h-2zm3 0h2v2h-2zm12 0h2v2h-2zm2 0h2v2h-2zm10 0h2v2h-2zm5 0h2v2h-2zm2 0h2v2h-2zm15 0h2v2h-2zm1 0h2v2h-2zm9 0h2v2h-2zm2 0h2v2h-2zm2 0h2v2h-2zm4 0h2v2h-2zm6 0h2v2h-2zm2 0h2v2h-2zm1 0h2v2h-2zm4 0h2v2h-2zm7 0h2v2h-2zm5 0h2v2h-2zm2 0h2v2h-2zm1 0h2v2h-2zm2 0h2v2h-2zm15 0h2v2h-2zm7 0h2v2h-2zm13 0h2v2h-2zm1 0h2v2h-2zm10 0h2v2h-2zm7 0h2v2h-2zm2 0h2v2h-2zm2 0h2v2h-2zm5 0h2v2h-2zm9 0h2v2h-2zm6 0h2v2h-2zm26 0h2v2h-2zm1 0h2v2h-2zm4 0h2v2h-2zm-244 1h2v2h-2zm1 0h2v2h-2zm2 0h2v2h-2zm9 0h2v2h-2zm3 0h2v2h-2zm9 0h2v2h-2zm6 0h2v2h-2zm10 0h2v2h-2zm14 0h2v2h-2zm29 0h2v2h-2zm15 0h2v2h-2zm7 0h2v2h-2zm1 0h2v2h-2zm1 0h2v2h-2zm3 0h2v2h-2zm2 0h2v2h-2zm2 0h2v2h-2zm3 0h2v2h-2zm3 0h2v2h-2zm2 0h2v2h-2zm4 0h2v2h-2zm1 0h2v2h-2zm2 0h2v2h-2zm8 0h2v2h-2zm3 0h2v2h-2zm11 0h2v2h-2zm14 0h2v2h-2zm18 0h2v2h-2zm1 0h2v2h-2zm17 0h2v2h-2zm4 0h2v2h-2zm5 0h2v2h-2zm5 0h2v2h-2zm5 0h2v2h-2zm52 0h2v2h-2zm3 0h2v2h-2zm15 0h2v2h-2zm5 0h2v2h-2zm-311 1h2v2h-2zm17 0h2v2h-2zm3 0h2v2h-2zm2 0h2v2h-2zm11 0h2v2h-2zm7 0h2v2h-2zm2 0h2v2h-2zm11 0h2v2h-2zm5 0h2v2h-2zm4 0h2v2h-2zm5 0h2v2h-2zm10 0h2v2h-2zm4 0h2v2h-2zm24 0h2v2h-2zm5 0h2v2h-2zm34 0h2v2h-2zm3 0h2v2h-2zm14 0h2v2h-2zm20 0h2v2h-2zm18 0h2v2h-2zm20 0h2v2h-2zm24 0h2v2h-2zm39 0h2v2h-2zm27 0h2v2h-2zm1 0h2v2h-2zm-300 1h2v2h-2zm5 0h2v2h-2zm3 0h2v2h-2zm8 0h2v2h-2zm7 0h2v2h-2zm3 0h2v2h-2zm8 0h2v2h-2zm17 0h2v2h-2zm8 0h2v2h-2zm3 0h2v2h-2zm2 0h2v2h-2zm2 0h2v2h-2zm7 0h2v2h-2zm1 0h2v2h-2zm1 0h2v2h-2zm10 0h2v2h-2zm2 0h2v2h-2zm5 0h2v2h-2zm4 0h2v2h-2zm1 0h2v2h-2zm7 0h2v2h-2zm2 0h2v2h-2zm15 0h2v2h-2zm1 0h2v2h-2zm1 0h2v2h-2zm4 0h2v2h-2zm1 0h2v2h-2zm11 0h2v2h-2zm8 0h2v2h-2zm16 0h2v2h-2zm5 0h2v2h-2zm1 0h2v2h-2zm2 0h2v2h-2zm1 0h2v2h-2zm12 0h2v2h-2zm29 0h2v2h-2zm1 0h2v2h-2zm1 0h2v2h-2zm36 0h2v2h-2zm-248 1h2v2h-2zm3 0h2v2h-2zm1 0h2v2h-2zm1 0h2v2h-2zm19 0h2v2h-2zm2 0h2v2h-2zm14 0h2v2h-2zm1 0h2v2h-2zm1 0h2v2h-2zm5 0h2v2h-2zm1 0h2v2h-2zm20 0h2v2h-2zm13 0h2v2h-2zm2 0h2v2h-2zm11 0h2v2h-2zm8 0h2v2h-2zm10 0h2v2h-2zm1 0h2v2h-2zm3 0h2v2h-2zm2 0h2v2h-2zm21 0h2v2h-2zm1 0h2v2h-2zm57 0h2v2h-2zm-192 1h2v2h-2zm4 0h2v2h-2zm5 0h2v2h-2zm14 0h2v2h-2zm2 0h2v2h-2zm12 0h2v2h-2zm2 0h2v2h-2zm6 0h2v2h-2zm8 0h2v2h-2zm7 0h2v2h-2zm4 0h2v2h-2zm5 0h2v2h-2zm8 0h2v2h-2zm3 0h2v2h-2zm5 0h2v2h-2zm7 0h2v2h-2zm15 0h2v2h-2zm33 0h2v2h-2zm12 0h2v2h-2zm36 0h2v2h-2zm37 0h2v2h-2zm-223 1h2v2h-2zm4 0h2v2h-2zm6 0h2v2h-2zm3 0h2v2h-2zm7 0h2v2h-2zm17 0h2v2h-2zm6 0h2v2h-2zm3 0h2v2h-2zm11 0h2v2h-2zm7 0h2v2h-2zm1 0h2v2h-2zm3 0h2v2h-2zm1 0h2v2h-2zm12 0h2v2h-2zm24 0h2v2h-2zm4 0h2v2h-2zm29 0h2v2h-2zm16 0h2v2h-2zm16 0h2v2h-2zm3 0h2v2h-2zm58 0h2v2h-2zm-242 1h2v2h-2zm8 0h2v2h-2zm3 0h2v2h-2zm5 0h2v2h-2zm1 0h2v2h-2zm3 0h2v2h-2zm1 0h2v2h-2zm5 0h2v2h-2zm15 0h2v2h-2zm4 0h2v2h-2zm3 0h2v2h-2zm3 0h2v2h-2zm1 0h2v2h-2zm2 0h2v2h-2zm4 0h2v2h-2zm1 0h2v2h-2zm12 0h2v2h-2zm2 0h2v2h-2zm1 0h2v2h-2zm8 0h2v2h-2zm17 0h2v2h-2zm3 0h2v2h-2zm13 0h2v2h-2zm5 0h2v2h-2zm9 0h2v2h-2zm22 0h2v2h-2zm37 0h2v2h-2zm49 0h2v2h-2zm4 0h2v2h-2zm-219 1h2v2h-2zm11 0h2v2h-2zm13 0h2v2h-2zm8 0h2v2h-2zm28 0h2v2h-2zm15 0h2v2h-2zm35 0h2v2h-2zm13 0h2v2h-2zm114 0h2v2h-2zm-258 1h2v2h-2zm15 0h2v2h-2zm1 0h2v2h-2zm1 0h2v2h-2zm7 0h2v2h-2zm2 0h2v2h-2zm7 0h2v2h-2zm12 0h2v2h-2zm4 0h2v2h-2zm13 0h2v2h-2zm9 0h2v2h-2zm2 0h2v2h-2zm9 0h2v2h-2zm11 0h2v2h-2zm3 0h2v2h-2zm4 0h2v2h-2zm15 0h2v2h-2zm6 0h2v2h-2zm4 0h2v2h-2zm10 0h2v2h-2zm28 0h2v2h-2zm9 0h2v2h-2zm-164 1h2v2h-2zm5 0h2v2h-2zm18 0h2v2h-2zm10 0h2v2h-2zm6 0h2v2h-2zm1 0h2v2h-2zm34 0h2v2h-2zm75 0h2v2h-2zm12 0h2v2h-2zm-168 1h2v2h-2zm14 0h2v2h-2zm2 0h2v2h-2zm7 0h2v2h-2zm8 0h2v2h-2zm13 0h2v2h-2zm3 0h2v2h-2zm41 0h2v2h-2zm25 0h2v2h-2zm17 0h2v2h-2zm14 0h2v2h-2zm48 0h2v2h-2zm-185 1h2v2h-2zm5 0h2v2h-2zm19 0h2v2h-2zm2 0h2v2h-2zm25 0h2v2h-2zm19 0h2v2h-2zm4 0h2v2h-2zm2 0h2v2h-2zm12 0h2v2h-2zm-82 1h2v2h-2zm8 0h2v2h-2zm21 0h2v2h-2zm7 0h2v2h-2zm10 0h2v2h-2zm12 0h2v2h-2zm-76 1h2v2h-2zm26 0h2v2h-2zm21 0h2v2h-2zm49 0h2v2h-2zm-84 1h2v2h-2zm6 0h2v2h-2zm42 0h2v2h-2zm2 0h2v2h-2zm16 0h2v2h-2zm1 0h2v2h-2zm22 0h2v2h-2zm-91 1h2v2h-2zm6 0h2v2h-2zm65 0h2v2h-2zm-29 1h2v2h-2zm7 1h2v2h-2zm-50 1h2v2h-2zm3 1h2v2h-2zm41 0h2v2h-2zm-25 1h2v2h-2zm-23 1h2v2h-2zm26 0h2v2h-2z" fill="#0000ff"/><line x1="769.5" y1="221.5" x2="769.5" y2="710" stroke="#fff" stroke-opacity="0.7" stroke-width="1"/><line x1="769.5" y1="221.5" x2="769.5" y2="710" stroke="#000" stroke-width="1.2" stroke-dasharray="1.2 1.8"/><line x1="850.5" y1="221.5" x2="850.5" y2="710" stroke="#fff" stroke-opacity="0.7" stroke-width="1"/><line x1="850.5" y1="221.5" x2="850.5" y2="710" stroke="#000" stroke-width="1.2" stroke-dasharray="1.2 1.8"/><line x1="930.5" y1="221.5" x2="930.5" y2="710" stroke="#fff" stroke-opacity="0.7" stroke-width="1"/><line x1="930.5" y1="221.5" x2="930.5" y2="710" stroke="#000" stroke-width="1.2" stroke-dasharray="1.2 1.8"/><line x1="1011.5" y1="221.5" x2="1011.5" y2="710" stroke="#fff" stroke-opacity="0.7" stroke-width="1"/><line x1="1011.5" y1="221.5" x2="1011.5" y2="710" stroke="#000" stroke-width="1.2" stroke-dasharray="1.2 1.8"/><line x1="1091.5" y1="221.5" x2="1091.5" y2="710" stroke="#fff" stroke-opacity="0.7" stroke-width="1"/><line x1="1091.5" y1="221.5" x2="1091.5" y2="710" stroke="#000" stroke-width="1.2" stroke-dasharray="1.2 1.8"/><line x1="1172.5" y1="221.5" x2="1172.5" y2="710" stroke="#fff" stroke-opacity="0.7" stroke-width="1"/><line x1="1172.5" y1="221.5" x2="1172.5" y2="710" stroke="#000" stroke-width="1.2" stroke-dasharray="1.2 1.8"/><line x1="1252.5" y1="221.5" x2="1252.5" y2="710" stroke="#fff" stroke-opacity="0.7" stroke-width="1"/><line x1="1252.5" y1="221.5" x2="1252.5" y2="710" stroke="#000" stroke-width="1.2" stroke-dasharray="1.2 1.8"/><line x1="766" y1="224.5" x2="1255" y2="224.5" stroke="#fff" stroke-opacity="0.7" stroke-width="1"/><line x1="766" y1="224.5" x2="1255" y2="224.5" stroke="#000" stroke-width="1.2" stroke-dasharray="1.2 1.8"/><line x1="766" y1="305.5" x2="1255" y2="305.5" stroke="#fff" stroke-opacity="0.7" stroke-width="1"/><line x1="766" y1="305.5" x2="1255" y2="305.5" stroke="#000" stroke-width="1.2" stroke-dasharray="1.2 1.8"/><line x1="766" y1="385.5" x2="1255" y2="385.5" stroke="#fff" stroke-opacity="0.7" stroke-width="1"/><line x1="766" y1="385.5" x2="1255" y2="385.5" stroke="#000" stroke-width="1.2" stroke-dasharray="1.2 1.8"/><line x1="766" y1="465.5" x2="1255" y2="465.5" stroke="#fff" stroke-opacity="0.7" stroke-width="1"/><line x1="766" y1="465.5" x2="1255" y2="465.5" stroke="#000" stroke-width="1.2" stroke-dasharray="1.2 1.8"/><line x1="766" y1="546.5" x2="1255" y2="546.5" stroke="#fff" stroke-opacity="0.7" stroke-width="1"/><line x1="766" y1="546.5" x2="1255" y2="546.5" stroke="#000" stroke-width="1.2" stroke-dasharray="1.2 1.8"/><line x1="766" y1="627.5" x2="1255" y2="627.5" stroke="#fff" stroke-opacity="0.7" stroke-width="1"/><line x1="766" y1="627.5" x2="1255" y2="627.5" stroke="#000" stroke-width="1.2" stroke-dasharray="1.2 1.8"/><line x1="766" y1="707.5" x2="1255" y2="707.5" stroke="#fff" stroke-opacity="0.7" stroke-width="1"/><line x1="766" y1="707.5" x2="1255" y2="707.5" stroke="#000" stroke-width="1.2" stroke-dasharray="1.2 1.8"/></svg>
<div style="position:absolute;left:1268px;top:173px;width:228px;height:129px;border:1px solid #d5dfe5;border-radius:3px;box-shadow:inset 1px 1px 0 #fff;z-index:11"></div>
<div style="position:absolute;left:1272px;top:171px;width:105px;height:5px;background:#f0f0f0;z-index:11"></div>
<div class="t" style="top:167.69px;font-size:11px;line-height:11px;color:#000;left:1275px;z-index:12;">Параметры поиска</div>
<div class="t" style="top:193.69px;font-size:11px;line-height:11px;color:#000;right:300px;z-index:12;">Частота</div>
<div class="t" style="top:221.69px;font-size:11px;line-height:11px;color:#000;right:300px;z-index:12;">Ширина</div>
<div class="t" style="top:249.69px;font-size:11px;line-height:11px;color:#000;right:300px;z-index:12;">Стандарт</div>
<div class="t" style="top:277.69px;font-size:11px;line-height:11px;color:#000;right:300px;z-index:12;">Симв. скорость</div>
<div style="position:absolute;left:1385px;top:189px;width:105px;height:18px;border:1px solid #bcbcbc;border-top-color:#a8a8a8;background:#fff;z-index:12"></div>
<div style="position:absolute;left:1476px;top:191px;width:12px;height:6px;border:1px solid #b8b8b8;background:linear-gradient(180deg,#f6f6f6,#e6e6e6);z-index:12"></div>
<div style="position:absolute;left:1479.5px;top:192.5px;width:0;height:0;border-left:3.5px solid transparent;border-right:3.5px solid transparent;border-bottom:3px solid #4d6bb8;z-index:12"></div>
<div style="position:absolute;left:1476px;top:199px;width:12px;height:6px;border:1px solid #b8b8b8;background:linear-gradient(180deg,#f6f6f6,#e6e6e6);z-index:12"></div>
<div style="position:absolute;left:1479.5px;top:201.5px;width:0;height:0;border-left:3.5px solid transparent;border-right:3.5px solid transparent;border-top:3px solid #4d6bb8;z-index:12"></div>
<div class="t" style="top:194.69px;font-size:11px;line-height:11px;color:#000;left:1389px;z-index:12;">554,000 МГц</div>
<div style="position:absolute;left:1385px;top:217px;width:105px;height:18px;border:1px solid #bcbcbc;border-top-color:#a8a8a8;background:#fff;z-index:12"></div>
<div style="position:absolute;left:1476px;top:219px;width:12px;height:6px;border:1px solid #b8b8b8;background:linear-gradient(180deg,#f6f6f6,#e6e6e6);z-index:12"></div>
<div style="position:absolute;left:1479.5px;top:220.5px;width:0;height:0;border-left:3.5px solid transparent;border-right:3.5px solid transparent;border-bottom:3px solid #4d6bb8;z-index:12"></div>
<div style="position:absolute;left:1476px;top:227px;width:12px;height:6px;border:1px solid #b8b8b8;background:linear-gradient(180deg,#f6f6f6,#e6e6e6);z-index:12"></div>
<div style="position:absolute;left:1479.5px;top:229.5px;width:0;height:0;border-left:3.5px solid transparent;border-right:3.5px solid transparent;border-top:3px solid #4d6bb8;z-index:12"></div>
<div class="t" style="top:222.69px;font-size:11px;line-height:11px;color:#000;left:1389px;z-index:12;">8 МГц</div>
<div style="position:absolute;left:1385px;top:245px;width:105px;height:18px;border:1px solid #707070;border-radius:3px;background:linear-gradient(180deg,#f4f4f4 0%,#ececec 50%,#dddddd 51%,#d0d0d0 100%);box-shadow:inset 0 0 0 1px rgba(255,255,255,0.6);z-index:12"></div>
<div style="position:absolute;left:1479px;top:253.0px;width:0;height:0;border-left:4px solid transparent;border-right:4px solid transparent;border-top:4px solid #000;z-index:12"></div>
<div class="t" style="top:249.69px;font-size:11px;line-height:11px;color:#000;left:1389px;z-index:12;">AUTO</div>
<div style="position:absolute;left:1385px;top:273px;width:105px;height:18px;border:1px solid #d9d9d9;border-top-color:#d0d0d0;background:#f0f0f0;z-index:12"></div>
<div style="position:absolute;left:1476px;top:275px;width:12px;height:6px;border:1px solid #d8d8d8;background:linear-gradient(180deg,#f6f6f6,#e6e6e6);z-index:12"></div>
<div style="position:absolute;left:1479.5px;top:276.5px;width:0;height:0;border-left:3.5px solid transparent;border-right:3.5px solid transparent;border-bottom:3px solid #b0b0b0;z-index:12"></div>
<div style="position:absolute;left:1476px;top:283px;width:12px;height:6px;border:1px solid #d8d8d8;background:linear-gradient(180deg,#f6f6f6,#e6e6e6);z-index:12"></div>
<div style="position:absolute;left:1479.5px;top:285.5px;width:0;height:0;border-left:3.5px solid transparent;border-right:3.5px solid transparent;border-top:3px solid #b0b0b0;z-index:12"></div>
<div class="t" style="top:278.69px;font-size:11px;line-height:11px;color:#9a9a9a;left:1389px;z-index:12;">6900</div>
<div class="t" style="top:339.69px;font-size:11px;line-height:11px;color:#000;left:1280px;z-index:12;">Размер точки</div>
<div style="position:absolute;left:1351px;top:336px;width:39px;height:18px;border:1px solid #bcbcbc;border-top-color:#a8a8a8;background:#fff;z-index:12"></div>
<div style="position:absolute;left:1376px;top:338px;width:12px;height:6px;border:1px solid #b8b8b8;background:linear-gradient(180deg,#f6f6f6,#e6e6e6);z-index:12"></div>
<div style="position:absolute;left:1379.5px;top:339.5px;width:0;height:0;border-left:3.5px solid transparent;border-right:3.5px solid transparent;border-bottom:3px solid #4d6bb8;z-index:12"></div>
<div style="position:absolute;left:1376px;top:346px;width:12px;height:6px;border:1px solid #b8b8b8;background:linear-gradient(180deg,#f6f6f6,#e6e6e6);z-index:12"></div>
<div style="position:absolute;left:1379.5px;top:348.5px;width:0;height:0;border-left:3.5px solid transparent;border-right:3.5px solid transparent;border-top:3px solid #4d6bb8;z-index:12"></div>
<div class="t" style="top:340.69px;font-size:11px;line-height:11px;color:#000;left:1355px;z-index:12;">2</div>
<div style="position:absolute;left:1442px;top:317px;width:44px;height:44px;border:1px solid #6a6a6a;background:#fff;z-index:12"></div>
<svg style="position:absolute;z-index:13;left:1443px;top:317px" width="44" height="44" viewBox="0 0 24 24">
<defs><linearGradient id="cg1443" x1="0" y1="0" x2="0" y2="1"><stop offset="0" stop-color="#d4eefc"/><stop offset="0.45" stop-color="#9ed4c0"/><stop offset="1" stop-color="#5cb884"/></linearGradient></defs>
<circle cx="12" cy="12" r="11.4" fill="url(#cg1443)" stroke="#7a9a8a" stroke-width="0.4"/>
<ellipse cx="6.8" cy="8.6" rx="2.6" ry="1.1" transform="rotate(-50 6.8 8.6)" fill="#ee6a2a"/><path d="M7.8 5.2 L9.6 6.2 L8.6 7.2 Z" fill="#ee6a2a"/>
<ellipse cx="14" cy="5.4" rx="3" ry="1.2" transform="rotate(-12 14 5.4)" fill="#ee6a2a"/><path d="M9.5 6.6 L11.2 5.4 L11.4 7 Z" fill="#ee6a2a"/>
<ellipse cx="16.8" cy="11.3" rx="1" ry="1.9" transform="rotate(25 16.8 11.3)" fill="#ee6a2a"/>
<path d="M3.8 8.5 L9.5 14.6 L8.3 15.8 Z" fill="#000"/>
<path d="M19 8.2 L20.2 8.8 L19.5 15.5 L17 18.5 L15.8 16.5 L18.2 14 Z" fill="#000"/>
<ellipse cx="12.3" cy="16.5" rx="4.3" ry="3.1" fill="#000"/>
<path d="M6.5 20 L9.5 18.5 L10.5 21.5 Z M14 21.5 L15 18.5 L18.5 19 Z" fill="#000"/>
<circle cx="10.7" cy="16.3" r="1.5" fill="#44aaf0"/><circle cx="13.6" cy="15.6" r="1.5" fill="#44aaf0"/>
<path d="M10.5 20.8 L13.8 20.8 L13.2 23 L11 23 Z" fill="#f0f0c0"/>
</svg>
<div class="t" style="top:360.69px;font-size:11px;line-height:11px;color:#000;left:1276px;z-index:12;">IQScan point</div>
<div style="position:absolute;left:1277px;top:376px;width:159px;height:18px;border:1px solid #707070;border-radius:3px;background:linear-gradient(180deg,#f4f4f4 0%,#ececec 50%,#dddddd 51%,#d0d0d0 100%);box-shadow:inset 0 0 0 1px rgba(255,255,255,0.6);z-index:12"></div>
<div style="position:absolute;left:1425px;top:384.0px;width:0;height:0;border-left:4px solid transparent;border-right:4px solid transparent;border-top:4px solid #000;z-index:12"></div>
<div class="t" style="top:380.69px;font-size:11px;line-height:11px;color:#000;left:1281px;z-index:12;">FFT output</div>
<div style="position:absolute;left:1442px;top:376px;width:48px;height:18px;border:1px solid #bcbcbc;border-top-color:#a8a8a8;background:#fff;z-index:12"></div>
<div style="position:absolute;left:1476px;top:378px;width:12px;height:6px;border:1px solid #b8b8b8;background:linear-gradient(180deg,#f6f6f6,#e6e6e6);z-index:12"></div>
<div style="position:absolute;left:1479.5px;top:379.5px;width:0;height:0;border-left:3.5px solid transparent;border-right:3.5px solid transparent;border-bottom:3px solid #4d6bb8;z-index:12"></div>
<div style="position:absolute;left:1476px;top:386px;width:12px;height:6px;border:1px solid #b8b8b8;background:linear-gradient(180deg,#f6f6f6,#e6e6e6);z-index:12"></div>
<div style="position:absolute;left:1479.5px;top:388.5px;width:0;height:0;border-left:3.5px solid transparent;border-right:3.5px solid transparent;border-top:3px solid #4d6bb8;z-index:12"></div>
<div class="t" style="top:380.69px;font-size:11px;line-height:11px;color:#000;left:1446px;z-index:12;">2048</div>
<div style="position:absolute;left:1381px;top:409px;width:11px;height:11px;border:1px solid #8f8f8f;background:linear-gradient(135deg,#d8dce0,#f4f4f4);box-shadow:inset 0 0 0 1px #fff;z-index:12"></div>
<svg style="position:absolute;left:1381px;top:409px;z-index:12" width="13" height="13" viewBox="0 0 13 13"><path d="M3 6.5 L5.5 9.5 L10 2.5" fill="none" stroke="#3c4c8c" stroke-width="1.6"/></svg>
<div class="t" style="top:410.69px;font-size:11px;line-height:11px;color:#000;left:1398px;z-index:12;">Все поднесущие</div>
<div style="position:absolute;left:1271px;top:453px;width:229px;height:101px;border:1px solid #d5dfe5;border-radius:3px;box-shadow:inset 1px 1px 0 #fff;z-index:11"></div>
<div style="position:absolute;left:1276px;top:451px;width:99px;height:5px;background:#f0f0f0;z-index:11"></div>
<div class="t" style="top:447.69px;font-size:11px;line-height:11px;color:#000;left:1279px;z-index:12;">Передача потока</div>
<div class="t" style="top:461.69px;font-size:11px;line-height:11px;color:#000;left:1281px;z-index:12;">Протокол</div>
<div class="t" style="top:460.69px;font-size:11px;line-height:11px;color:#000;left:1397px;z-index:12;">IP-адрес</div>
<div class="t" style="top:458.69px;font-size:11px;line-height:11px;color:#000;left:1450px;z-index:12;">Порт</div>
<div style="position:absolute;left:1281px;top:477px;width:49px;height:19px;border:1px solid #707070;border-radius:3px;background:linear-gradient(180deg,#f4f4f4 0%,#ececec 50%,#dddddd 51%,#d0d0d0 100%);box-shadow:inset 0 0 0 1px rgba(255,255,255,0.6);z-index:12"></div>
<div style="position:absolute;left:1319px;top:485.5px;width:0;height:0;border-left:4px solid transparent;border-right:4px solid transparent;border-top:4px solid #000;z-index:12"></div>
<div class="t" style="top:482.69px;font-size:11px;line-height:11px;color:#000;left:1285px;z-index:12;">TCP</div>
<div style="position:absolute;left:1331px;top:477px;width:109px;height:19px;border:1px solid #707070;border-radius:3px;background:linear-gradient(180deg,#f4f4f4 0%,#ececec 50%,#dddddd 51%,#d0d0d0 100%);box-shadow:inset 0 0 0 1px rgba(255,255,255,0.6);z-index:12"></div>
<div style="position:absolute;left:1429px;top:485.5px;width:0;height:0;border-left:4px solid transparent;border-right:4px solid transparent;border-top:4px solid #000;z-index:12"></div>
<div class="t" style="top:482.69px;font-size:11px;line-height:11px;color:#000;left:1335px;z-index:12;">127.0.0.1</div>
<div style="position:absolute;left:1442px;top:477px;width:48px;height:18px;border:1px solid #bcbcbc;border-top-color:#a8a8a8;background:#fff;z-index:12"></div>
<div style="position:absolute;left:1476px;top:479px;width:12px;height:6px;border:1px solid #b8b8b8;background:linear-gradient(180deg,#f6f6f6,#e6e6e6);z-index:12"></div>
<div style="position:absolute;left:1479.5px;top:480.5px;width:0;height:0;border-left:3.5px solid transparent;border-right:3.5px solid transparent;border-bottom:3px solid #4d6bb8;z-index:12"></div>
<div style="position:absolute;left:1476px;top:487px;width:12px;height:6px;border:1px solid #b8b8b8;background:linear-gradient(180deg,#f6f6f6,#e6e6e6);z-index:12"></div>
<div style="position:absolute;left:1479.5px;top:489.5px;width:0;height:0;border-left:3.5px solid transparent;border-right:3.5px solid transparent;border-top:3px solid #4d6bb8;z-index:12"></div>
<div class="t" style="top:482.69px;font-size:11px;line-height:11px;color:#000;left:1446px;z-index:12;">6969</div>
<div style="position:absolute;left:1281px;top:508px;width:11px;height:11px;border:1px solid #8f8f8f;background:linear-gradient(135deg,#d8dce0,#f4f4f4);box-shadow:inset 0 0 0 1px #fff;z-index:12"></div>
<div class="t" style="top:508.69px;font-size:11px;line-height:11px;color:#000;left:1298px;z-index:12;">Поток в файл</div>
<div class="t" style="top:510.69px;font-size:11px;line-height:11px;color:#000;left:1405px;z-index:12;">Размер буфера</div>
<div style="position:absolute;left:1281px;top:527px;width:119px;height:19px;border:1px solid #707070;border-radius:3px;background:linear-gradient(180deg,#f4f4f4 0%,#ececec 50%,#dddddd 51%,#d0d0d0 100%);box-shadow:inset 0 0 0 1px rgba(255,255,255,0.6);z-index:12"></div>
<div style="position:absolute;left:1389px;top:535.5px;width:0;height:0;border-left:4px solid transparent;border-right:4px solid transparent;border-top:4px solid #000;z-index:12"></div>
<div class="t" style="top:532.69px;font-size:11px;line-height:11px;color:#000;left:1285px;z-index:12;">TSReader</div>
<div style="position:absolute;left:1411px;top:526px;width:69px;height:18px;border:1px solid #bcbcbc;border-top-color:#a8a8a8;background:#fff;z-index:12"></div>
<div style="position:absolute;left:1466px;top:528px;width:12px;height:6px;border:1px solid #b8b8b8;background:linear-gradient(180deg,#f6f6f6,#e6e6e6);z-index:12"></div>
<div style="position:absolute;left:1469.5px;top:529.5px;width:0;height:0;border-left:3.5px solid transparent;border-right:3.5px solid transparent;border-bottom:3px solid #4d6bb8;z-index:12"></div>
<div style="position:absolute;left:1466px;top:536px;width:12px;height:6px;border:1px solid #b8b8b8;background:linear-gradient(180deg,#f6f6f6,#e6e6e6);z-index:12"></div>
<div style="position:absolute;left:1469.5px;top:538.5px;width:0;height:0;border-left:3.5px solid transparent;border-right:3.5px solid transparent;border-top:3px solid #4d6bb8;z-index:12"></div>
<div class="t" style="top:530.69px;font-size:11px;line-height:11px;color:#000;left:1415px;z-index:12;">96256</div>
<div style="position:absolute;left:1287px;top:577px;width:139px;height:28px;border:1px solid #a8a8a8;border-right-color:#fff;border-bottom-color:#fff;box-shadow:1px 1px 0 #a8a8a8;z-index:12"></div>
<div style="position:absolute;left:1406px;top:582px;width:6px;height:16px;border:1px solid #8a8a8a;border-radius:2px;z-index:12"></div>
<svg style="position:absolute;left:1452px;top:577px;z-index:12" width="39" height="39" viewBox="0 0 39 39">
<rect x="0.5" y="0.5" width="38" height="38" rx="2" fill="#000033" stroke="#2a2a3a" stroke-width="0.8"/>
<path fill="#fafafa" fill-rule="evenodd" d="M2.3 11 H8.5 C13 11 14.5 14.5 14.5 19.2 C14.5 24 13 27.5 8.5 27.5 H2.3 Z M6.2 14.7 V23.8 H8.2 C10 23.8 10.6 22 10.6 19.2 C10.6 16.5 10 14.7 8.2 14.7 Z
M12.3 11 H17 L20.6 22 L18.6 27.5 H15.9 Z
M24.5 11 H32 C35 11 36 13 36 15 C36 17 35 18.3 33.8 19 C35.5 19.7 36.5 21.3 36.5 23.2 C36.5 26 34.8 27.5 31.5 27.5 H18.8 Z M27.3 14.7 H31.2 C32.3 14.7 32.6 15.4 32.6 16.2 C32.6 17.2 32 17.8 31 17.8 H26.4 Z M25.5 21 H31.5 C32.6 21 33 21.7 33 22.5 C33 23.4 32.5 23.8 31.5 23.8 H24.5 Z"/>
</svg>
<div style="position:absolute;left:762px;top:722px;width:737px;height:182px;border:1px solid #d5dfe5;border-radius:3px;box-shadow:inset 1px 1px 0 #fff;z-index:11"></div>
<div style="position:absolute;left:766px;top:720px;width:111px;height:5px;background:#f0f0f0;z-index:11"></div>
<div class="t" style="top:716.69px;font-size:11px;line-height:11px;color:#000;left:769px;z-index:12;">Результаты поиска</div>
<div class="t" style="top:738.69px;font-size:11px;line-height:11px;color:#000;right:833px;z-index:12;">RF уровень</div>
<div style="position:absolute;left:852px;top:734px;width:102px;height:18px;border:1px solid #bcbcbc;border-top-color:#a8a8a8;background:#fff;z-index:12"></div>
<div style="position:absolute;left:940px;top:736px;width:12px;height:6px;border:1px solid #b8b8b8;background:linear-gradient(180deg,#f6f6f6,#e6e6e6);z-index:12"></div>
<div style="position:absolute;left:943.5px;top:737.5px;width:0;height:0;border-left:3.5px solid transparent;border-right:3.5px solid transparent;border-bottom:3px solid #4d6bb8;z-index:12"></div>
<div style="position:absolute;left:940px;top:744px;width:12px;height:6px;border:1px solid #b8b8b8;background:linear-gradient(180deg,#f6f6f6,#e6e6e6);z-index:12"></div>
<div style="position:absolute;left:943.5px;top:746.5px;width:0;height:0;border-left:3.5px solid transparent;border-right:3.5px solid transparent;border-top:3px solid #4d6bb8;z-index:12"></div>
<div class="t" style="top:738.69px;font-size:11px;line-height:11px;color:#000;left:856px;z-index:12;">-73 dBm</div>
<div class="t" style="top:762.69px;font-size:11px;line-height:11px;color:#000;right:833px;z-index:12;">Сигнал/Шум</div>
<div style="position:absolute;left:852px;top:758px;width:102px;height:18px;border:1px solid #bcbcbc;border-top-color:#a8a8a8;background:#fff;z-index:12"></div>
<div style="position:absolute;left:940px;top:760px;width:12px;height:6px;border:1px solid #b8b8b8;background:linear-gradient(180deg,#f6f6f6,#e6e6e6);z-index:12"></div>
<div style="position:absolute;left:943.5px;top:761.5px;width:0;height:0;border-left:3.5px solid transparent;border-right:3.5px solid transparent;border-bottom:3px solid #4d6bb8;z-index:12"></div>
<div style="position:absolute;left:940px;top:768px;width:12px;height:6px;border:1px solid #b8b8b8;background:linear-gradient(180deg,#f6f6f6,#e6e6e6);z-index:12"></div>
<div style="position:absolute;left:943.5px;top:770.5px;width:0;height:0;border-left:3.5px solid transparent;border-right:3.5px solid transparent;border-top:3px solid #4d6bb8;z-index:12"></div>
<div class="t" style="top:762.69px;font-size:11px;line-height:11px;color:#000;left:856px;z-index:12;">24,75 dB</div>
<div class="t" style="top:786.69px;font-size:11px;line-height:11px;color:#000;right:833px;z-index:12;">BER</div>
<div style="position:absolute;left:852px;top:782px;width:102px;height:18px;border:1px solid #bcbcbc;border-top-color:#a8a8a8;background:#fff;z-index:12"></div>
<div style="position:absolute;left:940px;top:784px;width:12px;height:6px;border:1px solid #b8b8b8;background:linear-gradient(180deg,#f6f6f6,#e6e6e6);z-index:12"></div>
<div style="position:absolute;left:943.5px;top:785.5px;width:0;height:0;border-left:3.5px solid transparent;border-right:3.5px solid transparent;border-bottom:3px solid #4d6bb8;z-index:12"></div>
<div style="position:absolute;left:940px;top:792px;width:12px;height:6px;border:1px solid #b8b8b8;background:linear-gradient(180deg,#f6f6f6,#e6e6e6);z-index:12"></div>
<div style="position:absolute;left:943.5px;top:794.5px;width:0;height:0;border-left:3.5px solid transparent;border-right:3.5px solid transparent;border-top:3px solid #4d6bb8;z-index:12"></div>
<div class="t" style="top:786.69px;font-size:11px;line-height:11px;color:#000;left:856px;z-index:12;">0,0000002</div>
<div class="t" style="top:810.69px;font-size:11px;line-height:11px;color:#000;right:833px;z-index:12;">preBER</div>
<div style="position:absolute;left:852px;top:806px;width:102px;height:18px;border:1px solid #bcbcbc;border-top-color:#a8a8a8;background:#fff;z-index:12"></div>
<div style="position:absolute;left:940px;top:808px;width:12px;height:6px;border:1px solid #b8b8b8;background:linear-gradient(180deg,#f6f6f6,#e6e6e6);z-index:12"></div>
<div style="position:absolute;left:943.5px;top:809.5px;width:0;height:0;border-left:3.5px solid transparent;border-right:3.5px solid transparent;border-bottom:3px solid #4d6bb8;z-index:12"></div>
<div style="position:absolute;left:940px;top:816px;width:12px;height:6px;border:1px solid #b8b8b8;background:linear-gradient(180deg,#f6f6f6,#e6e6e6);z-index:12"></div>
<div style="position:absolute;left:943.5px;top:818.5px;width:0;height:0;border-left:3.5px solid transparent;border-right:3.5px solid transparent;border-top:3px solid #4d6bb8;z-index:12"></div>
<div class="t" style="top:810.69px;font-size:11px;line-height:11px;color:#000;left:856px;z-index:12;">0,0000000</div>
<div class="t" style="top:834.69px;font-size:11px;line-height:11px;color:#000;right:833px;z-index:12;">Bitrate</div>
<div style="position:absolute;left:852px;top:830px;width:102px;height:18px;border:1px solid #bcbcbc;border-top-color:#a8a8a8;background:#fff;z-index:12"></div>
<div style="position:absolute;left:940px;top:832px;width:12px;height:6px;border:1px solid #b8b8b8;background:linear-gradient(180deg,#f6f6f6,#e6e6e6);z-index:12"></div>
<div style="position:absolute;left:943.5px;top:833.5px;width:0;height:0;border-left:3.5px solid transparent;border-right:3.5px solid transparent;border-bottom:3px solid #4d6bb8;z-index:12"></div>
<div style="position:absolute;left:940px;top:840px;width:12px;height:6px;border:1px solid #b8b8b8;background:linear-gradient(180deg,#f6f6f6,#e6e6e6);z-index:12"></div>
<div style="position:absolute;left:943.5px;top:842.5px;width:0;height:0;border-left:3.5px solid transparent;border-right:3.5px solid transparent;border-top:3px solid #4d6bb8;z-index:12"></div>
<div class="t" style="top:834.69px;font-size:11px;line-height:11px;color:#000;left:856px;z-index:12;">32,460 Мбит/с</div>
<div style="position:absolute;left:766px;top:857px;width:11px;height:11px;border:1px solid #8f8f8f;background:linear-gradient(135deg,#d8dce0,#f4f4f4);box-shadow:inset 0 0 0 1px #fff;z-index:12"></div>
<svg style="position:absolute;left:766px;top:857px;z-index:12" width="13" height="13" viewBox="0 0 13 13"><path d="M3 6.5 L5.5 9.5 L10 2.5" fill="none" stroke="#3c4c8c" stroke-width="1.6"/></svg>
<div class="t" style="top:858.69px;font-size:11px;line-height:11px;color:#000;left:783px;z-index:12;">Обновлять SNR,BER</div>
<div style="position:absolute;left:766px;top:881px;width:11px;height:11px;border:1px solid #8f8f8f;background:linear-gradient(135deg,#d8dce0,#f4f4f4);box-shadow:inset 0 0 0 1px #fff;z-index:12"></div>
<div class="t" style="top:882.69px;font-size:11px;line-height:11px;color:#000;left:783px;z-index:12;">Обновлять инфо о модуляции</div>
<div class="t" style="top:738.69px;font-size:11px;line-height:11px;color:#000;right:638px;z-index:12;">Частота</div>
<div style="position:absolute;left:1047px;top:734px;width:93px;height:18px;border:1px solid #bcbcbc;border-top-color:#a8a8a8;background:#fff;z-index:12"></div>
<div style="position:absolute;left:1126px;top:736px;width:12px;height:6px;border:1px solid #b8b8b8;background:linear-gradient(180deg,#f6f6f6,#e6e6e6);z-index:12"></div>
<div style="position:absolute;left:1129.5px;top:737.5px;width:0;height:0;border-left:3.5px solid transparent;border-right:3.5px solid transparent;border-bottom:3px solid #4d6bb8;z-index:12"></div>
<div style="position:absolute;left:1126px;top:744px;width:12px;height:6px;border:1px solid #b8b8b8;background:linear-gradient(180deg,#f6f6f6,#e6e6e6);z-index:12"></div>
<div style="position:absolute;left:1129.5px;top:746.5px;width:0;height:0;border-left:3.5px solid transparent;border-right:3.5px solid transparent;border-top:3px solid #4d6bb8;z-index:12"></div>
<div class="t" style="top:738.69px;font-size:11px;line-height:11px;color:#000;left:1051px;z-index:12;">554,013 МГц</div>
<div class="t" style="top:762.69px;font-size:11px;line-height:11px;color:#000;right:638px;z-index:12;">Ширина</div>
<div style="position:absolute;left:1047px;top:758px;width:93px;height:18px;border:1px solid #bcbcbc;border-top-color:#a8a8a8;background:#fff;z-index:12"></div>
<div style="position:absolute;left:1126px;top:760px;width:12px;height:6px;border:1px solid #b8b8b8;background:linear-gradient(180deg,#f6f6f6,#e6e6e6);z-index:12"></div>
<div style="position:absolute;left:1129.5px;top:761.5px;width:0;height:0;border-left:3.5px solid transparent;border-right:3.5px solid transparent;border-bottom:3px solid #4d6bb8;z-index:12"></div>
<div style="position:absolute;left:1126px;top:768px;width:12px;height:6px;border:1px solid #b8b8b8;background:linear-gradient(180deg,#f6f6f6,#e6e6e6);z-index:12"></div>
<div style="position:absolute;left:1129.5px;top:770.5px;width:0;height:0;border-left:3.5px solid transparent;border-right:3.5px solid transparent;border-top:3px solid #4d6bb8;z-index:12"></div>
<div class="t" style="top:762.69px;font-size:11px;line-height:11px;color:#000;left:1051px;z-index:12;">8,000 МГц</div>
<div class="t" style="top:786.69px;font-size:11px;line-height:11px;color:#000;right:638px;z-index:12;">Симв. скорость</div>
<div style="position:absolute;left:1047px;top:782px;width:93px;height:18px;border:1px solid #d9d9d9;border-top-color:#d0d0d0;background:#f0f0f0;z-index:12"></div>
<div style="position:absolute;left:1126px;top:784px;width:12px;height:6px;border:1px solid #d8d8d8;background:linear-gradient(180deg,#f6f6f6,#e6e6e6);z-index:12"></div>
<div style="position:absolute;left:1129.5px;top:785.5px;width:0;height:0;border-left:3.5px solid transparent;border-right:3.5px solid transparent;border-bottom:3px solid #b0b0b0;z-index:12"></div>
<div style="position:absolute;left:1126px;top:792px;width:12px;height:6px;border:1px solid #d8d8d8;background:linear-gradient(180deg,#f6f6f6,#e6e6e6);z-index:12"></div>
<div style="position:absolute;left:1129.5px;top:794.5px;width:0;height:0;border-left:3.5px solid transparent;border-right:3.5px solid transparent;border-top:3px solid #b0b0b0;z-index:12"></div>
<div class="t" style="top:786.69px;font-size:11px;line-height:11px;color:#9a9a9a;left:1051px;z-index:12;">0 Кс</div>
<div class="t" style="top:810.69px;font-size:11px;line-height:11px;color:#000;right:638px;z-index:12;">IQ-спектр</div>
<div style="position:absolute;left:1047px;top:806px;width:93px;height:19px;border:1px solid #707070;border-radius:3px;background:linear-gradient(180deg,#f4f4f4 0%,#ececec 50%,#dddddd 51%,#d0d0d0 100%);box-shadow:inset 0 0 0 1px rgba(255,255,255,0.6);z-index:12"></div>
<div style="position:absolute;left:1129px;top:814.5px;width:0;height:0;border-left:4px solid transparent;border-right:4px solid transparent;border-top:4px solid #000;z-index:12"></div>
<div class="t" style="top:810.69px;font-size:11px;line-height:11px;color:#000;left:1051px;z-index:12;">Нормальный</div>
<div class="t" style="top:834.69px;font-size:11px;line-height:11px;color:#000;right:638px;z-index:12;">Стандарт</div>
<div style="position:absolute;left:1047px;top:830px;width:93px;height:19px;border:1px solid #707070;border-radius:3px;background:linear-gradient(180deg,#f4f4f4 0%,#ececec 50%,#dddddd 51%,#d0d0d0 100%);box-shadow:inset 0 0 0 1px rgba(255,255,255,0.6);z-index:12"></div>
<div style="position:absolute;left:1129px;top:838.5px;width:0;height:0;border-left:4px solid transparent;border-right:4px solid transparent;border-top:4px solid #000;z-index:12"></div>
<div class="t" style="top:834.69px;font-size:11px;line-height:11px;color:#000;left:1051px;z-index:12;">DVB-T2</div>
<div class="t" style="top:858.69px;font-size:11px;line-height:11px;color:#000;right:638px;z-index:12;">Модуляция</div>
<div style="position:absolute;left:1047px;top:854px;width:93px;height:19px;border:1px solid #707070;border-radius:3px;background:linear-gradient(180deg,#f4f4f4 0%,#ececec 50%,#dddddd 51%,#d0d0d0 100%);box-shadow:inset 0 0 0 1px rgba(255,255,255,0.6);z-index:12"></div>
<div style="position:absolute;left:1129px;top:862.5px;width:0;height:0;border-left:4px solid transparent;border-right:4px solid transparent;border-top:4px solid #000;z-index:12"></div>
<div class="t" style="top:858.69px;font-size:11px;line-height:11px;color:#000;left:1051px;z-index:12;">256QAM</div>
<div class="t" style="top:882.69px;font-size:11px;line-height:11px;color:#000;right:638px;z-index:12;">FEC</div>
<div style="position:absolute;left:1047px;top:878px;width:93px;height:19px;border:1px solid #707070;border-radius:3px;background:linear-gradient(180deg,#f4f4f4 0%,#ececec 50%,#dddddd 51%,#d0d0d0 100%);box-shadow:inset 0 0 0 1px rgba(255,255,255,0.6);z-index:12"></div>
<div style="position:absolute;left:1129px;top:886.5px;width:0;height:0;border-left:4px solid transparent;border-right:4px solid transparent;border-top:4px solid #000;z-index:12"></div>
<div class="t" style="top:882.69px;font-size:11px;line-height:11px;color:#000;left:1051px;z-index:12;">3/5</div>
<div class="t" style="top:738.69px;font-size:11px;line-height:11px;color:#000;right:443px;transform:scaleX(0.93);transform-origin:right;z-index:12;">Transmission mode</div>
<div style="position:absolute;left:1242px;top:734px;width:81px;height:19px;border:1px solid #707070;border-radius:3px;background:linear-gradient(180deg,#f4f4f4 0%,#ececec 50%,#dddddd 51%,#d0d0d0 100%);box-shadow:inset 0 0 0 1px rgba(255,255,255,0.6);z-index:12"></div>
<div style="position:absolute;left:1312px;top:742.5px;width:0;height:0;border-left:4px solid transparent;border-right:4px solid transparent;border-top:4px solid #000;z-index:12"></div>
<div class="t" style="top:738.69px;font-size:11px;line-height:11px;color:#000;left:1246px;z-index:12;">32K FFT</div>
<div class="t" style="top:762.69px;font-size:11px;line-height:11px;color:#000;right:443px;z-index:12;">Guard interval</div>
<div style="position:absolute;left:1242px;top:758px;width:81px;height:19px;border:1px solid #707070;border-radius:3px;background:linear-gradient(180deg,#f4f4f4 0%,#ececec 50%,#dddddd 51%,#d0d0d0 100%);box-shadow:inset 0 0 0 1px rgba(255,255,255,0.6);z-index:12"></div>
<div style="position:absolute;left:1312px;top:766.5px;width:0;height:0;border-left:4px solid transparent;border-right:4px solid transparent;border-top:4px solid #000;z-index:12"></div>
<div class="t" style="top:762.69px;font-size:11px;line-height:11px;color:#000;left:1246px;z-index:12;">1/16</div>
<div class="t" style="top:786.69px;font-size:11px;line-height:11px;color:#000;right:443px;transform:scaleX(0.93);transform-origin:right;z-index:12;">Hierarchy Alpha</div>
<div style="position:absolute;left:1242px;top:782px;width:81px;height:19px;border:1px solid #c8c8c8;border-radius:2px;background:#f4f4f4;z-index:12"></div>
<div style="position:absolute;left:1312px;top:790.5px;width:0;height:0;border-left:4px solid transparent;border-right:4px solid transparent;border-top:4px solid #a0a0a0;z-index:12"></div>
<div class="t" style="top:786.69px;font-size:11px;line-height:11px;color:#8c8c8c;left:1246px;z-index:12;">None</div>
<div class="t" style="top:810.69px;font-size:11px;line-height:11px;color:#000;right:443px;z-index:12;">Cell ID</div>
<div style="position:absolute;left:1242px;top:806px;width:81px;height:18px;border:1px solid #bcbcbc;border-top-color:#a8a8a8;background:#fff;z-index:12"></div>
<div style="position:absolute;left:1309px;top:808px;width:12px;height:6px;border:1px solid #b8b8b8;background:linear-gradient(180deg,#f6f6f6,#e6e6e6);z-index:12"></div>
<div style="position:absolute;left:1312.5px;top:809.5px;width:0;height:0;border-left:3.5px solid transparent;border-right:3.5px solid transparent;border-bottom:3px solid #4d6bb8;z-index:12"></div>
<div style="position:absolute;left:1309px;top:816px;width:12px;height:6px;border:1px solid #b8b8b8;background:linear-gradient(180deg,#f6f6f6,#e6e6e6);z-index:12"></div>
<div style="position:absolute;left:1312.5px;top:818.5px;width:0;height:0;border-left:3.5px solid transparent;border-right:3.5px solid transparent;border-top:3px solid #4d6bb8;z-index:12"></div>
<div class="t" style="top:810.69px;font-size:11px;line-height:11px;color:#000;left:1246px;z-index:12;">0</div>
<div class="t" style="top:834.69px;font-size:11px;line-height:11px;color:#000;right:443px;z-index:12;">Network ID</div>
<div style="position:absolute;left:1242px;top:830px;width:81px;height:18px;border:1px solid #bcbcbc;border-top-color:#a8a8a8;background:#fff;z-index:12"></div>
<div style="position:absolute;left:1309px;top:832px;width:12px;height:6px;border:1px solid #b8b8b8;background:linear-gradient(180deg,#f6f6f6,#e6e6e6);z-index:12"></div>
<div style="position:absolute;left:1312.5px;top:833.5px;width:0;height:0;border-left:3.5px solid transparent;border-right:3.5px solid transparent;border-bottom:3px solid #4d6bb8;z-index:12"></div>
<div style="position:absolute;left:1309px;top:840px;width:12px;height:6px;border:1px solid #b8b8b8;background:linear-gradient(180deg,#f6f6f6,#e6e6e6);z-index:12"></div>
<div style="position:absolute;left:1312.5px;top:842.5px;width:0;height:0;border-left:3.5px solid transparent;border-right:3.5px solid transparent;border-top:3px solid #4d6bb8;z-index:12"></div>
<div class="t" style="top:834.69px;font-size:11px;line-height:11px;color:#000;left:1246px;z-index:12;">8996</div>
<div class="t" style="top:858.69px;font-size:11px;line-height:11px;color:#000;right:443px;z-index:12;">Extended BW</div>
<div style="position:absolute;left:1242px;top:854px;width:81px;height:19px;border:1px solid #707070;border-radius:3px;background:linear-gradient(180deg,#f4f4f4 0%,#ececec 50%,#dddddd 51%,#d0d0d0 100%);box-shadow:inset 0 0 0 1px rgba(255,255,255,0.6);z-index:12"></div>
<div style="position:absolute;left:1312px;top:862.5px;width:0;height:0;border-left:4px solid transparent;border-right:4px solid transparent;border-top:4px solid #000;z-index:12"></div>
<div class="t" style="top:858.69px;font-size:11px;line-height:11px;color:#000;left:1246px;z-index:12;">No</div>
<div class="t" style="top:882.69px;font-size:11px;line-height:11px;color:#000;right:443px;transform:scaleX(0.93);transform-origin:right;z-index:12;">Physical Layer Pipe</div>
<div style="position:absolute;left:1242px;top:878px;width:81px;height:19px;border:1px solid #c8c8c8;border-radius:2px;background:#f4f4f4;z-index:12"></div>
<div style="position:absolute;left:1312px;top:886.5px;width:0;height:0;border-left:4px solid transparent;border-right:4px solid transparent;border-top:4px solid #a0a0a0;z-index:12"></div>
<div class="t" style="top:882.69px;font-size:11px;line-height:11px;color:#8c8c8c;left:1246px;z-index:12;">PLP 0</div>
<div class="t" style="top:738.69px;font-size:11px;line-height:11px;color:#000;left:1328px;transform:scaleX(0.95);transform-origin:left;z-index:12;">S1 Signaling</div>
<div style="position:absolute;left:1415px;top:734px;width:80px;height:19px;border:1px solid #707070;border-radius:3px;background:linear-gradient(180deg,#f4f4f4 0%,#ececec 50%,#dddddd 51%,#d0d0d0 100%);box-shadow:inset 0 0 0 1px rgba(255,255,255,0.6);z-index:12"></div>
<div style="position:absolute;left:1484px;top:742.5px;width:0;height:0;border-left:4px solid transparent;border-right:4px solid transparent;border-top:4px solid #000;z-index:12"></div>
<div class="t" style="top:738.69px;font-size:11px;line-height:11px;color:#000;left:1419px;z-index:12;">SISO</div>
<div class="t" style="top:762.69px;font-size:11px;line-height:11px;color:#000;left:1328px;transform:scaleX(0.95);transform-origin:left;z-index:12;">Pilot Pattern</div>
<div style="position:absolute;left:1415px;top:758px;width:80px;height:19px;border:1px solid #707070;border-radius:3px;background:linear-gradient(180deg,#f4f4f4 0%,#ececec 50%,#dddddd 51%,#d0d0d0 100%);box-shadow:inset 0 0 0 1px rgba(255,255,255,0.6);z-index:12"></div>
<div style="position:absolute;left:1484px;top:766.5px;width:0;height:0;border-left:4px solid transparent;border-right:4px solid transparent;border-top:4px solid #000;z-index:12"></div>
<div class="t" style="top:762.69px;font-size:11px;line-height:11px;color:#000;left:1419px;z-index:12;">PP4</div>
<div class="t" style="top:786.69px;font-size:11px;line-height:11px;color:#000;left:1328px;transform:scaleX(0.95);transform-origin:left;z-index:12;">Frame Type</div>
<div style="position:absolute;left:1415px;top:782px;width:80px;height:19px;border:1px solid #707070;border-radius:3px;background:linear-gradient(180deg,#f4f4f4 0%,#ececec 50%,#dddddd 51%,#d0d0d0 100%);box-shadow:inset 0 0 0 1px rgba(255,255,255,0.6);z-index:12"></div>
<div style="position:absolute;left:1484px;top:790.5px;width:0;height:0;border-left:4px solid transparent;border-right:4px solid transparent;border-top:4px solid #000;z-index:12"></div>
<div class="t" style="top:786.69px;font-size:11px;line-height:11px;color:#000;left:1419px;z-index:12;">Long</div>
<div class="t" style="top:810.69px;font-size:11px;line-height:11px;color:#000;left:1328px;transform:scaleX(0.95);transform-origin:left;z-index:12;">Payload</div>
<div style="position:absolute;left:1415px;top:806px;width:80px;height:19px;border:1px solid #707070;border-radius:3px;background:linear-gradient(180deg,#f4f4f4 0%,#ececec 50%,#dddddd 51%,#d0d0d0 100%);box-shadow:inset 0 0 0 1px rgba(255,255,255,0.6);z-index:12"></div>
<div style="position:absolute;left:1484px;top:814.5px;width:0;height:0;border-left:4px solid transparent;border-right:4px solid transparent;border-top:4px solid #000;z-index:12"></div>
<div class="t" style="top:810.69px;font-size:11px;line-height:11px;color:#000;left:1419px;z-index:12;">TS</div>
<div class="t" style="top:834.69px;font-size:11px;line-height:11px;color:#000;left:1328px;transform:scaleX(0.95);transform-origin:left;z-index:12;">DVB-T2 Mode</div>
<div style="position:absolute;left:1415px;top:830px;width:80px;height:19px;border:1px solid #707070;border-radius:3px;background:linear-gradient(180deg,#f4f4f4 0%,#ececec 50%,#dddddd 51%,#d0d0d0 100%);box-shadow:inset 0 0 0 1px rgba(255,255,255,0.6);z-index:12"></div>
<div style="position:absolute;left:1484px;top:838.5px;width:0;height:0;border-left:4px solid transparent;border-right:4px solid transparent;border-top:4px solid #000;z-index:12"></div>
<div class="t" style="top:834.69px;font-size:11px;line-height:11px;color:#000;left:1419px;z-index:12;">Base</div>
<div class="t" style="top:858.69px;font-size:11px;line-height:11px;color:#000;left:1328px;transform:scaleX(0.95);transform-origin:left;z-index:12;">DVB-T2 Version</div>
<div style="position:absolute;left:1415px;top:854px;width:80px;height:19px;border:1px solid #707070;border-radius:3px;background:linear-gradient(180deg,#f4f4f4 0%,#ececec 50%,#dddddd 51%,#d0d0d0 100%);box-shadow:inset 0 0 0 1px rgba(255,255,255,0.6);z-index:12"></div>
<div style="position:absolute;left:1484px;top:862.5px;width:0;height:0;border-left:4px solid transparent;border-right:4px solid transparent;border-top:4px solid #000;z-index:12"></div>
<div class="t" style="top:858.69px;font-size:11px;line-height:11px;color:#000;left:1419px;z-index:12;">1.2.1</div>
<div class="t" style="top:882.69px;font-size:11px;line-height:11px;color:#000;left:1352px;transform:scaleX(0.98);transform-origin:left;z-index:12;">Выполнено за 0.987 sec</div>
</body></html>
